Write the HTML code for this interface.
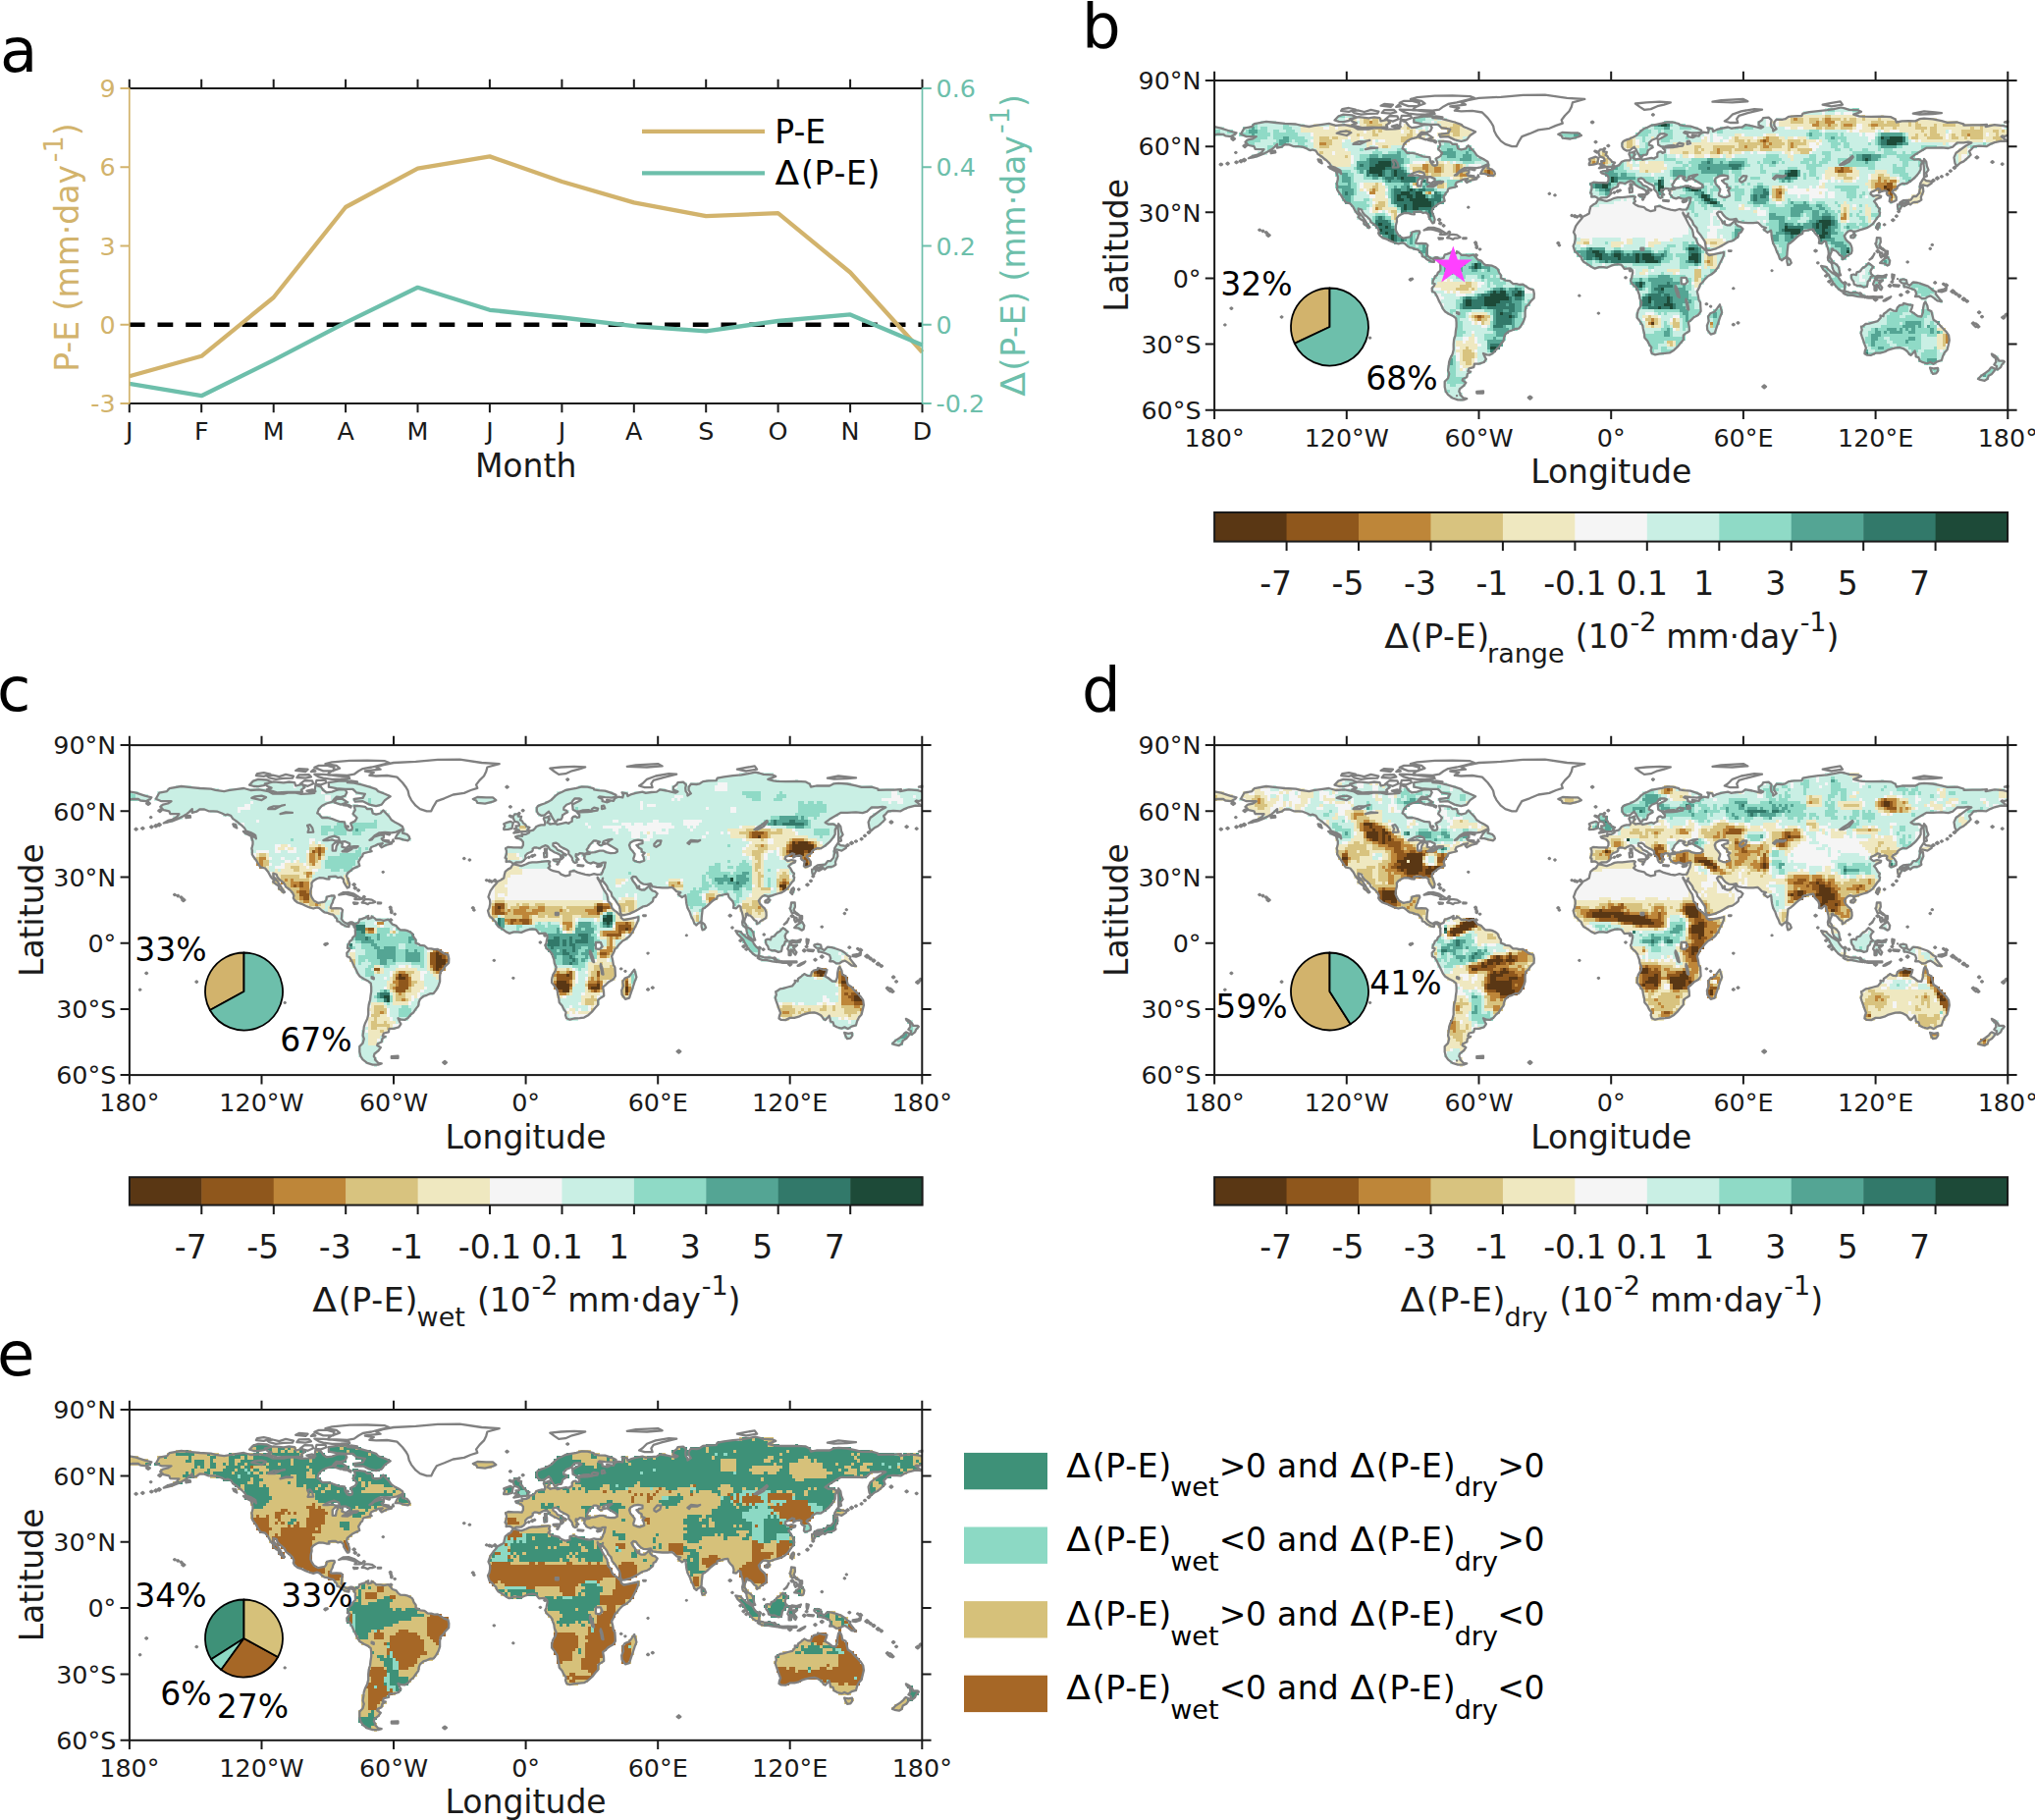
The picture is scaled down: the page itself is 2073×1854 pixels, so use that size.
<!DOCTYPE html>
<html><head><meta charset="utf-8"><title>Figure</title>
<style>html,body{margin:0;padding:0;background:#fff}svg{display:block}text{font-family:'DejaVu Sans','Liberation Sans',sans-serif}</style></head>
<body><svg width="2073" height="1854" viewBox="0 0 2073 1854">
<rect width="2073" height="1854" fill="#fff"/>
<text x="0.0" y="72.5" font-size="62.5" text-anchor="start" fill="#000" >a</text>
<text x="1102.0" y="47.6" font-size="62.5" text-anchor="start" fill="#000" >b</text>
<text x="-3.0" y="724.4" font-size="62.5" text-anchor="start" fill="#000" >c</text>
<text x="1102.0" y="724.4" font-size="62.5" text-anchor="start" fill="#000" >d</text>
<text x="-3.0" y="1401.3" font-size="62.5" text-anchor="start" fill="#000" >e</text>
<line x1="131.8" y1="330.8" x2="939.5" y2="330.8" stroke="#000" stroke-width="4.6" stroke-dasharray="15.8 12.9"/>
<polyline fill="none" stroke="#d2b36c" stroke-width="4.3" stroke-linejoin="round" points="131.8,383.2 205.2,362.8 278.7,303.0 352.1,211.0 425.5,171.7 498.9,159.4 572.4,185.0 645.8,206.4 719.2,220.2 792.6,217.2 866.1,277.5 939.5,358.7"/>
<polyline fill="none" stroke="#6dbfab" stroke-width="4.3" stroke-linejoin="round" points="131.8,390.9 205.2,403.2 278.7,366.9 352.1,328.6 425.5,292.8 498.9,315.8 572.4,323.5 645.8,332.1 719.2,337.3 792.6,327.0 866.1,320.4 939.5,351.6"/>
<path d="M130.8,90.0H940.5M130.8,411.0H940.5" stroke="#1a1a1a" stroke-width="2.0" fill="none"/>
<path d="M131.8,89.0V412.0" stroke="#d2b36c" stroke-width="1.7" fill="none"/>
<path d="M939.5,89.0V412.0" stroke="#6dbfab" stroke-width="1.7" fill="none"/>
<path d="M131.8,90.0v-9.3M131.8,411.0v9.3M205.2,90.0v-9.3M205.2,411.0v9.3M278.7,90.0v-9.3M278.7,411.0v9.3M352.1,90.0v-9.3M352.1,411.0v9.3M425.5,90.0v-9.3M425.5,411.0v9.3M498.9,90.0v-9.3M498.9,411.0v9.3M572.4,90.0v-9.3M572.4,411.0v9.3M645.8,90.0v-9.3M645.8,411.0v9.3M719.2,90.0v-9.3M719.2,411.0v9.3M792.6,90.0v-9.3M792.6,411.0v9.3M866.1,90.0v-9.3M866.1,411.0v9.3M939.5,90.0v-9.3M939.5,411.0v9.3" stroke="#1a1a1a" stroke-width="2.0" fill="none"/>
<path d="M131.8,90.0h-9.3M131.8,170.2h-9.3M131.8,250.5h-9.3M131.8,330.8h-9.3M131.8,411.0h-9.3" stroke="#d2b36c" stroke-width="2.0" fill="none"/>
<path d="M939.5,90.0h9.3M939.5,170.2h9.3M939.5,250.5h9.3M939.5,330.8h9.3M939.5,411.0h9.3" stroke="#6dbfab" stroke-width="2.0" fill="none"/>
<text x="117.7" y="99.2" font-size="25.4" text-anchor="end" fill="#d2b36c" >9</text>
<text x="117.7" y="179.4" font-size="25.4" text-anchor="end" fill="#d2b36c" >6</text>
<text x="117.7" y="259.7" font-size="25.4" text-anchor="end" fill="#d2b36c" >3</text>
<text x="117.7" y="339.9" font-size="25.4" text-anchor="end" fill="#d2b36c" >0</text>
<text x="117.7" y="420.2" font-size="25.4" text-anchor="end" fill="#d2b36c" >-3</text>
<text x="953.6" y="99.2" font-size="25.4" text-anchor="start" fill="#6dbfab" >0.6</text>
<text x="953.6" y="179.4" font-size="25.4" text-anchor="start" fill="#6dbfab" >0.4</text>
<text x="953.6" y="259.7" font-size="25.4" text-anchor="start" fill="#6dbfab" >0.2</text>
<text x="953.6" y="339.9" font-size="25.4" text-anchor="start" fill="#6dbfab" >0</text>
<text x="953.6" y="420.2" font-size="25.4" text-anchor="start" fill="#6dbfab" >-0.2</text>
<text x="131.8" y="448.3" font-size="25.4" text-anchor="middle" fill="#1a1a1a" >J</text>
<text x="205.2" y="448.3" font-size="25.4" text-anchor="middle" fill="#1a1a1a" >F</text>
<text x="278.7" y="448.3" font-size="25.4" text-anchor="middle" fill="#1a1a1a" >M</text>
<text x="352.1" y="448.3" font-size="25.4" text-anchor="middle" fill="#1a1a1a" >A</text>
<text x="425.5" y="448.3" font-size="25.4" text-anchor="middle" fill="#1a1a1a" >M</text>
<text x="498.9" y="448.3" font-size="25.4" text-anchor="middle" fill="#1a1a1a" >J</text>
<text x="572.4" y="448.3" font-size="25.4" text-anchor="middle" fill="#1a1a1a" >J</text>
<text x="645.8" y="448.3" font-size="25.4" text-anchor="middle" fill="#1a1a1a" >A</text>
<text x="719.2" y="448.3" font-size="25.4" text-anchor="middle" fill="#1a1a1a" >S</text>
<text x="792.6" y="448.3" font-size="25.4" text-anchor="middle" fill="#1a1a1a" >O</text>
<text x="866.1" y="448.3" font-size="25.4" text-anchor="middle" fill="#1a1a1a" >N</text>
<text x="939.5" y="448.3" font-size="25.4" text-anchor="middle" fill="#1a1a1a" >D</text>
<text x="535.6" y="485.5" font-size="33.0" text-anchor="middle" fill="#1a1a1a" >Month</text>
<g transform="translate(80.1,251.3) rotate(-90)"><text x="-127.53" y="0.00" font-size="33.0" fill="#d2b36c">P-E (mm·day</text><text x="86.17" y="-16.00" font-size="27.0" fill="#d2b36c">-1</text><text x="113.05" y="0.00" font-size="33.0" fill="#d2b36c">)</text></g>
<g transform="translate(1043.7,250.7) rotate(-90)"><text transform="translate(-153.15,0.00) scale(1.095,1)" font-size="33.0" fill="#6dbfab">Δ</text><text x="-126.70" y="0.00" font-size="33.0" fill="#6dbfab" letter-spacing="0.7">(P-E)</text><text x="-35.80" y="0.00" font-size="33.0" fill="#6dbfab">(mm·day</text><text x="114.75" y="-16.00" font-size="27.0" fill="#6dbfab">-1</text><text x="141.63" y="0.00" font-size="33.0" fill="#6dbfab">)</text></g>
<line x1="654" y1="133.9" x2="779" y2="133.9" stroke="#d2b36c" stroke-width="4.3"/>
<line x1="654" y1="176.3" x2="779" y2="176.3" stroke="#6dbfab" stroke-width="4.3"/>
<text x="789.26" y="145.60" font-size="33.0" fill="#000">P-E</text>
<text transform="translate(789.52,188.00) scale(1.095,1)" font-size="33.0" fill="#000">Δ</text><text x="815.96" y="188.00" font-size="33.0" fill="#000" letter-spacing="0.7">(P-E)</text>
<g transform="translate(1237.1,82) scale(3.15703,3.14812)" shape-rendering="crispEdges" fill="none" stroke-width="1.04">
<path stroke="#5a3714" d="M216,34.5h1M217,35.5h1M141,78.5h1"/>
<path stroke="#8f571c" d="M177,19.5h1M202,28.5h1M88,29.5h1M201,29.5h2M88,30.5h1M217,33.5h2M217,34.5h2M216,35.5h1M218,35.5h1M182,36.5h1M218,36.5h1M218,37.5h1M85,76.5h1"/>
<path stroke="#be8639" d="M187,12.5h1M197,12.5h2M50,13.5h1M194,13.5h1M197,13.5h3M193,14.5h2M198,14.5h1M203,14.5h3M212,14.5h2M243,17.5h1M178,18.5h1M176,19.5h1M178,19.5h1M34,20.5h2M177,20.5h1M179,20.5h1M186,20.5h1M171,21.5h1M177,21.5h2M186,21.5h1M162,22.5h1M162,23.5h1M122,26.5h1M125,26.5h1M67,27.5h2M78,27.5h1M67,28.5h2M71,28.5h2M78,28.5h1M200,28.5h2M203,28.5h2M68,29.5h1M71,29.5h2M78,29.5h2M87,29.5h1M89,29.5h1M200,29.5h1M203,29.5h3M79,30.5h3M89,30.5h1M214,31.5h1M214,32.5h1M216,32.5h1M218,32.5h2M65,33.5h1M213,33.5h4M213,34.5h3M219,34.5h1M51,35.5h1M181,35.5h2M214,35.5h2M50,36.5h2M69,36.5h1M181,36.5h1M217,36.5h1M181,37.5h2M218,38.5h1M52,41.5h1M203,43.5h1M202,44.5h2M159,58.5h1M84,76.5h1M86,76.5h1M85,77.5h1M141,77.5h1M140,78.5h1M160,78.5h1M236,82.5h1M236,83.5h1M236,84.5h1"/>
<path stroke="#d8c37f" d="M197,11.5h2M209,11.5h1M48,12.5h2M51,12.5h2M186,12.5h1M188,12.5h2M192,12.5h3M196,12.5h1M199,12.5h3M203,12.5h1M205,12.5h2M209,12.5h1M214,12.5h1M48,13.5h2M51,13.5h2M56,13.5h1M186,13.5h4M192,13.5h2M195,13.5h2M202,13.5h5M212,13.5h4M217,13.5h4M224,13.5h1M226,13.5h1M49,14.5h5M55,14.5h1M77,14.5h3M195,14.5h3M199,14.5h2M202,14.5h1M206,14.5h1M211,14.5h1M214,14.5h7M224,14.5h1M226,14.5h2M232,14.5h1M235,14.5h4M247,14.5h1M50,15.5h1M52,15.5h2M62,15.5h1M73,15.5h2M76,15.5h3M194,15.5h2M197,15.5h3M202,15.5h4M212,15.5h1M215,15.5h1M219,15.5h1M226,15.5h4M231,15.5h2M244,15.5h1M247,15.5h1M42,16.5h2M51,16.5h1M53,16.5h1M63,16.5h1M75,16.5h4M228,16.5h1M231,16.5h2M241,16.5h7M251,16.5h2M254,16.5h1M46,17.5h1M51,17.5h2M62,17.5h2M73,17.5h3M77,17.5h2M226,17.5h1M229,17.5h1M231,17.5h3M238,17.5h1M241,17.5h2M244,17.5h4M252,17.5h1M34,18.5h3M38,18.5h2M60,18.5h4M168,18.5h1M177,18.5h1M179,18.5h3M225,18.5h2M230,18.5h5M238,18.5h2M242,18.5h1M244,18.5h4M251,18.5h3M34,19.5h4M60,19.5h3M133,19.5h2M168,19.5h3M172,19.5h1M175,19.5h1M179,19.5h4M185,19.5h4M190,19.5h1M252,19.5h2M36,20.5h2M61,20.5h1M133,20.5h2M169,20.5h8M178,20.5h1M180,20.5h4M185,20.5h1M187,20.5h4M34,21.5h3M54,21.5h2M133,21.5h2M155,21.5h2M161,21.5h7M169,21.5h2M172,21.5h3M176,21.5h1M179,21.5h4M185,21.5h1M187,21.5h1M155,22.5h1M157,22.5h1M161,22.5h1M163,22.5h4M168,22.5h6M176,22.5h4M185,22.5h1M188,22.5h5M34,23.5h1M125,23.5h1M151,23.5h2M155,23.5h2M160,23.5h2M163,23.5h1M166,23.5h1M189,23.5h3M42,24.5h1M124,24.5h2M121,25.5h2M126,25.5h1M121,26.5h1M123,26.5h1M126,26.5h1M69,27.5h5M77,27.5h1M79,27.5h1M125,27.5h1M64,28.5h3M69,28.5h2M73,28.5h1M77,28.5h1M79,28.5h1M87,28.5h2M205,28.5h1M64,29.5h4M69,29.5h2M73,29.5h1M77,29.5h1M80,29.5h2M86,29.5h1M139,29.5h1M68,30.5h1M70,30.5h3M78,30.5h1M201,30.5h3M214,30.5h2M79,31.5h1M83,31.5h1M203,31.5h3M215,31.5h3M212,32.5h2M215,32.5h1M217,32.5h1M52,33.5h1M64,33.5h1M72,33.5h2M212,33.5h1M219,33.5h1M51,34.5h2M72,34.5h2M182,34.5h1M212,34.5h1M50,35.5h1M52,35.5h1M180,35.5h1M183,35.5h1M213,35.5h1M219,35.5h1M68,36.5h1M180,36.5h1M183,36.5h1M227,36.5h1M180,37.5h1M219,37.5h1M181,38.5h2M53,39.5h2M52,40.5h3M53,41.5h1M203,41.5h1M57,42.5h2M203,42.5h1M58,43.5h1M202,43.5h1M58,44.5h1M119,52.5h2M158,52.5h1M160,52.5h2M159,56.5h2M159,57.5h2M158,58.5h1M160,58.5h1M159,59.5h2M155,61.5h2M155,62.5h2M155,63.5h2M155,64.5h1M81,65.5h2M79,66.5h4M78,67.5h4M83,67.5h1M83,76.5h1M87,76.5h2M140,76.5h1M84,77.5h1M86,77.5h2M139,77.5h2M142,77.5h1M148,77.5h1M86,78.5h1M142,78.5h1M148,78.5h2M141,79.5h1M148,79.5h2M160,79.5h1M235,80.5h1M235,82.5h1M235,83.5h1M146,84.5h2M235,84.5h1M147,85.5h1M235,85.5h1M81,86.5h1M80,87.5h3M80,88.5h4M80,89.5h4M80,90.5h3M81,91.5h2"/>
<path stroke="#efe8c0" d="M186,11.5h11M199,11.5h8M208,11.5h1M215,11.5h1M43,12.5h3M47,12.5h1M50,12.5h1M53,12.5h1M71,12.5h1M184,12.5h2M190,12.5h2M195,12.5h1M202,12.5h1M204,12.5h1M207,12.5h2M210,12.5h4M215,12.5h5M227,12.5h6M45,13.5h1M47,13.5h1M53,13.5h3M72,13.5h6M180,13.5h1M182,13.5h4M190,13.5h2M200,13.5h2M207,13.5h5M216,13.5h1M221,13.5h3M225,13.5h1M227,13.5h13M32,14.5h2M37,14.5h2M40,14.5h1M42,14.5h4M47,14.5h2M54,14.5h1M61,14.5h2M73,14.5h4M179,14.5h1M182,14.5h11M201,14.5h1M209,14.5h2M221,14.5h3M225,14.5h1M228,14.5h4M233,14.5h2M239,14.5h8M248,14.5h1M250,14.5h2M28,15.5h7M37,15.5h2M40,15.5h6M51,15.5h1M54,15.5h1M58,15.5h1M60,15.5h2M63,15.5h2M75,15.5h1M79,15.5h2M186,15.5h2M190,15.5h4M196,15.5h1M200,15.5h2M206,15.5h1M209,15.5h3M213,15.5h2M216,15.5h3M220,15.5h6M230,15.5h1M233,15.5h11M245,15.5h2M248,15.5h6M28,16.5h14M44,16.5h4M49,16.5h2M52,16.5h1M54,16.5h6M61,16.5h2M64,16.5h1M66,16.5h2M79,16.5h4M205,16.5h1M208,16.5h5M216,16.5h2M221,16.5h7M229,16.5h2M233,16.5h3M238,16.5h3M248,16.5h3M253,16.5h1M255,16.5h1M32,17.5h14M47,17.5h4M53,17.5h9M64,17.5h2M67,17.5h1M72,17.5h1M76,17.5h1M79,17.5h4M168,17.5h2M178,17.5h3M224,17.5h2M227,17.5h2M230,17.5h1M234,17.5h2M237,17.5h1M239,17.5h2M248,17.5h1M250,17.5h2M253,17.5h3M32,18.5h2M37,18.5h1M40,18.5h3M44,18.5h3M48,18.5h12M64,18.5h4M69,18.5h2M76,18.5h4M134,18.5h2M141,18.5h1M158,18.5h1M167,18.5h1M169,18.5h5M175,18.5h2M182,18.5h2M185,18.5h2M188,18.5h3M224,18.5h1M227,18.5h3M235,18.5h1M237,18.5h1M240,18.5h2M243,18.5h1M248,18.5h3M254,18.5h1M32,19.5h2M38,19.5h3M44,19.5h3M49,19.5h2M55,19.5h5M73,19.5h1M132,19.5h1M135,19.5h1M157,19.5h2M166,19.5h2M171,19.5h1M173,19.5h2M183,19.5h2M189,19.5h1M191,19.5h3M195,19.5h1M226,19.5h1M228,19.5h20M249,19.5h3M254,19.5h1M32,20.5h2M38,20.5h3M49,20.5h2M52,20.5h9M132,20.5h1M135,20.5h1M148,20.5h5M154,20.5h15M184,20.5h1M191,20.5h1M194,20.5h1M235,20.5h1M32,21.5h2M37,21.5h4M49,21.5h1M53,21.5h1M56,21.5h1M132,21.5h1M135,21.5h2M149,21.5h6M157,21.5h4M168,21.5h1M175,21.5h1M183,21.5h2M188,21.5h4M242,21.5h1M33,22.5h9M125,22.5h1M133,22.5h1M147,22.5h8M156,22.5h1M158,22.5h3M167,22.5h1M174,22.5h2M180,22.5h5M186,22.5h2M240,22.5h3M33,23.5h1M35,23.5h3M39,23.5h5M124,23.5h1M126,23.5h1M147,23.5h4M153,23.5h2M157,23.5h3M164,23.5h2M167,23.5h3M184,23.5h2M187,23.5h2M239,23.5h4M34,24.5h8M43,24.5h1M126,24.5h1M151,24.5h2M155,24.5h3M160,24.5h3M165,24.5h2M185,24.5h2M240,24.5h1M35,25.5h9M123,25.5h1M127,25.5h1M186,25.5h1M240,25.5h1M37,26.5h7M68,26.5h2M72,26.5h2M75,26.5h1M127,26.5h1M133,26.5h1M137,26.5h2M140,26.5h5M240,26.5h1M38,27.5h6M63,27.5h4M74,27.5h3M80,27.5h1M126,27.5h1M133,27.5h2M137,27.5h8M63,28.5h1M74,28.5h3M80,28.5h1M134,28.5h1M137,28.5h9M198,28.5h2M206,28.5h1M74,29.5h3M137,29.5h2M140,29.5h4M197,29.5h3M206,29.5h2M213,29.5h4M69,30.5h1M73,30.5h5M90,30.5h1M197,30.5h4M204,30.5h4M212,30.5h2M216,30.5h2M77,31.5h2M80,31.5h3M84,31.5h1M197,31.5h2M200,31.5h3M206,31.5h1M212,31.5h2M218,31.5h2M203,32.5h3M211,32.5h1M220,32.5h1M228,32.5h3M48,33.5h4M53,33.5h1M74,33.5h1M196,33.5h1M210,33.5h2M228,33.5h3M48,34.5h3M53,34.5h2M65,34.5h1M74,34.5h1M180,34.5h2M183,34.5h1M195,34.5h2M211,34.5h1M47,35.5h1M49,35.5h1M53,35.5h2M147,35.5h1M184,35.5h1M191,35.5h1M212,35.5h1M227,35.5h2M52,36.5h3M195,36.5h1M228,36.5h1M52,37.5h3M183,37.5h1M213,37.5h2M225,37.5h3M51,38.5h5M180,38.5h1M183,38.5h1M219,38.5h1M224,38.5h4M52,39.5h1M55,39.5h1M203,39.5h1M224,39.5h3M51,40.5h1M55,40.5h1M170,40.5h1M202,40.5h3M210,40.5h1M51,41.5h1M54,41.5h5M169,41.5h2M202,41.5h1M204,41.5h1M206,41.5h1M210,41.5h2M51,42.5h2M56,42.5h1M174,42.5h1M202,42.5h1M204,42.5h1M210,42.5h2M57,43.5h1M204,43.5h1M210,43.5h2M57,44.5h1M204,44.5h1M211,44.5h1M58,45.5h1M202,45.5h2M211,45.5h1M118,51.5h3M133,51.5h2M142,51.5h1M147,51.5h1M158,51.5h6M117,52.5h2M128,52.5h4M133,52.5h2M140,52.5h4M159,52.5h1M162,52.5h3M128,53.5h3M140,53.5h2M160,53.5h4M158,56.5h1M161,56.5h1M158,57.5h1M161,57.5h1M161,58.5h1M158,59.5h1M161,59.5h1M158,60.5h1M160,60.5h2M138,61.5h2M146,61.5h4M137,62.5h2M148,62.5h1M73,64.5h1M75,64.5h1M156,64.5h1M72,65.5h9M83,65.5h2M155,65.5h2M71,66.5h8M83,66.5h2M155,66.5h1M73,67.5h5M82,67.5h1M84,67.5h1M75,68.5h1M77,68.5h1M79,68.5h4M83,75.5h5M82,76.5h1M138,76.5h2M141,76.5h2M83,77.5h1M88,77.5h1M143,77.5h1M149,77.5h1M84,78.5h1M87,78.5h2M139,78.5h1M143,78.5h1M147,78.5h1M139,79.5h2M142,79.5h2M234,79.5h1M149,80.5h1M233,80.5h2M235,81.5h1M83,82.5h1M233,82.5h2M82,83.5h2M233,83.5h2M78,84.5h2M81,84.5h3M148,84.5h1M233,84.5h2M78,85.5h7M146,85.5h1M148,85.5h1M233,85.5h2M79,86.5h2M82,86.5h3M233,86.5h3M78,87.5h2M83,87.5h1M79,88.5h1M84,88.5h1M79,89.5h1M84,89.5h1M79,90.5h1M83,90.5h1M79,91.5h2M83,91.5h1M80,92.5h4M79,93.5h1"/>
<path stroke="#f5f5f5" d="M196,10.5h1M200,10.5h2M203,10.5h3M207,11.5h1M42,12.5h1M46,12.5h1M73,12.5h1M178,12.5h2M183,12.5h1M60,13.5h2M70,13.5h1M178,13.5h2M181,13.5h1M39,14.5h1M41,14.5h1M46,14.5h1M60,14.5h1M178,14.5h1M181,14.5h1M207,14.5h2M252,14.5h2M35,15.5h2M39,15.5h1M59,15.5h1M67,15.5h1M69,15.5h1M81,15.5h1M184,15.5h2M188,15.5h2M207,15.5h2M254,15.5h1M48,16.5h1M60,16.5h1M65,16.5h1M69,16.5h1M83,16.5h1M196,16.5h1M204,16.5h1M206,16.5h2M213,16.5h1M215,16.5h1M218,16.5h3M237,16.5h1M31,17.5h1M158,17.5h2M161,17.5h1M170,17.5h1M177,17.5h1M181,17.5h1M208,17.5h1M210,17.5h3M236,17.5h1M249,17.5h1M43,18.5h1M47,18.5h1M68,18.5h1M157,18.5h1M159,18.5h1M161,18.5h3M166,18.5h1M174,18.5h1M187,18.5h1M211,18.5h2M236,18.5h1M31,19.5h1M41,19.5h1M51,19.5h1M53,19.5h2M136,19.5h1M159,19.5h1M161,19.5h2M164,19.5h2M194,19.5h1M211,19.5h1M225,19.5h1M227,19.5h1M248,19.5h1M255,19.5h1M51,20.5h1M136,20.5h1M153,20.5h1M192,20.5h2M195,20.5h1M237,20.5h2M52,21.5h1M131,21.5h1M146,21.5h3M192,21.5h3M42,22.5h1M124,22.5h1M132,22.5h1M146,22.5h1M193,22.5h1M243,22.5h1M38,23.5h1M146,23.5h1M170,23.5h1M173,23.5h1M175,23.5h3M183,23.5h1M186,23.5h1M192,23.5h1M44,24.5h1M149,24.5h1M153,24.5h2M158,24.5h2M163,24.5h1M167,24.5h1M241,24.5h2M44,25.5h1M241,25.5h1M44,26.5h1M64,26.5h4M74,26.5h1M77,26.5h1M134,26.5h1M136,26.5h1M139,26.5h1M62,27.5h1M82,27.5h4M145,27.5h1M135,28.5h2M63,29.5h1M144,29.5h1M65,30.5h1M141,30.5h1M196,30.5h1M211,30.5h1M76,31.5h1M196,31.5h1M199,31.5h1M207,31.5h1M211,31.5h1M220,31.5h1M147,32.5h1M195,32.5h3M199,32.5h1M201,32.5h1M206,32.5h1M47,33.5h1M54,33.5h1M195,33.5h1M220,33.5h1M47,34.5h1M64,34.5h1M184,34.5h1M187,34.5h1M192,34.5h1M194,34.5h1M220,34.5h1M48,35.5h1M55,35.5h1M146,35.5h1M185,35.5h6M192,35.5h6M211,35.5h1M49,36.5h1M147,36.5h1M185,36.5h10M196,36.5h1M198,36.5h2M50,37.5h2M55,37.5h1M133,37.5h1M179,37.5h1M188,37.5h1M192,37.5h5M198,37.5h2M210,37.5h1M131,38.5h1M133,38.5h2M192,38.5h1M213,38.5h1M51,39.5h1M129,39.5h6M181,39.5h2M124,40.5h13M169,40.5h1M206,40.5h1M50,41.5h1M121,41.5h18M142,41.5h5M171,41.5h2M175,41.5h1M50,42.5h1M53,42.5h1M55,42.5h1M121,42.5h31M161,42.5h2M175,42.5h3M56,43.5h1M59,43.5h1M120,43.5h33M160,43.5h3M175,43.5h3M118,44.5h34M160,44.5h1M162,44.5h1M118,45.5h35M160,45.5h1M163,45.5h1M175,45.5h1M177,45.5h1M204,45.5h1M212,45.5h1M117,46.5h36M160,46.5h1M163,46.5h1M116,47.5h37M159,47.5h5M116,48.5h37M160,48.5h2M116,49.5h37M159,49.5h3M117,50.5h34M159,50.5h3M163,50.5h1M121,51.5h1M131,51.5h2M139,51.5h3M143,51.5h4M164,51.5h1M121,52.5h1M132,52.5h1M139,52.5h1M165,52.5h1M118,53.5h2M131,53.5h1M139,53.5h1M158,53.5h2M125,59.5h1M156,60.5h1M135,61.5h1M141,61.5h1M209,61.5h1M135,62.5h1M139,62.5h1M149,62.5h1M208,62.5h2M208,63.5h1M74,64.5h1M76,64.5h1M83,64.5h1M208,64.5h2M85,65.5h2M154,65.5h1M206,65.5h1M85,66.5h1M71,67.5h2M100,67.5h2M155,67.5h1M74,68.5h1M76,68.5h1M78,68.5h1M83,68.5h1M100,68.5h3M72,69.5h1M78,69.5h3M72,70.5h2M72,71.5h1M73,72.5h1M82,75.5h1M139,75.5h3M143,76.5h1M148,76.5h2M82,77.5h1M138,77.5h1M147,77.5h1M83,78.5h1M85,78.5h1M86,79.5h2M233,79.5h1M148,80.5h1M83,81.5h1M80,83.5h2M84,83.5h1M80,84.5h1M84,84.5h1M85,85.5h1M236,85.5h1M78,86.5h1M84,87.5h1M234,87.5h1M78,88.5h1M78,89.5h1M78,90.5h1M84,90.5h1M84,91.5h1M79,92.5h1M80,93.5h1M79,99.5h1"/>
<path stroke="#c9efe4" d="M197,9.5h1M200,9.5h6M190,10.5h6M197,10.5h3M202,10.5h1M206,10.5h2M42,11.5h3M69,11.5h2M39,12.5h3M68,12.5h3M72,12.5h1M74,12.5h1M177,12.5h1M181,12.5h2M15,13.5h5M41,13.5h1M46,13.5h1M64,13.5h1M67,13.5h3M71,13.5h1M147,13.5h2M175,13.5h3M14,14.5h8M24,14.5h5M34,14.5h3M67,14.5h3M72,14.5h1M148,14.5h2M172,14.5h1M175,14.5h3M180,14.5h1M254,14.5h1M0,15.5h3M10,15.5h1M14,15.5h1M17,15.5h5M25,15.5h3M65,15.5h2M68,15.5h1M138,15.5h1M140,15.5h2M147,15.5h3M154,15.5h2M159,15.5h2M164,15.5h4M169,15.5h1M174,15.5h6M181,15.5h3M255,15.5h1M2,16.5h2M9,16.5h1M17,16.5h2M21,16.5h2M26,16.5h2M68,16.5h1M141,16.5h2M144,16.5h1M148,16.5h9M159,16.5h3M164,16.5h28M195,16.5h1M197,16.5h7M214,16.5h1M236,16.5h1M0,17.5h7M18,17.5h1M27,17.5h4M68,17.5h1M111,17.5h1M140,17.5h4M148,17.5h5M156,17.5h2M160,17.5h1M162,17.5h6M171,17.5h6M182,17.5h9M196,17.5h1M201,17.5h1M203,17.5h5M209,17.5h1M213,17.5h1M223,17.5h1M17,18.5h2M29,18.5h3M80,18.5h2M112,18.5h1M136,18.5h2M139,18.5h2M142,18.5h1M148,18.5h4M153,18.5h4M160,18.5h1M164,18.5h2M184,18.5h1M191,18.5h1M195,18.5h2M204,18.5h7M15,19.5h5M25,19.5h1M30,19.5h1M42,19.5h2M47,19.5h2M52,19.5h1M72,19.5h1M78,19.5h3M137,19.5h1M139,19.5h2M143,19.5h1M147,19.5h10M160,19.5h1M163,19.5h1M196,19.5h2M201,19.5h1M204,19.5h7M212,19.5h1M224,19.5h1M13,20.5h6M24,20.5h3M29,20.5h3M41,20.5h8M73,20.5h1M76,20.5h2M131,20.5h1M137,20.5h2M143,20.5h5M196,20.5h3M202,20.5h1M205,20.5h6M212,20.5h1M224,20.5h11M236,20.5h1M239,20.5h1M243,20.5h5M249,20.5h2M13,21.5h4M19,21.5h1M26,21.5h2M30,21.5h2M41,21.5h8M50,21.5h2M57,21.5h4M137,21.5h2M140,21.5h2M144,21.5h1M195,21.5h4M201,21.5h2M205,21.5h9M222,21.5h6M233,21.5h5M243,21.5h1M16,22.5h1M30,22.5h3M43,22.5h4M48,22.5h4M53,22.5h6M72,22.5h1M136,22.5h1M145,22.5h1M194,22.5h6M202,22.5h3M206,22.5h3M211,22.5h3M215,22.5h1M219,22.5h9M14,23.5h3M44,23.5h7M54,23.5h2M63,23.5h2M134,23.5h3M143,23.5h3M171,23.5h2M174,23.5h1M178,23.5h5M193,23.5h3M199,23.5h7M213,23.5h3M220,23.5h2M223,23.5h2M243,23.5h1M12,24.5h2M45,24.5h2M62,24.5h3M67,24.5h1M143,24.5h2M146,24.5h3M150,24.5h1M164,24.5h1M168,24.5h10M182,24.5h3M187,24.5h5M194,24.5h3M199,24.5h6M217,24.5h3M239,24.5h1M243,24.5h1M45,25.5h2M63,25.5h7M71,25.5h2M86,25.5h1M134,25.5h1M138,25.5h7M149,25.5h5M165,25.5h2M172,25.5h5M183,25.5h3M187,25.5h3M194,25.5h2M199,25.5h2M215,25.5h6M239,25.5h1M242,25.5h1M45,26.5h1M63,26.5h1M76,26.5h1M78,26.5h2M84,26.5h4M128,26.5h1M132,26.5h1M135,26.5h1M145,26.5h4M151,26.5h2M172,26.5h3M176,26.5h1M182,26.5h1M184,26.5h5M192,26.5h1M194,26.5h1M198,26.5h3M202,26.5h1M213,26.5h9M224,26.5h3M239,26.5h1M37,27.5h1M44,27.5h2M61,27.5h1M81,27.5h1M86,27.5h3M127,27.5h2M132,27.5h1M135,27.5h2M146,27.5h5M153,27.5h1M173,27.5h3M177,27.5h2M181,27.5h10M196,27.5h7M213,27.5h6M220,27.5h2M224,27.5h3M229,27.5h1M239,27.5h1M37,28.5h8M62,28.5h1M132,28.5h2M146,28.5h2M152,28.5h1M171,28.5h5M177,28.5h8M188,28.5h3M194,28.5h4M207,28.5h4M213,28.5h6M223,28.5h5M229,28.5h1M39,29.5h1M44,29.5h2M62,29.5h1M133,29.5h4M145,29.5h2M166,29.5h1M170,29.5h6M178,29.5h4M189,29.5h3M194,29.5h3M208,29.5h5M217,29.5h2M223,29.5h5M229,29.5h1M45,30.5h3M136,30.5h5M142,30.5h5M166,30.5h2M170,30.5h10M189,30.5h1M191,30.5h1M194,30.5h2M208,30.5h3M218,30.5h3M224,30.5h3M229,30.5h1M45,31.5h3M68,31.5h1M70,31.5h6M142,31.5h1M145,31.5h3M161,31.5h1M166,31.5h2M169,31.5h4M176,31.5h5M188,31.5h2M191,31.5h3M195,31.5h1M208,31.5h3M221,31.5h1M225,31.5h1M45,32.5h9M73,32.5h2M145,32.5h2M148,32.5h1M152,32.5h1M164,32.5h4M169,32.5h13M187,32.5h8M198,32.5h1M200,32.5h1M202,32.5h1M207,32.5h4M221,32.5h2M46,33.5h1M63,33.5h1M71,33.5h1M132,33.5h1M140,33.5h2M145,33.5h3M158,33.5h2M161,33.5h1M165,33.5h5M171,33.5h1M173,33.5h2M177,33.5h18M197,33.5h13M221,33.5h1M46,34.5h1M55,34.5h1M66,34.5h1M71,34.5h1M129,34.5h1M139,34.5h1M145,34.5h4M159,34.5h2M167,34.5h1M169,34.5h5M179,34.5h1M185,34.5h2M188,34.5h4M193,34.5h1M197,34.5h3M208,34.5h3M227,34.5h2M46,35.5h1M72,35.5h3M121,35.5h2M134,35.5h1M139,35.5h2M148,35.5h3M159,35.5h1M171,35.5h2M179,35.5h1M198,35.5h4M207,35.5h4M46,36.5h3M55,36.5h1M70,36.5h1M121,36.5h3M139,36.5h1M148,36.5h4M159,36.5h1M161,36.5h2M166,36.5h2M171,36.5h2M179,36.5h1M184,36.5h1M197,36.5h1M200,36.5h4M207,36.5h2M210,36.5h2M45,37.5h5M122,37.5h4M134,37.5h2M138,37.5h1M143,37.5h2M148,37.5h2M161,37.5h3M165,37.5h3M170,37.5h3M184,37.5h4M189,37.5h3M197,37.5h1M200,37.5h4M207,37.5h1M209,37.5h1M211,37.5h2M45,38.5h3M50,38.5h1M56,38.5h1M124,38.5h1M128,38.5h3M132,38.5h1M135,38.5h1M154,38.5h1M162,38.5h2M165,38.5h3M170,38.5h3M179,38.5h1M184,38.5h1M186,38.5h6M193,38.5h12M206,38.5h7M49,39.5h2M56,39.5h1M123,39.5h6M135,39.5h1M155,39.5h1M163,39.5h9M179,39.5h2M183,39.5h2M192,39.5h2M197,39.5h3M201,39.5h2M204,39.5h9M218,39.5h1M223,39.5h1M50,40.5h1M56,40.5h2M122,40.5h2M143,40.5h1M155,40.5h2M159,40.5h1M164,40.5h5M171,40.5h3M176,40.5h1M181,40.5h3M198,40.5h3M205,40.5h1M207,40.5h1M209,40.5h1M211,40.5h2M222,40.5h1M49,41.5h1M152,41.5h1M155,41.5h3M159,41.5h4M165,41.5h4M173,41.5h2M176,41.5h3M199,41.5h3M205,41.5h1M207,41.5h3M212,41.5h2M45,42.5h1M48,42.5h2M54,42.5h1M59,42.5h1M152,42.5h2M155,42.5h6M163,42.5h11M178,42.5h1M200,42.5h1M205,42.5h3M209,42.5h1M212,42.5h2M46,43.5h6M55,43.5h1M153,43.5h2M156,43.5h4M164,43.5h11M178,43.5h1M190,43.5h1M201,43.5h1M206,43.5h1M208,43.5h2M46,44.5h2M49,44.5h2M153,44.5h7M161,44.5h1M165,44.5h14M185,44.5h1M189,44.5h3M201,44.5h1M205,44.5h3M210,44.5h1M212,44.5h1M48,45.5h1M57,45.5h1M154,45.5h6M161,45.5h2M164,45.5h1M169,45.5h1M171,45.5h4M176,45.5h1M178,45.5h1M188,45.5h3M201,45.5h1M205,45.5h4M210,45.5h1M58,46.5h1M154,46.5h6M161,46.5h2M164,46.5h1M166,46.5h3M176,46.5h2M202,46.5h2M207,46.5h1M211,46.5h2M153,47.5h1M155,47.5h4M164,47.5h4M177,47.5h2M202,47.5h1M208,47.5h1M153,48.5h1M156,48.5h4M162,48.5h6M177,48.5h2M202,48.5h2M206,48.5h2M153,49.5h2M156,49.5h3M162,49.5h5M203,49.5h1M206,49.5h1M65,50.5h1M116,50.5h1M151,50.5h4M157,50.5h2M162,50.5h1M164,50.5h3M203,50.5h1M205,50.5h2M116,51.5h2M122,51.5h9M135,51.5h4M148,51.5h8M165,51.5h2M214,51.5h1M61,52.5h1M116,52.5h1M122,52.5h4M127,52.5h1M135,52.5h4M144,52.5h7M153,52.5h1M155,52.5h1M213,52.5h2M65,53.5h1M116,53.5h2M120,53.5h8M132,53.5h7M142,53.5h4M149,53.5h2M181,53.5h1M197,53.5h2M205,53.5h1M213,53.5h2M117,54.5h1M126,54.5h3M131,54.5h6M141,54.5h4M147,54.5h4M157,54.5h1M160,54.5h2M181,54.5h2M76,55.5h1M78,55.5h1M142,55.5h1M147,55.5h5M158,55.5h1M164,55.5h1M182,55.5h1M74,56.5h7M148,56.5h1M157,56.5h1M162,56.5h3M70,57.5h6M77,57.5h2M148,57.5h2M157,57.5h1M162,57.5h2M70,58.5h1M72,58.5h6M119,58.5h1M122,58.5h1M147,58.5h3M157,58.5h1M162,58.5h2M185,58.5h1M198,58.5h1M76,59.5h1M122,59.5h3M126,59.5h3M130,59.5h5M144,59.5h6M157,59.5h1M162,59.5h1M185,59.5h1M199,59.5h2M122,60.5h5M133,60.5h7M142,60.5h8M153,60.5h3M157,60.5h1M159,60.5h1M162,60.5h1M199,60.5h3M210,60.5h2M86,61.5h1M136,61.5h2M140,61.5h1M142,61.5h4M150,61.5h5M157,61.5h3M198,61.5h1M200,61.5h2M208,61.5h1M210,61.5h2M136,62.5h1M140,62.5h4M145,62.5h3M150,62.5h5M157,62.5h3M198,62.5h3M207,62.5h1M210,62.5h1M72,63.5h2M75,63.5h3M81,63.5h4M89,63.5h1M91,63.5h2M135,63.5h5M152,63.5h3M157,63.5h1M198,63.5h2M205,63.5h3M209,63.5h3M213,63.5h1M71,64.5h2M77,64.5h6M84,64.5h2M87,64.5h1M92,64.5h1M154,64.5h1M206,64.5h2M210,64.5h1M213,64.5h1M221,64.5h2M71,65.5h1M87,65.5h1M89,65.5h1M94,65.5h2M152,65.5h1M157,65.5h1M207,65.5h4M214,65.5h1M222,65.5h2M227,65.5h1M86,66.5h2M89,66.5h2M93,66.5h4M100,66.5h1M154,66.5h1M156,66.5h1M207,66.5h1M222,66.5h3M70,67.5h1M85,67.5h4M102,67.5h1M139,67.5h1M154,67.5h1M202,67.5h2M226,67.5h1M70,68.5h4M84,68.5h3M137,68.5h3M153,68.5h3M204,68.5h1M232,68.5h1M71,69.5h1M73,69.5h5M81,69.5h3M100,69.5h3M137,69.5h1M154,69.5h2M208,69.5h2M227,69.5h1M231,69.5h2M74,70.5h5M100,70.5h3M228,70.5h2M232,70.5h2M73,71.5h5M100,71.5h1M155,71.5h2M229,71.5h1M234,71.5h1M74,72.5h4M155,72.5h2M229,72.5h1M73,73.5h5M155,73.5h2M162,73.5h2M224,73.5h1M229,73.5h1M74,74.5h2M78,74.5h1M83,74.5h4M137,74.5h5M217,74.5h3M224,74.5h1M75,75.5h1M77,75.5h2M81,75.5h1M88,75.5h1M99,75.5h1M136,75.5h3M142,75.5h1M144,75.5h1M146,75.5h4M156,75.5h1M216,75.5h2M222,75.5h3M231,75.5h1M77,76.5h1M81,76.5h1M89,76.5h1M99,76.5h1M136,76.5h2M144,76.5h4M215,76.5h2M221,76.5h2M230,76.5h2M79,77.5h3M89,77.5h1M137,77.5h1M144,77.5h3M150,77.5h1M159,77.5h2M214,77.5h3M229,77.5h3M80,78.5h3M99,78.5h1M138,78.5h1M144,78.5h1M146,78.5h1M150,78.5h1M159,78.5h1M211,78.5h6M221,78.5h1M229,78.5h2M232,78.5h1M80,79.5h6M88,79.5h1M138,79.5h1M144,79.5h1M147,79.5h1M150,79.5h1M159,79.5h1M210,79.5h5M229,79.5h1M80,80.5h8M138,80.5h6M150,80.5h1M152,80.5h1M159,80.5h3M209,80.5h3M81,81.5h2M84,81.5h6M138,81.5h4M148,81.5h5M159,81.5h3M208,81.5h3M80,82.5h3M84,82.5h3M148,82.5h3M209,82.5h2M228,82.5h2M77,83.5h3M85,83.5h2M209,83.5h1M216,83.5h2M228,83.5h5M77,84.5h1M85,84.5h3M145,84.5h1M209,84.5h1M217,84.5h2M228,84.5h5M77,85.5h1M86,85.5h2M143,85.5h3M210,85.5h1M218,85.5h2M228,85.5h5M77,86.5h1M85,86.5h3M143,86.5h1M146,86.5h3M210,86.5h2M219,86.5h5M228,86.5h4M236,86.5h1M77,87.5h1M85,87.5h3M142,87.5h2M211,87.5h2M223,87.5h2M227,87.5h2M233,87.5h1M235,87.5h1M77,88.5h1M85,88.5h5M141,88.5h4M226,88.5h2M233,88.5h3M85,89.5h2M226,89.5h2M233,89.5h2M251,89.5h2M85,90.5h3M233,90.5h2M252,90.5h1M78,91.5h1M85,91.5h1M232,91.5h1M252,91.5h3M75,92.5h1M78,92.5h1M252,92.5h2M75,93.5h1M78,93.5h1M81,93.5h1M233,93.5h1M252,93.5h1M78,94.5h5M231,94.5h1M78,95.5h4M247,95.5h1M246,96.5h3M74,97.5h1M74,98.5h2M78,98.5h3M74,99.5h5M74,100.5h1M76,100.5h3M75,101.5h5M76,102.5h4M79,103.5h1"/>
<path stroke="#8fdac6" d="M198,9.5h2M206,9.5h2M40,11.5h2M67,11.5h2M64,12.5h4M65,13.5h2M145,13.5h2M12,14.5h2M22,14.5h2M141,14.5h1M147,14.5h1M150,14.5h2M171,14.5h1M9,15.5h1M11,15.5h1M13,15.5h1M15,15.5h2M22,15.5h3M139,15.5h1M142,15.5h3M150,15.5h4M163,15.5h1M168,15.5h1M170,15.5h4M0,16.5h2M4,16.5h2M10,16.5h1M14,16.5h3M19,16.5h2M23,16.5h3M137,16.5h4M143,16.5h1M145,16.5h3M162,16.5h2M192,16.5h3M8,17.5h4M13,17.5h5M19,17.5h8M112,17.5h4M136,17.5h4M145,17.5h3M191,17.5h1M193,17.5h3M197,17.5h4M202,17.5h1M214,17.5h1M222,17.5h1M13,18.5h4M19,18.5h3M24,18.5h5M113,18.5h4M138,18.5h1M144,18.5h4M152,18.5h1M192,18.5h3M197,18.5h2M200,18.5h4M213,18.5h1M223,18.5h1M10,19.5h5M20,19.5h1M24,19.5h1M26,19.5h4M138,19.5h1M144,19.5h3M198,19.5h3M202,19.5h2M213,19.5h1M223,19.5h1M10,20.5h3M19,20.5h2M23,20.5h1M27,20.5h2M74,20.5h2M139,20.5h1M199,20.5h3M203,20.5h2M211,20.5h1M213,20.5h1M248,20.5h1M17,21.5h2M20,21.5h2M28,21.5h2M72,21.5h7M81,21.5h2M139,21.5h1M199,21.5h2M203,21.5h2M214,21.5h1M220,21.5h2M228,21.5h5M244,21.5h2M17,22.5h1M47,22.5h1M52,22.5h1M59,22.5h3M73,22.5h2M77,22.5h5M83,22.5h1M137,22.5h3M200,22.5h2M205,22.5h1M209,22.5h2M214,22.5h1M216,22.5h3M228,22.5h1M51,23.5h3M56,23.5h3M60,23.5h3M78,23.5h3M82,23.5h2M137,23.5h3M196,23.5h3M206,23.5h7M216,23.5h4M222,23.5h1M225,23.5h2M47,24.5h3M53,24.5h1M60,24.5h2M65,24.5h2M73,24.5h2M78,24.5h2M83,24.5h2M134,24.5h2M145,24.5h1M178,24.5h4M192,24.5h2M197,24.5h2M205,24.5h2M215,24.5h2M220,24.5h6M47,25.5h2M61,25.5h2M73,25.5h6M83,25.5h3M135,25.5h3M145,25.5h4M154,25.5h5M161,25.5h4M167,25.5h5M177,25.5h6M190,25.5h4M196,25.5h3M201,25.5h6M214,25.5h1M221,25.5h7M61,26.5h2M80,26.5h4M131,26.5h1M149,26.5h2M153,26.5h4M161,26.5h2M164,26.5h2M171,26.5h1M175,26.5h1M177,26.5h3M181,26.5h1M183,26.5h1M189,26.5h3M193,26.5h1M195,26.5h3M201,26.5h1M204,26.5h6M211,26.5h2M222,26.5h2M227,26.5h3M60,27.5h1M130,27.5h2M151,27.5h2M154,27.5h2M171,27.5h2M176,27.5h1M179,27.5h2M191,27.5h5M203,27.5h10M219,27.5h1M222,27.5h2M227,27.5h1M45,28.5h1M61,28.5h1M130,28.5h2M148,28.5h4M153,28.5h3M170,28.5h1M176,28.5h1M185,28.5h3M191,28.5h3M211,28.5h2M219,28.5h4M40,29.5h4M46,29.5h1M48,29.5h1M125,29.5h1M129,29.5h4M147,29.5h1M152,29.5h5M164,29.5h2M167,29.5h3M176,29.5h2M182,29.5h2M192,29.5h2M219,29.5h4M39,30.5h2M43,30.5h2M48,30.5h1M63,30.5h1M130,30.5h1M133,30.5h3M147,30.5h1M152,30.5h10M164,30.5h2M168,30.5h2M180,30.5h4M190,30.5h1M192,30.5h2M221,30.5h3M40,31.5h1M44,31.5h1M48,31.5h3M53,31.5h1M67,31.5h1M136,31.5h6M143,31.5h1M148,31.5h2M151,31.5h2M155,31.5h6M168,31.5h1M173,31.5h3M181,31.5h1M190,31.5h1M194,31.5h1M222,31.5h3M40,32.5h1M44,32.5h1M54,32.5h1M71,32.5h2M75,32.5h5M81,32.5h2M130,32.5h7M139,32.5h4M155,32.5h7M168,32.5h1M182,32.5h1M184,32.5h1M186,32.5h1M223,32.5h1M39,33.5h4M44,33.5h2M55,33.5h6M67,33.5h1M69,33.5h2M75,33.5h3M128,33.5h2M135,33.5h3M157,33.5h1M160,33.5h1M170,33.5h1M172,33.5h1M175,33.5h2M222,33.5h1M39,34.5h1M44,34.5h2M56,34.5h2M59,34.5h1M63,34.5h1M68,34.5h3M75,34.5h3M128,34.5h1M137,34.5h2M142,34.5h1M150,34.5h1M158,34.5h1M161,34.5h2M165,34.5h2M168,34.5h1M174,34.5h1M177,34.5h2M200,34.5h8M40,35.5h1M45,35.5h1M56,35.5h1M71,35.5h1M123,35.5h1M142,35.5h1M151,35.5h1M157,35.5h2M160,35.5h3M166,35.5h5M173,35.5h1M202,35.5h5M40,36.5h1M45,36.5h1M56,36.5h1M67,36.5h1M73,36.5h2M124,36.5h2M144,36.5h1M152,36.5h3M158,36.5h1M160,36.5h1M168,36.5h3M173,36.5h1M204,36.5h3M209,36.5h1M44,37.5h1M56,37.5h1M69,37.5h1M126,37.5h1M137,37.5h1M147,37.5h1M150,37.5h6M160,37.5h1M168,37.5h2M204,37.5h3M208,37.5h1M41,38.5h1M44,38.5h1M48,38.5h2M73,38.5h1M153,38.5h1M155,38.5h2M164,38.5h1M168,38.5h2M185,38.5h1M205,38.5h1M44,39.5h5M153,39.5h2M156,39.5h2M172,39.5h2M178,39.5h1M185,39.5h1M187,39.5h3M191,39.5h1M194,39.5h3M200,39.5h1M221,39.5h2M44,40.5h6M58,40.5h1M153,40.5h2M157,40.5h2M160,40.5h1M174,40.5h2M177,40.5h4M184,40.5h3M192,40.5h2M196,40.5h2M201,40.5h1M208,40.5h1M213,40.5h1M220,40.5h2M45,41.5h4M59,41.5h1M153,41.5h2M158,41.5h1M163,41.5h2M179,41.5h7M193,41.5h2M197,41.5h2M214,41.5h1M220,41.5h1M46,42.5h1M67,42.5h1M154,42.5h1M179,42.5h7M190,42.5h3M195,42.5h2M198,42.5h2M201,42.5h1M208,42.5h1M214,42.5h1M52,43.5h3M155,43.5h1M181,43.5h5M189,43.5h1M191,43.5h2M195,43.5h1M199,43.5h2M205,43.5h1M207,43.5h1M212,43.5h3M51,44.5h1M55,44.5h2M70,44.5h1M184,44.5h1M186,44.5h3M192,44.5h1M200,44.5h1M208,44.5h2M213,44.5h1M50,45.5h2M70,45.5h1M170,45.5h1M179,45.5h3M184,45.5h4M191,45.5h1M209,45.5h1M48,46.5h2M57,46.5h1M178,46.5h4M187,46.5h1M189,46.5h1M201,46.5h1M204,46.5h3M208,46.5h3M214,46.5h1M49,47.5h1M58,47.5h1M168,47.5h2M179,47.5h3M201,47.5h1M203,47.5h1M205,47.5h3M209,47.5h2M213,47.5h2M179,48.5h3M190,48.5h2M200,48.5h2M204,48.5h2M63,49.5h3M167,49.5h1M180,49.5h1M201,49.5h2M64,50.5h1M167,50.5h1M182,50.5h2M199,50.5h4M62,51.5h1M64,51.5h1M167,51.5h1M182,51.5h2M200,51.5h4M59,52.5h2M62,52.5h1M64,52.5h1M126,52.5h1M151,52.5h2M154,52.5h1M180,52.5h5M197,52.5h2M203,52.5h2M62,53.5h3M66,53.5h1M68,53.5h1M146,53.5h3M151,53.5h2M156,53.5h1M182,53.5h3M199,53.5h1M204,53.5h1M64,54.5h3M116,54.5h1M118,54.5h2M129,54.5h2M137,54.5h4M145,54.5h2M151,54.5h1M159,54.5h1M183,54.5h2M198,54.5h4M205,54.5h1M215,54.5h1M116,55.5h1M126,55.5h2M132,55.5h3M141,55.5h1M143,55.5h2M146,55.5h1M152,55.5h1M157,55.5h1M181,55.5h1M183,55.5h2M198,55.5h1M201,55.5h1M205,55.5h1M67,56.5h1M81,56.5h3M117,56.5h1M146,56.5h2M149,56.5h4M182,56.5h3M198,56.5h1M204,56.5h1M68,57.5h2M76,57.5h1M79,57.5h6M118,57.5h1M145,57.5h3M150,57.5h3M182,57.5h2M198,57.5h1M202,57.5h2M216,57.5h2M69,58.5h1M78,58.5h7M120,58.5h2M123,58.5h1M144,58.5h3M150,58.5h2M199,58.5h1M215,58.5h1M217,58.5h1M73,59.5h3M77,59.5h1M81,59.5h2M86,59.5h1M120,59.5h2M129,59.5h1M135,59.5h9M150,59.5h5M156,59.5h1M210,59.5h2M216,59.5h2M73,60.5h1M76,60.5h1M80,60.5h2M89,60.5h2M132,60.5h1M140,60.5h2M150,60.5h3M196,60.5h2M209,60.5h1M212,60.5h1M73,61.5h1M78,61.5h1M80,61.5h3M85,61.5h1M87,61.5h1M89,61.5h3M160,61.5h2M197,61.5h1M72,62.5h3M77,62.5h15M144,62.5h1M160,62.5h1M201,62.5h1M211,62.5h1M71,63.5h1M74,63.5h1M78,63.5h3M85,63.5h1M87,63.5h2M90,63.5h1M140,63.5h3M147,63.5h5M158,63.5h1M200,63.5h1M212,63.5h1M214,63.5h3M70,64.5h1M86,64.5h1M88,64.5h4M93,64.5h1M134,64.5h3M138,64.5h2M148,64.5h3M152,64.5h2M157,64.5h1M199,64.5h3M211,64.5h1M215,64.5h1M70,65.5h1M88,65.5h1M90,65.5h4M134,65.5h1M139,65.5h2M150,65.5h1M153,65.5h1M200,65.5h3M213,65.5h1M225,65.5h2M88,66.5h1M91,66.5h2M97,66.5h3M135,66.5h1M139,66.5h2M149,66.5h2M152,66.5h2M200,66.5h4M208,66.5h3M213,66.5h2M225,66.5h5M89,67.5h1M94,67.5h1M99,67.5h1M138,67.5h1M140,67.5h1M152,67.5h2M201,67.5h1M213,67.5h1M225,67.5h1M227,67.5h5M87,68.5h1M140,68.5h1M203,68.5h1M206,68.5h1M226,68.5h6M84,69.5h1M138,69.5h1M153,69.5h1M204,69.5h4M226,69.5h1M228,69.5h3M79,70.5h1M137,70.5h1M153,70.5h3M78,71.5h2M99,71.5h1M101,71.5h1M152,71.5h1M154,71.5h1M78,72.5h1M99,72.5h3M151,72.5h4M222,72.5h3M78,73.5h1M99,73.5h2M137,73.5h1M152,73.5h3M220,73.5h4M76,74.5h2M79,74.5h4M87,74.5h3M99,74.5h1M142,74.5h8M153,74.5h4M161,74.5h3M220,74.5h4M228,74.5h3M76,75.5h1M79,75.5h2M89,75.5h1M98,75.5h1M143,75.5h1M145,75.5h1M150,75.5h1M153,75.5h3M160,75.5h1M162,75.5h2M218,75.5h4M225,75.5h1M228,75.5h3M78,76.5h3M98,76.5h1M150,76.5h2M153,76.5h2M159,76.5h2M162,76.5h1M217,76.5h4M223,76.5h7M78,77.5h1M97,77.5h3M151,77.5h1M153,77.5h1M161,77.5h2M217,77.5h12M78,78.5h2M89,78.5h1M97,78.5h2M137,78.5h1M145,78.5h1M151,78.5h2M161,78.5h2M217,78.5h4M222,78.5h1M228,78.5h1M231,78.5h1M78,79.5h2M89,79.5h1M94,79.5h2M97,79.5h2M145,79.5h2M151,79.5h2M161,79.5h1M209,79.5h1M215,79.5h7M226,79.5h1M228,79.5h1M231,79.5h2M78,80.5h2M88,80.5h2M95,80.5h1M97,80.5h1M144,80.5h2M147,80.5h1M151,80.5h1M212,80.5h1M214,80.5h3M220,80.5h1M222,80.5h1M224,80.5h1M226,80.5h5M232,80.5h1M78,81.5h3M90,81.5h1M142,81.5h3M147,81.5h1M211,81.5h2M215,81.5h1M217,81.5h1M222,81.5h2M226,81.5h5M232,81.5h1M234,81.5h1M78,82.5h2M87,82.5h4M139,82.5h6M147,82.5h1M151,82.5h1M211,82.5h1M215,82.5h13M230,82.5h3M87,83.5h3M91,83.5h3M139,83.5h13M210,83.5h2M214,83.5h2M218,83.5h6M226,83.5h2M140,84.5h5M149,84.5h2M210,84.5h2M213,84.5h4M219,84.5h4M224,84.5h4M140,85.5h3M149,85.5h1M211,85.5h1M213,85.5h5M220,85.5h8M141,86.5h2M144,86.5h2M212,86.5h2M216,86.5h3M224,86.5h4M232,86.5h1M88,87.5h1M141,87.5h1M144,87.5h4M213,87.5h4M225,87.5h2M229,87.5h4M211,88.5h2M224,88.5h1M228,88.5h5M76,89.5h2M228,89.5h5M77,90.5h1M227,90.5h3M77,91.5h1M229,91.5h3M76,92.5h2M76,93.5h2M231,93.5h2M250,93.5h2M75,94.5h3M232,94.5h1M249,94.5h2M75,95.5h3M249,95.5h1M75,96.5h6M249,96.5h1M75,97.5h6M76,98.5h2M75,100.5h1"/>
<path stroke="#54a594" d="M142,14.5h1M12,15.5h1M145,15.5h2M11,16.5h3M12,17.5h1M116,17.5h2M192,17.5h1M215,17.5h7M22,18.5h2M199,18.5h1M214,18.5h1M21,19.5h3M214,19.5h1M21,20.5h2M214,20.5h1M222,20.5h2M215,21.5h5M75,22.5h2M82,22.5h1M59,23.5h1M73,23.5h5M81,23.5h1M50,24.5h3M54,24.5h6M75,24.5h3M80,24.5h3M137,24.5h1M207,24.5h2M212,24.5h3M49,25.5h1M57,25.5h4M79,25.5h4M159,25.5h2M207,25.5h2M212,25.5h2M46,26.5h4M59,26.5h2M157,26.5h2M160,26.5h1M163,26.5h1M166,26.5h5M180,26.5h1M210,26.5h1M46,27.5h1M48,27.5h2M59,27.5h1M156,27.5h10M170,27.5h1M46,28.5h4M60,28.5h1M128,28.5h2M156,28.5h3M160,28.5h7M169,28.5h1M47,29.5h1M55,29.5h2M61,29.5h1M126,29.5h3M148,29.5h4M157,29.5h7M184,29.5h1M188,29.5h1M41,30.5h2M50,30.5h1M55,30.5h2M62,30.5h1M126,30.5h4M131,30.5h2M148,30.5h4M162,30.5h2M188,30.5h1M41,31.5h3M51,31.5h2M54,31.5h1M58,31.5h1M65,31.5h2M127,31.5h1M130,31.5h6M144,31.5h1M154,31.5h1M182,31.5h2M186,31.5h2M41,32.5h3M55,32.5h1M57,32.5h3M65,32.5h1M68,32.5h1M127,32.5h1M183,32.5h1M185,32.5h1M224,32.5h1M43,33.5h1M61,33.5h2M68,33.5h1M121,33.5h2M142,33.5h1M40,34.5h4M58,34.5h1M60,34.5h2M67,34.5h1M122,34.5h1M127,34.5h1M151,34.5h1M157,34.5h1M175,34.5h2M41,35.5h4M57,35.5h1M60,35.5h2M65,35.5h1M68,35.5h3M124,35.5h2M152,35.5h1M174,35.5h3M178,35.5h1M41,36.5h1M43,36.5h2M57,36.5h1M72,36.5h1M126,36.5h2M143,36.5h1M155,36.5h2M174,36.5h3M41,37.5h3M57,37.5h1M68,37.5h1M70,37.5h1M73,37.5h1M156,37.5h1M173,37.5h1M175,37.5h1M178,37.5h1M42,38.5h2M57,38.5h1M157,38.5h1M161,38.5h1M173,38.5h1M175,38.5h4M42,39.5h2M57,39.5h1M71,39.5h1M73,39.5h1M158,39.5h1M162,39.5h1M174,39.5h4M186,39.5h1M190,39.5h1M71,40.5h1M161,40.5h3M187,40.5h5M194,40.5h2M186,41.5h7M195,41.5h2M62,42.5h5M68,42.5h1M186,42.5h4M193,42.5h2M197,42.5h1M70,43.5h1M179,43.5h2M186,43.5h3M193,43.5h2M196,43.5h3M52,44.5h1M54,44.5h1M69,44.5h1M179,44.5h5M193,44.5h3M199,44.5h1M56,45.5h1M182,45.5h2M192,45.5h2M200,45.5h1M51,46.5h1M182,46.5h2M185,46.5h2M188,46.5h1M190,46.5h3M200,46.5h1M52,47.5h1M57,47.5h1M182,47.5h2M190,47.5h3M199,47.5h2M204,47.5h1M58,48.5h1M168,48.5h2M182,48.5h1M199,48.5h1M58,49.5h1M168,49.5h1M181,49.5h3M189,49.5h1M199,49.5h2M54,50.5h2M59,50.5h1M63,50.5h1M168,50.5h1M180,50.5h2M184,50.5h2M187,50.5h1M59,51.5h1M61,51.5h1M63,51.5h1M180,51.5h2M184,51.5h3M196,51.5h4M58,52.5h1M63,52.5h1M185,52.5h1M195,52.5h1M199,52.5h4M67,53.5h1M153,53.5h3M200,53.5h4M67,54.5h2M120,54.5h1M122,54.5h4M152,54.5h1M156,54.5h1M202,54.5h2M66,55.5h3M117,55.5h3M128,55.5h1M131,55.5h1M135,55.5h6M145,55.5h1M156,55.5h1M202,55.5h2M68,56.5h1M118,56.5h2M127,56.5h1M132,56.5h1M134,56.5h1M142,56.5h2M145,56.5h1M202,56.5h2M119,57.5h1M122,57.5h1M144,57.5h1M85,58.5h1M124,58.5h2M127,58.5h1M152,58.5h1M216,58.5h1M78,59.5h3M83,59.5h1M155,59.5h1M74,60.5h2M77,60.5h3M82,60.5h1M86,60.5h3M74,61.5h4M79,61.5h1M83,61.5h2M88,61.5h1M75,62.5h2M86,63.5h1M143,63.5h4M137,64.5h1M140,64.5h8M135,65.5h1M141,65.5h5M147,65.5h3M138,66.5h1M141,66.5h2M148,66.5h1M151,66.5h1M90,67.5h2M93,67.5h1M95,67.5h2M98,67.5h1M136,67.5h2M141,67.5h1M145,67.5h7M88,68.5h1M94,68.5h2M141,68.5h2M145,68.5h8M85,69.5h1M95,69.5h1M139,69.5h1M144,69.5h1M147,69.5h6M80,70.5h1M83,70.5h2M96,70.5h1M99,70.5h1M148,70.5h5M96,71.5h3M137,71.5h1M141,71.5h1M148,71.5h4M153,71.5h1M79,72.5h1M94,72.5h1M97,72.5h2M137,72.5h1M141,72.5h1M149,72.5h2M79,73.5h1M86,73.5h2M97,73.5h2M138,73.5h2M149,73.5h3M90,74.5h1M93,74.5h2M97,74.5h2M150,74.5h3M90,75.5h1M96,75.5h2M151,75.5h2M161,75.5h1M90,76.5h1M97,76.5h1M152,76.5h1M161,76.5h1M90,77.5h1M96,77.5h1M152,77.5h1M90,78.5h1M96,78.5h1M223,78.5h5M233,78.5h1M93,79.5h1M96,79.5h1M222,79.5h4M227,79.5h1M230,79.5h1M90,80.5h5M96,80.5h1M146,80.5h1M213,80.5h1M217,80.5h3M221,80.5h1M223,80.5h1M225,80.5h1M231,80.5h1M91,81.5h4M145,81.5h2M213,81.5h2M216,81.5h1M218,81.5h4M224,81.5h2M231,81.5h1M233,81.5h1M91,82.5h3M145,82.5h2M212,82.5h3M90,83.5h1M212,83.5h2M224,83.5h2M88,84.5h5M212,84.5h1M223,84.5h1M88,85.5h1M92,85.5h1M212,85.5h1M88,86.5h1M214,86.5h2M210,87.5h1M76,90.5h1M230,90.5h3M76,91.5h1M248,95.5h1"/>
<path stroke="#32796a" d="M143,14.5h1M146,14.5h1M216,18.5h2M222,18.5h1M215,19.5h2M222,19.5h1M215,20.5h2M220,20.5h2M209,24.5h3M50,25.5h7M209,25.5h1M211,25.5h1M50,26.5h3M57,26.5h2M159,26.5h1M47,27.5h1M50,27.5h2M57,27.5h2M166,27.5h4M55,28.5h5M159,28.5h1M167,28.5h2M49,29.5h1M54,29.5h1M57,29.5h1M59,29.5h2M185,29.5h1M49,30.5h1M51,30.5h2M54,30.5h1M57,30.5h1M59,30.5h3M184,30.5h1M55,31.5h3M59,31.5h1M61,31.5h4M129,31.5h1M184,31.5h2M56,32.5h1M60,32.5h5M67,32.5h1M129,32.5h1M144,32.5h1M123,33.5h2M127,33.5h1M144,33.5h1M62,34.5h1M123,34.5h2M58,35.5h2M62,35.5h1M64,35.5h1M66,35.5h2M126,35.5h2M153,35.5h1M156,35.5h1M177,35.5h1M42,36.5h1M58,36.5h2M63,36.5h2M71,36.5h1M157,36.5h1M177,36.5h2M58,37.5h1M60,37.5h2M64,37.5h1M71,37.5h2M159,37.5h1M174,37.5h1M176,37.5h2M58,38.5h1M61,38.5h2M69,38.5h4M160,38.5h1M174,38.5h1M58,39.5h6M70,39.5h1M72,39.5h1M159,39.5h1M59,40.5h2M62,40.5h2M70,40.5h1M60,41.5h1M62,41.5h2M66,41.5h5M60,42.5h2M69,42.5h1M69,43.5h1M53,44.5h1M196,44.5h3M52,45.5h4M194,45.5h1M199,45.5h1M52,46.5h1M54,46.5h3M184,46.5h1M193,46.5h1M195,46.5h1M199,46.5h1M53,47.5h2M56,47.5h1M185,47.5h5M193,47.5h1M195,47.5h1M198,47.5h1M54,48.5h4M183,48.5h1M189,48.5h1M193,48.5h3M197,48.5h2M53,49.5h2M56,49.5h2M184,49.5h2M194,49.5h2M198,49.5h1M56,50.5h1M58,50.5h1M186,50.5h1M197,50.5h2M56,51.5h1M58,51.5h1M60,51.5h1M195,51.5h1M121,54.5h1M155,54.5h1M204,54.5h1M120,55.5h2M124,55.5h2M129,55.5h2M153,55.5h3M120,56.5h3M125,56.5h2M128,56.5h1M131,56.5h1M133,56.5h1M135,56.5h1M137,56.5h1M141,56.5h1M144,56.5h1M153,56.5h1M156,56.5h1M120,57.5h2M123,57.5h1M125,57.5h5M131,57.5h5M137,57.5h1M142,57.5h2M156,57.5h1M126,58.5h1M128,58.5h8M137,58.5h2M143,58.5h1M153,58.5h2M156,58.5h1M85,59.5h1M83,60.5h1M85,60.5h1M136,65.5h1M138,65.5h1M146,65.5h1M136,66.5h1M143,66.5h5M92,67.5h1M97,67.5h1M142,67.5h2M89,68.5h1M91,68.5h1M96,68.5h2M99,68.5h1M143,68.5h2M86,69.5h3M94,69.5h1M96,69.5h1M99,69.5h1M140,69.5h4M145,69.5h2M81,70.5h2M85,70.5h2M95,70.5h1M97,70.5h2M138,70.5h2M141,70.5h5M147,70.5h1M80,71.5h1M83,71.5h4M92,71.5h4M138,71.5h2M142,71.5h4M147,71.5h1M80,72.5h1M83,72.5h4M91,72.5h3M95,72.5h2M138,72.5h3M142,72.5h3M148,72.5h1M80,73.5h6M88,73.5h9M140,73.5h3M144,73.5h3M148,73.5h1M91,74.5h2M95,74.5h2M91,75.5h1M93,75.5h3M91,76.5h4M96,76.5h1M91,77.5h5M91,78.5h5M90,79.5h3M89,85.5h3M91,86.5h1M89,87.5h2M210,88.5h1"/>
<path stroke="#1d4a38" d="M144,14.5h2M215,18.5h1M218,18.5h4M217,19.5h5M217,20.5h3M210,25.5h1M53,26.5h4M52,27.5h5M50,28.5h5M50,29.5h4M58,29.5h1M186,29.5h2M53,30.5h1M58,30.5h1M185,30.5h3M60,31.5h1M128,31.5h1M128,32.5h1M143,32.5h1M125,33.5h2M143,33.5h1M125,34.5h2M143,34.5h2M152,34.5h2M63,35.5h1M143,35.5h2M154,35.5h2M60,36.5h3M65,36.5h2M59,37.5h1M62,37.5h2M65,37.5h3M157,37.5h2M59,38.5h2M63,38.5h6M158,38.5h2M64,39.5h6M160,39.5h2M61,40.5h1M64,40.5h6M61,41.5h1M64,41.5h2M195,45.5h4M53,46.5h1M194,46.5h1M196,46.5h3M55,47.5h1M184,47.5h1M194,47.5h1M196,47.5h2M53,48.5h1M184,48.5h5M196,48.5h1M55,49.5h1M186,49.5h3M196,49.5h2M57,50.5h1M195,50.5h2M57,51.5h1M153,54.5h2M122,55.5h2M204,55.5h1M123,56.5h2M129,56.5h2M136,56.5h1M138,56.5h3M154,56.5h2M124,57.5h1M130,57.5h1M136,57.5h1M138,57.5h4M153,57.5h3M136,58.5h1M139,58.5h4M155,58.5h1M84,59.5h1M84,60.5h1M137,65.5h1M137,66.5h1M144,67.5h1M90,68.5h1M92,68.5h2M98,68.5h1M89,69.5h5M97,69.5h2M87,70.5h8M140,70.5h1M146,70.5h1M81,71.5h2M87,71.5h5M140,71.5h1M146,71.5h1M81,72.5h2M87,72.5h4M145,72.5h3M143,73.5h1M147,73.5h1M92,75.5h1M95,76.5h1M89,86.5h2"/>
</g><path d="M1264.0,136.6L1267.4,130.6L1275.3,129.0L1277.7,126.1L1289.9,123.9L1300.0,125.0L1308.9,125.9L1320.2,126.5L1324.7,127.7L1333.6,129.0L1338.1,128.1L1347.1,126.8L1353.8,125.9L1360.6,127.9L1369.6,127.2L1378.5,129.0L1383.0,131.5L1394.2,131.5L1398.7,130.6L1405.5,130.1L1412.2,131.7L1421.2,131.3L1425.7,130.8L1426.8,122.5L1432.4,124.5L1434.7,127.9L1438.0,130.1L1443.6,129.5L1448.1,127.9L1450.4,127.2L1457.1,127.2L1458.7,130.1L1457.1,133.5L1452.6,135.1L1448.1,134.6L1445.9,136.8L1443.6,139.8L1438.0,141.3L1433.5,143.6L1430.2,146.9L1428.6,151.4L1430.2,152.1L1433.5,155.9L1439.1,155.9L1443.6,157.0L1450.4,159.7L1456.4,160.1L1457.1,164.8L1459.4,168.2L1461.6,168.9L1463.8,168.2L1464.3,165.9L1462.7,161.5L1467.2,159.2L1469.0,155.9L1465.0,151.8L1467.2,148.0L1466.1,143.8L1471.7,144.0L1477.3,144.7L1479.6,146.9L1484.0,146.9L1485.2,151.4L1488.5,152.5L1493.0,151.4L1495.7,148.3L1498.6,151.4L1502.0,154.8L1504.3,158.1L1507.6,160.4L1512.1,162.6L1515.5,164.8L1516.2,167.1L1513.2,168.4L1508.7,170.4L1504.3,171.1L1497.5,170.9L1491.9,171.1L1487.4,173.8L1484.0,177.1L1481.8,178.7L1484.0,178.3L1486.3,175.6L1493.0,173.3L1496.4,173.8L1496.4,176.0L1494.2,177.1L1495.7,179.4L1499.8,180.5L1503.1,181.2L1506.5,180.1L1505.8,178.3L1504.3,182.3L1498.6,183.6L1494.2,186.1L1492.6,184.3L1495.3,182.1L1490.8,182.7L1487.4,184.3L1483.6,185.9L1482.5,188.3L1484.0,189.9L1480.7,190.8L1476.2,191.9L1475.1,192.8L1474.6,195.1L1472.8,196.6L1471.7,198.9L1470.6,200.6L1471.7,204.7L1468.3,206.2L1465.0,207.8L1462.7,209.6L1459.4,212.3L1458.5,215.2L1460.5,220.1L1461.6,223.5L1460.9,226.8L1459.4,227.3L1457.6,224.6L1455.5,221.2L1455.3,218.6L1452.6,216.3L1449.7,217.0L1447.0,215.4L1443.6,215.6L1440.3,215.9L1440.9,218.3L1438.0,218.1L1434.7,217.2L1430.6,217.0L1427.9,218.1L1424.6,220.1L1422.8,222.4L1423.0,225.5L1421.9,229.8L1421.6,233.6L1423.0,236.9L1425.2,240.3L1427.9,241.8L1429.7,242.7L1433.5,241.8L1436.2,241.4L1437.8,239.2L1438.3,236.5L1442.5,235.3L1445.9,235.3L1446.3,236.9L1444.8,239.8L1444.1,242.5L1443.0,244.3L1442.1,247.7L1443.6,248.1L1448.1,247.9L1452.6,248.1L1454.4,249.9L1453.7,253.3L1453.5,256.6L1453.1,258.9L1454.9,261.1L1457.1,262.9L1459.4,263.8L1462.0,262.2L1464.3,262.2L1467.2,264.0L1466.3,267.4L1465.6,264.9L1462.7,263.6L1460.9,264.9L1460.9,266.9L1458.2,266.5L1455.3,265.1L1453.5,264.2L1451.0,261.8L1448.8,261.1L1448.6,258.9L1446.3,256.2L1444.5,254.4L1441.8,253.9L1438.7,252.6L1435.8,252.1L1434.0,250.8L1430.6,247.9L1428.4,247.2L1424.6,248.3L1420.1,247.0L1416.7,245.6L1412.7,243.6L1408.6,242.3L1405.5,239.8L1404.1,237.6L1404.8,235.3L1403.2,232.0L1399.9,228.6L1396.5,226.2L1395.4,223.5L1393.1,221.2L1390.2,219.0L1388.0,216.3L1387.1,213.6L1383.7,212.5L1383.7,215.2L1386.4,218.6L1388.4,221.2L1390.4,224.2L1392.0,226.8L1393.6,229.3L1395.4,231.5L1394.2,232.2L1392.5,230.4L1389.3,228.0L1389.3,225.3L1386.4,223.5L1383.5,221.2L1384.8,219.7L1381.9,217.0L1380.1,214.1L1378.3,210.7L1375.4,207.4L1370.7,206.2L1367.8,201.8L1366.2,199.1L1363.3,195.1L1362.1,193.0L1362.4,189.5L1361.7,187.2L1362.8,182.7L1362.8,179.8L1361.2,175.4L1365.1,175.4L1366.2,177.1L1365.5,173.8L1363.9,172.7L1360.6,170.9L1356.1,169.3L1354.3,166.4L1351.6,163.7L1348.7,161.5L1346.0,159.2L1342.6,157.0L1340.4,153.6L1337.0,152.5L1334.8,153.2L1331.4,151.4L1326.9,149.6L1322.4,149.2L1317.9,149.2L1313.4,147.4L1308.9,147.1L1305.6,149.6L1301.1,150.7L1301.1,146.9L1297.7,150.3L1295.5,152.1L1291.0,154.8L1286.5,157.0L1280.9,159.2L1276.4,160.4L1271.9,161.2L1276.4,158.8L1280.9,157.7L1285.4,155.2L1287.6,152.1L1284.2,152.1L1278.6,151.8L1277.5,149.2L1271.9,148.0L1269.7,145.8L1268.5,144.7L1271.2,142.4L1276.4,141.3L1279.8,139.1L1275.3,139.1L1269.7,139.1ZM1508.1,176.9L1509.9,173.3L1513.2,169.3L1516.4,168.2L1515.5,171.5L1520.0,172.7L1522.2,174.9L1522.9,177.1L1521.1,179.2L1516.6,178.3L1512.1,176.9ZM1353.2,169.8L1359.5,171.1L1363.9,175.1L1360.6,174.5L1355.0,171.5ZM1503.1,134.2L1497.5,138.0L1494.2,142.4L1488.5,144.0L1481.8,142.4L1475.1,139.1L1467.2,139.5L1466.1,136.8L1475.1,135.7L1477.3,131.7L1468.3,130.1L1465.0,126.8L1457.1,126.8L1448.1,126.1L1440.3,124.5L1440.3,120.1L1450.4,118.5L1459.4,118.5L1466.1,120.5L1473.9,122.3L1481.8,124.5L1488.5,126.8L1490.8,129.0L1497.5,131.7ZM1377.4,127.0L1381.9,125.4L1377.4,123.6L1375.2,121.2L1384.1,119.2L1394.2,120.3L1399.9,119.4L1405.5,120.1L1406.6,123.4L1413.3,121.8L1415.6,125.2L1412.2,127.4L1413.3,129.5L1404.4,129.9L1397.6,129.7L1387.5,130.1L1381.9,128.6ZM1359.5,122.5L1363.3,118.5L1368.4,116.7L1377.4,117.4L1381.9,119.4L1377.4,121.4L1374.0,123.0L1368.4,124.1L1363.9,123.9ZM1445.9,140.2L1452.6,142.4L1459.4,140.2L1453.7,136.4L1448.1,136.8ZM1587.3,136.8L1591.8,134.8L1600.8,135.3L1607.5,135.3L1610.9,138.0L1607.5,139.5L1599.7,141.5L1591.8,140.7L1590.7,138.4ZM1467.4,264.0L1470.6,262.7L1471.7,259.5L1473.9,258.9L1477.3,257.7L1480.7,255.7L1480.2,258.9L1484.0,257.7L1484.0,256.2L1487.4,258.4L1488.5,259.8L1493.0,259.8L1496.4,260.6L1500.9,259.5L1502.5,261.1L1504.3,263.3L1505.4,264.5L1508.7,265.6L1511.0,268.3L1513.2,270.0L1517.7,270.3L1520.0,270.7L1523.3,272.3L1525.6,273.9L1527.2,277.9L1528.9,280.1L1528.9,283.5L1532.3,284.6L1533.4,285.7L1537.9,286.2L1541.3,289.1L1544.7,289.1L1548.0,290.0L1551.4,289.7L1554.8,292.0L1558.1,294.2L1562.0,295.3L1562.8,299.2L1562.6,303.6L1559.3,307.0L1557.0,310.3L1554.3,312.6L1553.6,317.1L1553.6,322.7L1552.1,327.1L1549.6,331.6L1547.1,334.7L1543.5,335.0L1540.2,336.5L1536.8,337.7L1533.4,340.6L1532.1,343.9L1531.6,347.3L1528.9,350.6L1526.7,354.0L1524.0,356.2L1521.1,359.6L1517.7,361.6L1514.4,361.4L1511.0,360.0L1512.8,364.1L1513.9,365.9L1511.7,369.0L1506.5,370.6L1502.0,370.6L1501.3,374.1L1496.4,375.3L1495.3,378.2L1498.2,378.6L1494.8,380.9L1494.2,384.2L1490.1,386.0L1489.7,387.6L1493.3,389.8L1490.8,393.2L1487.0,396.1L1486.3,398.8L1487.6,400.8L1487.4,402.1L1490.8,405.5L1494.2,406.2L1490.8,407.3L1485.2,407.3L1479.6,405.5L1475.1,402.1L1472.8,398.8L1471.7,394.3L1471.7,388.7L1475.1,385.3L1476.2,380.9L1475.1,377.5L1475.7,373.0L1476.2,368.5L1477.3,365.2L1479.6,360.7L1480.7,356.2L1480.7,350.6L1481.1,346.2L1482.5,341.7L1482.9,337.2L1483.6,332.7L1483.6,328.3L1483.2,324.4L1480.7,322.2L1476.2,320.0L1472.2,317.5L1469.9,314.6L1467.9,310.3L1465.6,305.9L1463.8,301.8L1461.6,298.0L1458.9,296.9L1458.7,293.6L1460.9,291.1L1461.6,289.1L1459.4,288.4L1459.8,285.7L1461.2,283.5L1461.6,281.7L1463.8,280.3L1464.7,277.9L1467.2,275.6L1467.4,273.4L1467.2,270.7L1467.4,268.3L1466.3,267.4ZM2045.3,137.5L2041.9,139.1L2039.7,138.4L2038.6,139.1L2043.1,142.4L2044.2,143.8L2038.6,143.6L2031.8,145.1L2027.3,146.9L2023.5,149.2L2016.1,148.7L2010.5,149.4L2007.8,152.5L2006.0,154.1L2007.6,157.7L2004.9,160.4L2000.4,164.4L1997.0,165.9L1993.0,169.3L1991.4,165.9L1990.5,160.4L1992.5,155.9L1997.0,152.5L2002.6,148.5L2008.3,145.4L2004.9,144.7L2000.4,145.4L1993.7,145.4L1989.2,149.6L1984.7,151.0L1977.9,150.3L1969.0,150.7L1962.2,150.7L1956.6,154.1L1951.0,157.4L1946.5,160.8L1949.9,162.6L1954.4,162.1L1958.4,164.4L1956.6,168.2L1956.6,172.7L1954.4,176.5L1951.0,180.5L1946.5,184.3L1942.0,187.2L1938.2,186.8L1935.3,188.3L1933.0,189.9L1932.4,192.1L1928.6,193.9L1927.4,195.5L1929.7,197.7L1931.7,200.6L1931.7,204.0L1929.7,205.1L1926.3,206.2L1924.7,205.1L1925.2,201.8L1925.9,200.2L1922.9,198.9L1921.8,197.3L1922.5,195.1L1920.3,194.2L1916.2,195.1L1914.0,196.4L1915.1,192.8L1912.8,192.1L1909.5,194.4L1906.1,195.7L1905.4,197.7L1908.4,200.0L1912.2,198.9L1916.2,199.8L1915.8,201.1L1911.7,202.7L1909.0,205.1L1911.0,207.4L1912.8,210.7L1914.9,213.0L1914.0,215.2L1915.1,216.5L1914.4,219.7L1912.2,221.9L1909.9,225.3L1907.7,228.2L1904.5,230.6L1901.6,232.2L1897.8,233.3L1894.9,234.2L1891.5,235.3L1889.0,235.8L1888.8,238.0L1887.7,235.6L1884.8,234.9L1882.5,235.8L1880.7,237.6L1878.7,240.3L1879.8,243.2L1882.1,245.9L1884.8,248.1L1886.4,252.1L1886.6,255.5L1885.9,258.0L1882.5,260.0L1880.7,261.1L1879.2,262.7L1876.9,264.2L1876.5,261.1L1874.2,260.0L1872.0,257.3L1870.2,255.5L1867.9,255.0L1867.0,253.3L1865.7,253.7L1865.7,256.6L1864.6,258.9L1863.9,262.2L1865.7,264.5L1866.8,267.4L1869.1,268.3L1871.3,270.0L1873.1,272.7L1873.6,275.6L1874.2,278.3L1875.1,280.3L1873.6,280.6L1871.3,279.0L1868.6,277.0L1867.3,274.5L1866.4,271.2L1866.1,268.9L1864.6,267.1L1862.3,265.1L1861.9,262.2L1862.8,258.9L1862.6,255.5L1861.7,252.1L1860.5,248.8L1860.3,246.5L1858.5,245.4L1855.6,248.1L1852.9,247.7L1853.4,244.3L1852.2,240.9L1850.0,238.7L1848.2,236.5L1847.3,233.6L1844.4,233.8L1841.0,234.7L1838.8,234.9L1836.5,235.8L1836.1,238.0L1833.1,239.4L1829.8,242.1L1826.4,245.4L1824.2,247.2L1821.5,248.8L1821.0,253.3L1820.6,256.6L1820.4,260.4L1818.6,262.7L1816.8,263.6L1815.2,265.3L1812.9,263.3L1811.8,260.0L1809.6,255.5L1808.5,252.1L1806.2,247.7L1805.1,243.2L1804.6,239.8L1804.4,236.5L1804.0,234.7L1800.6,236.9L1796.6,233.8L1799.0,232.0L1795.0,230.9L1792.3,228.2L1790.5,226.6L1786.0,227.1L1780.4,227.1L1774.8,226.6L1770.3,225.9L1768.7,223.0L1764.7,223.7L1761.3,223.5L1757.9,221.5L1755.2,218.6L1753.4,215.9L1750.8,215.6L1749.0,217.4L1750.3,220.1L1752.3,222.6L1753.9,224.8L1755.0,227.5L1756.8,225.5L1757.0,228.4L1759.1,229.3L1762.4,229.3L1765.3,226.6L1767.6,224.8L1768.0,228.0L1770.3,230.2L1773.0,230.9L1775.5,233.1L1773.7,236.5L1771.4,237.6L1770.7,240.9L1768.0,243.2L1764.7,245.4L1760.2,246.5L1755.7,249.2L1751.2,251.7L1746.7,253.7L1742.2,254.8L1738.9,255.0L1737.7,252.1L1737.3,248.8L1736.6,245.9L1734.4,242.7L1732.1,239.2L1729.2,235.8L1728.3,232.0L1725.4,229.1L1723.8,225.3L1720.9,221.5L1719.3,219.7L1719.8,217.4L1718.2,221.2L1716.0,219.2L1714.4,216.5L1714.4,217.4L1716.4,220.8L1717.5,223.0L1719.8,227.5L1721.3,230.2L1724.0,234.2L1724.7,237.6L1725.2,240.9L1727.6,243.2L1729.2,247.7L1731.0,249.9L1733.7,251.7L1736.6,254.4L1738.4,255.9L1738.4,257.7L1741.1,260.0L1744.5,259.3L1749.0,258.4L1753.4,257.5L1756.1,256.8L1755.9,260.0L1754.6,263.3L1752.3,267.8L1750.1,272.3L1746.7,276.8L1743.3,279.5L1740.0,281.2L1736.6,284.6L1734.4,287.5L1732.1,289.7L1730.6,293.6L1728.8,296.9L1729.9,301.4L1730.6,305.9L1732.1,308.1L1732.3,312.6L1732.6,317.1L1729.9,320.9L1725.4,323.3L1723.1,325.6L1719.8,328.3L1720.7,332.7L1720.9,337.2L1716.4,340.1L1714.8,341.7L1714.8,346.2L1711.9,349.5L1709.2,352.9L1705.2,356.7L1700.7,359.4L1696.2,359.8L1690.6,360.3L1686.1,361.4L1682.7,360.0L1681.6,356.9L1682.3,354.0L1679.8,350.6L1678.2,347.3L1675.3,343.9L1674.9,339.4L1673.8,335.0L1673.3,331.6L1670.4,327.1L1667.7,323.8L1667.7,320.4L1668.8,315.9L1671.5,311.5L1672.2,308.1L1670.4,304.1L1669.9,300.3L1668.6,296.9L1668.1,294.7L1665.9,292.0L1662.5,289.1L1661.0,285.7L1662.1,283.5L1662.5,280.8L1663.2,277.9L1663.0,275.6L1661.0,273.4L1656.9,273.6L1654.7,273.9L1653.1,271.6L1651.3,269.6L1647.9,269.2L1644.6,269.6L1641.2,270.7L1636.7,272.7L1633.3,272.1L1628.9,272.1L1624.4,273.6L1621.0,271.8L1617.6,269.4L1615.4,268.0L1613.1,266.7L1611.6,264.5L1610.9,262.2L1608.2,260.0L1607.1,258.4L1604.2,255.9L1603.5,253.7L1602.6,250.6L1603.9,247.7L1604.8,243.2L1604.6,239.8L1603.0,236.5L1604.2,233.1L1605.3,230.2L1608.0,226.4L1610.9,223.0L1612.5,220.8L1616.1,219.0L1618.8,217.4L1619.4,214.1L1620.3,210.7L1623.2,208.3L1625.9,206.9L1628.0,203.3L1629.3,203.1L1634.5,204.5L1636.7,204.9L1641.2,203.3L1644.6,201.8L1647.9,201.1L1652.4,201.1L1656.9,200.6L1661.4,200.2L1664.1,200.0L1665.9,200.6L1664.8,202.9L1665.9,205.1L1664.1,206.9L1665.9,208.5L1669.3,210.1L1674.9,211.2L1677.1,213.4L1681.6,215.2L1686.1,214.1L1686.1,210.7L1690.6,209.8L1694.0,211.4L1697.3,212.5L1701.8,213.6L1706.3,214.3L1710.8,213.0L1713.7,213.6L1718.2,213.4L1719.6,210.7L1720.0,209.2L1721.6,206.2L1722.0,203.3L1722.5,201.5L1719.8,201.5L1717.5,202.4L1714.2,202.7L1710.1,201.1L1707.4,202.4L1704.1,201.3L1702.5,199.5L1700.7,197.3L1701.4,195.5L1700.0,193.9L1702.9,193.0L1706.3,192.6L1707.0,191.5L1711.9,191.0L1716.4,189.5L1720.2,189.5L1723.1,191.0L1727.6,191.9L1732.1,191.7L1734.6,190.4L1734.4,188.3L1731.0,186.3L1727.6,184.3L1724.9,182.7L1724.0,181.8L1726.5,179.4L1729.2,177.8L1725.4,178.3L1720.4,179.8L1719.8,181.4L1722.9,182.3L1720.4,182.7L1718.0,184.1L1716.4,183.6L1714.4,181.8L1716.6,180.5L1713.0,179.4L1710.3,179.4L1707.9,182.1L1705.6,184.3L1705.0,186.3L1703.4,188.3L1704.3,190.4L1706.1,191.2L1704.1,191.7L1701.8,192.4L1700.0,192.8L1699.6,192.1L1696.2,191.9L1694.6,193.5L1692.4,193.0L1692.2,195.1L1693.3,196.6L1695.1,198.4L1692.8,198.6L1693.3,201.1L1691.5,201.8L1689.9,200.9L1688.8,198.9L1688.6,197.1L1687.2,195.1L1685.0,192.8L1685.0,189.9L1682.7,188.3L1679.4,186.8L1676.0,185.0L1674.4,182.7L1672.0,181.4L1669.0,182.1L1669.0,184.3L1671.7,186.1L1673.8,188.8L1677.1,189.9L1679.4,191.7L1682.5,193.5L1681.8,194.2L1679.4,192.8L1678.5,194.6L1679.6,196.2L1678.2,197.5L1676.4,198.4L1677.1,196.4L1676.4,193.9L1673.8,192.4L1670.4,191.0L1668.6,189.9L1665.9,188.3L1664.5,186.1L1663.2,184.8L1661.0,184.1L1658.0,185.4L1655.3,187.0L1652.4,186.3L1650.2,186.1L1648.2,187.2L1648.4,188.8L1647.9,189.9L1646.1,190.8L1643.0,192.1L1640.8,194.4L1640.8,196.2L1641.6,196.8L1639.9,198.4L1639.4,199.3L1636.7,201.1L1631.3,201.3L1629.3,202.7L1628.6,202.9L1626.8,201.3L1624.6,200.2L1621.2,200.6L1621.4,197.3L1620.1,196.6L1621.4,192.8L1621.4,189.5L1620.5,187.0L1623.2,185.7L1628.9,186.1L1633.3,186.1L1637.2,186.3L1638.5,183.9L1638.5,180.5L1636.3,177.8L1631.5,176.5L1630.6,175.1L1634.5,174.2L1637.6,174.7L1637.2,172.2L1638.7,172.9L1641.6,172.7L1644.6,171.1L1645.0,169.5L1646.8,169.1L1649.1,168.4L1650.6,166.6L1652.0,164.8L1654.7,163.7L1656.9,163.3L1660.3,163.3L1661.0,161.9L1660.5,159.2L1659.4,157.0L1659.8,155.7L1662.5,155.4L1665.0,154.3L1664.5,157.0L1665.7,157.4L1663.6,159.7L1663.2,160.8L1665.4,161.9L1665.9,162.6L1668.6,161.9L1671.5,161.7L1673.3,162.8L1677.1,161.9L1682.3,160.8L1685.0,161.7L1686.1,160.6L1688.3,159.7L1688.3,156.3L1689.7,154.8L1691.9,154.3L1693.5,155.9L1695.8,155.2L1696.0,153.0L1694.0,151.0L1697.3,150.3L1704.1,150.1L1709.0,149.4L1705.2,148.0L1699.6,148.3L1696.2,149.2L1692.6,149.4L1689.2,147.6L1689.0,144.9L1688.8,142.4L1691.7,140.9L1696.2,138.6L1698.0,137.3L1695.5,136.2L1691.0,136.4L1689.0,138.6L1687.9,140.7L1682.7,142.7L1680.0,145.4L1679.8,147.6L1683.0,148.7L1683.6,150.3L1681.2,151.6L1678.7,153.2L1678.2,155.9L1677.1,157.7L1673.8,157.9L1673.1,159.5L1670.4,159.5L1669.5,157.7L1667.7,154.8L1666.3,151.6L1665.0,150.7L1664.8,149.6L1662.5,151.4L1660.3,153.2L1656.9,153.6L1653.8,151.8L1652.4,149.2L1652.4,145.8L1653.5,144.0L1656.9,142.4L1660.3,141.3L1663.6,139.8L1667.0,138.0L1669.3,135.7L1671.5,133.5L1674.4,131.3L1678.2,129.7L1681.6,127.9L1687.2,126.8L1692.8,125.7L1698.4,124.3L1704.1,124.5L1710.3,126.1L1710.8,127.2L1715.3,128.1L1722.0,128.6L1728.8,130.8L1733.2,132.8L1733.2,134.6L1728.8,135.5L1722.0,135.1L1716.4,134.2L1715.3,135.1L1719.3,136.8L1719.3,139.1L1724.3,140.2L1726.5,139.3L1723.8,137.7L1730.6,138.6L1732.1,136.2L1735.5,134.6L1740.0,135.3L1740.7,132.4L1739.3,130.1L1744.5,131.3L1745.1,133.9L1749.0,131.9L1753.4,130.8L1760.2,129.5L1763.6,130.8L1769.2,129.9L1774.8,129.5L1778.1,127.2L1784.9,128.3L1789.4,129.5L1793.9,130.6L1796.1,129.2L1791.6,127.4L1791.6,124.5L1795.0,122.3L1796.1,120.1L1801.7,119.6L1804.6,122.3L1804.0,125.7L1804.4,129.0L1806.2,131.3L1806.2,133.5L1809.6,131.3L1807.3,127.9L1807.3,124.5L1809.6,121.6L1815.2,121.8L1818.6,121.2L1821.9,118.9L1827.5,118.3L1835.4,118.0L1836.5,115.6L1843.2,114.2L1852.2,113.1L1861.2,112.2L1867.9,111.1L1875.4,109.5L1879.2,110.4L1883.7,111.8L1892.6,112.2L1896.0,113.8L1888.2,116.7L1893.8,118.3L1897.1,118.7L1906.1,118.9L1917.3,118.7L1926.3,119.2L1930.8,121.6L1931.9,124.5L1937.5,123.4L1944.3,123.2L1951.0,123.4L1955.5,121.2L1960.0,120.7L1969.0,121.4L1977.9,123.2L1983.6,124.8L1993.7,124.5L2000.4,126.3L2000.4,127.7L2009.4,127.4L2017.2,127.4L2024.0,127.0L2022.8,129.0L2031.8,127.2L2040.8,128.1L2045.3,129.2M1237.1,129.2L1243.8,130.6L1252.8,133.5L1259.5,135.3L1258.4,136.6L1253.9,139.1L1248.3,138.4L1246.1,136.8L1240.5,136.6L1237.1,137.5M1751.9,310.3L1754.1,318.2L1752.3,322.7L1750.1,329.4L1747.8,336.1L1746.7,339.4L1742.7,340.6L1739.3,336.1L1738.9,331.6L1740.7,327.1L1740.0,322.7L1742.2,319.3L1746.7,317.5L1749.0,314.4ZM1935.1,207.4L1937.5,206.7L1940.9,206.5L1944.3,206.0L1944.7,207.8L1946.1,208.5L1948.3,206.5L1949.9,206.0L1952.8,205.8L1955.1,205.1L1957.3,203.6L1956.8,201.1L1957.7,198.4L1959.3,195.1L1958.9,191.0L1956.2,191.2L1955.5,193.9L1955.1,196.6L1952.1,200.0L1949.2,200.0L1948.1,201.3L1946.5,203.6L1943.2,203.8L1938.7,204.2L1935.3,206.5ZM1955.5,190.6L1956.2,186.8L1959.3,181.8L1962.2,184.1L1967.4,184.8L1967.8,186.5L1963.4,189.5L1958.9,188.3L1956.6,188.8ZM1933.0,208.5L1936.4,208.0L1937.1,210.1L1935.3,213.4L1933.7,213.4L1933.0,210.7ZM1938.7,207.6L1942.7,206.7L1943.2,208.0L1939.8,210.1L1938.4,208.9ZM1960.0,161.9L1962.2,164.8L1962.9,169.3L1964.5,173.1L1962.2,176.0L1962.9,179.4L1960.0,180.5L1960.0,176.0L1960.0,171.5L1959.5,167.1ZM1914.0,227.1L1914.9,228.6L1912.8,233.8L1911.0,232.0L1912.4,228.4ZM1885.2,240.5L1888.2,238.7L1890.4,239.6L1888.2,242.3L1885.5,242.1ZM1820.4,262.0L1823.5,264.5L1824.8,267.8L1823.0,269.6L1821.2,270.0L1820.4,266.7ZM1911.3,247.7L1911.9,242.1L1915.5,242.3L1915.8,246.5L1914.4,249.9L1916.2,252.1L1919.6,254.4L1918.5,254.8L1915.1,252.6L1912.4,252.6L1911.7,250.6L1910.4,248.1ZM1915.1,267.8L1918.5,264.5L1922.9,261.8L1925.2,265.6L1924.5,269.4L1922.7,270.5L1919.6,268.3ZM1915.1,257.1L1917.3,257.7L1917.8,261.1L1916.2,262.2L1915.1,260.0ZM1920.3,255.5L1922.9,255.9L1922.9,258.9L1921.8,260.6L1920.7,258.9ZM1904.5,264.5L1907.2,262.7L1909.5,258.2L1908.4,260.4L1906.1,263.3ZM1885.9,280.1L1888.2,279.5L1890.8,280.1L1891.5,277.4L1894.9,276.3L1897.1,273.2L1900.5,271.2L1903.4,268.0L1905.4,269.4L1908.4,271.8L1906.6,273.9L1905.4,276.1L1906.1,279.0L1908.4,281.2L1905.7,281.9L1905.0,284.6L1902.7,286.8L1902.3,290.2L1901.6,292.0L1898.7,292.7L1894.9,290.9L1892.2,291.1L1888.8,289.7L1888.2,286.8L1886.4,284.6L1885.9,282.4ZM1855.1,270.9L1860.1,271.8L1863.0,275.0L1866.4,277.9L1869.1,279.5L1872.4,281.7L1874.0,284.6L1875.8,286.8L1879.2,289.7L1879.2,293.6L1878.7,296.5L1875.8,296.5L1872.4,294.0L1869.1,290.2L1866.8,286.8L1864.6,283.5L1863.0,280.1L1860.1,277.2L1857.2,274.5ZM1877.6,298.5L1880.3,296.9L1884.8,298.3L1889.9,298.0L1894.2,298.9L1898.0,300.9L1898.0,302.7L1892.6,302.1L1887.0,300.9L1882.5,300.7L1879.2,299.6ZM1909.5,295.8L1909.5,291.3L1908.1,289.5L1909.9,284.6L1910.6,281.9L1912.8,280.8L1917.3,281.5L1921.8,279.9L1920.7,282.4L1917.3,282.6L1912.8,282.6L1911.0,285.3L1913.5,285.7L1918.0,285.5L1916.2,287.3L1914.0,288.0L1915.8,290.9L1917.3,292.9L1916.2,295.3L1914.6,294.0L1912.8,290.6L1911.5,290.2L1911.5,295.8ZM1935.3,285.3L1938.7,284.4L1942.0,285.3L1942.7,289.1L1945.4,290.9L1948.8,287.5L1953.3,288.0L1957.7,289.3L1963.4,291.3L1966.7,293.6L1969.0,295.8L1972.3,297.6L1971.7,299.2L1974.6,303.0L1977.9,307.0L1973.5,306.3L1970.1,303.6L1966.7,301.4L1963.4,302.5L1961.1,304.1L1957.7,304.1L1954.4,301.8L1951.0,302.1L1952.1,299.2L1951.0,295.8L1946.5,293.8L1942.0,292.4L1939.8,292.4L1939.3,290.2L1941.6,288.6L1937.5,288.4L1935.3,286.4ZM1901.6,302.3L1908.4,302.1L1912.8,302.3L1917.3,302.1L1917.3,303.2L1910.6,303.4L1903.9,303.6L1901.6,303.4ZM1918.5,306.5L1921.8,304.3L1926.3,302.3L1925.2,303.6L1920.7,306.3ZM1927.4,279.5L1929.7,280.1L1929.0,283.5L1928.1,285.3L1927.4,282.4ZM1928.6,290.2L1934.8,290.6L1934.2,291.8L1929.0,291.3ZM1974.6,295.8L1980.2,294.7L1982.9,292.9L1982.4,295.8L1977.9,297.4L1974.6,296.9ZM1896.0,332.7L1897.6,332.3L1900.5,330.0L1903.9,329.6L1908.4,328.3L1912.8,327.1L1915.8,323.8L1915.5,321.5L1918.5,322.2L1918.9,319.7L1921.8,317.7L1925.2,314.8L1928.6,316.6L1931.9,316.8L1932.6,313.7L1934.8,311.2L1938.7,310.3L1939.1,308.8L1944.3,310.3L1948.3,310.8L1947.6,313.7L1946.1,317.1L1949.9,319.3L1953.7,322.2L1957.3,322.7L1958.9,318.2L1959.1,313.7L1960.0,309.2L1961.3,307.4L1963.4,311.5L1964.0,315.5L1967.4,317.1L1968.5,321.5L1969.6,325.8L1973.5,328.3L1976.4,331.6L1979.7,335.0L1982.9,338.3L1985.1,341.7L1985.8,346.6L1984.7,351.8L1983.6,356.2L1980.9,359.1L1979.1,363.0L1977.9,367.0L1973.5,368.3L1969.6,370.8L1966.3,369.0L1963.4,370.3L1958.9,369.2L1955.5,367.4L1954.4,364.1L1951.7,363.2L1951.5,360.7L1950.6,357.4L1948.8,359.6L1946.5,361.8L1944.9,360.7L1942.5,357.4L1938.7,355.1L1935.3,354.0L1930.8,354.4L1926.3,355.6L1922.9,356.7L1919.6,358.5L1915.1,359.6L1910.6,359.6L1906.1,361.8L1901.6,361.6L1899.4,360.3L1899.8,357.4L1900.9,354.7L1899.4,350.6L1898.3,347.3L1896.7,342.8L1895.6,339.4L1896.7,336.1ZM1966.1,374.6L1970.1,375.5L1973.9,374.8L1974.1,378.0L1972.3,380.4L1969.0,380.9L1967.2,378.0ZM2028.9,360.5L2032.5,362.5L2035.2,365.2L2036.3,367.7L2040.8,367.7L2041.9,368.5L2039.2,371.5L2038.1,374.1L2034.7,376.6L2033.4,375.9L2034.1,373.0L2031.4,371.5L2033.4,368.5L2033.0,365.2L2029.6,362.3ZM2028.9,374.1L2032.3,375.7L2031.8,377.5L2029.1,380.9L2025.8,382.7L2024.6,386.0L2021.7,387.8L2017.2,386.9L2015.0,386.0L2018.4,382.7L2022.8,379.7L2026.2,377.1L2027.8,374.8ZM1628.9,171.3L1633.3,170.7L1636.7,170.0L1641.2,169.8L1644.3,168.9L1643.0,168.0L1645.0,165.7L1641.9,164.8L1641.2,163.3L1638.5,161.2L1637.6,159.2L1635.6,158.1L1636.7,154.8L1633.3,154.3L1634.5,152.3L1630.0,152.3L1628.2,154.8L1628.9,157.4L1630.0,159.7L1633.3,160.6L1634.5,162.6L1634.5,163.9L1631.1,164.2L1631.8,165.9L1629.5,167.3L1633.3,168.2L1634.5,168.6L1631.1,169.3ZM1618.8,168.0L1623.2,167.7L1627.1,166.6L1627.7,163.7L1628.4,161.0L1625.5,159.7L1622.1,160.8L1618.8,162.1L1619.9,164.4L1618.8,166.6ZM1450.6,234.5L1454.9,232.0L1460.5,231.8L1466.1,233.6L1471.7,237.1L1474.6,238.3L1471.7,238.9L1466.8,238.9L1468.3,237.1L1465.0,235.3L1460.5,234.2L1457.1,233.3L1453.7,233.8ZM1474.2,242.3L1477.3,238.9L1480.7,238.9L1484.3,239.4L1487.6,241.6L1485.2,242.5L1481.8,242.7L1480.2,243.9L1477.3,242.7ZM1465.4,242.3L1469.9,242.7L1469.5,243.4L1466.1,243.6ZM1490.3,242.3L1493.7,242.5L1493.5,243.2L1490.3,243.2ZM1669.3,198.4L1676.2,198.0L1675.1,201.3L1669.3,199.3ZM1659.6,191.7L1662.8,191.5L1662.8,195.7L1660.1,196.2ZM1660.5,187.4L1662.5,187.4L1662.3,190.6L1660.7,190.1ZM1694.2,204.0L1700.0,204.5L1699.6,205.1L1694.2,204.7ZM1713.7,205.1L1718.7,203.8L1717.5,205.4L1714.4,206.0ZM1504.3,398.8L1511.0,398.3L1511.0,400.6L1504.3,400.6ZM1756.8,123.4L1760.2,121.2L1764.7,116.7L1773.7,113.3L1787.1,111.1L1795.0,111.6L1780.4,115.1L1771.4,117.8L1769.2,121.2L1770.3,125.0L1762.4,125.0ZM1411.1,121.6L1418.9,123.6L1424.6,121.2L1423.4,118.3L1415.6,118.0ZM1426.8,121.8L1432.4,122.3L1438.0,120.1L1436.9,117.8L1427.9,117.8ZM1477.3,108.4L1486.3,110.0L1481.8,112.7L1488.5,113.3L1499.8,112.9L1509.9,114.5L1515.5,120.1L1518.8,124.5L1521.1,128.3L1522.2,133.5L1524.5,138.0L1528.9,143.6L1533.4,146.9L1540.2,149.2L1544.7,149.2L1546.9,144.7L1550.3,139.1L1558.1,136.2L1567.1,132.4L1578.3,130.8L1585.1,127.9L1591.8,125.7L1590.7,122.3L1594.1,117.8L1598.5,113.3L1600.8,108.9L1601.9,104.4L1614.3,101.0L1596.3,99.9L1573.8,96.6L1551.4,96.8L1528.9,98.8L1506.5,99.9L1495.3,102.1L1488.5,104.4L1493.0,106.6ZM1439.1,112.4L1448.1,112.2L1459.4,112.7L1466.1,111.6L1470.6,108.4L1475.1,106.0L1484.0,104.4L1493.0,102.1L1502.0,99.9L1497.5,98.1L1479.6,97.4L1461.6,97.7L1443.6,99.2L1436.9,101.0L1448.1,102.8L1451.5,105.5L1443.6,108.2L1440.3,110.4ZM1434.7,115.6L1443.6,116.7L1452.6,116.5L1461.6,116.0L1460.5,114.0L1450.4,113.3L1441.4,112.2L1434.7,111.8L1425.7,111.6L1430.2,114.2ZM1379.7,115.1L1386.4,116.7L1394.2,115.8L1403.2,115.6L1404.4,113.6L1396.5,111.8L1389.8,114.0L1383.0,112.4L1377.4,113.3ZM1407.7,114.9L1416.7,115.6L1422.3,114.2L1420.1,112.0L1410.0,112.2ZM1425.7,104.8L1434.7,108.2L1444.8,108.2L1445.9,104.8L1438.0,102.6L1430.2,102.8ZM1665.9,105.5L1677.1,104.4L1690.6,103.7L1701.8,104.4L1695.1,106.6L1688.3,108.2L1681.6,111.1L1674.9,111.8L1670.4,108.9ZM1856.7,106.6L1865.7,104.8L1874.7,103.3L1876.9,106.6L1865.7,108.4ZM1948.8,115.6L1960.0,113.3L1971.2,114.5L1977.9,115.1L1969.0,116.0L1955.5,116.5ZM2041.9,124.5L2045.3,123.4L2045.3,124.8ZM1744.5,103.7L1764.7,104.4L1780.4,103.3L1775.9,101.0L1753.4,102.1ZM1760.9,255.3L1763.6,255.3L1763.3,255.9L1761.1,255.9ZM1366.2,112.9L1374.0,113.8L1380.8,111.6L1374.0,110.0L1367.3,111.1ZM1417.8,128.6L1423.4,127.2L1426.8,129.0L1422.3,129.9ZM1406.6,107.7L1416.7,108.9L1418.9,106.6L1410.0,106.0ZM1422.3,108.9L1426.8,108.4L1424.6,106.8ZM1459.4,120.1L1466.1,120.5L1469.5,119.4L1462.7,118.3ZM1454.9,142.9L1458.2,143.6L1461.6,143.1L1457.1,142.4ZM1460.5,144.2L1462.7,145.4L1463.2,144.0ZM1457.1,164.6L1460.5,165.3L1459.8,164.4ZM1496.4,171.8L1502.0,173.3L1502.5,172.9L1497.5,171.5ZM1496.8,178.7L1501.6,179.4L1500.9,180.3L1497.5,179.6ZM1342.6,162.4L1345.5,162.8L1346.7,166.4L1343.7,164.8ZM1294.3,154.1L1298.8,153.6L1299.3,155.4L1294.8,156.1ZM1290.5,239.6L1292.1,238.3L1293.7,239.6L1292.1,240.9ZM1289.0,236.9L1289.9,236.2L1290.8,236.9L1289.9,237.6ZM1285.6,235.3L1286.5,234.6L1287.4,235.3L1286.5,236.1ZM1282.3,234.2L1283.1,233.6L1283.9,234.2L1283.1,234.9ZM1435.8,284.8L1436.9,283.9L1438.0,284.8L1436.9,285.7ZM1437.8,284.2L1438.5,283.6L1439.1,284.2L1438.5,284.7ZM1603.0,220.1L1604.2,219.2L1605.3,220.1L1604.2,221.0ZM1605.5,220.8L1606.4,220.1L1607.3,220.8L1606.4,221.5ZM1608.6,219.7L1609.8,218.8L1610.9,219.7L1609.8,220.6ZM1600.6,219.5L1601.2,218.9L1601.9,219.5L1601.2,220.0ZM1577.7,197.3L1578.3,196.8L1579.0,197.3L1578.3,197.8ZM1583.3,198.9L1584.0,198.3L1584.6,198.9L1584.0,199.4ZM1586.4,247.7L1587.3,246.9L1588.2,247.7L1587.3,248.4ZM1587.8,249.9L1588.4,249.4L1589.1,249.9L1588.4,250.4ZM1769.6,328.9L1770.5,328.2L1771.4,328.9L1770.5,329.6ZM1764.9,330.7L1765.8,330.0L1766.7,330.7L1765.8,331.4ZM1795.4,393.8L1797.2,392.4L1799.0,393.8L1797.2,395.3ZM1556.8,405.0L1558.6,403.6L1560.4,405.0L1558.6,406.5ZM2039.2,323.3L2040.8,322.1L2042.4,323.3L2040.8,324.6ZM2042.6,320.6L2043.7,319.7L2044.9,320.6L2043.7,321.5ZM2010.5,331.2L2012.7,329.4L2015.0,331.2L2012.7,333.0ZM2008.9,329.4L2010.1,328.5L2011.2,329.4L2010.1,330.3ZM2014.1,332.7L2015.2,331.8L2016.3,332.7L2015.2,333.6ZM1998.8,304.7L2000.4,303.5L2002.0,304.7L2000.4,306.0ZM1994.6,301.4L1995.9,300.3L1997.3,301.4L1995.9,302.5ZM1991.4,299.2L1992.5,298.3L1993.7,299.2L1992.5,300.0ZM2002.6,306.8L2003.8,305.9L2004.9,306.8L2003.8,307.7ZM1987.4,296.9L1989.2,295.5L1991.0,296.9L1989.2,298.3ZM2015.0,318.2L2016.1,317.3L2017.2,318.2L2016.1,319.1ZM2018.1,322.7L2019.0,321.9L2019.9,322.7L2019.0,323.4ZM1253.5,314.1L1254.4,313.4L1255.3,314.1L1254.4,314.9ZM1242.7,167.5L1243.8,166.6L1245.0,167.5L1243.8,168.4ZM1249.4,166.6L1250.6,165.7L1251.7,166.6L1250.6,167.5ZM1258.4,165.3L1259.5,164.4L1260.7,165.3L1259.5,166.2ZM1262.7,164.2L1264.0,163.1L1265.4,164.2L1264.0,165.2ZM1265.8,163.0L1267.4,161.8L1269.0,163.0L1267.4,164.3ZM2028.5,165.1L2029.6,164.2L2030.7,165.1L2029.6,165.9ZM2038.8,167.1L2039.7,166.4L2040.6,167.1L2039.7,167.8ZM1968.3,183.9L1969.4,183.0L1970.5,183.9L1969.4,184.8ZM1972.1,181.6L1973.5,180.5L1974.8,181.6L1973.5,182.7ZM1977.1,179.8L1977.9,179.1L1978.8,179.8L1977.9,180.5ZM1982.7,177.6L1983.6,176.9L1984.5,177.6L1983.6,178.3ZM1986.0,174.2L1986.9,173.5L1987.8,174.2L1986.9,174.9ZM1989.8,170.9L1991.0,170.0L1992.1,170.9L1991.0,171.8ZM1918.9,228.9L1919.6,228.3L1920.3,228.9L1919.6,229.4ZM1927.2,224.2L1928.3,223.3L1929.5,224.2L1928.3,225.1ZM1931.0,220.1L1931.9,219.4L1932.8,220.1L1931.9,220.8ZM1933.3,215.4L1934.2,214.7L1935.1,215.4L1934.2,216.1ZM1503.6,251.0L1504.3,250.5L1504.9,251.0L1504.3,251.6ZM1502.2,247.2L1503.1,246.5L1504.0,247.2L1503.1,247.9ZM1502.9,249.0L1503.6,248.5L1504.3,249.0L1503.6,249.5ZM1503.6,252.4L1504.3,251.8L1504.9,252.4L1504.3,252.9ZM1502.5,260.0L1503.6,259.1L1504.7,260.0L1503.6,260.9ZM1506.9,253.9L1507.6,253.4L1508.3,253.9L1507.6,254.5ZM1466.1,227.5L1467.2,226.6L1468.3,227.5L1467.2,228.4ZM1469.7,229.8L1470.6,229.0L1471.5,229.8L1470.6,230.5ZM1465.0,223.9L1466.1,223.0L1467.2,223.9L1466.1,224.8ZM1475.3,236.5L1476.2,235.8L1477.1,236.5L1476.2,237.2ZM1495.2,211.2L1495.7,210.7L1496.3,211.2L1495.7,211.6ZM1646.8,194.8L1647.9,193.9L1649.1,194.8L1647.9,195.7ZM1649.5,193.9L1650.2,193.4L1650.9,193.9L1650.2,194.5ZM1643.7,196.2L1644.3,195.6L1645.0,196.2L1644.3,196.7ZM1673.0,203.1L1673.5,202.7L1674.1,203.1L1673.5,203.6ZM1624.6,144.7L1625.5,144.0L1626.4,144.7L1625.5,145.4ZM1637.4,148.5L1638.3,147.8L1639.2,148.5L1638.3,149.2ZM1633.8,151.4L1634.5,150.9L1635.1,151.4L1634.5,151.9ZM1625.7,154.8L1626.6,154.0L1627.5,154.8L1626.6,155.5ZM1624.4,154.1L1625.0,153.5L1625.7,154.1L1625.0,154.6ZM1804.6,275.6L1805.1,275.3L1805.5,275.6L1805.1,276.0ZM1848.4,255.5L1849.5,254.6L1850.7,255.5L1849.5,256.4ZM1851.1,267.8L1851.8,267.3L1852.5,267.8L1851.8,268.3ZM1765.2,293.8L1765.8,293.3L1766.4,293.8L1765.8,294.2ZM1737.7,309.7L1738.4,309.1L1739.1,309.7L1738.4,310.2ZM1742.1,312.1L1742.7,311.7L1743.2,312.1L1742.7,312.6ZM1627.8,319.1L1628.4,318.6L1629.0,319.1L1628.4,319.5ZM1608.3,301.2L1608.9,300.7L1609.4,301.2L1608.9,301.6ZM1655.3,282.8L1656.0,282.3L1656.7,282.8L1656.0,283.3ZM1659.9,275.6L1660.7,275.0L1661.5,275.6L1660.7,276.3ZM1942.5,266.9L1943.2,266.4L1943.8,266.9L1943.2,267.5ZM1965.6,253.3L1966.3,252.7L1966.9,253.3L1966.3,253.8ZM1967.7,249.5L1968.3,249.0L1968.9,249.5L1968.3,249.9ZM1304.8,322.9L1305.6,322.3L1306.4,322.9L1305.6,323.5ZM1247.2,330.9L1247.9,330.4L1248.5,330.9L1247.9,331.5ZM1395.0,344.1L1395.6,343.7L1396.2,344.1L1395.6,344.6ZM1484.0,403.2L1484.0,403.2L1484.1,403.2L1484.0,403.2ZM1683.0,116.9L1683.9,116.2L1684.8,116.9L1683.9,117.6ZM1621.0,124.5L1622.1,123.6L1623.2,124.5L1622.1,125.4ZM1254.4,141.3L1256.2,139.9L1258.0,141.3L1256.2,142.8ZM1266.5,148.7L1268.1,147.5L1269.7,148.7L1268.1,150.0ZM1258.2,155.4L1258.9,154.9L1259.5,155.4L1258.9,156.0ZM2012.5,160.4L2013.9,159.3L2015.2,160.4L2013.9,161.4ZM1929.7,290.9L1929.7,290.9L1929.7,290.9L1929.7,290.9ZM1923.8,291.1L1925.2,290.0L1926.5,291.1L1925.2,292.2ZM1933.0,284.2L1933.0,284.2L1933.1,284.2L1933.0,284.2ZM1926.5,287.1L1927.4,286.3L1928.3,287.1L1927.4,287.8ZM1941.8,297.4L1943.2,296.3L1944.5,297.4L1943.2,298.4ZM1935.3,300.5L1936.4,299.6L1937.5,300.5L1936.4,301.4ZM1922.9,301.8L1922.9,301.8L1922.9,301.8L1922.9,301.8ZM1909.0,305.2L1910.6,303.9L1912.2,305.2L1910.6,306.4ZM1905.0,302.7L1905.0,302.7L1905.0,302.7L1905.0,302.7ZM1898.7,302.3L1899.8,301.4L1900.9,302.3L1899.8,303.2ZM1901.4,302.7L1902.3,302.0L1903.2,302.7L1902.3,303.4ZM1859.2,281.0L1860.1,280.3L1861.0,281.0L1860.1,281.7ZM1862.3,286.8L1863.5,285.9L1864.6,286.8L1863.5,287.7ZM1865.3,289.7L1866.1,289.0L1867.0,289.7L1866.1,290.5ZM1878.0,288.4L1879.4,287.3L1880.7,288.4L1879.4,289.5ZM1882.5,290.0L1883.4,289.3L1884.3,290.0L1883.4,290.7ZM1883.4,274.7L1884.1,274.2L1884.8,274.7L1884.1,275.3ZM1893.8,299.2L1894.9,298.3L1896.0,299.2L1894.9,300.0ZM1980.9,290.6L1982.4,289.4L1984.0,290.6L1982.4,291.9ZM1970.3,288.0L1971.2,287.2L1972.1,288.0L1971.2,288.7ZM1979.1,289.3L1979.7,288.8L1980.4,289.3L1979.7,289.8ZM1988.5,295.8L1988.5,295.8L1988.5,295.8L1988.5,295.8ZM1918.2,260.4L1919.4,259.5L1920.5,260.4L1919.4,261.3ZM1920.3,258.9L1921.4,258.0L1922.5,258.9L1921.4,259.8ZM1911.5,255.9L1912.8,254.9L1914.2,255.9L1912.8,257.0ZM1906.6,261.5L1906.6,261.5L1906.6,261.5L1906.6,261.5ZM1751.2,179.4L1755.7,178.5L1760.2,179.4L1760.2,182.1L1756.4,182.7L1755.7,184.1L1754.1,183.9L1756.8,186.8L1759.3,187.9L1759.5,190.6L1762.4,191.7L1760.2,193.9L1761.3,195.7L1762.0,199.5L1757.9,201.1L1754.6,200.6L1751.2,199.3L1751.0,197.3L1751.9,195.1L1752.3,192.8L1750.1,189.9L1747.8,187.2L1746.7,183.9L1747.8,181.4ZM1434.7,178.9L1440.3,176.0L1445.9,174.5L1450.4,176.2L1451.3,179.2L1447.0,179.4L1443.6,178.3L1439.1,178.9ZM1444.1,189.5L1447.5,189.5L1448.1,185.0L1450.4,180.9L1447.0,180.9L1444.1,183.9ZM1451.5,180.5L1457.1,180.1L1461.6,182.1L1461.6,183.9L1457.8,186.8L1453.7,185.4L1454.2,182.3ZM1454.0,190.1L1459.4,190.4L1463.8,187.9L1460.5,187.7L1456.0,189.0ZM1462.0,186.5L1468.3,186.5L1470.1,185.0L1466.1,185.0L1462.7,185.4ZM1418.9,170.7L1424.6,170.4L1423.4,165.9L1421.2,163.0L1418.5,163.7L1420.1,167.1ZM1378.5,146.9L1385.3,146.9L1392.0,143.6L1395.4,142.9L1389.8,144.2L1384.1,144.2L1379.7,145.8ZM1361.7,135.7L1371.8,138.0L1376.3,135.1L1371.8,133.5L1365.1,134.2ZM1390.9,152.1L1396.5,151.0L1403.2,150.7L1396.5,150.3ZM1712.6,282.8L1717.5,282.8L1719.3,286.8L1716.4,289.7L1712.6,289.1ZM1706.8,291.1L1708.1,293.6L1709.7,298.0L1710.8,303.0L1709.2,302.1L1707.4,296.9L1706.5,293.6ZM1717.5,304.7L1718.9,308.1L1719.8,312.6L1720.2,315.5L1718.9,314.8L1718.2,310.3L1717.3,307.0ZM1874.2,168.0L1878.0,167.7L1883.7,164.8L1887.7,159.9L1887.0,158.8L1882.5,162.6L1878.0,165.3ZM1806.2,181.6L1809.6,178.7L1816.3,179.4L1819.0,178.7L1816.3,180.3L1809.6,180.1L1807.8,182.7ZM1772.1,182.7L1775.5,179.2L1779.3,179.4L1778.1,183.2L1774.1,185.7L1772.1,184.5ZM1709.0,149.2L1714.2,148.5L1714.8,146.5L1710.8,145.6L1708.5,146.9ZM1718.7,146.9L1722.0,146.2L1720.9,143.6L1718.7,144.0ZM1671.5,254.8L1674.4,254.8L1674.4,252.6L1671.5,252.6ZM1484.0,318.0L1486.3,318.6L1486.3,320.2L1484.0,319.3Z" fill="none" stroke="#808080" stroke-width="2.3" stroke-linejoin="round"/><polygon points="1480.3,250.4 1484.9,264.5 1499.8,264.6 1487.8,273.3 1492.3,287.5 1480.3,278.8 1468.3,287.5 1472.8,273.3 1460.8,264.6 1475.7,264.5" fill="#ff40ff"/>
<rect x="1237.1" y="82" width="808.2" height="335.8" fill="none" stroke="#1a1a1a" stroke-width="2.0"/>
<path d="M1237.1,82v-9.3M1237.1,417.8v9.3M1371.8,82v-9.3M1371.8,417.8v9.3M1506.5,82v-9.3M1506.5,417.8v9.3M1641.2,82v-9.3M1641.2,417.8v9.3M1775.9,82v-9.3M1775.9,417.8v9.3M1910.6,82v-9.3M1910.6,417.8v9.3M2045.3,82v-9.3M2045.3,417.8v9.3M1237.1,82.0h-9.3M2045.3,82.0h9.3M1237.1,149.2h-9.3M2045.3,149.2h9.3M1237.1,216.3h-9.3M2045.3,216.3h9.3M1237.1,283.5h-9.3M2045.3,283.5h9.3M1237.1,350.6h-9.3M2045.3,350.6h9.3M1237.1,417.8h-9.3M2045.3,417.8h9.3" stroke="#1a1a1a" stroke-width="2.0" fill="none"/>
<text x="1237.1" y="455.0" font-size="25.4" text-anchor="middle" fill="#1a1a1a" >180°</text>
<text x="1371.8" y="455.0" font-size="25.4" text-anchor="middle" fill="#1a1a1a" >120°W</text>
<text x="1506.5" y="455.0" font-size="25.4" text-anchor="middle" fill="#1a1a1a" >60°W</text>
<text x="1641.2" y="455.0" font-size="25.4" text-anchor="middle" fill="#1a1a1a" >0°</text>
<text x="1775.9" y="455.0" font-size="25.4" text-anchor="middle" fill="#1a1a1a" >60°E</text>
<text x="1910.6" y="455.0" font-size="25.4" text-anchor="middle" fill="#1a1a1a" >120°E</text>
<text x="2045.3" y="455.0" font-size="25.4" text-anchor="middle" fill="#1a1a1a" >180°</text>
<text x="1223.5" y="91.2" font-size="25.4" text-anchor="end" fill="#1a1a1a" >90°N</text>
<text x="1223.5" y="158.4" font-size="25.4" text-anchor="end" fill="#1a1a1a" >60°N</text>
<text x="1223.5" y="225.5" font-size="25.4" text-anchor="end" fill="#1a1a1a" >30°N</text>
<text x="1223.5" y="292.7" font-size="25.4" text-anchor="end" fill="#1a1a1a" >0°</text>
<text x="1223.5" y="359.8" font-size="25.4" text-anchor="end" fill="#1a1a1a" >30°S</text>
<text x="1223.5" y="427.0" font-size="25.4" text-anchor="end" fill="#1a1a1a" >60°S</text>
<text x="1641.2" y="492.3" font-size="33.0" text-anchor="middle" fill="#1a1a1a" >Longitude</text>
<text transform="translate(1149.1,249.9) rotate(-90)" font-size="33.0" text-anchor="middle" fill="#1a1a1a">Latitude</text>
<g transform="translate(131.9,759.1) scale(3.15391,3.15000)" shape-rendering="crispEdges" fill="none" stroke-width="1.04">
<path stroke="#5a3714" d="M203,29.5h1M214,31.5h1M216,31.5h3M214,32.5h7M214,33.5h7M213,34.5h5M219,34.5h1M215,35.5h3M218,38.5h1M210,45.5h2M211,46.5h1M119,52.5h1M151,52.5h2M151,53.5h2M160,59.5h1M99,67.5h1M99,68.5h2M99,69.5h3M99,70.5h3M99,71.5h2M99,72.5h1M222,72.5h2M222,73.5h3M87,74.5h1M141,74.5h1M223,74.5h1M87,75.5h2M138,76.5h3M230,76.5h2M138,77.5h4M151,77.5h1M138,78.5h4M149,78.5h3M160,78.5h1M140,79.5h2M160,79.5h1M235,80.5h1M234,81.5h2M234,82.5h3"/>
<path stroke="#8f571c" d="M201,28.5h4M201,29.5h2M215,31.5h1M219,31.5h1M213,32.5h1M61,33.5h1M213,33.5h1M59,34.5h1M61,34.5h1M212,34.5h1M218,34.5h1M220,34.5h1M61,35.5h1M213,35.5h2M218,36.5h1M218,37.5h1M55,44.5h1M211,44.5h1M53,45.5h1M55,45.5h1M55,47.5h2M55,48.5h3M56,49.5h2M118,51.5h3M151,51.5h2M118,52.5h1M120,52.5h1M153,52.5h2M118,53.5h2M118,54.5h3M151,54.5h1M123,56.5h2M126,56.5h3M123,57.5h1M127,57.5h2M160,57.5h1M158,58.5h4M77,59.5h2M158,59.5h2M161,59.5h1M158,60.5h1M154,61.5h5M99,66.5h2M97,67.5h2M100,67.5h2M152,67.5h2M97,68.5h2M101,68.5h1M97,69.5h2M102,69.5h1M97,70.5h2M98,71.5h1M101,71.5h1M79,72.5h2M98,72.5h1M100,72.5h1M142,73.5h1M151,73.5h1M221,73.5h1M88,74.5h2M138,74.5h3M142,74.5h1M151,74.5h1M222,74.5h1M224,74.5h1M230,74.5h1M86,75.5h1M89,75.5h1M138,75.5h5M230,75.5h2M87,76.5h3M141,76.5h1M151,76.5h1M160,76.5h1M87,77.5h3M137,77.5h1M142,77.5h1M148,77.5h3M160,77.5h1M230,77.5h2M86,78.5h4M148,78.5h1M231,78.5h1M86,79.5h3M138,79.5h2M150,79.5h1M160,80.5h1M231,80.5h1M233,80.5h2M232,81.5h2M233,82.5h1M234,83.5h3"/>
<path stroke="#be8639" d="M202,27.5h1M200,28.5h1M205,28.5h1M200,29.5h1M204,29.5h2M214,30.5h4M213,31.5h1M220,31.5h1M204,32.5h1M212,32.5h1M221,32.5h1M60,33.5h1M62,33.5h1M212,33.5h1M221,33.5h1M60,34.5h1M62,34.5h1M58,35.5h2M212,35.5h1M218,35.5h2M42,36.5h2M58,36.5h2M61,36.5h1M217,36.5h1M42,37.5h1M58,37.5h2M219,37.5h1M41,38.5h2M59,38.5h1M219,38.5h1M42,39.5h1M57,41.5h2M57,42.5h1M50,43.5h1M52,43.5h1M211,43.5h1M49,44.5h1M52,44.5h3M56,44.5h2M177,44.5h1M210,44.5h1M212,44.5h1M52,45.5h1M54,45.5h1M56,45.5h2M175,45.5h1M55,46.5h3M210,46.5h1M54,47.5h1M57,47.5h1M55,49.5h1M187,49.5h2M56,50.5h2M187,50.5h1M60,51.5h1M153,51.5h2M117,52.5h1M126,52.5h3M132,52.5h2M150,52.5h1M155,52.5h1M203,52.5h1M117,53.5h1M120,53.5h1M122,53.5h1M124,53.5h4M130,53.5h4M139,53.5h1M147,53.5h4M153,53.5h1M117,54.5h1M121,54.5h1M124,54.5h8M148,54.5h3M127,55.5h2M121,56.5h2M125,56.5h1M129,56.5h1M80,57.5h2M122,57.5h1M124,57.5h3M129,57.5h1M140,57.5h3M157,57.5h3M161,57.5h1M141,58.5h2M157,58.5h1M76,59.5h1M141,59.5h1M157,59.5h1M162,59.5h1M77,60.5h2M153,60.5h5M159,60.5h1M161,60.5h1M153,61.5h1M155,62.5h1M157,62.5h1M155,63.5h1M155,64.5h1M154,65.5h2M98,66.5h1M152,66.5h4M102,67.5h1M154,67.5h1M102,68.5h1M152,68.5h2M102,70.5h1M97,71.5h1M101,72.5h1M224,72.5h1M87,73.5h2M99,73.5h2M138,73.5h1M141,73.5h1M229,73.5h1M86,74.5h1M137,74.5h1M221,74.5h1M229,74.5h1M90,75.5h1M149,75.5h1M151,75.5h1M160,75.5h1M229,75.5h1M85,76.5h2M90,76.5h1M137,76.5h1M142,76.5h1M148,76.5h3M152,76.5h1M229,76.5h1M86,77.5h1M90,77.5h1M152,77.5h1M85,78.5h1M137,78.5h1M142,78.5h1M152,78.5h1M161,78.5h1M230,78.5h1M232,78.5h2M149,79.5h1M151,79.5h1M161,79.5h1M230,79.5h5M87,80.5h1M139,80.5h2M230,80.5h1M232,80.5h1M230,81.5h2M88,82.5h1M230,82.5h3M230,83.5h4M234,84.5h2M236,85.5h1M81,86.5h1M211,86.5h2"/>
<path stroke="#d8c37f" d="M126,26.5h2M199,27.5h3M203,27.5h4M209,27.5h2M197,28.5h3M206,28.5h5M199,29.5h1M206,29.5h1M204,30.5h1M213,30.5h1M218,30.5h1M212,31.5h1M221,31.5h1M61,32.5h1M202,32.5h2M205,32.5h1M58,33.5h2M203,33.5h3M211,33.5h1M222,33.5h1M58,34.5h1M201,34.5h4M211,34.5h1M42,35.5h2M60,35.5h1M62,35.5h1M201,35.5h3M211,35.5h1M41,36.5h1M60,36.5h1M202,36.5h2M41,37.5h1M43,37.5h2M60,37.5h1M203,37.5h1M214,37.5h1M43,38.5h2M58,38.5h1M202,38.5h2M43,39.5h1M52,39.5h3M202,39.5h2M53,40.5h2M202,40.5h1M56,41.5h1M203,41.5h1M211,41.5h1M49,42.5h6M58,42.5h1M203,42.5h2M210,42.5h3M47,43.5h3M51,43.5h1M53,43.5h5M70,43.5h1M203,43.5h1M209,43.5h2M212,43.5h1M47,44.5h1M50,44.5h2M70,44.5h1M174,44.5h3M203,44.5h1M209,44.5h1M48,45.5h1M50,45.5h2M174,45.5h1M176,45.5h3M203,45.5h1M209,45.5h1M212,45.5h1M48,46.5h1M51,46.5h4M204,46.5h3M212,46.5h1M52,47.5h2M58,47.5h1M210,47.5h1M53,48.5h2M58,48.5h1M186,48.5h3M53,49.5h2M58,49.5h1M186,49.5h1M189,49.5h1M55,50.5h1M58,50.5h2M118,50.5h3M160,50.5h3M201,50.5h3M58,51.5h2M61,51.5h1M117,51.5h1M121,51.5h1M125,51.5h1M127,51.5h2M131,51.5h3M150,51.5h1M155,51.5h1M158,51.5h5M198,51.5h2M201,51.5h3M121,52.5h1M123,52.5h3M129,52.5h3M134,52.5h6M141,52.5h9M158,52.5h2M161,52.5h2M198,52.5h5M204,52.5h1M65,53.5h1M121,53.5h1M123,53.5h1M128,53.5h2M134,53.5h5M140,53.5h1M142,53.5h5M159,53.5h1M161,53.5h2M199,53.5h2M202,53.5h3M122,54.5h2M132,54.5h16M152,54.5h1M199,54.5h2M203,54.5h1M117,55.5h2M121,55.5h6M129,55.5h1M132,55.5h2M135,55.5h4M140,55.5h3M146,55.5h6M183,55.5h1M117,56.5h1M140,56.5h3M183,56.5h1M121,57.5h1M162,57.5h1M140,58.5h1M162,58.5h1M140,59.5h1M142,59.5h1M76,60.5h1M85,60.5h1M152,60.5h1M160,60.5h1M162,60.5h1M152,61.5h1M154,62.5h1M156,62.5h1M158,62.5h1M154,63.5h1M154,64.5h1M156,65.5h1M151,67.5h1M155,67.5h1M154,68.5h1M71,69.5h2M72,70.5h1M152,70.5h1M150,71.5h2M155,71.5h1M97,72.5h1M141,72.5h1M150,72.5h7M229,72.5h1M80,73.5h1M86,73.5h1M89,73.5h3M98,73.5h1M137,73.5h1M139,73.5h2M143,73.5h1M149,73.5h2M152,73.5h5M220,73.5h1M85,74.5h1M90,74.5h1M143,74.5h1M149,74.5h2M152,74.5h5M220,74.5h1M85,75.5h1M137,75.5h1M143,75.5h1M148,75.5h1M150,75.5h1M152,75.5h4M91,76.5h2M159,76.5h1M84,77.5h2M91,77.5h1M147,77.5h1M159,77.5h1M161,77.5h1M229,77.5h1M84,78.5h1M90,78.5h1M159,78.5h1M85,79.5h1M89,79.5h2M142,79.5h1M148,79.5h1M152,79.5h1M159,79.5h1M86,80.5h1M88,80.5h1M138,80.5h1M141,80.5h1M159,80.5h1M161,80.5h1M86,81.5h3M149,81.5h1M86,82.5h2M89,82.5h1M147,82.5h4M147,83.5h3M79,84.5h3M211,84.5h3M224,84.5h1M227,84.5h1M230,84.5h4M236,84.5h1M79,85.5h4M149,85.5h1M210,85.5h5M217,85.5h1M219,85.5h1M223,85.5h2M227,85.5h1M231,85.5h5M79,86.5h2M82,86.5h1M210,86.5h1M213,86.5h2M216,86.5h1M218,86.5h2M231,86.5h4M236,86.5h1M78,87.5h3M210,87.5h4M232,87.5h1M79,88.5h1M78,89.5h2M82,89.5h1M78,90.5h6M78,91.5h2M83,91.5h1M81,92.5h1"/>
<path stroke="#efe8c0" d="M198,26.5h4M126,27.5h2M193,27.5h6M207,27.5h2M211,27.5h3M167,28.5h1M194,28.5h3M211,28.5h4M194,29.5h5M207,29.5h12M199,30.5h5M205,30.5h1M208,30.5h5M219,30.5h3M59,31.5h1M201,31.5h5M208,31.5h4M222,31.5h1M49,32.5h2M58,32.5h3M62,32.5h1M200,32.5h2M206,32.5h6M222,32.5h2M48,33.5h2M51,33.5h2M63,33.5h1M199,33.5h4M206,33.5h3M210,33.5h1M198,34.5h3M205,34.5h1M210,34.5h1M41,35.5h1M44,35.5h1M57,35.5h1M122,35.5h3M167,35.5h1M199,35.5h2M204,35.5h1M210,35.5h1M40,36.5h1M44,36.5h1M57,36.5h1M62,36.5h1M122,36.5h4M201,36.5h1M204,36.5h1M211,36.5h1M54,37.5h1M57,37.5h1M61,37.5h1M201,37.5h2M204,37.5h1M212,37.5h2M50,38.5h6M57,38.5h1M60,38.5h2M201,38.5h1M204,38.5h1M44,39.5h1M50,39.5h2M55,39.5h2M58,39.5h4M123,39.5h3M201,39.5h1M204,39.5h1M218,39.5h1M44,40.5h1M47,40.5h1M49,40.5h4M55,40.5h4M122,40.5h5M201,40.5h1M203,40.5h2M210,40.5h3M46,41.5h10M59,41.5h1M121,41.5h6M201,41.5h2M204,41.5h1M209,41.5h2M212,41.5h1M46,42.5h1M48,42.5h1M55,42.5h2M69,42.5h1M121,42.5h2M201,42.5h2M209,42.5h1M46,43.5h1M58,43.5h1M69,43.5h1M120,43.5h2M157,43.5h3M174,43.5h4M201,43.5h2M204,43.5h1M213,43.5h1M46,44.5h1M58,44.5h1M69,44.5h1M118,44.5h4M157,44.5h2M178,44.5h1M201,44.5h2M204,44.5h1M58,45.5h1M70,45.5h1M118,45.5h3M202,45.5h1M204,45.5h1M49,46.5h1M58,46.5h1M118,46.5h4M176,46.5h3M201,46.5h3M209,46.5h1M49,47.5h1M118,47.5h4M187,47.5h3M201,47.5h6M209,47.5h1M118,48.5h1M121,48.5h1M189,48.5h2M201,48.5h4M118,49.5h3M159,49.5h4M199,49.5h5M54,50.5h1M117,50.5h1M121,50.5h32M158,50.5h2M163,50.5h1M186,50.5h1M198,50.5h3M205,50.5h1M56,51.5h2M62,51.5h1M116,51.5h1M122,51.5h3M126,51.5h1M129,51.5h2M134,51.5h16M163,51.5h1M200,51.5h1M58,52.5h5M64,52.5h1M116,52.5h1M122,52.5h1M140,52.5h1M160,52.5h1M163,52.5h1M197,52.5h1M64,53.5h1M66,53.5h2M116,53.5h1M141,53.5h1M154,53.5h3M158,53.5h1M160,53.5h1M163,53.5h1M197,53.5h2M201,53.5h1M205,53.5h1M64,54.5h4M116,54.5h1M157,54.5h1M159,54.5h3M183,54.5h1M198,54.5h1M201,54.5h2M204,54.5h2M116,55.5h1M120,55.5h1M130,55.5h2M134,55.5h1M139,55.5h1M143,55.5h3M157,55.5h2M182,55.5h1M198,55.5h1M201,55.5h5M130,56.5h10M143,56.5h1M151,56.5h1M157,56.5h6M182,56.5h1M204,56.5h1M130,57.5h1M139,57.5h1M143,57.5h1M163,57.5h1M80,58.5h1M143,58.5h1M163,58.5h1M79,59.5h1M143,59.5h1M156,59.5h1M79,60.5h1M84,60.5h1M141,60.5h2M159,61.5h1M152,62.5h2M159,62.5h1M156,63.5h1M156,64.5h1M153,65.5h1M97,66.5h1M151,66.5h1M156,66.5h1M71,67.5h2M96,67.5h1M71,68.5h2M96,68.5h1M151,68.5h1M155,68.5h1M231,68.5h1M96,69.5h1M151,69.5h3M230,69.5h3M96,70.5h1M148,70.5h4M153,70.5h3M232,70.5h2M72,71.5h1M79,71.5h2M89,71.5h1M96,71.5h1M148,71.5h2M152,71.5h3M156,71.5h1M229,71.5h1M234,71.5h1M81,72.5h1M86,72.5h7M96,72.5h1M137,72.5h4M142,72.5h1M148,72.5h2M79,73.5h1M81,73.5h1M85,73.5h1M92,73.5h2M97,73.5h1M148,73.5h1M91,74.5h3M98,74.5h2M148,74.5h1M84,75.5h1M91,75.5h3M99,75.5h1M136,75.5h1M156,75.5h1M161,75.5h1M222,75.5h2M83,76.5h2M93,76.5h2M136,76.5h1M143,76.5h1M147,76.5h1M153,76.5h1M161,76.5h1M228,76.5h1M83,77.5h1M92,77.5h3M143,77.5h1M83,78.5h1M91,78.5h4M147,78.5h1M229,78.5h1M84,79.5h1M91,79.5h3M147,79.5h1M229,79.5h1M85,80.5h1M89,80.5h4M142,80.5h1M147,80.5h5M229,80.5h1M85,81.5h1M89,81.5h2M92,81.5h1M138,81.5h2M146,81.5h3M150,81.5h1M159,81.5h2M229,81.5h1M85,82.5h1M90,82.5h1M146,82.5h1M229,82.5h1M78,83.5h4M85,83.5h5M146,83.5h1M150,83.5h1M211,83.5h3M224,83.5h1M228,83.5h2M78,84.5h1M82,84.5h1M149,84.5h1M209,84.5h2M214,84.5h10M225,84.5h2M228,84.5h2M77,85.5h2M142,85.5h2M215,85.5h2M218,85.5h1M220,85.5h3M225,85.5h2M228,85.5h3M78,86.5h1M141,86.5h1M143,86.5h1M145,86.5h4M215,86.5h1M217,86.5h1M220,86.5h11M235,86.5h1M81,87.5h2M214,87.5h3M223,87.5h9M233,87.5h3M77,88.5h2M80,88.5h4M211,88.5h2M230,88.5h1M232,88.5h3M77,89.5h1M80,89.5h2M83,89.5h3M77,90.5h1M84,90.5h1M77,91.5h1M80,91.5h3M84,91.5h1M77,92.5h4M82,92.5h2M77,93.5h5M77,94.5h4M77,95.5h3M77,96.5h3"/>
<path stroke="#f5f5f5" d="M53,12.5h1M190,12.5h3M53,13.5h1M176,13.5h1M189,13.5h4M189,14.5h4M247,14.5h1M62,15.5h1M246,15.5h2M63,16.5h2M176,16.5h3M246,16.5h3M253,16.5h1M63,17.5h2M175,17.5h1M177,17.5h1M243,17.5h7M39,18.5h1M165,18.5h1M245,18.5h1M248,18.5h2M37,19.5h2M165,19.5h1M167,19.5h3M35,20.5h4M165,20.5h1M186,20.5h1M194,20.5h2M35,21.5h1M194,21.5h2M41,24.5h1M156,24.5h2M169,24.5h2M179,24.5h6M36,25.5h1M147,25.5h1M159,25.5h3M163,25.5h3M167,25.5h8M179,25.5h5M148,26.5h1M153,26.5h6M160,26.5h16M180,26.5h1M182,26.5h1M197,26.5h1M202,26.5h1M204,26.5h3M156,27.5h2M161,27.5h11M173,27.5h1M181,27.5h1M214,27.5h1M157,28.5h1M162,28.5h3M166,28.5h1M168,28.5h1M170,28.5h4M186,28.5h1M191,28.5h1M193,28.5h1M215,28.5h1M162,29.5h3M167,29.5h2M185,29.5h1M58,30.5h2M166,30.5h2M198,30.5h1M206,30.5h2M58,31.5h1M61,31.5h1M200,31.5h1M206,31.5h2M223,31.5h1M47,32.5h2M51,32.5h1M199,32.5h1M47,33.5h1M50,33.5h1M53,33.5h1M198,33.5h1M209,33.5h1M41,34.5h4M47,34.5h2M51,34.5h3M57,34.5h1M206,34.5h2M209,34.5h1M40,35.5h1M125,35.5h1M166,35.5h1M198,35.5h1M205,35.5h1M209,35.5h1M45,36.5h1M49,36.5h1M54,36.5h1M126,36.5h1M167,36.5h1M200,36.5h1M205,36.5h1M210,36.5h1M50,37.5h2M53,37.5h1M45,38.5h1M49,38.5h1M56,38.5h1M124,38.5h1M47,39.5h3M57,39.5h1M59,40.5h2M127,40.5h10M209,40.5h1M45,41.5h1M127,41.5h12M142,41.5h5M45,42.5h1M123,42.5h29M213,42.5h1M122,43.5h31M160,43.5h1M178,43.5h1M122,44.5h30M159,44.5h1M173,44.5h1M121,45.5h32M157,45.5h2M201,45.5h1M117,46.5h1M122,46.5h31M207,46.5h1M116,47.5h2M122,47.5h31M116,48.5h2M119,48.5h2M122,48.5h31M160,48.5h1M163,48.5h1M185,48.5h1M200,48.5h1M64,49.5h1M116,49.5h2M121,49.5h32M158,49.5h1M163,49.5h1M185,49.5h1M116,50.5h1M153,50.5h2M197,51.5h1M68,53.5h1M182,54.5h1M144,56.5h1M150,56.5h1M163,56.5h1M198,56.5h1M202,56.5h2M79,57.5h1M81,58.5h1M139,58.5h1M156,58.5h1M85,59.5h1M140,60.5h1M151,61.5h1M160,61.5h1M71,66.5h2M96,66.5h1M229,67.5h1M70,68.5h1M230,68.5h1M232,68.5h1M150,69.5h1M154,69.5h1M229,70.5h1M87,71.5h2M90,71.5h1M143,72.5h1M84,73.5h1M94,73.5h2M144,73.5h1M147,73.5h1M84,74.5h1M94,74.5h1M144,74.5h1M228,74.5h1M82,75.5h1M94,75.5h1M144,75.5h1M147,75.5h1M221,75.5h1M228,75.5h1M144,76.5h1M154,76.5h1M153,77.5h1M228,77.5h1M82,78.5h1M95,78.5h1M94,79.5h1M93,80.5h1M146,80.5h1M152,80.5h1M228,80.5h1M91,81.5h1M93,81.5h1M140,81.5h1M151,81.5h1M161,81.5h1M224,81.5h1M91,82.5h1M224,82.5h2M90,83.5h1M145,83.5h1M209,83.5h2M214,83.5h1M216,83.5h2M222,83.5h2M225,83.5h3M77,84.5h1M142,84.5h1M148,84.5h1M150,84.5h1M83,85.5h1M141,85.5h1M145,85.5h1M148,85.5h1M77,86.5h1M83,86.5h1M142,86.5h1M144,86.5h1M77,87.5h1M83,87.5h1M142,87.5h6M84,88.5h1M210,88.5h1M229,88.5h1M231,88.5h1M235,88.5h1M76,89.5h1M232,89.5h1M76,90.5h1M85,90.5h3M76,92.5h1M80,95.5h1"/>
<path stroke="#c9efe4" d="M197,9.5h11M190,10.5h18M40,11.5h5M67,11.5h4M186,11.5h24M215,11.5h1M39,12.5h14M64,12.5h11M177,12.5h3M181,12.5h9M193,12.5h27M227,12.5h6M15,13.5h5M41,13.5h1M45,13.5h8M54,13.5h3M60,13.5h2M64,13.5h14M145,13.5h4M175,13.5h1M177,13.5h12M193,13.5h47M12,14.5h17M32,14.5h24M60,14.5h3M67,14.5h3M72,14.5h8M141,14.5h11M171,14.5h2M175,14.5h14M193,14.5h54M248,14.5h1M250,14.5h5M1,15.5h2M9,15.5h37M50,15.5h5M58,15.5h4M63,15.5h7M73,15.5h9M138,15.5h18M159,15.5h2M163,15.5h17M181,15.5h17M204,15.5h6M211,15.5h35M248,15.5h8M2,16.5h4M9,16.5h54M65,16.5h5M75,16.5h9M137,16.5h20M159,16.5h17M179,16.5h20M204,16.5h5M212,16.5h34M249,16.5h4M254,16.5h2M3,17.5h4M8,17.5h55M65,17.5h1M67,17.5h2M72,17.5h5M78,17.5h5M111,17.5h7M136,17.5h8M145,17.5h8M156,17.5h19M176,17.5h1M178,17.5h23M204,17.5h4M211,17.5h32M250,17.5h6M13,18.5h26M40,18.5h31M76,18.5h1M78,18.5h4M112,18.5h5M134,18.5h9M144,18.5h21M166,18.5h50M218,18.5h1M221,18.5h1M224,18.5h21M246,18.5h2M250,18.5h5M10,19.5h27M39,19.5h24M72,19.5h2M78,19.5h3M132,19.5h9M143,19.5h22M166,19.5h1M170,19.5h46M225,19.5h31M10,20.5h25M39,20.5h23M73,20.5h5M131,20.5h9M143,20.5h1M145,20.5h20M166,20.5h20M187,20.5h7M196,20.5h20M225,20.5h15M243,20.5h8M13,21.5h9M26,21.5h9M36,21.5h25M72,21.5h7M81,21.5h2M131,21.5h11M144,21.5h1M146,21.5h48M196,21.5h20M225,21.5h13M242,21.5h4M16,22.5h2M30,22.5h32M72,22.5h12M124,22.5h2M132,22.5h2M136,22.5h4M145,22.5h70M223,22.5h6M240,22.5h4M14,23.5h3M33,23.5h32M73,23.5h11M124,23.5h3M134,23.5h6M143,23.5h64M219,23.5h2M222,23.5h5M239,23.5h5M12,24.5h2M34,24.5h7M42,24.5h26M73,24.5h6M80,24.5h5M124,24.5h3M134,24.5h2M137,24.5h1M143,24.5h13M158,24.5h11M171,24.5h8M185,24.5h20M220,24.5h6M239,24.5h5M35,25.5h1M37,25.5h30M69,25.5h1M71,25.5h1M80,25.5h7M121,25.5h3M126,25.5h2M134,25.5h13M148,25.5h11M162,25.5h1M166,25.5h1M175,25.5h4M184,25.5h20M220,25.5h8M239,25.5h4M37,26.5h25M65,26.5h1M80,26.5h8M121,26.5h3M125,26.5h1M128,26.5h1M131,26.5h17M149,26.5h4M159,26.5h1M176,26.5h4M181,26.5h1M183,26.5h14M207,26.5h5M220,26.5h10M239,26.5h2M37,27.5h25M70,27.5h1M76,27.5h13M125,27.5h1M128,27.5h1M130,27.5h26M158,27.5h3M172,27.5h1M174,27.5h7M182,27.5h11M215,27.5h6M226,27.5h2M229,27.5h1M239,27.5h1M37,28.5h25M64,28.5h2M70,28.5h2M75,28.5h6M87,28.5h2M128,28.5h29M158,28.5h4M165,28.5h1M169,28.5h1M174,28.5h12M187,28.5h4M192,28.5h1M216,28.5h5M226,28.5h2M229,28.5h1M39,29.5h43M86,29.5h4M125,29.5h37M165,29.5h2M169,29.5h16M186,29.5h8M219,29.5h4M224,29.5h4M229,29.5h1M39,30.5h13M53,30.5h5M60,30.5h4M65,30.5h1M68,30.5h14M88,30.5h3M126,30.5h40M168,30.5h30M222,30.5h5M229,30.5h1M40,31.5h18M60,31.5h1M62,31.5h7M70,31.5h15M127,31.5h23M151,31.5h2M154,31.5h8M166,31.5h34M224,31.5h2M40,32.5h7M52,32.5h6M63,32.5h3M67,32.5h2M71,32.5h9M81,32.5h2M127,32.5h10M139,32.5h10M152,32.5h1M155,32.5h7M164,32.5h29M194,32.5h5M224,32.5h1M228,32.5h3M39,33.5h8M54,33.5h4M64,33.5h2M67,33.5h7M75,33.5h1M77,33.5h1M121,33.5h9M132,33.5h1M135,33.5h3M140,33.5h8M157,33.5h5M165,33.5h33M228,33.5h3M39,34.5h2M45,34.5h2M49,34.5h2M54,34.5h3M63,34.5h10M75,34.5h3M122,34.5h8M137,34.5h3M142,34.5h7M150,34.5h4M157,34.5h6M165,34.5h33M208,34.5h1M227,34.5h2M45,35.5h12M63,35.5h5M121,35.5h1M126,35.5h2M134,35.5h1M139,35.5h2M142,35.5h3M146,35.5h17M168,35.5h30M206,35.5h3M227,35.5h2M46,36.5h3M50,36.5h4M55,36.5h2M63,36.5h1M74,36.5h1M121,36.5h1M127,36.5h1M139,36.5h1M143,36.5h2M147,36.5h16M166,36.5h1M168,36.5h32M206,36.5h4M227,36.5h2M45,37.5h5M52,37.5h1M55,37.5h2M62,37.5h1M73,37.5h1M122,37.5h5M133,37.5h3M137,37.5h2M143,37.5h2M147,37.5h16M165,37.5h28M194,37.5h4M199,37.5h2M205,37.5h7M225,37.5h3M46,38.5h3M62,38.5h1M73,38.5h1M128,38.5h8M153,38.5h36M191,38.5h6M200,38.5h1M205,38.5h9M224,38.5h4M45,39.5h2M62,39.5h1M72,39.5h2M126,39.5h10M153,39.5h34M191,39.5h2M195,39.5h1M205,39.5h8M221,39.5h6M45,40.5h2M48,40.5h1M61,40.5h4M68,40.5h1M143,40.5h1M153,40.5h34M191,40.5h5M205,40.5h1M207,40.5h2M213,40.5h1M220,40.5h3M60,41.5h11M152,41.5h9M162,41.5h24M194,41.5h1M205,41.5h4M213,41.5h2M220,41.5h1M59,42.5h10M152,42.5h33M186,42.5h1M205,42.5h4M214,42.5h1M59,43.5h1M153,43.5h4M161,43.5h2M164,43.5h10M179,43.5h6M186,43.5h2M205,43.5h1M207,43.5h2M214,43.5h1M153,44.5h4M160,44.5h3M165,44.5h8M179,44.5h6M187,44.5h1M205,44.5h1M207,44.5h2M213,44.5h1M154,45.5h3M159,45.5h6M169,45.5h5M179,45.5h6M188,45.5h1M205,45.5h1M207,45.5h2M154,46.5h11M166,46.5h3M179,46.5h3M183,46.5h1M187,46.5h3M198,46.5h1M208,46.5h1M214,46.5h1M153,47.5h1M155,47.5h15M177,47.5h4M185,47.5h2M190,47.5h2M193,47.5h2M198,47.5h3M207,47.5h2M213,47.5h2M153,48.5h1M156,48.5h4M161,48.5h2M164,48.5h6M177,48.5h3M184,48.5h1M191,48.5h1M193,48.5h3M198,48.5h2M205,48.5h3M63,49.5h1M65,49.5h1M153,49.5h2M156,49.5h2M164,49.5h5M194,49.5h2M197,49.5h2M206,49.5h1M63,50.5h3M157,50.5h1M164,50.5h5M185,50.5h1M197,50.5h1M206,50.5h1M63,51.5h2M164,51.5h4M186,51.5h1M196,51.5h1M214,51.5h1M63,52.5h1M164,52.5h2M180,52.5h1M182,52.5h3M195,52.5h1M213,52.5h2M62,53.5h2M181,53.5h3M213,53.5h2M68,54.5h1M153,54.5h1M156,54.5h1M181,54.5h1M184,54.5h1M215,54.5h1M66,55.5h3M76,55.5h1M78,55.5h1M119,55.5h1M152,55.5h1M164,55.5h1M181,55.5h1M184,55.5h1M67,56.5h2M74,56.5h10M118,56.5h1M145,56.5h5M152,56.5h1M164,56.5h1M184,56.5h1M68,57.5h5M76,57.5h3M82,57.5h3M131,57.5h1M133,57.5h2M136,57.5h3M144,57.5h1M150,57.5h2M156,57.5h1M182,57.5h2M198,57.5h1M202,57.5h2M216,57.5h2M69,58.5h2M72,58.5h1M76,58.5h4M82,58.5h4M121,58.5h4M127,58.5h4M134,58.5h1M151,58.5h1M185,58.5h1M198,58.5h2M215,58.5h3M84,59.5h1M121,59.5h4M126,59.5h3M139,59.5h1M151,59.5h5M185,59.5h1M210,59.5h2M216,59.5h2M86,60.5h1M122,60.5h5M132,60.5h1M143,60.5h1M150,60.5h2M196,60.5h1M209,60.5h4M83,61.5h1M85,61.5h1M161,61.5h1M201,61.5h1M208,61.5h4M151,62.5h1M160,62.5h1M201,62.5h1M207,62.5h5M71,63.5h2M152,63.5h2M157,63.5h2M205,63.5h12M72,64.5h3M87,64.5h2M93,64.5h1M152,64.5h2M157,64.5h1M206,64.5h6M213,64.5h1M215,64.5h1M221,64.5h2M73,65.5h2M87,65.5h2M95,65.5h1M152,65.5h1M157,65.5h1M206,65.5h5M213,65.5h2M222,65.5h2M225,65.5h3M73,66.5h3M95,66.5h1M203,66.5h1M207,66.5h4M213,66.5h2M222,66.5h8M70,67.5h1M73,67.5h3M95,67.5h1M201,67.5h3M213,67.5h1M225,67.5h4M230,67.5h2M73,68.5h1M95,68.5h1M203,68.5h2M206,68.5h1M226,68.5h4M73,69.5h1M76,69.5h1M95,69.5h1M148,69.5h2M155,69.5h1M204,69.5h6M226,69.5h4M73,70.5h1M75,70.5h3M86,70.5h5M95,70.5h1M147,70.5h1M228,70.5h1M73,71.5h4M81,71.5h1M84,71.5h3M91,71.5h3M95,71.5h1M137,71.5h6M147,71.5h1M73,72.5h3M78,72.5h1M82,72.5h4M93,72.5h3M144,72.5h1M146,72.5h2M73,73.5h3M82,73.5h2M96,73.5h1M145,73.5h2M162,73.5h2M74,74.5h2M79,74.5h5M95,74.5h3M145,74.5h3M161,74.5h1M163,74.5h1M217,74.5h3M75,75.5h7M83,75.5h1M95,75.5h4M145,75.5h2M163,75.5h1M216,75.5h5M224,75.5h2M77,76.5h6M95,76.5h5M145,76.5h2M215,76.5h13M78,77.5h5M95,77.5h5M144,77.5h3M162,77.5h1M214,77.5h14M78,78.5h4M96,78.5h4M143,78.5h4M162,78.5h1M211,78.5h18M78,79.5h3M95,79.5h4M143,79.5h4M209,79.5h20M78,80.5h2M84,80.5h1M94,80.5h4M143,80.5h3M209,80.5h19M78,81.5h1M94,81.5h1M141,81.5h5M152,81.5h1M208,81.5h16M225,81.5h4M78,82.5h2M92,82.5h2M139,82.5h7M151,82.5h1M209,82.5h15M226,82.5h3M77,83.5h1M82,83.5h1M84,83.5h1M91,83.5h3M139,83.5h6M151,83.5h1M215,83.5h1M218,83.5h4M83,84.5h5M90,84.5h3M140,84.5h2M143,84.5h5M84,85.5h3M91,85.5h2M140,85.5h1M144,85.5h1M146,85.5h2M84,86.5h3M91,86.5h1M84,87.5h3M141,87.5h1M85,88.5h5M141,88.5h4M224,88.5h1M226,88.5h3M86,89.5h1M226,89.5h6M233,89.5h2M252,89.5h1M227,90.5h8M76,91.5h1M85,91.5h1M229,91.5h4M253,91.5h2M75,92.5h1M253,92.5h1M75,93.5h2M231,93.5h3M75,94.5h2M81,94.5h2M231,94.5h2M75,95.5h2M81,95.5h1M247,95.5h1M75,96.5h2M80,96.5h1M246,96.5h3M74,97.5h7M74,98.5h7M74,99.5h6M74,100.5h5M75,101.5h5M76,102.5h4M79,103.5h1"/>
<path stroke="#8fdac6" d="M0,15.5h1M198,15.5h6M210,15.5h1M0,16.5h2M199,16.5h5M209,16.5h3M0,17.5h3M77,17.5h1M201,17.5h3M208,17.5h3M77,18.5h1M216,18.5h2M219,18.5h2M222,18.5h2M216,19.5h9M144,20.5h1M216,20.5h9M216,21.5h9M215,22.5h8M207,23.5h3M216,23.5h1M218,23.5h1M221,23.5h1M79,24.5h1M205,24.5h2M219,24.5h1M67,25.5h2M72,25.5h8M204,25.5h2M219,25.5h1M62,26.5h3M66,26.5h4M72,26.5h8M212,26.5h3M218,26.5h2M62,27.5h8M71,27.5h2M74,27.5h2M221,27.5h5M62,28.5h2M66,28.5h4M72,28.5h3M221,28.5h5M223,29.5h1M52,30.5h1M193,32.5h1M74,33.5h1M76,33.5h1M73,34.5h2M68,35.5h7M64,36.5h10M63,37.5h10M163,37.5h1M193,37.5h1M198,37.5h1M63,38.5h10M189,38.5h2M197,38.5h3M63,39.5h9M187,39.5h4M193,39.5h2M196,39.5h5M65,40.5h3M69,40.5h3M187,40.5h4M196,40.5h5M206,40.5h1M161,41.5h1M186,41.5h8M195,41.5h3M200,41.5h1M185,42.5h1M187,42.5h5M193,42.5h3M199,42.5h2M185,43.5h1M188,43.5h1M195,43.5h1M200,43.5h1M206,43.5h1M185,44.5h2M188,44.5h2M192,44.5h1M199,44.5h2M206,44.5h1M185,45.5h3M189,45.5h6M198,45.5h3M206,45.5h1M182,46.5h1M184,46.5h3M190,46.5h5M197,46.5h1M199,46.5h2M181,47.5h4M192,47.5h1M195,47.5h3M180,48.5h4M196,48.5h2M180,49.5h5M196,49.5h1M180,50.5h5M195,50.5h2M180,51.5h6M195,51.5h1M181,52.5h1M185,52.5h1M184,53.5h1M156,55.5h1M156,56.5h1M73,57.5h3M118,57.5h1M132,57.5h1M135,57.5h1M149,57.5h1M152,57.5h1M125,58.5h2M131,58.5h3M135,58.5h4M144,58.5h1M149,58.5h2M152,58.5h1M80,59.5h4M86,59.5h1M120,59.5h1M125,59.5h1M129,59.5h9M146,59.5h1M150,59.5h1M199,59.5h2M80,60.5h4M87,60.5h4M133,60.5h5M139,60.5h1M197,60.5h1M199,60.5h3M76,61.5h4M81,61.5h2M84,61.5h1M86,61.5h5M149,61.5h2M197,61.5h2M200,61.5h1M72,62.5h1M78,62.5h2M81,62.5h9M150,62.5h1M198,62.5h3M73,63.5h2M79,63.5h11M91,63.5h2M150,63.5h2M198,63.5h3M70,64.5h1M75,64.5h3M80,64.5h7M89,64.5h4M199,64.5h3M70,65.5h1M72,65.5h1M75,65.5h4M81,65.5h1M86,65.5h1M89,65.5h6M134,65.5h1M146,65.5h2M150,65.5h1M200,65.5h3M76,66.5h4M86,66.5h3M90,66.5h2M93,66.5h2M138,66.5h1M145,66.5h2M150,66.5h1M200,66.5h3M76,67.5h4M86,67.5h3M94,67.5h1M145,67.5h1M149,67.5h2M74,68.5h6M86,68.5h3M94,68.5h1M138,68.5h2M144,68.5h3M148,68.5h3M74,69.5h2M77,69.5h4M83,69.5h2M86,69.5h3M94,69.5h1M137,69.5h3M145,69.5h1M147,69.5h1M74,70.5h1M78,70.5h3M83,70.5h3M91,70.5h4M137,70.5h3M145,70.5h2M77,71.5h2M82,71.5h2M94,71.5h1M143,71.5h4M76,72.5h2M145,72.5h1M76,73.5h3M76,74.5h3M162,74.5h1M162,75.5h1M162,76.5h1M81,79.5h1M83,79.5h1M79,81.5h1M84,81.5h1M80,82.5h2M84,82.5h1M83,83.5h1M88,84.5h2M87,85.5h4M87,86.5h4M87,87.5h4M251,89.5h1M252,90.5h1M252,91.5h1M252,92.5h1M251,93.5h2M248,95.5h2M249,96.5h1"/>
<path stroke="#54a594" d="M210,23.5h6M217,23.5h1M207,24.5h1M209,24.5h4M215,24.5h4M206,25.5h2M209,25.5h2M218,25.5h1M215,26.5h3M73,27.5h1M198,41.5h2M192,42.5h1M196,42.5h3M189,43.5h5M196,43.5h4M190,44.5h2M193,44.5h3M197,44.5h2M195,45.5h3M195,46.5h2M154,54.5h2M120,56.5h1M120,57.5h1M145,57.5h4M120,58.5h1M145,58.5h4M153,58.5h1M155,58.5h1M138,59.5h1M144,59.5h2M147,59.5h3M73,60.5h2M138,60.5h1M144,60.5h6M73,61.5h3M80,61.5h1M91,61.5h1M135,61.5h10M148,61.5h1M73,62.5h3M77,62.5h1M80,62.5h1M90,62.5h2M135,62.5h2M139,62.5h3M143,62.5h3M148,62.5h2M75,63.5h4M90,63.5h1M139,63.5h1M141,63.5h1M143,63.5h1M148,63.5h2M78,64.5h2M134,64.5h1M139,64.5h1M141,64.5h1M144,64.5h7M71,65.5h1M79,65.5h2M82,65.5h4M135,65.5h1M137,65.5h6M144,65.5h2M148,65.5h2M80,66.5h6M89,66.5h1M92,66.5h1M135,66.5h3M139,66.5h1M141,66.5h2M144,66.5h1M147,66.5h3M80,67.5h6M89,67.5h5M136,67.5h4M142,67.5h3M146,67.5h3M80,68.5h6M89,68.5h5M137,68.5h1M140,68.5h2M143,68.5h1M147,68.5h1M81,69.5h2M85,69.5h1M89,69.5h5M140,69.5h3M144,69.5h1M146,69.5h1M81,70.5h2M140,70.5h2M143,70.5h2M82,79.5h1M80,80.5h1M80,81.5h1M250,93.5h1M249,94.5h2"/>
<path stroke="#32796a" d="M208,24.5h1M213,24.5h2M208,25.5h1M211,25.5h7M196,44.5h1M153,55.5h1M119,56.5h1M119,57.5h1M153,57.5h1M155,57.5h1M73,58.5h3M119,58.5h1M154,58.5h1M73,59.5h3M75,60.5h1M145,61.5h3M76,62.5h1M137,62.5h2M142,62.5h1M146,62.5h2M135,63.5h4M140,63.5h1M142,63.5h1M144,63.5h4M71,64.5h1M135,64.5h4M140,64.5h1M142,64.5h2M136,65.5h1M143,65.5h1M140,66.5h1M143,66.5h1M140,67.5h2M142,68.5h1M143,69.5h1M142,70.5h1M81,80.5h3M81,81.5h1M82,82.5h1"/>
<path stroke="#1d4a38" d="M194,43.5h1M154,55.5h2M153,56.5h3M154,57.5h1M82,81.5h2M83,82.5h1"/>
</g><path d="M158.8,813.8L162.2,807.7L170.0,806.1L172.5,803.2L184.6,801.0L194.7,802.1L203.7,803.0L214.9,803.7L219.4,804.8L228.3,806.1L232.8,805.2L241.8,803.9L248.5,803.0L255.3,805.0L264.2,804.3L273.2,806.1L277.7,808.6L288.9,808.6L293.4,807.7L300.1,807.3L306.8,808.8L315.8,808.4L320.3,807.9L321.4,799.6L327.0,801.7L329.3,805.0L332.6,807.3L338.2,806.6L342.7,805.0L345.0,804.3L351.7,804.3L353.3,807.3L351.7,810.6L347.2,812.2L342.7,811.7L340.5,814.0L338.2,816.9L332.6,818.5L328.1,820.7L324.8,824.1L323.2,828.5L324.8,829.2L328.1,833.0L333.8,833.0L338.2,834.1L345.0,836.8L351.0,837.3L351.7,842.0L353.9,845.3L356.2,846.0L358.4,845.3L358.9,843.1L357.3,838.6L361.8,836.4L363.6,833.0L359.5,829.0L361.8,825.2L360.7,820.9L366.3,821.1L371.9,821.8L374.1,824.1L378.6,824.1L379.7,828.5L383.1,829.7L387.6,828.5L390.3,825.4L393.2,828.5L396.5,831.9L398.8,835.3L402.2,837.5L406.6,839.7L410.0,842.0L410.7,844.2L407.8,845.6L403.3,847.6L398.8,848.3L392.1,848.0L386.5,848.3L382.0,850.9L378.6,854.3L376.4,855.9L378.6,855.4L380.8,852.7L387.6,850.5L390.9,850.9L390.9,853.2L388.7,854.3L390.3,856.5L394.3,857.7L397.7,858.3L401.0,857.2L400.4,855.4L398.8,859.5L393.2,860.8L388.7,863.3L387.1,861.5L389.8,859.2L385.3,859.9L382.0,861.5L378.2,863.0L377.0,865.5L378.6,867.1L375.2,868.0L370.8,869.1L369.6,870.0L369.2,872.2L367.4,873.8L366.3,876.0L365.1,877.8L366.3,881.9L362.9,883.4L359.5,885.0L357.3,886.8L353.9,889.5L353.0,892.4L355.1,897.3L356.2,900.7L355.5,904.0L353.9,904.5L352.1,901.8L350.1,898.4L349.9,895.7L347.2,893.5L344.3,894.2L341.6,892.6L338.2,892.8L334.9,893.1L335.5,895.5L332.6,895.3L329.3,894.4L325.2,894.2L322.5,895.3L319.2,897.3L317.4,899.5L317.6,902.7L316.5,906.9L316.3,910.7L317.6,914.1L319.8,917.5L322.5,919.0L324.3,919.9L328.1,919.0L330.8,918.6L332.4,916.3L332.9,913.7L337.1,912.5L340.5,912.5L340.9,914.1L339.4,917.0L338.7,919.7L337.6,921.5L336.7,924.9L338.2,925.3L342.7,925.1L347.2,925.3L349.0,927.1L348.3,930.5L348.1,933.8L347.7,936.1L349.4,938.3L351.7,940.1L353.9,941.0L356.6,939.4L358.9,939.4L361.8,941.2L360.9,944.6L360.2,942.1L357.3,940.8L355.5,942.1L355.5,944.1L352.8,943.7L349.9,942.3L348.1,941.4L345.6,939.0L343.4,938.3L343.2,936.1L340.9,933.4L339.1,931.6L336.4,931.1L333.3,929.8L330.4,929.3L328.6,928.0L325.2,925.1L323.0,924.4L319.2,925.5L314.7,924.2L311.3,922.8L307.3,920.8L303.2,919.5L300.1,917.0L298.8,914.8L299.4,912.5L297.9,909.2L294.5,905.8L291.1,903.4L290.0,900.7L287.8,898.4L284.9,896.2L282.6,893.5L281.7,890.8L278.4,889.7L278.4,892.4L281.0,895.7L283.1,898.4L285.1,901.3L286.7,904.0L288.2,906.5L290.0,908.7L288.9,909.4L287.1,907.6L284.0,905.1L284.0,902.5L281.0,900.7L278.1,898.4L279.5,896.9L276.6,894.2L274.8,891.3L273.0,887.9L270.1,884.5L265.3,883.4L262.4,878.9L260.9,876.3L257.9,872.2L256.8,870.2L257.0,866.6L256.4,864.4L257.5,859.9L257.5,857.0L255.9,852.5L259.7,852.5L260.9,854.3L260.2,850.9L258.6,849.8L255.3,848.0L250.8,846.5L249.0,843.5L246.3,840.9L243.4,838.6L240.7,836.4L237.3,834.1L235.1,830.8L231.7,829.7L229.5,830.3L226.1,828.5L221.6,826.7L217.1,826.3L212.6,826.3L208.2,824.5L203.7,824.3L200.3,826.7L195.8,827.9L195.8,824.1L192.5,827.4L190.2,829.2L185.7,831.9L181.2,834.1L175.6,836.4L171.1,837.5L166.7,838.4L171.1,835.9L175.6,834.8L180.1,832.3L182.4,829.2L179.0,829.2L173.4,829.0L172.3,826.3L166.7,825.2L164.4,822.9L163.3,821.8L166.0,819.6L171.1,818.5L174.5,816.2L170.0,816.2L164.4,816.2ZM402.6,854.1L404.4,850.5L407.8,846.5L410.9,845.3L410.0,848.7L414.5,849.8L416.7,852.1L417.4,854.3L415.6,856.3L411.1,855.4L406.6,854.1ZM247.9,846.9L254.1,848.3L258.6,852.3L255.3,851.6L249.6,848.7ZM397.7,811.3L392.1,815.1L388.7,819.6L383.1,821.1L376.4,819.6L369.6,816.2L361.8,816.7L360.7,814.0L369.6,812.9L371.9,808.8L362.9,807.3L359.5,803.9L351.7,803.9L342.7,803.2L334.9,801.7L334.9,797.2L345.0,795.6L353.9,795.6L360.7,797.6L368.5,799.4L376.4,801.7L383.1,803.9L385.3,806.1L392.1,808.8ZM272.1,804.1L276.6,802.6L272.1,800.8L269.8,798.3L278.8,796.3L288.9,797.4L294.5,796.5L300.1,797.2L301.2,800.5L308.0,799.0L310.2,802.3L306.8,804.6L308.0,806.6L299.0,807.0L292.3,806.8L282.2,807.3L276.6,805.7ZM254.1,799.6L257.9,795.6L263.1,793.8L272.1,794.5L276.6,796.5L272.1,798.5L268.7,800.1L263.1,801.2L258.6,801.0ZM340.5,817.3L347.2,819.6L353.9,817.3L348.3,813.5L342.7,814.0ZM481.8,814.0L486.3,812.0L495.2,812.4L502.0,812.4L505.3,815.1L502.0,816.7L494.1,818.7L486.3,817.8L485.1,815.5ZM362.0,941.2L365.1,939.9L366.3,936.7L368.5,936.1L371.9,934.9L375.2,932.9L374.8,936.1L378.6,934.9L378.6,933.4L382.0,935.6L383.1,937.0L387.6,937.0L390.9,937.9L395.4,936.7L397.0,938.3L398.8,940.5L399.9,941.7L403.3,942.8L405.5,945.5L407.8,947.3L412.2,947.5L414.5,947.9L417.9,949.5L420.1,951.1L421.7,955.1L423.5,957.3L423.5,960.7L426.8,961.8L427.9,962.9L432.4,963.4L435.8,966.3L439.2,966.3L442.5,967.2L445.9,967.0L449.3,969.2L452.6,971.5L456.4,972.6L457.3,976.4L457.1,980.9L453.7,984.2L451.5,987.6L448.8,989.8L448.1,994.3L448.1,999.9L446.6,1004.4L444.1,1008.9L441.6,1012.0L438.0,1012.2L434.7,1013.8L431.3,1014.9L427.9,1017.8L426.6,1021.2L426.2,1024.5L423.5,1027.9L421.2,1031.3L418.5,1033.5L415.6,1036.9L412.2,1038.9L408.9,1038.7L405.5,1037.3L407.3,1041.3L408.4,1043.1L406.2,1046.3L401.0,1047.8L396.5,1047.8L395.9,1051.4L390.9,1052.5L389.8,1055.5L392.7,1055.9L389.4,1058.1L388.7,1061.5L384.7,1063.3L384.2,1064.9L387.8,1067.1L385.3,1070.5L381.5,1073.4L380.8,1076.1L382.2,1078.1L382.0,1079.4L385.3,1082.8L388.7,1083.5L385.3,1084.6L379.7,1084.6L374.1,1082.8L369.6,1079.4L367.4,1076.1L366.3,1071.6L366.3,1066.0L369.6,1062.6L370.8,1058.1L369.6,1054.8L370.3,1050.3L370.8,1045.8L371.9,1042.5L374.1,1038.0L375.2,1033.5L375.2,1027.9L375.7,1023.4L377.0,1018.9L377.5,1014.5L378.2,1010.0L378.2,1005.5L377.7,1001.7L375.2,999.5L370.8,997.2L366.7,994.7L364.5,991.8L362.5,987.6L360.2,983.1L358.4,979.1L356.2,975.3L353.5,974.1L353.3,970.8L355.5,968.3L356.2,966.3L353.9,965.6L354.4,962.9L355.7,960.7L356.2,958.9L358.4,957.6L359.3,955.1L361.8,952.9L362.0,950.6L361.8,947.9L362.0,945.5L360.9,944.6ZM939.3,814.7L935.9,816.2L933.7,815.5L932.6,816.2L937.1,819.6L938.2,820.9L932.6,820.7L925.8,822.3L921.4,824.1L917.5,826.3L910.1,825.9L904.5,826.5L901.8,829.7L900.1,831.2L901.6,834.8L898.9,837.5L894.4,841.5L891.1,843.1L887.0,846.5L885.5,843.1L884.6,837.5L886.6,833.0L891.1,829.7L896.7,825.6L902.3,822.5L898.9,821.8L894.4,822.5L887.7,822.5L883.2,826.7L878.7,828.1L872.0,827.4L863.0,827.9L856.3,827.9L850.7,831.2L845.1,834.6L840.6,837.9L844.0,839.7L848.5,839.3L852.5,841.5L850.7,845.3L850.7,849.8L848.5,853.6L845.1,857.7L840.6,861.5L836.1,864.4L832.3,863.9L829.4,865.5L827.2,867.1L826.5,869.3L822.7,871.1L821.6,872.7L823.8,874.9L825.8,877.8L825.8,881.2L823.8,882.3L820.4,883.4L818.9,882.3L819.3,878.9L820.0,877.4L817.1,876.0L815.9,874.5L816.6,872.2L814.4,871.3L810.3,872.2L808.1,873.6L809.2,870.0L807.0,869.3L803.6,871.5L800.2,872.9L799.6,874.9L802.5,877.1L806.3,876.0L810.3,876.9L809.9,878.3L805.9,879.8L803.2,882.3L805.2,884.5L807.0,887.9L809.0,890.1L808.1,892.4L809.2,893.7L808.5,896.9L806.3,899.1L804.1,902.5L801.8,905.4L798.7,907.8L795.8,909.4L791.9,910.5L789.0,911.4L785.7,912.5L783.2,913.0L783.0,915.2L781.9,912.8L778.9,912.1L776.7,913.0L774.9,914.8L772.9,917.5L774.0,920.4L776.3,923.1L778.9,925.3L780.5,929.3L780.7,932.7L780.1,935.2L776.7,937.2L774.9,938.3L773.3,939.9L771.1,941.4L770.6,938.3L768.4,937.2L766.2,934.5L764.4,932.7L762.1,932.3L761.2,930.5L759.9,930.9L759.9,933.8L758.8,936.1L758.1,939.4L759.9,941.7L761.0,944.6L763.2,945.5L765.5,947.3L767.3,949.9L767.7,952.9L768.4,955.5L769.3,957.6L767.7,957.8L765.5,956.2L762.8,954.2L761.4,951.7L760.6,948.4L760.3,946.1L758.8,944.3L756.5,942.3L756.1,939.4L757.0,936.1L756.7,932.7L755.8,929.3L754.7,926.0L754.5,923.7L752.7,922.6L749.8,925.3L747.1,924.9L747.5,921.5L746.4,918.1L744.2,915.9L742.4,913.7L741.5,910.7L738.6,911.0L735.2,911.9L733.0,912.1L730.7,913.0L730.3,915.2L727.4,916.6L724.0,919.3L720.6,922.6L718.4,924.4L715.7,926.0L715.2,930.5L714.8,933.8L714.6,937.6L712.8,939.9L711.0,940.8L709.4,942.6L707.2,940.5L706.1,937.2L703.8,932.7L702.7,929.3L700.4,924.9L699.3,920.4L698.9,917.0L698.6,913.7L698.2,911.9L694.8,914.1L690.8,911.0L693.3,909.2L689.2,908.1L686.5,905.4L684.7,903.8L680.3,904.3L674.7,904.3L669.0,903.8L664.6,903.1L663.0,900.2L659.0,900.9L655.6,900.7L652.2,898.7L649.5,895.7L647.7,893.1L645.0,892.8L643.3,894.6L644.6,897.3L646.6,899.8L648.2,902.0L649.3,904.7L651.1,902.7L651.3,905.6L653.3,906.5L656.7,906.5L659.6,903.8L661.9,902.0L662.3,905.1L664.6,907.4L667.3,908.1L669.7,910.3L667.9,913.7L665.7,914.8L665.0,918.1L662.3,920.4L659.0,922.6L654.5,923.7L650.0,926.4L645.5,928.9L641.0,930.9L636.5,932.0L633.2,932.3L632.0,929.3L631.6,926.0L630.9,923.1L628.7,919.9L626.4,916.3L623.5,913.0L622.6,909.2L619.7,906.3L618.1,902.5L615.2,898.7L613.6,896.9L614.1,894.6L612.5,898.4L610.3,896.4L608.7,893.7L608.7,894.6L610.7,898.0L611.9,900.2L614.1,904.7L615.7,907.4L618.4,911.4L619.0,914.8L619.5,918.1L621.9,920.4L623.5,924.9L625.3,927.1L628.0,928.9L630.9,931.6L632.7,933.1L632.7,934.9L635.4,937.2L638.8,936.5L643.3,935.6L647.7,934.7L650.4,934.0L650.2,937.2L648.9,940.5L646.6,945.0L644.4,949.5L641.0,954.0L637.6,956.7L634.3,958.5L630.9,961.8L628.7,964.7L626.4,967.0L624.9,970.8L623.1,974.1L624.2,978.6L624.9,983.1L626.4,985.3L626.7,989.8L626.9,994.3L624.2,998.1L619.7,1000.6L617.5,1002.8L614.1,1005.5L615.0,1010.0L615.2,1014.5L610.7,1017.4L609.2,1018.9L609.2,1023.4L606.2,1026.8L603.6,1030.1L599.5,1033.9L595.0,1036.6L590.5,1037.1L584.9,1037.5L580.5,1038.7L577.1,1037.3L576.0,1034.2L576.6,1031.3L574.2,1027.9L572.6,1024.5L569.7,1021.2L569.2,1016.7L568.1,1012.2L567.7,1008.9L564.8,1004.4L562.1,1001.0L562.1,997.7L563.2,993.2L565.9,988.7L566.6,985.3L564.8,981.3L564.3,977.5L563.0,974.1L562.5,971.9L560.3,969.2L556.9,966.3L555.3,962.9L556.5,960.7L556.9,958.0L557.6,955.1L557.4,952.9L555.3,950.6L551.3,950.8L549.1,951.1L547.5,948.8L545.7,946.8L542.3,946.4L539.0,946.8L535.6,947.9L531.1,949.9L527.8,949.3L523.3,949.3L518.8,950.8L515.4,949.1L512.1,946.6L509.8,945.2L507.6,943.9L506.0,941.7L505.3,939.4L502.6,937.2L501.5,935.6L498.6,933.1L497.9,930.9L497.0,927.8L498.4,924.9L499.3,920.4L499.0,917.0L497.5,913.7L498.6,910.3L499.7,907.4L502.4,903.6L505.3,900.2L506.9,898.0L510.5,896.2L513.2,894.6L513.8,891.3L514.7,887.9L517.7,885.4L520.3,884.1L522.4,880.5L523.7,880.3L528.9,881.6L531.1,882.1L535.6,880.5L539.0,878.9L542.3,878.3L546.8,878.3L551.3,877.8L555.8,877.4L558.5,877.1L560.3,877.8L559.1,880.1L560.3,882.3L558.5,884.1L560.3,885.7L563.6,887.2L569.2,888.3L571.5,890.6L576.0,892.4L580.5,891.3L580.5,887.9L584.9,887.0L588.3,888.6L591.7,889.7L596.2,890.8L600.6,891.5L605.1,890.1L608.0,890.8L612.5,890.6L613.9,887.9L614.3,886.3L615.9,883.4L616.3,880.5L616.8,878.7L614.1,878.7L611.9,879.6L608.5,879.8L604.5,878.3L601.8,879.6L598.4,878.5L596.8,876.7L595.0,874.5L595.7,872.7L594.4,871.1L597.3,870.2L600.6,869.8L601.3,868.6L606.2,868.2L610.7,866.6L614.5,866.6L617.5,868.2L621.9,869.1L626.4,868.9L628.9,867.5L628.7,865.5L625.3,863.5L621.9,861.5L619.3,859.9L618.4,859.0L620.8,856.5L623.5,855.0L619.7,855.4L614.8,857.0L614.1,858.6L617.2,859.5L614.8,859.9L612.3,861.2L610.7,860.8L608.7,859.0L611.0,857.7L607.4,856.5L604.7,856.5L602.2,859.2L600.0,861.5L599.3,863.5L597.7,865.5L598.6,867.5L600.4,868.4L598.4,868.9L596.2,869.5L594.4,870.0L593.9,869.3L590.5,869.1L589.0,870.7L586.7,870.2L586.5,872.2L587.6,873.8L589.4,875.6L587.2,875.8L587.6,878.3L585.8,878.9L584.3,878.0L583.1,876.0L582.9,874.2L581.6,872.2L579.3,870.0L579.3,867.1L577.1,865.5L573.7,863.9L570.4,862.1L568.8,859.9L566.3,858.6L563.4,859.2L563.4,861.5L566.1,863.3L568.1,865.9L571.5,867.1L573.7,868.9L576.9,870.7L576.2,871.3L573.7,870.0L572.8,871.8L574.0,873.3L572.6,874.7L570.8,875.6L571.5,873.6L570.8,871.1L568.1,869.5L564.8,868.2L563.0,867.1L560.3,865.5L558.9,863.3L557.6,861.9L555.3,861.2L552.4,862.6L549.7,864.2L546.8,863.5L544.6,863.3L542.6,864.4L542.8,865.9L542.3,867.1L540.5,868.0L537.4,869.3L535.2,871.5L535.2,873.3L536.0,874.0L534.3,875.6L533.8,876.5L531.1,878.3L525.7,878.5L523.7,879.8L523.0,880.1L521.2,878.5L519.0,877.4L515.6,877.8L515.9,874.5L514.5,873.8L515.9,870.0L515.9,866.6L515.0,864.2L517.7,862.8L523.3,863.3L527.8,863.3L531.6,863.5L532.9,861.0L532.9,857.7L530.7,855.0L526.0,853.6L525.1,852.3L528.9,851.4L532.0,851.8L531.6,849.4L533.1,850.0L536.0,849.8L539.0,848.3L539.4,846.7L541.2,846.2L543.4,845.6L545.0,843.8L546.4,842.0L549.1,840.9L551.3,840.4L554.7,840.4L555.3,839.1L554.9,836.4L553.8,834.1L554.2,832.8L556.9,832.6L559.4,831.5L558.9,834.1L560.0,834.6L558.0,836.8L557.6,837.9L559.8,839.1L560.3,839.7L563.0,839.1L565.9,838.8L567.7,840.0L571.5,839.1L576.6,837.9L579.3,838.8L580.5,837.7L582.7,836.8L582.7,833.5L584.0,831.9L586.3,831.5L587.9,833.0L590.1,832.3L590.3,830.1L588.3,828.1L591.7,827.4L598.4,827.2L603.3,826.5L599.5,825.2L593.9,825.4L590.5,826.3L587.0,826.5L583.6,824.7L583.4,822.0L583.1,819.6L586.1,818.0L590.5,815.8L592.3,814.4L589.9,813.3L585.4,813.5L583.4,815.8L582.2,817.8L577.1,819.8L574.4,822.5L574.2,824.7L577.3,825.9L578.0,827.4L575.5,828.8L573.1,830.3L572.6,833.0L571.5,834.8L568.1,835.0L567.4,836.6L564.8,836.6L563.9,834.8L562.1,831.9L560.7,828.8L559.4,827.9L559.1,826.7L556.9,828.5L554.7,830.3L551.3,830.8L548.2,829.0L546.8,826.3L546.8,822.9L547.9,821.1L551.3,819.6L554.7,818.5L558.0,816.9L561.4,815.1L563.6,812.9L565.9,810.6L568.8,808.4L572.6,806.8L576.0,805.0L581.6,803.9L587.2,802.8L592.8,801.4L598.4,801.7L604.7,803.2L605.1,804.3L609.6,805.2L616.3,805.7L623.1,807.9L627.6,809.9L627.6,811.7L623.1,812.6L616.3,812.2L610.7,811.3L609.6,812.2L613.6,814.0L613.6,816.2L618.6,817.3L620.8,816.4L618.1,814.9L624.9,815.8L626.4,813.3L629.8,811.7L634.3,812.4L635.0,809.5L633.6,807.3L638.8,808.4L639.4,811.1L643.3,809.1L647.7,807.9L654.5,806.6L657.8,807.9L663.4,807.0L669.0,806.6L672.4,804.3L679.1,805.5L683.6,806.6L688.1,807.7L690.4,806.4L685.9,804.6L685.9,801.7L689.2,799.4L690.4,797.2L696.0,796.7L698.9,799.4L698.2,802.8L698.6,806.1L700.4,808.4L700.4,810.6L703.8,808.4L701.6,805.0L701.6,801.7L703.8,798.7L709.4,799.0L712.8,798.3L716.1,796.1L721.8,795.4L729.6,795.2L730.7,792.7L737.4,791.4L746.4,790.2L755.4,789.3L762.1,788.2L769.5,786.7L773.3,787.5L777.8,788.9L786.8,789.3L790.2,790.9L782.3,793.8L787.9,795.4L791.3,795.8L800.2,796.1L811.5,795.8L820.4,796.3L824.9,798.7L826.0,801.7L831.6,800.5L838.4,800.3L845.1,800.5L849.6,798.3L854.1,797.9L863.0,798.5L872.0,800.3L877.6,801.9L887.7,801.7L894.4,803.5L894.4,804.8L903.4,804.6L911.3,804.6L918.0,804.1L916.9,806.1L925.8,804.3L934.8,805.2L939.3,806.4M131.9,806.4L138.6,807.7L147.6,810.6L154.3,812.4L153.2,813.8L148.7,816.2L143.1,815.5L140.9,814.0L135.3,813.8L131.9,814.7M646.2,987.6L648.4,995.4L646.6,999.9L644.4,1006.6L642.1,1013.3L641.0,1016.7L637.0,1017.8L633.6,1013.3L633.2,1008.9L635.0,1004.4L634.3,999.9L636.5,996.5L641.0,994.7L643.3,991.6ZM829.2,884.5L831.6,883.9L835.0,883.6L838.4,883.2L838.8,885.0L840.2,885.7L842.4,883.6L844.0,883.2L846.9,883.0L849.1,882.3L851.4,880.7L850.9,878.3L851.8,875.6L853.4,872.2L853.0,868.2L850.3,868.4L849.6,871.1L849.1,873.8L846.2,877.1L843.3,877.1L842.2,878.5L840.6,880.7L837.3,881.0L832.8,881.4L829.4,883.6ZM849.6,867.7L850.3,863.9L853.4,859.0L856.3,861.2L861.5,861.9L861.9,863.7L857.4,866.6L853.0,865.5L850.7,865.9ZM827.2,885.7L830.5,885.2L831.2,887.2L829.4,890.6L827.8,890.6L827.2,887.9ZM832.8,884.8L836.8,883.9L837.3,885.2L833.9,887.2L832.5,886.1ZM854.1,839.1L856.3,842.0L857.0,846.5L858.6,850.3L856.3,853.2L857.0,856.5L854.1,857.7L854.1,853.2L854.1,848.7L853.6,844.2ZM808.1,904.3L809.0,905.8L807.0,911.0L805.2,909.2L806.5,905.6ZM779.4,917.7L782.3,915.9L784.5,916.8L782.3,919.5L779.6,919.3ZM714.6,939.2L717.7,941.7L719.1,945.0L717.3,946.8L715.5,947.3L714.6,943.9ZM805.4,924.9L806.1,919.3L809.7,919.5L809.9,923.7L808.5,927.1L810.3,929.3L813.7,931.6L812.6,932.0L809.2,929.8L806.5,929.8L805.9,927.8L804.5,925.3ZM809.2,945.0L812.6,941.7L817.1,939.0L819.3,942.8L818.6,946.6L816.8,947.7L813.7,945.5ZM809.2,934.3L811.5,934.9L811.9,938.3L810.3,939.4L809.2,937.2ZM814.4,932.7L817.1,933.1L817.1,936.1L815.9,937.9L814.8,936.1ZM798.7,941.7L801.4,939.9L803.6,935.4L802.5,937.6L800.2,940.5ZM780.1,957.3L782.3,956.7L785.0,957.3L785.7,954.7L789.0,953.5L791.3,950.4L794.6,948.4L797.6,945.2L799.6,946.6L802.5,949.1L800.7,951.1L799.6,953.3L800.2,956.2L802.5,958.5L799.8,959.1L799.1,961.8L796.9,964.1L796.4,967.4L795.8,969.2L792.8,969.9L789.0,968.1L786.3,968.3L783.0,967.0L782.3,964.1L780.5,961.8L780.1,959.6ZM749.3,948.2L754.3,949.1L757.2,952.2L760.6,955.1L763.2,956.7L766.6,958.9L768.2,961.8L770.0,964.1L773.3,967.0L773.3,970.8L772.9,973.7L770.0,973.7L766.6,971.2L763.2,967.4L761.0,964.1L758.8,960.7L757.2,957.3L754.3,954.4L751.4,951.7ZM771.8,975.7L774.5,974.1L778.9,975.5L784.1,975.3L788.4,976.2L792.2,978.2L792.2,980.0L786.8,979.3L781.2,978.2L776.7,977.9L773.3,976.8ZM803.6,973.0L803.6,968.5L802.3,966.7L804.1,961.8L804.7,959.1L807.0,958.0L811.5,958.7L815.9,957.1L814.8,959.6L811.5,959.8L807.0,959.8L805.2,962.5L807.6,962.9L812.1,962.7L810.3,964.5L808.1,965.2L809.9,968.1L811.5,970.1L810.3,972.6L808.8,971.2L807.0,967.9L805.6,967.4L805.6,973.0ZM829.4,962.5L832.8,961.6L836.1,962.5L836.8,966.3L839.5,968.1L842.9,964.7L847.3,965.2L851.8,966.5L857.4,968.5L860.8,970.8L863.0,973.0L866.4,974.8L865.7,976.4L868.7,980.2L872.0,984.2L867.5,983.5L864.2,980.9L860.8,978.6L857.4,979.7L855.2,981.3L851.8,981.3L848.5,979.1L845.1,979.3L846.2,976.4L845.1,973.0L840.6,971.0L836.1,969.7L833.9,969.7L833.4,967.4L835.7,965.9L831.6,965.6L829.4,963.6ZM795.8,979.5L802.5,979.3L807.0,979.5L811.5,979.3L811.5,980.4L804.7,980.6L798.0,980.9L795.8,980.6ZM812.6,983.8L815.9,981.5L820.4,979.5L819.3,980.9L814.8,983.5ZM821.6,956.7L823.8,957.3L823.1,960.7L822.2,962.5L821.6,959.6ZM822.7,967.4L829.0,967.9L828.3,969.0L823.1,968.5ZM868.7,973.0L874.3,971.9L877.0,970.1L876.5,973.0L872.0,974.6L868.7,974.1ZM790.2,1010.0L791.7,1009.5L794.6,1007.3L798.0,1006.8L802.5,1005.5L807.0,1004.4L809.9,1001.0L809.7,998.8L812.6,999.5L813.0,997.0L815.9,995.0L819.3,992.1L822.7,993.9L826.0,994.1L826.7,990.9L829.0,988.5L832.8,987.6L833.2,986.0L838.4,987.6L842.4,988.0L841.7,990.9L840.2,994.3L844.0,996.5L847.8,999.5L851.4,999.9L853.0,995.4L853.2,990.9L854.1,986.5L855.4,984.7L857.4,988.7L858.1,992.7L861.5,994.3L862.6,998.8L863.7,1003.0L867.5,1005.5L870.4,1008.9L873.8,1012.2L877.0,1015.6L879.2,1018.9L879.9,1023.9L878.7,1029.0L877.6,1033.5L874.9,1036.4L873.1,1040.2L872.0,1044.3L867.5,1045.6L863.7,1048.1L860.4,1046.3L857.4,1047.6L853.0,1046.5L849.6,1044.7L848.5,1041.3L845.8,1040.4L845.6,1038.0L844.7,1034.6L842.9,1036.9L840.6,1039.1L839.0,1038.0L836.6,1034.6L832.8,1032.4L829.4,1031.3L824.9,1031.7L820.4,1032.8L817.1,1033.9L813.7,1035.7L809.2,1036.9L804.7,1036.9L800.2,1039.1L795.8,1038.9L793.5,1037.5L794.0,1034.6L795.1,1031.9L793.5,1027.9L792.4,1024.5L790.8,1020.1L789.7,1016.7L790.8,1013.3ZM860.1,1051.9L864.2,1052.8L868.0,1052.1L868.2,1055.2L866.4,1057.7L863.0,1058.1L861.3,1055.2ZM922.9,1037.8L926.5,1039.8L929.2,1042.5L930.3,1044.9L934.8,1044.9L935.9,1045.8L933.2,1048.7L932.1,1051.4L928.8,1053.9L927.4,1053.2L928.1,1050.3L925.4,1048.7L927.4,1045.8L927.0,1042.5L923.6,1039.5ZM922.9,1051.4L926.3,1053.0L925.8,1054.8L923.2,1058.1L919.8,1059.9L918.7,1063.3L915.8,1065.1L911.3,1064.2L909.0,1063.3L912.4,1059.9L916.9,1057.0L920.2,1054.3L921.8,1052.1ZM523.3,848.5L527.8,847.8L531.1,847.1L535.6,846.9L538.7,846.0L537.4,845.1L539.4,842.9L536.3,842.0L535.6,840.4L532.9,838.4L532.0,836.4L530.0,835.3L531.1,831.9L527.8,831.5L528.9,829.4L524.4,829.4L522.6,831.9L523.3,834.6L524.4,836.8L527.8,837.7L528.9,839.7L528.9,841.1L525.5,841.3L526.2,843.1L523.9,844.4L527.8,845.3L528.9,845.8L525.5,846.5ZM513.2,845.1L517.7,844.9L521.5,843.8L522.1,840.9L522.8,838.2L519.9,836.8L516.5,837.9L513.2,839.3L514.3,841.5L513.2,843.8ZM345.2,911.6L349.4,909.2L355.1,909.0L360.7,910.7L366.3,914.3L369.2,915.5L366.3,916.1L361.3,916.1L362.9,914.3L359.5,912.5L355.1,911.4L351.7,910.5L348.3,911.0ZM368.7,919.5L371.9,916.1L375.2,916.1L378.8,916.6L382.2,918.8L379.7,919.7L376.4,919.9L374.8,921.1L371.9,919.9ZM360.0,919.5L364.5,919.9L364.0,920.6L360.7,920.8ZM384.9,919.5L388.2,919.7L388.0,920.4L384.9,920.4ZM563.6,875.6L570.6,875.1L569.5,878.5L563.6,876.5ZM554.0,868.9L557.1,868.6L557.1,872.9L554.4,873.3ZM554.9,864.6L556.9,864.6L556.7,867.7L555.1,867.3ZM588.5,881.2L594.4,881.6L593.9,882.3L588.5,881.9ZM608.0,882.3L613.0,881.0L611.9,882.5L608.7,883.2ZM398.8,1076.1L405.5,1075.6L405.5,1077.9L398.8,1077.9ZM651.1,800.5L654.5,798.3L659.0,793.8L667.9,790.5L681.4,788.2L689.2,788.7L674.7,792.3L665.7,794.9L663.4,798.3L664.6,802.1L656.7,802.1ZM305.7,798.7L313.6,800.8L319.2,798.3L318.1,795.4L310.2,795.2ZM321.4,799.0L327.0,799.4L332.6,797.2L331.5,794.9L322.5,794.9ZM371.9,785.5L380.8,787.1L376.4,789.8L383.1,790.5L394.3,790.0L404.4,791.6L410.0,797.2L413.4,801.7L415.6,805.5L416.7,810.6L419.0,815.1L423.5,820.7L427.9,824.1L434.7,826.3L439.2,826.3L441.4,821.8L444.8,816.2L452.6,813.3L461.6,809.5L472.8,807.9L479.5,805.0L486.3,802.8L485.1,799.4L488.5,794.9L493.0,790.5L495.2,786.0L496.4,781.5L508.7,778.1L490.7,777.0L468.3,773.7L445.9,773.9L423.5,775.9L401.0,777.0L389.8,779.3L383.1,781.5L387.6,783.7ZM333.8,789.6L342.7,789.3L353.9,789.8L360.7,788.7L365.1,785.5L369.6,783.1L378.6,781.5L387.6,779.3L396.5,777.0L392.1,775.2L374.1,774.6L356.2,774.8L338.2,776.3L331.5,778.1L342.7,779.9L346.1,782.6L338.2,785.3L334.9,787.5ZM329.3,792.7L338.2,793.8L347.2,793.6L356.2,793.1L355.1,791.1L345.0,790.5L336.0,789.3L329.3,788.9L320.3,788.7L324.8,791.4ZM274.3,792.3L281.0,793.8L288.9,792.9L297.9,792.7L299.0,790.7L291.1,788.9L284.4,791.1L277.7,789.6L272.1,790.5ZM302.4,792.0L311.3,792.7L316.9,791.4L314.7,789.1L304.6,789.3ZM320.3,781.9L329.3,785.3L339.4,785.3L340.5,781.9L332.6,779.7L324.8,779.9ZM560.3,782.6L571.5,781.5L584.9,780.8L596.2,781.5L589.4,783.7L582.7,785.3L576.0,788.2L569.2,788.9L564.8,786.0ZM750.9,783.7L759.9,781.9L768.8,780.4L771.1,783.7L759.9,785.5ZM842.9,792.7L854.1,790.5L865.3,791.6L872.0,792.3L863.0,793.1L849.6,793.6ZM935.9,801.7L939.3,800.5L939.3,801.9ZM638.8,780.8L659.0,781.5L674.7,780.4L670.2,778.1L647.7,779.3ZM655.1,932.5L657.8,932.5L657.6,933.1L655.4,933.1ZM260.9,790.0L268.7,790.9L275.4,788.7L268.7,787.1L262.0,788.2ZM312.4,805.7L318.1,804.3L321.4,806.1L316.9,807.0ZM301.2,784.9L311.3,786.0L313.6,783.7L304.6,783.1ZM316.9,786.0L321.4,785.5L319.2,784.0ZM353.9,797.2L360.7,797.6L364.0,796.5L357.3,795.4ZM349.4,820.0L352.8,820.7L356.2,820.3L351.7,819.6ZM355.1,821.4L357.3,822.5L357.7,821.1ZM351.7,841.8L355.1,842.4L354.4,841.5ZM390.9,848.9L396.5,850.5L397.0,850.0L392.1,848.7ZM391.4,855.9L396.1,856.5L395.4,857.4L392.1,856.8ZM237.3,839.5L240.2,840.0L241.3,843.5L238.4,842.0ZM189.1,831.2L193.6,830.8L194.0,832.6L189.5,833.2ZM185.3,916.8L186.8,915.5L188.4,916.8L186.8,918.1ZM183.7,914.1L184.6,913.4L185.5,914.1L184.6,914.8ZM180.3,912.5L181.2,911.8L182.1,912.5L181.2,913.3ZM177.1,911.4L177.9,910.8L178.7,911.4L177.9,912.0ZM330.4,962.0L331.5,961.1L332.6,962.0L331.5,962.9ZM332.4,961.4L333.1,960.8L333.8,961.4L333.1,961.9ZM497.5,897.3L498.6,896.4L499.7,897.3L498.6,898.2ZM499.9,898.0L500.8,897.3L501.7,898.0L500.8,898.7ZM503.1,896.9L504.2,896.0L505.3,896.9L504.2,897.8ZM495.0,896.6L495.7,896.1L496.4,896.6L495.7,897.2ZM472.1,874.5L472.8,873.9L473.5,874.5L472.8,875.0ZM477.7,876.0L478.4,875.5L479.1,876.0L478.4,876.6ZM480.9,924.9L481.8,924.1L482.7,924.9L481.8,925.6ZM482.2,927.1L482.9,926.6L483.6,927.1L482.9,927.6ZM663.9,1006.2L664.8,1005.5L665.7,1006.2L664.8,1006.9ZM659.2,1008.0L660.1,1007.2L661.0,1008.0L660.1,1008.7ZM689.7,1071.1L691.5,1069.7L693.3,1071.1L691.5,1072.6ZM451.3,1082.3L453.1,1080.9L454.9,1082.3L453.1,1083.8ZM933.2,1000.6L934.8,999.3L936.4,1000.6L934.8,1001.8ZM936.6,997.9L937.7,997.0L938.9,997.9L937.7,998.8ZM904.5,1008.4L906.8,1006.6L909.0,1008.4L906.8,1010.2ZM903.0,1006.6L904.1,1005.7L905.2,1006.6L904.1,1007.5ZM908.1,1010.0L909.2,1009.1L910.4,1010.0L909.2,1010.9ZM892.9,982.0L894.4,980.7L896.0,982.0L894.4,983.2ZM888.6,978.6L890.0,977.5L891.3,978.6L890.0,979.7ZM885.5,976.4L886.6,975.5L887.7,976.4L886.6,977.3ZM896.7,984.0L897.8,983.1L898.9,984.0L897.8,984.9ZM881.4,974.1L883.2,972.7L885.0,974.1L883.2,975.6ZM909.0,995.4L910.1,994.5L911.3,995.4L910.1,996.3ZM912.2,999.9L913.1,999.2L914.0,999.9L913.1,1000.6ZM148.3,991.4L149.2,990.7L150.1,991.4L149.2,992.1ZM137.5,844.7L138.6,843.8L139.7,844.7L138.6,845.6ZM144.2,843.8L145.4,842.9L146.5,843.8L145.4,844.7ZM153.2,842.4L154.3,841.5L155.4,842.4L154.3,843.3ZM157.5,841.3L158.8,840.2L160.2,841.3L158.8,842.4ZM160.6,840.2L162.2,838.9L163.7,840.2L162.2,841.4ZM922.5,842.2L923.6,841.3L924.7,842.2L923.6,843.1ZM932.8,844.2L933.7,843.5L934.6,844.2L933.7,844.9ZM862.4,861.0L863.5,860.1L864.6,861.0L863.5,861.9ZM866.2,858.8L867.5,857.7L868.9,858.8L867.5,859.9ZM871.1,857.0L872.0,856.3L872.9,857.0L872.0,857.7ZM876.7,854.7L877.6,854.0L878.5,854.7L877.6,855.5ZM880.1,851.4L881.0,850.7L881.9,851.4L881.0,852.1ZM883.9,848.0L885.0,847.1L886.1,848.0L885.0,848.9ZM813.0,906.0L813.7,905.5L814.4,906.0L813.7,906.6ZM821.3,901.3L822.5,900.4L823.6,901.3L822.5,902.2ZM825.1,897.3L826.0,896.6L826.9,897.3L826.0,898.0ZM827.4,892.6L828.3,891.9L829.2,892.6L828.3,893.3ZM398.1,928.2L398.8,927.7L399.5,928.2L398.8,928.8ZM396.8,924.4L397.7,923.7L398.6,924.4L397.7,925.1ZM397.4,926.2L398.1,925.7L398.8,926.2L398.1,926.7ZM398.1,929.6L398.8,929.0L399.5,929.6L398.8,930.1ZM397.0,937.2L398.1,936.3L399.2,937.2L398.1,938.1ZM401.5,931.1L402.2,930.6L402.8,931.1L402.2,931.7ZM360.7,904.7L361.8,903.8L362.9,904.7L361.8,905.6ZM364.3,906.9L365.1,906.2L366.0,906.9L365.1,907.7ZM359.5,901.1L360.7,900.2L361.8,901.1L360.7,902.0ZM369.9,913.7L370.8,912.9L371.7,913.7L370.8,914.4ZM389.7,888.3L390.3,887.9L390.8,888.3L390.3,888.8ZM541.2,872.0L542.3,871.1L543.4,872.0L542.3,872.9ZM543.9,871.1L544.6,870.6L545.2,871.1L544.6,871.6ZM538.1,873.3L538.7,872.8L539.4,873.3L538.7,873.9ZM567.3,880.3L567.9,879.8L568.5,880.3L567.9,880.7ZM519.0,821.8L519.9,821.1L520.8,821.8L519.9,822.5ZM531.8,825.6L532.7,824.9L533.6,825.6L532.7,826.3ZM528.2,828.5L528.9,828.0L529.5,828.5L528.9,829.1ZM520.1,831.9L521.0,831.2L521.9,831.9L521.0,832.6ZM518.8,831.2L519.5,830.7L520.1,831.2L519.5,831.8ZM698.9,952.9L699.3,952.5L699.8,952.9L699.3,953.2ZM742.6,932.7L743.7,931.8L744.9,932.7L743.7,933.6ZM745.3,945.0L746.0,944.5L746.6,945.0L746.0,945.6ZM659.5,971.0L660.1,970.6L660.6,971.0L660.1,971.5ZM632.0,986.9L632.7,986.4L633.4,986.9L632.7,987.4ZM636.4,989.4L637.0,988.9L637.5,989.4L637.0,989.8ZM522.3,996.3L522.8,995.9L523.4,996.3L522.8,996.8ZM502.7,978.4L503.3,977.9L503.9,978.4L503.3,978.8ZM549.7,960.0L550.4,959.5L551.1,960.0L550.4,960.6ZM554.3,952.9L555.1,952.2L555.9,952.9L555.1,953.5ZM836.6,944.1L837.3,943.6L837.9,944.1L837.3,944.7ZM859.7,930.5L860.4,929.9L861.0,930.5L860.4,931.0ZM861.8,926.7L862.4,926.2L862.9,926.7L862.4,927.1ZM199.5,1000.1L200.3,999.5L201.1,1000.1L200.3,1000.8ZM142.0,1008.2L142.7,1007.7L143.3,1008.2L142.7,1008.7ZM289.7,1021.4L290.2,1021.0L290.8,1021.4L290.2,1021.9ZM378.6,1080.5L378.6,1080.5L378.6,1080.5L378.6,1080.5ZM577.3,794.0L578.2,793.3L579.1,794.0L578.2,794.8ZM515.4,801.7L516.5,800.8L517.7,801.7L516.5,802.6ZM149.2,818.5L151.0,817.0L152.8,818.5L151.0,819.9ZM161.3,825.9L162.9,824.6L164.4,825.9L162.9,827.1ZM153.0,832.6L153.7,832.0L154.3,832.6L153.7,833.1ZM906.6,837.5L907.9,836.4L909.2,837.5L907.9,838.6ZM823.8,968.1L823.8,968.1L823.8,968.1L823.8,968.1ZM818.0,968.3L819.3,967.2L820.7,968.3L819.3,969.4ZM827.2,961.4L827.2,961.4L827.2,961.4L827.2,961.4ZM820.7,964.3L821.6,963.6L822.5,964.3L821.6,965.0ZM835.9,974.6L837.3,973.5L838.6,974.6L837.3,975.7ZM829.4,977.7L830.5,976.8L831.6,977.7L830.5,978.6ZM817.1,979.1L817.1,979.1L817.1,979.1L817.1,979.1ZM803.2,982.4L804.7,981.2L806.3,982.4L804.7,983.7ZM799.1,980.0L799.1,980.0L799.1,980.0L799.1,980.0ZM792.8,979.5L794.0,978.6L795.1,979.5L794.0,980.4ZM795.5,980.0L796.4,979.2L797.3,980.0L796.4,980.7ZM753.4,958.2L754.3,957.5L755.2,958.2L754.3,959.0ZM756.5,964.1L757.6,963.2L758.8,964.1L757.6,965.0ZM759.4,967.0L760.3,966.3L761.2,967.0L760.3,967.7ZM772.2,965.6L773.6,964.6L774.9,965.6L773.6,966.7ZM776.7,967.2L777.6,966.5L778.5,967.2L777.6,967.9ZM777.6,952.0L778.3,951.4L778.9,952.0L778.3,952.5ZM787.9,976.4L789.0,975.5L790.2,976.4L789.0,977.3ZM874.9,967.9L876.5,966.6L878.1,967.9L876.5,969.1ZM864.4,965.2L865.3,964.5L866.2,965.2L865.3,965.9ZM873.1,966.5L873.8,966.0L874.5,966.5L873.8,967.1ZM882.6,973.0L882.6,973.0L882.6,973.0L882.6,973.0ZM812.4,937.6L813.5,936.7L814.6,937.6L813.5,938.5ZM814.4,936.1L815.5,935.2L816.6,936.1L815.5,937.0ZM805.6,933.1L807.0,932.1L808.3,933.1L807.0,934.2ZM800.7,938.7L800.7,938.7L800.7,938.7L800.7,938.7ZM645.5,856.5L650.0,855.6L654.5,856.5L654.5,859.2L650.7,859.9L650.0,861.2L648.4,861.0L651.1,863.9L653.6,865.1L653.8,867.7L656.7,868.9L654.5,871.1L655.6,872.9L656.3,876.7L652.2,878.3L648.9,877.8L645.5,876.5L645.3,874.5L646.2,872.2L646.6,870.0L644.4,867.1L642.1,864.4L641.0,861.0L642.1,858.6ZM329.3,856.1L334.9,853.2L340.5,851.6L345.0,853.4L345.9,856.3L341.6,856.5L338.2,855.4L333.8,856.1ZM338.7,866.6L342.0,866.6L342.7,862.1L345.0,858.1L341.6,858.1L338.7,861.0ZM346.1,857.7L351.7,857.2L356.2,859.2L356.2,861.0L352.4,863.9L348.3,862.6L348.8,859.5ZM348.6,867.3L353.9,867.5L358.4,865.1L355.1,864.8L350.6,866.2ZM356.6,863.7L362.9,863.7L364.7,862.1L360.7,862.1L357.3,862.6ZM313.6,847.8L319.2,847.6L318.1,843.1L315.8,840.2L313.1,840.9L314.7,844.2ZM273.2,824.1L279.9,824.1L286.7,820.7L290.0,820.0L284.4,821.4L278.8,821.4L274.3,822.9ZM256.4,812.9L266.5,815.1L271.0,812.2L266.5,810.6L259.7,811.3ZM285.5,829.2L291.1,828.1L297.9,827.9L291.1,827.4ZM606.9,960.0L611.9,960.0L613.6,964.1L610.7,967.0L606.9,966.3ZM601.1,968.3L602.4,970.8L604.0,975.3L605.1,980.2L603.6,979.3L601.8,974.1L600.9,970.8ZM611.9,982.0L613.2,985.3L614.1,989.8L614.5,992.7L613.2,992.1L612.5,987.6L611.6,984.2ZM768.4,845.1L772.2,844.9L777.8,842.0L781.9,837.1L781.2,835.9L776.7,839.7L772.2,842.4ZM700.4,858.8L703.8,855.9L710.5,856.5L713.2,855.9L710.5,857.4L703.8,857.2L702.0,859.9ZM666.4,859.9L669.7,856.3L673.5,856.5L672.4,860.3L668.4,862.8L666.4,861.7ZM603.3,826.3L608.5,825.6L609.2,823.6L605.1,822.7L602.9,824.1ZM613.0,824.1L616.3,823.4L615.2,820.7L613.0,821.1ZM565.9,932.0L568.8,932.0L568.8,929.8L565.9,929.8ZM378.6,995.2L380.8,995.9L380.8,997.4L378.6,996.5Z" fill="none" stroke="#808080" stroke-width="2.3" stroke-linejoin="round"/>
<rect x="131.9" y="759.1" width="807.4" height="335.9999999999999" fill="none" stroke="#1a1a1a" stroke-width="2.0"/>
<path d="M131.9,759.1v-9.3M131.9,1095.1v9.3M266.5,759.1v-9.3M266.5,1095.1v9.3M401.0,759.1v-9.3M401.0,1095.1v9.3M535.6,759.1v-9.3M535.6,1095.1v9.3M670.2,759.1v-9.3M670.2,1095.1v9.3M804.7,759.1v-9.3M804.7,1095.1v9.3M939.3,759.1v-9.3M939.3,1095.1v9.3M131.9,759.1h-9.3M939.3,759.1h9.3M131.9,826.3h-9.3M939.3,826.3h9.3M131.9,893.5h-9.3M939.3,893.5h9.3M131.9,960.7h-9.3M939.3,960.7h9.3M131.9,1027.9h-9.3M939.3,1027.9h9.3M131.9,1095.1h-9.3M939.3,1095.1h9.3" stroke="#1a1a1a" stroke-width="2.0" fill="none"/>
<text x="131.9" y="1132.3" font-size="25.4" text-anchor="middle" fill="#1a1a1a" >180°</text>
<text x="266.5" y="1132.3" font-size="25.4" text-anchor="middle" fill="#1a1a1a" >120°W</text>
<text x="401.0" y="1132.3" font-size="25.4" text-anchor="middle" fill="#1a1a1a" >60°W</text>
<text x="535.6" y="1132.3" font-size="25.4" text-anchor="middle" fill="#1a1a1a" >0°</text>
<text x="670.2" y="1132.3" font-size="25.4" text-anchor="middle" fill="#1a1a1a" >60°E</text>
<text x="804.7" y="1132.3" font-size="25.4" text-anchor="middle" fill="#1a1a1a" >120°E</text>
<text x="939.3" y="1132.3" font-size="25.4" text-anchor="middle" fill="#1a1a1a" >180°</text>
<text x="118.3" y="768.3" font-size="25.4" text-anchor="end" fill="#1a1a1a" >90°N</text>
<text x="118.3" y="835.5" font-size="25.4" text-anchor="end" fill="#1a1a1a" >60°N</text>
<text x="118.3" y="902.7" font-size="25.4" text-anchor="end" fill="#1a1a1a" >30°N</text>
<text x="118.3" y="969.9" font-size="25.4" text-anchor="end" fill="#1a1a1a" >0°</text>
<text x="118.3" y="1037.1" font-size="25.4" text-anchor="end" fill="#1a1a1a" >30°S</text>
<text x="118.3" y="1104.3" font-size="25.4" text-anchor="end" fill="#1a1a1a" >60°S</text>
<text x="535.6" y="1169.6" font-size="33.0" text-anchor="middle" fill="#1a1a1a" >Longitude</text>
<text transform="translate(43.9,927.1) rotate(-90)" font-size="33.0" text-anchor="middle" fill="#1a1a1a">Latitude</text>
<g transform="translate(1237.1,759.1) scale(3.15703,3.15000)" shape-rendering="crispEdges" fill="none" stroke-width="1.04">
<path stroke="#5a3714" d="M216,18.5h2M216,19.5h2M48,25.5h3M50,26.5h1M51,27.5h1M54,27.5h1M49,28.5h4M54,28.5h2M49,29.5h4M54,29.5h1M56,29.5h1M185,29.5h1M51,30.5h2M54,30.5h1M56,30.5h1M54,31.5h1M126,34.5h1M62,35.5h5M41,36.5h2M61,36.5h6M59,37.5h3M63,37.5h4M156,37.5h4M60,38.5h7M158,38.5h3M177,38.5h1M59,39.5h8M69,39.5h1M71,39.5h2M161,39.5h1M177,39.5h1M60,40.5h1M62,40.5h5M68,40.5h4M62,41.5h4M68,41.5h2M194,44.5h1M195,45.5h2M195,46.5h4M54,47.5h5M188,47.5h2M195,47.5h4M54,48.5h5M186,48.5h1M188,48.5h2M194,48.5h6M54,49.5h5M196,49.5h4M54,50.5h1M57,50.5h2M196,50.5h2M195,51.5h2M200,51.5h1M152,52.5h4M124,53.5h1M152,53.5h4M199,53.5h1M122,54.5h10M152,54.5h4M122,55.5h6M129,55.5h10M153,55.5h3M82,56.5h2M130,56.5h11M80,57.5h5M135,57.5h7M156,57.5h2M79,58.5h5M154,58.5h4M77,59.5h5M154,59.5h4M76,60.5h4M154,60.5h4M77,61.5h1M156,61.5h2M156,62.5h1M154,65.5h2M154,66.5h2M154,67.5h1M91,68.5h1M95,68.5h1M88,69.5h5M94,69.5h3M86,70.5h1M88,70.5h2M91,70.5h1M86,71.5h2M83,72.5h2M93,72.5h1M138,72.5h2M222,72.5h3M90,73.5h1M92,73.5h3M137,73.5h3M151,73.5h1M222,73.5h3M89,74.5h4M142,74.5h1M150,74.5h3M89,75.5h2M95,75.5h3M140,75.5h3M147,75.5h6M89,76.5h7M139,76.5h4M147,76.5h5M153,76.5h1M231,76.5h1M88,77.5h8M138,77.5h1M142,77.5h1M148,77.5h4M88,78.5h8M148,78.5h3M91,79.5h6M160,79.5h1M92,80.5h5M160,80.5h1M233,80.5h1M234,81.5h1M234,82.5h2"/>
<path stroke="#8f571c" d="M146,14.5h1M216,17.5h1M215,18.5h1M218,18.5h1M215,19.5h1M218,19.5h1M217,20.5h3M51,25.5h1M48,26.5h2M51,26.5h3M48,27.5h3M52,27.5h2M166,27.5h4M53,28.5h1M56,28.5h1M165,28.5h5M184,28.5h2M53,29.5h1M55,29.5h1M184,29.5h1M186,29.5h3M50,30.5h1M53,30.5h1M55,30.5h1M57,30.5h1M182,30.5h3M53,31.5h1M55,31.5h5M168,31.5h1M182,31.5h2M56,32.5h4M143,32.5h1M182,32.5h2M58,33.5h2M142,33.5h3M170,33.5h1M58,34.5h3M63,34.5h2M66,34.5h1M68,34.5h1M127,34.5h1M142,34.5h1M170,34.5h2M41,35.5h2M59,35.5h3M67,35.5h1M73,35.5h1M142,35.5h3M151,35.5h1M177,35.5h1M59,36.5h2M72,36.5h3M143,36.5h2M150,36.5h2M155,36.5h4M177,36.5h1M41,37.5h2M72,37.5h2M150,37.5h2M155,37.5h1M160,37.5h1M177,37.5h1M42,38.5h1M58,38.5h2M161,38.5h1M176,38.5h1M178,38.5h1M57,39.5h2M67,39.5h2M70,39.5h1M159,39.5h2M176,39.5h1M178,39.5h1M59,40.5h1M61,40.5h1M67,40.5h1M161,40.5h1M61,41.5h1M66,41.5h2M70,41.5h1M62,42.5h3M66,42.5h4M188,43.5h3M194,43.5h2M187,44.5h3M192,44.5h2M195,44.5h2M198,44.5h1M191,45.5h1M193,45.5h2M197,45.5h2M208,45.5h1M54,46.5h1M193,46.5h2M199,46.5h1M207,46.5h1M53,47.5h1M187,47.5h1M190,47.5h1M194,47.5h1M199,47.5h2M53,48.5h1M185,48.5h1M187,48.5h1M190,48.5h1M193,48.5h1M200,48.5h1M53,49.5h1M187,49.5h3M194,49.5h2M200,49.5h1M55,50.5h2M195,50.5h1M198,50.5h4M56,51.5h3M131,51.5h1M152,51.5h4M197,51.5h3M201,51.5h1M128,52.5h4M151,52.5h1M195,52.5h1M198,52.5h3M121,53.5h3M125,53.5h6M151,53.5h1M156,53.5h1M200,53.5h1M120,54.5h2M132,54.5h2M143,54.5h1M156,54.5h1M120,55.5h2M128,55.5h1M139,55.5h1M143,55.5h1M156,55.5h1M81,56.5h1M124,56.5h6M141,56.5h3M155,56.5h3M79,57.5h1M132,57.5h3M142,57.5h3M155,57.5h1M158,57.5h1M78,58.5h1M84,58.5h1M137,58.5h1M140,58.5h4M158,58.5h1M76,59.5h1M82,59.5h1M153,59.5h1M153,60.5h1M160,60.5h1M76,61.5h1M154,61.5h2M154,62.5h2M157,62.5h2M155,63.5h3M152,64.5h1M154,64.5h4M153,65.5h1M156,65.5h2M152,66.5h2M95,67.5h1M153,67.5h1M155,67.5h1M90,68.5h1M92,68.5h1M94,68.5h1M96,68.5h2M153,68.5h3M93,69.5h1M97,69.5h1M154,69.5h2M87,70.5h1M90,70.5h1M92,70.5h2M95,70.5h1M82,71.5h4M88,71.5h3M139,71.5h1M85,72.5h5M92,72.5h1M94,72.5h1M137,72.5h1M140,72.5h1M142,72.5h1M89,73.5h1M91,73.5h1M95,73.5h2M140,73.5h4M149,73.5h2M152,73.5h1M221,73.5h1M88,74.5h1M93,74.5h5M99,74.5h1M138,74.5h4M143,74.5h1M146,74.5h4M222,74.5h2M88,75.5h1M91,75.5h4M98,75.5h2M138,75.5h2M143,75.5h1M146,75.5h1M153,75.5h1M160,75.5h1M231,75.5h1M88,76.5h1M96,76.5h4M138,76.5h1M143,76.5h1M152,76.5h1M154,76.5h1M87,77.5h1M96,77.5h1M98,77.5h2M137,77.5h1M139,77.5h3M152,77.5h2M87,78.5h1M96,78.5h4M139,78.5h4M151,78.5h2M160,78.5h2M233,78.5h1M88,79.5h3M97,79.5h2M159,79.5h1M233,79.5h2M97,80.5h1M159,80.5h1M234,80.5h2M92,81.5h3M233,81.5h1M235,81.5h1M236,82.5h1M234,83.5h3M235,84.5h2M236,85.5h1M145,86.5h2M211,87.5h1M76,89.5h1M248,95.5h1"/>
<path stroke="#be8639" d="M145,14.5h1M147,14.5h1M145,15.5h2M14,17.5h1M215,17.5h1M217,17.5h3M14,18.5h1M192,18.5h1M214,18.5h1M219,18.5h1M222,18.5h1M214,19.5h1M219,19.5h1M216,20.5h1M221,20.5h1M223,20.5h1M218,21.5h2M221,21.5h1M45,22.5h3M45,23.5h1M48,24.5h2M47,25.5h1M52,25.5h1M47,26.5h1M54,26.5h1M165,26.5h3M47,27.5h1M55,27.5h1M150,27.5h2M164,27.5h2M170,27.5h1M187,27.5h1M211,27.5h1M48,28.5h1M57,28.5h1M142,28.5h1M150,28.5h3M162,28.5h1M164,28.5h1M183,28.5h1M186,28.5h3M48,29.5h1M57,29.5h2M161,29.5h2M164,29.5h1M183,29.5h1M49,30.5h1M58,30.5h3M168,30.5h1M185,30.5h2M51,31.5h2M60,31.5h1M129,31.5h2M169,31.5h2M181,31.5h1M184,31.5h1M53,32.5h3M60,32.5h4M129,32.5h2M142,32.5h1M144,32.5h1M168,32.5h5M176,32.5h1M181,32.5h1M184,32.5h1M55,33.5h3M60,33.5h1M62,33.5h3M126,33.5h1M168,33.5h2M171,33.5h1M175,33.5h2M42,34.5h1M57,34.5h1M61,34.5h2M65,34.5h1M67,34.5h1M69,34.5h3M125,34.5h1M143,34.5h3M151,34.5h2M169,34.5h1M172,34.5h4M178,34.5h1M57,35.5h2M72,35.5h1M74,35.5h1M124,35.5h1M126,35.5h2M149,35.5h2M152,35.5h1M155,35.5h3M168,35.5h5M175,35.5h1M43,36.5h1M57,36.5h2M127,36.5h1M149,36.5h1M152,36.5h1M169,36.5h3M176,36.5h1M178,36.5h1M57,37.5h2M148,37.5h2M152,37.5h2M165,37.5h2M168,37.5h3M174,37.5h1M176,37.5h1M178,37.5h1M41,38.5h1M56,38.5h2M67,38.5h1M72,38.5h2M157,38.5h1M165,38.5h2M168,38.5h2M173,38.5h3M54,39.5h1M56,39.5h1M73,39.5h1M162,39.5h1M166,39.5h1M174,39.5h2M55,40.5h4M160,40.5h1M162,40.5h2M175,40.5h1M177,40.5h1M56,41.5h1M58,41.5h3M163,41.5h2M56,42.5h2M60,42.5h2M65,42.5h1M187,42.5h5M193,42.5h3M56,43.5h2M185,43.5h3M191,43.5h1M193,43.5h1M196,43.5h1M198,43.5h2M211,43.5h1M56,44.5h2M185,44.5h2M190,44.5h2M197,44.5h1M199,44.5h1M211,44.5h1M187,45.5h4M192,45.5h1M199,45.5h2M206,45.5h2M209,45.5h1M53,46.5h1M55,46.5h4M187,46.5h1M189,46.5h4M200,46.5h2M204,46.5h3M208,46.5h2M185,47.5h2M191,47.5h3M207,47.5h1M210,47.5h1M201,48.5h1M186,49.5h1M201,49.5h3M59,50.5h1M64,50.5h1M185,50.5h2M202,50.5h2M59,51.5h1M63,51.5h1M127,51.5h2M130,51.5h1M151,51.5h1M158,51.5h1M202,51.5h2M58,52.5h1M62,52.5h1M116,52.5h2M125,52.5h1M127,52.5h1M132,52.5h1M142,52.5h3M158,52.5h1M197,52.5h1M201,52.5h1M118,53.5h3M131,53.5h1M133,53.5h1M142,53.5h1M144,53.5h1M150,53.5h1M197,53.5h2M201,53.5h1M204,53.5h2M118,54.5h2M134,54.5h3M138,54.5h2M141,54.5h2M144,54.5h2M151,54.5h1M157,54.5h1M159,54.5h1M200,54.5h3M204,54.5h1M119,55.5h1M140,55.5h3M144,55.5h1M152,55.5h1M157,55.5h2M202,55.5h3M123,56.5h1M144,56.5h1M153,56.5h2M158,56.5h3M131,57.5h1M154,57.5h1M159,57.5h3M136,58.5h1M138,58.5h2M144,58.5h1M153,58.5h1M159,58.5h4M158,59.5h4M75,60.5h1M80,60.5h1M158,60.5h2M161,60.5h1M75,61.5h1M78,61.5h1M153,61.5h1M158,61.5h3M153,62.5h1M159,62.5h2M154,63.5h1M158,63.5h1M153,64.5h1M150,65.5h1M152,65.5h1M99,66.5h2M138,66.5h1M151,66.5h1M156,66.5h1M98,67.5h4M151,67.5h2M89,68.5h1M93,68.5h1M98,68.5h3M152,68.5h1M87,69.5h1M98,69.5h3M152,69.5h2M85,70.5h1M94,70.5h1M96,70.5h1M153,70.5h3M91,71.5h4M98,71.5h1M137,71.5h2M140,71.5h4M152,71.5h4M82,72.5h1M90,72.5h2M95,72.5h3M99,72.5h1M141,72.5h1M143,72.5h1M145,72.5h2M151,72.5h2M154,72.5h2M229,72.5h1M82,73.5h3M88,73.5h1M97,73.5h4M146,73.5h3M153,73.5h3M220,73.5h1M229,73.5h1M98,74.5h1M137,74.5h1M153,74.5h2M161,74.5h1M221,74.5h1M224,74.5h1M230,74.5h1M87,75.5h1M137,75.5h1M144,75.5h2M154,75.5h1M161,75.5h2M230,75.5h1M87,76.5h1M137,76.5h1M159,76.5h1M162,76.5h1M230,76.5h1M97,77.5h1M143,77.5h1M147,77.5h1M159,77.5h2M231,77.5h1M138,78.5h1M147,78.5h1M159,78.5h1M232,78.5h1M87,79.5h1M139,79.5h1M141,79.5h1M148,79.5h2M161,79.5h1M232,79.5h1M88,80.5h4M161,80.5h1M89,81.5h3M149,81.5h1M159,81.5h2M213,81.5h2M229,81.5h1M89,82.5h2M92,82.5h1M142,82.5h1M213,82.5h1M215,82.5h1M143,83.5h1M78,84.5h1M90,84.5h2M144,84.5h1M78,85.5h1M90,85.5h2M141,85.5h1M141,86.5h1M144,86.5h1M147,86.5h1M236,86.5h1M144,87.5h3M210,87.5h1M77,89.5h1M76,90.5h2M76,91.5h2M77,92.5h1M231,93.5h2M247,95.5h1M248,96.5h1"/>
<path stroke="#d8c37f" d="M145,13.5h2M144,14.5h1M144,15.5h1M147,15.5h1M0,16.5h1M13,16.5h2M150,16.5h1M192,16.5h1M0,17.5h1M12,17.5h2M15,17.5h1M113,17.5h3M192,17.5h3M214,17.5h1M220,17.5h1M13,18.5h1M15,18.5h1M113,18.5h3M191,18.5h1M193,18.5h2M213,18.5h1M220,18.5h2M223,18.5h1M13,19.5h4M203,19.5h5M213,19.5h1M220,19.5h3M14,20.5h2M214,20.5h2M220,20.5h1M222,20.5h1M224,20.5h1M45,21.5h3M216,21.5h2M220,21.5h1M222,21.5h2M44,22.5h1M48,22.5h1M44,23.5h1M46,23.5h4M46,24.5h2M50,24.5h2M79,24.5h1M46,25.5h1M53,25.5h1M162,25.5h4M191,25.5h3M46,26.5h1M55,26.5h1M161,26.5h4M168,26.5h3M193,26.5h1M56,27.5h1M135,27.5h2M139,27.5h6M149,27.5h1M152,27.5h2M157,27.5h2M160,27.5h4M171,27.5h1M184,27.5h3M188,27.5h1M207,27.5h4M212,27.5h2M134,28.5h4M139,28.5h1M141,28.5h1M143,28.5h1M149,28.5h1M157,28.5h5M163,28.5h1M170,28.5h1M180,28.5h3M59,29.5h1M137,29.5h3M142,29.5h1M147,29.5h1M158,29.5h3M163,29.5h1M165,29.5h5M180,29.5h3M189,29.5h1M48,30.5h1M128,30.5h3M161,30.5h3M166,30.5h2M169,30.5h2M180,30.5h2M187,30.5h2M45,31.5h2M48,31.5h3M61,31.5h2M128,31.5h1M131,31.5h1M142,31.5h1M167,31.5h1M177,31.5h1M180,31.5h1M185,31.5h1M214,31.5h2M43,32.5h6M51,32.5h2M64,32.5h1M128,32.5h1M131,32.5h1M141,32.5h1M145,32.5h1M166,32.5h2M173,32.5h3M177,32.5h2M185,32.5h1M214,32.5h1M42,33.5h7M51,33.5h4M61,33.5h1M65,33.5h1M67,33.5h4M127,33.5h1M141,33.5h1M145,33.5h1M165,33.5h3M172,33.5h3M177,33.5h2M182,33.5h3M213,33.5h1M217,33.5h1M40,34.5h2M43,34.5h3M47,34.5h3M55,34.5h2M123,34.5h2M128,34.5h1M150,34.5h1M153,34.5h1M165,34.5h1M167,34.5h2M176,34.5h2M213,34.5h1M215,34.5h5M40,35.5h1M43,35.5h7M56,35.5h1M68,35.5h1M71,35.5h1M122,35.5h2M125,35.5h1M146,35.5h1M153,35.5h2M166,35.5h2M173,35.5h2M176,35.5h1M178,35.5h1M216,35.5h3M40,36.5h1M44,36.5h3M56,36.5h1M67,36.5h1M123,36.5h4M148,36.5h1M153,36.5h2M159,36.5h2M166,36.5h3M172,36.5h3M217,36.5h2M43,37.5h1M46,37.5h1M54,37.5h3M143,37.5h2M147,37.5h1M154,37.5h1M161,37.5h1M167,37.5h1M171,37.5h3M175,37.5h1M53,38.5h3M155,38.5h2M167,38.5h1M170,38.5h3M49,39.5h3M53,39.5h1M55,39.5h1M158,39.5h1M165,39.5h1M167,39.5h2M172,39.5h2M46,40.5h5M53,40.5h2M164,40.5h1M167,40.5h1M173,40.5h2M176,40.5h1M178,40.5h1M46,41.5h5M53,41.5h3M57,41.5h1M161,41.5h2M165,41.5h2M172,41.5h1M177,41.5h1M46,42.5h1M48,42.5h3M53,42.5h3M58,42.5h2M163,42.5h1M176,42.5h1M185,42.5h2M192,42.5h1M196,42.5h1M198,42.5h2M47,43.5h5M53,43.5h3M58,43.5h2M69,43.5h2M184,43.5h1M192,43.5h1M197,43.5h1M205,43.5h2M208,43.5h3M212,43.5h1M47,44.5h1M49,44.5h3M54,44.5h1M58,44.5h1M69,44.5h2M200,44.5h2M203,44.5h8M212,44.5h1M48,45.5h1M51,45.5h8M70,45.5h1M185,45.5h2M201,45.5h5M210,45.5h3M48,46.5h1M52,46.5h1M185,46.5h2M188,46.5h1M202,46.5h2M210,46.5h2M52,47.5h1M201,47.5h6M208,47.5h2M191,48.5h1M202,48.5h3M206,48.5h2M64,49.5h2M185,49.5h1M63,50.5h1M65,50.5h1M127,50.5h1M151,50.5h4M157,50.5h2M187,50.5h1M205,50.5h1M60,51.5h3M64,51.5h1M124,51.5h3M129,51.5h1M132,51.5h6M140,51.5h1M142,51.5h3M150,51.5h1M159,51.5h1M59,52.5h1M61,52.5h1M63,52.5h2M118,52.5h3M123,52.5h2M126,52.5h1M133,52.5h5M141,52.5h1M145,52.5h1M147,52.5h1M150,52.5h1M159,52.5h1M202,52.5h3M62,53.5h6M116,53.5h2M132,53.5h1M134,53.5h6M141,53.5h1M143,53.5h1M145,53.5h1M149,53.5h1M158,53.5h3M202,53.5h2M64,54.5h4M117,54.5h1M137,54.5h1M140,54.5h1M160,54.5h2M183,54.5h2M198,54.5h2M203,54.5h1M205,54.5h1M66,55.5h1M117,55.5h2M145,55.5h1M183,55.5h2M201,55.5h1M205,55.5h1M80,56.5h1M119,56.5h4M145,56.5h1M161,56.5h2M183,56.5h1M202,56.5h1M130,57.5h1M145,57.5h1M153,57.5h1M162,57.5h2M77,58.5h1M85,58.5h1M135,58.5h1M145,58.5h1M163,58.5h1M83,59.5h1M85,59.5h1M142,59.5h1M162,59.5h1M162,60.5h1M88,61.5h2M161,61.5h1M88,62.5h3M152,62.5h1M152,63.5h2M150,64.5h1M138,65.5h1M98,66.5h1M150,66.5h1M71,67.5h1M94,67.5h1M96,67.5h2M102,67.5h1M101,68.5h2M151,68.5h1M86,69.5h1M101,69.5h2M151,69.5h1M83,70.5h2M97,70.5h4M137,70.5h6M152,70.5h1M228,70.5h1M81,71.5h1M95,71.5h3M99,71.5h1M101,71.5h1M144,71.5h4M156,71.5h1M229,71.5h1M81,72.5h1M98,72.5h1M100,72.5h2M144,72.5h1M147,72.5h4M153,72.5h1M156,72.5h1M85,73.5h3M144,73.5h2M87,74.5h1M144,74.5h2M155,74.5h1M162,74.5h1M220,74.5h1M229,74.5h1M136,75.5h1M155,75.5h1M86,76.5h1M136,76.5h1M146,76.5h1M86,77.5h1M161,77.5h2M137,78.5h1M143,78.5h1M162,78.5h1M231,78.5h1M138,79.5h1M140,79.5h1M142,79.5h1M147,79.5h1M150,79.5h3M211,79.5h2M140,80.5h2M144,80.5h7M212,80.5h4M229,80.5h1M232,80.5h1M87,81.5h2M140,81.5h1M143,81.5h6M150,81.5h1M161,81.5h1M211,81.5h2M215,81.5h3M226,81.5h1M228,81.5h1M230,81.5h1M79,82.5h1M88,82.5h1M91,82.5h1M93,82.5h1M139,82.5h3M143,82.5h7M151,82.5h1M210,82.5h3M214,82.5h1M216,82.5h1M228,82.5h3M233,82.5h1M77,83.5h5M88,83.5h5M140,83.5h3M144,83.5h6M209,83.5h8M228,83.5h1M230,83.5h1M77,84.5h1M79,84.5h1M87,84.5h3M92,84.5h1M142,84.5h2M145,84.5h4M210,84.5h1M213,84.5h3M226,84.5h1M230,84.5h1M77,85.5h1M92,85.5h1M142,85.5h6M149,85.5h1M210,85.5h1M214,85.5h1M226,85.5h2M235,85.5h1M78,86.5h2M90,86.5h2M148,86.5h1M210,86.5h2M143,87.5h1M147,87.5h1M227,87.5h3M232,87.5h2M77,88.5h1M210,88.5h2M227,88.5h7M78,89.5h1M226,89.5h7M78,90.5h1M81,90.5h1M227,90.5h4M232,90.5h1M78,91.5h1M81,91.5h1M75,92.5h2M78,92.5h3M76,93.5h4M77,94.5h3M231,94.5h2M78,95.5h2M249,95.5h1M79,96.5h1M247,96.5h1"/>
<path stroke="#efe8c0" d="M205,9.5h3M206,10.5h2M39,12.5h2M50,12.5h1M52,12.5h1M16,13.5h1M54,13.5h1M147,13.5h2M12,14.5h3M22,14.5h3M27,14.5h2M38,14.5h2M143,14.5h1M148,14.5h1M151,14.5h1M233,14.5h1M235,14.5h1M253,14.5h1M0,15.5h3M9,15.5h2M13,15.5h3M21,15.5h1M23,15.5h1M28,15.5h4M38,15.5h1M52,15.5h1M58,15.5h1M143,15.5h1M148,15.5h5M160,15.5h1M169,15.5h1M175,15.5h1M207,15.5h1M234,15.5h2M253,15.5h3M1,16.5h5M9,16.5h4M15,16.5h2M20,16.5h1M27,16.5h5M35,16.5h1M52,16.5h1M58,16.5h1M147,16.5h3M151,16.5h3M191,16.5h1M193,16.5h3M205,16.5h2M217,16.5h3M234,16.5h2M253,16.5h3M1,17.5h5M10,17.5h2M16,17.5h1M18,17.5h3M28,17.5h2M35,17.5h4M52,17.5h2M111,17.5h2M116,17.5h2M148,17.5h4M191,17.5h1M195,17.5h1M221,17.5h3M237,17.5h3M16,18.5h4M22,18.5h1M24,18.5h1M28,18.5h2M37,18.5h1M39,18.5h3M43,18.5h1M81,18.5h1M112,18.5h1M116,18.5h1M195,18.5h1M201,18.5h8M231,18.5h1M236,18.5h2M248,18.5h1M10,19.5h3M17,19.5h2M22,19.5h1M24,19.5h1M26,19.5h3M34,19.5h1M44,19.5h1M191,19.5h5M201,19.5h2M208,19.5h1M223,19.5h2M229,19.5h1M231,19.5h4M238,19.5h1M10,20.5h4M16,20.5h2M21,20.5h1M26,20.5h2M57,20.5h1M202,20.5h7M213,20.5h1M225,20.5h1M232,20.5h3M13,21.5h5M21,21.5h1M26,21.5h2M42,21.5h3M48,21.5h1M52,21.5h2M57,21.5h1M214,21.5h2M224,21.5h1M234,21.5h1M16,22.5h2M39,22.5h1M42,22.5h2M49,22.5h5M217,22.5h1M240,22.5h1M14,23.5h1M38,23.5h2M43,23.5h1M50,23.5h4M240,23.5h2M36,24.5h1M44,24.5h2M52,24.5h2M56,24.5h1M64,24.5h1M77,24.5h2M80,24.5h2M135,24.5h1M143,24.5h2M153,24.5h1M163,24.5h2M181,24.5h1M191,24.5h3M240,24.5h3M35,25.5h2M45,25.5h1M54,25.5h2M63,25.5h2M77,25.5h8M134,25.5h4M139,25.5h1M144,25.5h1M153,25.5h2M161,25.5h1M166,25.5h2M169,25.5h2M177,25.5h4M194,25.5h1M241,25.5h2M45,26.5h1M56,26.5h2M62,26.5h1M76,26.5h6M83,26.5h2M86,26.5h2M121,26.5h1M131,26.5h1M134,26.5h7M142,26.5h4M148,26.5h3M152,26.5h3M157,26.5h4M171,26.5h1M173,26.5h3M177,26.5h4M185,26.5h3M192,26.5h1M194,26.5h1M209,26.5h2M212,26.5h1M218,26.5h1M45,27.5h2M57,27.5h2M85,27.5h3M131,27.5h4M137,27.5h2M145,27.5h4M154,27.5h1M156,27.5h1M159,27.5h1M172,27.5h5M178,27.5h6M189,27.5h1M192,27.5h3M196,27.5h1M199,27.5h1M201,27.5h2M206,27.5h1M214,27.5h1M46,28.5h2M58,28.5h2M131,28.5h3M138,28.5h1M140,28.5h1M144,28.5h5M153,28.5h1M156,28.5h1M171,28.5h1M179,28.5h1M189,28.5h1M196,28.5h1M199,28.5h5M207,28.5h7M45,29.5h3M60,29.5h1M125,29.5h12M140,29.5h2M143,29.5h4M148,29.5h6M156,29.5h2M170,29.5h1M179,29.5h1M190,29.5h1M199,29.5h4M212,29.5h1M214,29.5h1M216,29.5h3M227,29.5h1M39,30.5h1M44,30.5h4M61,30.5h1M88,30.5h2M126,30.5h2M131,30.5h1M137,30.5h9M149,30.5h1M151,30.5h1M159,30.5h2M164,30.5h2M178,30.5h2M189,30.5h2M211,30.5h8M43,31.5h2M47,31.5h1M63,31.5h4M78,31.5h1M80,31.5h5M127,31.5h1M132,31.5h1M139,31.5h3M143,31.5h3M151,31.5h2M160,31.5h2M166,31.5h1M171,31.5h2M176,31.5h1M178,31.5h2M186,31.5h3M208,31.5h6M216,31.5h4M40,32.5h3M49,32.5h2M65,32.5h1M67,32.5h2M72,32.5h4M77,32.5h3M81,32.5h2M132,32.5h2M139,32.5h2M152,32.5h1M158,32.5h4M164,32.5h2M179,32.5h2M186,32.5h2M209,32.5h5M215,32.5h5M230,32.5h1M39,33.5h3M49,33.5h2M71,33.5h1M76,33.5h2M121,33.5h5M128,33.5h2M132,33.5h1M136,33.5h2M140,33.5h1M158,33.5h4M179,33.5h1M181,33.5h1M185,33.5h2M210,33.5h3M214,33.5h3M218,33.5h3M228,33.5h3M39,34.5h1M46,34.5h1M50,34.5h5M75,34.5h3M122,34.5h1M129,34.5h1M137,34.5h1M146,34.5h1M148,34.5h1M157,34.5h6M166,34.5h1M179,34.5h1M184,34.5h2M211,34.5h2M214,34.5h1M220,34.5h1M228,34.5h1M50,35.5h1M54,35.5h2M69,35.5h2M121,35.5h1M140,35.5h1M147,35.5h2M158,35.5h5M184,35.5h1M212,35.5h4M219,35.5h1M47,36.5h4M54,36.5h2M71,36.5h1M121,36.5h2M139,36.5h1M147,36.5h1M161,36.5h2M175,36.5h1M44,37.5h2M47,37.5h7M62,37.5h1M67,37.5h1M71,37.5h1M122,37.5h5M135,37.5h1M137,37.5h2M162,37.5h2M179,37.5h1M213,37.5h2M43,38.5h10M68,38.5h1M71,38.5h1M124,38.5h1M128,38.5h8M153,38.5h2M162,38.5h3M42,39.5h7M52,39.5h1M123,39.5h13M153,39.5h2M163,39.5h2M169,39.5h3M197,39.5h2M44,40.5h2M51,40.5h2M122,40.5h3M153,40.5h2M165,40.5h2M168,40.5h2M171,40.5h2M189,40.5h1M197,40.5h2M220,40.5h1M45,41.5h1M51,41.5h2M152,41.5h4M157,41.5h1M160,41.5h1M167,41.5h2M170,41.5h2M173,41.5h4M178,41.5h1M185,41.5h7M194,41.5h5M200,41.5h1M220,41.5h1M45,42.5h1M51,42.5h2M152,42.5h7M162,42.5h1M164,42.5h5M170,42.5h6M177,42.5h3M184,42.5h1M197,42.5h1M200,42.5h2M207,42.5h2M210,42.5h3M46,43.5h1M52,43.5h1M153,43.5h6M162,43.5h1M164,43.5h7M172,43.5h12M200,43.5h5M207,43.5h1M213,43.5h1M46,44.5h1M52,44.5h2M55,44.5h1M153,44.5h4M161,44.5h1M165,44.5h4M170,44.5h1M172,44.5h7M181,44.5h4M202,44.5h1M213,44.5h1M50,45.5h1M154,45.5h3M161,45.5h1M164,45.5h1M172,45.5h6M184,45.5h1M49,46.5h1M51,46.5h1M154,46.5h4M159,46.5h3M166,46.5h1M176,46.5h3M184,46.5h1M212,46.5h1M214,46.5h1M49,47.5h1M153,47.5h1M155,47.5h2M158,47.5h4M166,47.5h1M177,47.5h3M184,47.5h1M213,47.5h2M153,48.5h1M157,48.5h1M159,48.5h7M167,48.5h1M177,48.5h1M184,48.5h1M205,48.5h1M63,49.5h1M124,49.5h4M131,49.5h5M139,49.5h4M146,49.5h1M151,49.5h4M156,49.5h12M184,49.5h1M206,49.5h1M116,50.5h11M128,50.5h23M159,50.5h9M184,50.5h1M206,50.5h1M116,51.5h8M138,51.5h2M141,51.5h1M145,51.5h5M160,51.5h8M184,51.5h3M214,51.5h1M60,52.5h1M121,52.5h2M138,52.5h3M146,52.5h1M148,52.5h2M160,52.5h6M213,52.5h2M68,53.5h1M140,53.5h1M146,53.5h3M161,53.5h3M183,53.5h2M214,53.5h1M68,54.5h1M116,54.5h1M146,54.5h5M182,54.5h1M215,54.5h1M67,55.5h2M78,55.5h1M116,55.5h1M146,55.5h1M151,55.5h1M164,55.5h1M182,55.5h1M198,55.5h1M67,56.5h2M74,56.5h1M77,56.5h3M117,56.5h2M152,56.5h1M163,56.5h2M182,56.5h1M184,56.5h1M198,56.5h1M203,56.5h2M68,57.5h2M71,57.5h2M78,57.5h1M118,57.5h3M128,57.5h2M182,57.5h2M198,57.5h1M202,57.5h2M69,58.5h2M72,58.5h1M75,58.5h2M119,58.5h1M131,58.5h4M198,58.5h2M75,59.5h1M84,59.5h1M86,59.5h1M120,59.5h1M132,59.5h10M143,59.5h2M152,59.5h1M185,59.5h1M199,59.5h2M81,60.5h1M84,60.5h7M122,60.5h1M132,60.5h2M152,60.5h1M196,60.5h2M199,60.5h2M209,60.5h1M73,61.5h1M79,61.5h1M85,61.5h3M90,61.5h2M152,61.5h1M75,62.5h2M85,62.5h3M91,62.5h1M85,63.5h7M151,63.5h1M85,64.5h1M71,65.5h1M93,65.5h3M134,65.5h4M149,65.5h1M226,65.5h2M71,66.5h1M95,66.5h3M135,66.5h3M139,66.5h1M149,66.5h1M227,66.5h1M90,67.5h4M136,67.5h3M150,67.5h1M202,67.5h2M227,67.5h1M231,67.5h1M71,68.5h1M88,68.5h1M146,68.5h1M150,68.5h1M204,68.5h1M227,68.5h2M231,68.5h1M85,69.5h1M137,69.5h2M140,69.5h1M142,69.5h1M144,69.5h1M147,69.5h1M150,69.5h1M204,69.5h1M227,69.5h3M232,69.5h1M82,70.5h1M101,70.5h2M143,70.5h6M151,70.5h1M229,70.5h1M232,70.5h2M78,71.5h1M80,71.5h1M100,71.5h1M148,71.5h1M150,71.5h2M234,71.5h1M77,72.5h4M77,73.5h5M156,73.5h1M162,73.5h2M74,74.5h5M82,74.5h2M85,74.5h2M156,74.5h1M163,74.5h1M217,74.5h3M228,74.5h1M75,75.5h5M82,75.5h1M85,75.5h2M156,75.5h1M163,75.5h1M217,75.5h3M222,75.5h4M228,75.5h2M77,76.5h6M84,76.5h2M144,76.5h2M160,76.5h1M226,76.5h1M79,77.5h7M144,77.5h1M214,77.5h3M225,77.5h2M230,77.5h1M80,78.5h4M85,78.5h2M144,78.5h1M211,78.5h4M217,78.5h1M224,78.5h1M86,79.5h1M143,79.5h4M210,79.5h1M213,79.5h19M87,80.5h1M138,80.5h2M142,80.5h2M151,80.5h2M209,80.5h3M216,80.5h13M230,80.5h2M78,81.5h3M138,81.5h2M141,81.5h2M151,81.5h2M208,81.5h3M218,81.5h8M227,81.5h1M231,81.5h2M78,82.5h1M80,82.5h2M87,82.5h1M150,82.5h1M209,82.5h1M217,82.5h11M231,82.5h1M82,83.5h1M87,83.5h1M93,83.5h1M139,83.5h1M150,83.5h2M217,83.5h2M220,83.5h4M225,83.5h3M229,83.5h1M231,83.5h3M80,84.5h3M140,84.5h2M149,84.5h2M209,84.5h1M211,84.5h2M216,84.5h3M220,84.5h6M227,84.5h3M231,84.5h4M79,85.5h4M87,85.5h3M140,85.5h1M148,85.5h1M211,85.5h3M215,85.5h11M228,85.5h7M77,86.5h1M80,86.5h2M142,86.5h2M212,86.5h12M225,86.5h9M235,86.5h1M77,87.5h4M90,87.5h1M141,87.5h2M212,87.5h5M226,87.5h1M230,87.5h2M235,87.5h1M78,88.5h4M141,88.5h4M212,88.5h1M224,88.5h1M226,88.5h1M234,88.5h2M80,89.5h3M233,89.5h2M79,90.5h2M82,90.5h1M231,90.5h1M233,90.5h2M79,91.5h2M82,91.5h1M85,91.5h1M229,91.5h4M81,92.5h2M75,93.5h1M80,93.5h2M233,93.5h1M250,93.5h1M75,94.5h2M80,94.5h3M249,94.5h2M75,95.5h3M80,95.5h2M75,96.5h4M80,96.5h1M246,96.5h1M249,96.5h1M74,97.5h7M74,98.5h2M79,98.5h2M79,101.5h1M78,102.5h2M79,103.5h1"/>
<path stroke="#f5f5f5" d="M194,10.5h1M40,11.5h2M69,11.5h1M194,11.5h1M206,11.5h3M46,12.5h2M51,12.5h1M53,12.5h1M73,12.5h1M177,12.5h1M186,12.5h1M197,12.5h1M208,12.5h2M15,13.5h1M17,13.5h2M46,13.5h2M51,13.5h2M60,13.5h1M76,13.5h1M186,13.5h1M195,13.5h1M208,13.5h1M239,13.5h1M15,14.5h3M21,14.5h1M25,14.5h2M33,14.5h2M40,14.5h1M42,14.5h1M51,14.5h2M55,14.5h1M76,14.5h1M150,14.5h1M172,14.5h1M175,14.5h1M234,14.5h1M248,14.5h1M250,14.5h2M11,15.5h2M16,15.5h5M22,15.5h1M24,15.5h2M27,15.5h1M34,15.5h3M39,15.5h1M50,15.5h2M153,15.5h1M159,15.5h1M166,15.5h2M170,15.5h1M176,15.5h1M206,15.5h1M218,15.5h1M233,15.5h1M17,16.5h1M21,16.5h1M24,16.5h3M34,16.5h1M36,16.5h3M51,16.5h1M53,16.5h1M56,16.5h2M146,16.5h1M155,16.5h1M160,16.5h1M175,16.5h2M216,16.5h1M220,16.5h2M226,16.5h1M6,17.5h1M9,17.5h1M17,17.5h1M21,17.5h1M24,17.5h4M30,17.5h1M34,17.5h1M44,17.5h1M57,17.5h1M147,17.5h1M161,17.5h1M208,17.5h1M213,17.5h1M226,17.5h2M233,17.5h2M247,17.5h2M253,17.5h2M20,18.5h2M23,18.5h1M25,18.5h3M30,18.5h1M35,18.5h2M38,18.5h1M42,18.5h1M44,18.5h1M53,18.5h1M57,18.5h1M209,18.5h1M226,18.5h1M232,18.5h1M238,18.5h2M249,18.5h1M19,19.5h3M23,19.5h1M25,19.5h1M29,19.5h1M39,19.5h5M56,19.5h3M72,19.5h1M80,19.5h1M209,19.5h1M230,19.5h1M236,19.5h2M249,19.5h1M251,19.5h2M255,19.5h1M18,20.5h3M22,20.5h1M25,20.5h1M28,20.5h1M33,20.5h2M40,20.5h4M47,20.5h1M56,20.5h1M58,20.5h1M73,20.5h1M226,20.5h1M231,20.5h1M235,20.5h1M239,20.5h1M250,20.5h1M18,21.5h1M20,21.5h1M28,21.5h1M40,21.5h2M51,21.5h1M56,21.5h1M58,21.5h2M73,21.5h2M233,21.5h1M40,22.5h2M72,22.5h3M215,22.5h2M218,22.5h1M241,22.5h1M42,23.5h1M64,23.5h1M74,23.5h2M77,23.5h3M143,23.5h1M164,23.5h1M12,24.5h2M35,24.5h1M42,24.5h1M62,24.5h2M75,24.5h2M134,24.5h1M137,24.5h1M145,24.5h1M152,24.5h1M154,24.5h1M161,24.5h2M165,24.5h1M182,24.5h1M56,25.5h2M62,25.5h1M65,25.5h1M76,25.5h1M85,25.5h1M121,25.5h1M142,25.5h2M145,25.5h2M152,25.5h1M155,25.5h1M160,25.5h1M168,25.5h1M171,25.5h2M181,25.5h1M198,25.5h1M218,25.5h2M63,26.5h1M72,26.5h1M75,26.5h1M82,26.5h1M85,26.5h1M141,26.5h1M146,26.5h1M151,26.5h1M155,26.5h2M172,26.5h1M176,26.5h1M181,26.5h2M184,26.5h1M188,26.5h1M191,26.5h1M195,26.5h3M211,26.5h1M213,26.5h1M227,26.5h1M59,27.5h1M77,27.5h1M88,27.5h1M155,27.5h1M177,27.5h1M191,27.5h1M197,27.5h2M200,27.5h1M203,27.5h1M218,27.5h1M45,28.5h1M129,28.5h1M154,28.5h2M178,28.5h1M190,28.5h1M194,28.5h2M198,28.5h1M206,28.5h1M218,28.5h1M226,28.5h2M39,29.5h1M86,29.5h1M154,29.5h2M178,29.5h1M191,29.5h1M194,29.5h5M203,29.5h2M206,29.5h1M213,29.5h1M215,29.5h1M219,29.5h1M226,29.5h1M62,30.5h2M90,30.5h1M132,30.5h1M146,30.5h3M150,30.5h1M152,30.5h2M158,30.5h1M171,30.5h1M177,30.5h1M191,30.5h2M194,30.5h17M219,30.5h1M226,30.5h1M229,30.5h1M41,31.5h2M67,31.5h1M73,31.5h1M77,31.5h1M79,31.5h1M133,31.5h1M137,31.5h2M159,31.5h1M173,31.5h3M189,31.5h3M195,31.5h13M71,32.5h1M76,32.5h1M127,32.5h1M134,32.5h3M146,32.5h1M188,32.5h8M198,32.5h11M228,32.5h2M135,33.5h1M146,33.5h1M180,33.5h1M187,33.5h7M197,33.5h1M199,33.5h11M138,34.5h1M147,34.5h1M186,34.5h12M199,34.5h2M202,34.5h9M51,35.5h1M134,35.5h1M139,35.5h1M185,35.5h1M187,35.5h11M199,35.5h3M208,35.5h4M53,36.5h1M68,36.5h1M179,36.5h1M185,36.5h16M210,36.5h1M68,37.5h1M133,37.5h2M185,37.5h1M187,37.5h12M69,38.5h2M191,38.5h9M213,38.5h1M155,39.5h1M157,39.5h1M179,39.5h1M187,39.5h1M191,39.5h1M196,39.5h1M199,39.5h1M125,40.5h12M143,40.5h1M155,40.5h1M159,40.5h1M170,40.5h1M179,40.5h1M188,40.5h1M190,40.5h2M196,40.5h1M121,41.5h18M142,41.5h5M156,41.5h1M159,41.5h1M169,41.5h1M179,41.5h1M199,41.5h1M121,42.5h31M159,42.5h3M169,42.5h1M181,42.5h3M202,42.5h1M204,42.5h1M209,42.5h1M120,43.5h33M159,43.5h3M171,43.5h1M118,44.5h34M157,44.5h4M162,44.5h1M169,44.5h1M171,44.5h1M179,44.5h2M118,45.5h35M157,45.5h4M162,45.5h2M169,45.5h3M178,45.5h1M117,46.5h36M158,46.5h1M162,46.5h3M167,46.5h2M179,46.5h2M116,47.5h37M157,47.5h1M162,47.5h4M167,47.5h3M180,47.5h1M116,48.5h37M156,48.5h1M158,48.5h1M166,48.5h1M168,48.5h2M178,48.5h1M181,48.5h1M116,49.5h8M128,49.5h3M136,49.5h3M143,49.5h3M147,49.5h4M168,49.5h1M168,50.5h1M184,52.5h2M182,53.5h1M213,53.5h1M181,54.5h1M76,55.5h1M150,55.5h1M181,55.5h1M76,56.5h1M146,56.5h1M70,57.5h1M73,57.5h5M146,57.5h1M152,57.5h1M216,57.5h2M73,58.5h1M120,58.5h2M146,58.5h1M152,58.5h1M185,58.5h1M217,58.5h1M73,59.5h1M121,59.5h2M145,59.5h1M210,59.5h2M217,59.5h1M73,60.5h1M123,60.5h1M134,60.5h1M137,60.5h1M201,60.5h1M210,60.5h1M212,60.5h1M74,61.5h1M74,62.5h1M77,62.5h1M84,62.5h1M84,63.5h1M92,63.5h1M86,64.5h1M88,64.5h3M134,64.5h1M144,64.5h1M149,64.5h1M90,66.5h1M94,66.5h1M202,66.5h1M226,66.5h1M228,66.5h2M139,67.5h1M201,67.5h1M226,67.5h1M70,68.5h1M137,68.5h1M139,68.5h1M144,68.5h1M147,68.5h1M203,68.5h1M226,68.5h1M232,68.5h1M139,69.5h1M141,69.5h1M143,69.5h1M145,69.5h2M148,69.5h1M205,69.5h1M226,69.5h1M79,71.5h1M149,71.5h1M73,72.5h1M73,73.5h1M76,73.5h1M79,74.5h3M84,74.5h1M80,75.5h2M83,75.5h2M216,75.5h1M220,75.5h2M83,76.5h1M161,76.5h1M216,76.5h3M223,76.5h1M225,76.5h1M227,76.5h3M78,77.5h1M145,77.5h2M217,77.5h1M224,77.5h1M79,78.5h1M84,78.5h1M145,78.5h2M215,78.5h2M223,78.5h1M225,78.5h2M78,79.5h2M82,79.5h1M85,79.5h1M209,79.5h1M78,80.5h3M86,80.5h1M81,81.5h1M232,82.5h1M219,83.5h1M224,83.5h1M219,84.5h1M224,86.5h1M81,87.5h1M223,87.5h3M234,87.5h1M79,89.5h1M84,90.5h1M87,90.5h1M83,91.5h2M252,93.5h1M76,98.5h1M74,99.5h1M77,102.5h1"/>
<path stroke="#c9efe4" d="M197,9.5h8M190,10.5h4M195,10.5h4M200,10.5h6M42,11.5h3M67,11.5h2M70,11.5h1M186,11.5h4M192,11.5h2M195,11.5h4M201,11.5h5M209,11.5h1M215,11.5h1M41,12.5h5M48,12.5h2M64,12.5h9M74,12.5h1M178,12.5h2M183,12.5h3M187,12.5h2M192,12.5h5M198,12.5h1M202,12.5h6M210,12.5h10M227,12.5h6M19,13.5h1M41,13.5h1M45,13.5h1M48,13.5h3M53,13.5h1M55,13.5h2M61,13.5h1M64,13.5h8M73,13.5h3M77,13.5h1M175,13.5h4M181,13.5h2M185,13.5h1M187,13.5h3M192,13.5h3M196,13.5h3M202,13.5h6M209,13.5h2M212,13.5h4M217,13.5h3M223,13.5h3M227,13.5h12M18,14.5h3M32,14.5h1M35,14.5h3M41,14.5h1M43,14.5h8M53,14.5h2M60,14.5h1M67,14.5h3M72,14.5h4M77,14.5h3M141,14.5h2M149,14.5h1M171,14.5h1M176,14.5h1M182,14.5h3M186,14.5h4M191,14.5h8M204,14.5h11M216,14.5h4M224,14.5h1M227,14.5h6M236,14.5h12M252,14.5h1M254,14.5h1M26,15.5h1M32,15.5h2M37,15.5h1M40,15.5h6M53,15.5h2M59,15.5h1M63,15.5h2M67,15.5h3M76,15.5h6M138,15.5h1M142,15.5h1M154,15.5h2M163,15.5h3M168,15.5h1M171,15.5h4M177,15.5h1M181,15.5h3M185,15.5h5M191,15.5h8M201,15.5h1M204,15.5h2M208,15.5h10M219,15.5h3M223,15.5h1M226,15.5h1M228,15.5h5M236,15.5h1M239,15.5h14M18,16.5h2M22,16.5h2M32,16.5h2M39,16.5h2M42,16.5h9M54,16.5h2M59,16.5h1M61,16.5h1M65,16.5h3M69,16.5h1M76,16.5h3M81,16.5h3M137,16.5h1M144,16.5h2M154,16.5h1M159,16.5h1M161,16.5h14M177,16.5h1M180,16.5h2M183,16.5h1M186,16.5h5M196,16.5h2M200,16.5h2M204,16.5h1M207,16.5h9M222,16.5h4M227,16.5h4M232,16.5h2M236,16.5h17M8,17.5h1M22,17.5h2M31,17.5h3M39,17.5h5M45,17.5h7M54,17.5h3M58,17.5h1M60,17.5h2M67,17.5h2M72,17.5h3M76,17.5h3M81,17.5h2M136,17.5h2M145,17.5h2M152,17.5h1M158,17.5h3M162,17.5h4M172,17.5h7M181,17.5h1M185,17.5h6M196,17.5h2M199,17.5h3M204,17.5h4M209,17.5h4M224,17.5h2M228,17.5h5M235,17.5h2M240,17.5h7M249,17.5h4M255,17.5h1M31,18.5h4M45,18.5h4M50,18.5h3M54,18.5h3M58,18.5h1M68,18.5h1M76,18.5h5M134,18.5h3M145,18.5h6M157,18.5h9M172,18.5h4M189,18.5h2M196,18.5h1M198,18.5h1M200,18.5h1M210,18.5h3M224,18.5h2M227,18.5h4M233,18.5h3M240,18.5h1M243,18.5h5M250,18.5h5M30,19.5h4M35,19.5h4M45,19.5h4M51,19.5h5M59,19.5h2M73,19.5h1M78,19.5h2M147,19.5h3M155,19.5h1M159,19.5h2M162,19.5h2M196,19.5h1M200,19.5h1M210,19.5h3M225,19.5h4M235,19.5h1M239,19.5h10M250,19.5h1M253,19.5h2M23,20.5h2M29,20.5h4M35,20.5h5M44,20.5h3M48,20.5h1M51,20.5h5M59,20.5h2M74,20.5h1M76,20.5h2M155,20.5h2M160,20.5h1M162,20.5h1M191,20.5h7M200,20.5h2M209,20.5h4M227,20.5h4M236,20.5h3M243,20.5h4M248,20.5h2M19,21.5h1M29,21.5h8M38,21.5h2M49,21.5h2M54,21.5h2M60,21.5h1M72,21.5h1M75,21.5h4M81,21.5h2M141,21.5h1M155,21.5h1M163,21.5h2M190,21.5h7M201,21.5h5M208,21.5h1M210,21.5h1M212,21.5h2M225,21.5h6M232,21.5h1M235,21.5h3M242,21.5h1M245,21.5h1M30,22.5h5M37,22.5h2M54,22.5h8M75,22.5h3M79,22.5h5M124,22.5h2M133,22.5h1M159,22.5h1M161,22.5h4M183,22.5h1M191,22.5h1M194,22.5h3M200,22.5h6M208,22.5h1M213,22.5h2M219,22.5h6M226,22.5h3M242,22.5h2M15,23.5h2M33,23.5h5M40,23.5h2M54,23.5h10M73,23.5h1M76,23.5h1M80,23.5h4M134,23.5h4M139,23.5h1M144,23.5h3M148,23.5h6M159,23.5h5M165,23.5h1M170,23.5h1M174,23.5h3M180,23.5h5M187,23.5h1M190,23.5h2M193,23.5h1M195,23.5h4M201,23.5h2M204,23.5h1M207,23.5h2M213,23.5h14M239,23.5h1M242,23.5h2M34,24.5h1M37,24.5h4M43,24.5h1M54,24.5h2M57,24.5h5M65,24.5h3M73,24.5h2M82,24.5h3M146,24.5h6M155,24.5h1M158,24.5h1M160,24.5h1M166,24.5h5M173,24.5h8M183,24.5h5M189,24.5h2M194,24.5h13M208,24.5h3M212,24.5h14M239,24.5h1M243,24.5h1M37,25.5h1M40,25.5h5M58,25.5h4M66,25.5h4M71,25.5h5M86,25.5h1M122,25.5h1M138,25.5h1M140,25.5h2M147,25.5h5M156,25.5h4M173,25.5h4M182,25.5h9M195,25.5h3M199,25.5h6M208,25.5h10M220,25.5h8M239,25.5h2M37,26.5h1M41,26.5h4M58,26.5h4M64,26.5h6M73,26.5h2M132,26.5h2M147,26.5h1M183,26.5h1M189,26.5h2M198,26.5h5M204,26.5h1M207,26.5h2M214,26.5h4M219,26.5h2M223,26.5h4M228,26.5h2M239,26.5h2M37,27.5h2M44,27.5h1M60,27.5h6M69,27.5h1M71,27.5h2M75,27.5h2M78,27.5h2M82,27.5h3M130,27.5h1M190,27.5h1M195,27.5h1M204,27.5h2M215,27.5h3M219,27.5h2M223,27.5h5M229,27.5h1M239,27.5h1M37,28.5h1M40,28.5h1M44,28.5h1M60,28.5h1M63,28.5h2M76,28.5h4M87,28.5h2M128,28.5h1M130,28.5h1M172,28.5h6M191,28.5h3M197,28.5h1M204,28.5h2M214,28.5h4M219,28.5h1M221,28.5h5M229,28.5h1M40,29.5h1M44,29.5h1M61,29.5h4M72,29.5h1M76,29.5h3M87,29.5h3M171,29.5h1M177,29.5h1M192,29.5h2M205,29.5h1M207,29.5h5M220,29.5h2M223,29.5h1M225,29.5h1M229,29.5h1M40,30.5h4M65,30.5h1M77,30.5h2M80,30.5h2M134,30.5h3M154,30.5h2M157,30.5h1M172,30.5h1M176,30.5h1M193,30.5h1M220,30.5h1M223,30.5h3M40,31.5h1M68,31.5h1M70,31.5h3M74,31.5h3M134,31.5h3M146,31.5h4M154,31.5h1M158,31.5h1M192,31.5h3M220,31.5h1M223,31.5h1M225,31.5h1M147,32.5h2M157,32.5h1M196,32.5h2M220,32.5h2M75,33.5h1M147,33.5h1M157,33.5h1M194,33.5h3M198,33.5h1M221,33.5h2M72,34.5h1M74,34.5h1M139,34.5h1M182,34.5h2M198,34.5h1M201,34.5h1M227,34.5h1M52,35.5h2M179,35.5h1M182,35.5h2M186,35.5h1M198,35.5h1M202,35.5h6M227,35.5h2M51,36.5h2M69,36.5h2M180,36.5h5M201,36.5h9M211,36.5h1M228,36.5h1M69,37.5h2M183,37.5h2M186,37.5h1M199,37.5h14M219,37.5h1M225,37.5h1M179,38.5h1M184,38.5h7M200,38.5h1M204,38.5h2M210,38.5h1M212,38.5h1M224,38.5h3M156,39.5h1M180,39.5h1M183,39.5h4M188,39.5h3M192,39.5h4M200,39.5h1M212,39.5h1M218,39.5h1M221,39.5h6M156,40.5h3M180,40.5h2M184,40.5h4M192,40.5h4M199,40.5h3M212,40.5h2M221,40.5h1M158,41.5h1M180,41.5h2M184,41.5h1M192,41.5h2M201,41.5h1M208,41.5h2M212,41.5h3M180,42.5h1M203,42.5h1M205,42.5h2M213,42.5h2M214,43.5h1M179,45.5h5M181,46.5h3M181,47.5h3M179,48.5h2M182,48.5h2M180,49.5h4M180,50.5h1M182,50.5h2M180,51.5h1M182,51.5h2M180,52.5h4M181,53.5h1M147,55.5h3M75,56.5h1M147,56.5h3M151,56.5h1M121,57.5h7M122,58.5h1M126,58.5h1M128,58.5h3M215,58.5h2M123,59.5h1M125,59.5h1M127,59.5h2M130,59.5h2M146,59.5h1M216,59.5h1M82,60.5h2M124,60.5h3M136,60.5h1M138,60.5h7M151,60.5h1M211,60.5h1M80,61.5h1M83,61.5h2M135,61.5h2M138,61.5h2M148,61.5h1M151,61.5h1M197,61.5h2M200,61.5h2M208,61.5h4M73,62.5h1M83,62.5h1M135,62.5h3M150,62.5h2M198,62.5h3M207,62.5h5M71,63.5h1M74,63.5h2M135,63.5h2M144,63.5h1M150,63.5h1M198,63.5h3M205,63.5h12M70,64.5h3M83,64.5h2M87,64.5h1M91,64.5h3M135,64.5h5M143,64.5h1M145,64.5h1M148,64.5h1M199,64.5h3M206,64.5h6M213,64.5h1M215,64.5h1M221,64.5h2M70,65.5h1M72,65.5h1M85,65.5h2M88,65.5h5M139,65.5h2M144,65.5h5M200,65.5h3M206,65.5h2M209,65.5h2M213,65.5h2M222,65.5h2M225,65.5h1M80,66.5h2M88,66.5h2M91,66.5h3M140,66.5h1M144,66.5h5M200,66.5h2M203,66.5h1M207,66.5h1M209,66.5h2M213,66.5h2M222,66.5h4M70,67.5h1M72,67.5h1M75,67.5h1M80,67.5h1M89,67.5h1M140,67.5h10M225,67.5h1M228,67.5h3M72,68.5h1M75,68.5h2M87,68.5h1M138,68.5h1M140,68.5h4M145,68.5h1M148,68.5h2M206,68.5h1M229,68.5h2M71,69.5h1M73,69.5h1M75,69.5h1M149,69.5h1M206,69.5h4M230,69.5h2M72,70.5h3M81,70.5h1M149,70.5h2M72,71.5h2M77,71.5h1M74,72.5h3M74,73.5h2M215,76.5h1M219,76.5h4M224,76.5h1M218,77.5h2M221,77.5h3M227,77.5h3M78,78.5h1M218,78.5h5M227,78.5h4M80,79.5h2M83,79.5h2M81,80.5h2M84,80.5h2M82,81.5h1M86,81.5h1M82,82.5h1M86,82.5h1M86,83.5h1M86,84.5h1M86,85.5h1M82,86.5h1M86,86.5h2M89,86.5h1M82,87.5h1M89,87.5h1M82,88.5h1M83,89.5h2M251,89.5h2M83,90.5h1M85,90.5h2M252,90.5h1M252,91.5h3M83,92.5h1M252,92.5h2M251,93.5h1M77,98.5h2M75,99.5h5M74,100.5h5M75,101.5h4M76,102.5h1"/>
<path stroke="#8fdac6" d="M199,10.5h1M190,11.5h2M200,11.5h1M181,12.5h2M189,12.5h3M199,12.5h3M72,13.5h1M179,13.5h2M183,13.5h2M190,13.5h2M199,13.5h3M211,13.5h1M216,13.5h1M220,13.5h3M226,13.5h1M61,14.5h2M177,14.5h5M185,14.5h1M190,14.5h1M199,14.5h5M215,14.5h1M220,14.5h4M225,14.5h2M60,15.5h3M65,15.5h2M73,15.5h3M139,15.5h3M178,15.5h2M184,15.5h1M190,15.5h1M199,15.5h2M202,15.5h2M222,15.5h1M224,15.5h2M227,15.5h1M237,15.5h2M41,16.5h1M60,16.5h1M62,16.5h3M68,16.5h1M75,16.5h1M79,16.5h2M138,16.5h1M143,16.5h1M156,16.5h1M178,16.5h2M182,16.5h1M184,16.5h2M198,16.5h2M202,16.5h2M231,16.5h1M59,17.5h1M62,17.5h1M65,17.5h1M75,17.5h1M79,17.5h2M156,17.5h2M166,17.5h6M179,17.5h2M182,17.5h3M198,17.5h1M202,17.5h2M49,18.5h1M59,18.5h2M67,18.5h1M69,18.5h2M137,18.5h2M144,18.5h1M151,18.5h2M154,18.5h3M166,18.5h2M176,18.5h3M180,18.5h9M197,18.5h1M199,18.5h1M241,18.5h2M49,19.5h2M61,19.5h1M132,19.5h7M140,19.5h1M145,19.5h2M150,19.5h2M156,19.5h3M161,19.5h1M164,19.5h5M171,19.5h9M181,19.5h1M183,19.5h1M185,19.5h1M187,19.5h4M197,19.5h3M50,20.5h1M75,20.5h1M131,20.5h4M139,20.5h1M143,20.5h1M147,20.5h3M154,20.5h1M157,20.5h3M161,20.5h1M163,20.5h2M166,20.5h3M171,20.5h1M175,20.5h1M177,20.5h3M182,20.5h1M185,20.5h6M198,20.5h2M247,20.5h1M37,21.5h1M131,21.5h4M136,21.5h1M139,21.5h2M147,21.5h6M154,21.5h1M156,21.5h2M159,21.5h4M166,21.5h5M179,21.5h1M184,21.5h1M186,21.5h4M197,21.5h4M206,21.5h2M209,21.5h1M211,21.5h1M231,21.5h1M243,21.5h2M35,22.5h2M78,22.5h1M132,22.5h1M136,22.5h4M145,22.5h9M155,22.5h4M160,22.5h1M165,22.5h2M168,22.5h4M175,22.5h1M181,22.5h2M184,22.5h7M192,22.5h2M197,22.5h3M206,22.5h2M209,22.5h4M225,22.5h1M124,23.5h2M138,23.5h1M147,23.5h1M154,23.5h5M166,23.5h2M169,23.5h1M171,23.5h3M177,23.5h2M185,23.5h2M188,23.5h2M192,23.5h1M194,23.5h1M199,23.5h2M203,23.5h1M205,23.5h2M209,23.5h4M41,24.5h1M156,24.5h2M159,24.5h1M171,24.5h2M188,24.5h1M207,24.5h1M211,24.5h1M38,25.5h2M123,25.5h1M205,25.5h3M38,26.5h3M122,26.5h1M125,26.5h1M205,26.5h2M221,26.5h2M39,27.5h5M66,27.5h3M70,27.5h1M73,27.5h2M80,27.5h2M125,27.5h1M128,27.5h1M221,27.5h2M38,28.5h2M41,28.5h1M43,28.5h1M65,28.5h1M70,28.5h3M75,28.5h1M80,28.5h1M220,28.5h1M41,29.5h3M65,29.5h1M70,29.5h2M73,29.5h1M79,29.5h1M172,29.5h4M222,29.5h1M224,29.5h1M68,30.5h3M72,30.5h5M79,30.5h1M156,30.5h1M173,30.5h3M221,30.5h2M156,31.5h2M221,31.5h2M224,31.5h1M155,32.5h2M222,32.5h3M72,33.5h1M73,34.5h1M180,34.5h2M180,35.5h2M227,36.5h1M180,37.5h3M218,37.5h1M226,37.5h2M180,38.5h2M201,38.5h3M206,38.5h4M211,38.5h1M219,38.5h1M227,38.5h1M181,39.5h1M201,39.5h2M204,39.5h8M182,40.5h2M202,40.5h1M208,40.5h4M222,40.5h1M182,41.5h2M202,41.5h1M204,41.5h4M210,41.5h2M181,50.5h1M181,51.5h1M150,56.5h1M147,57.5h5M74,58.5h1M123,58.5h3M127,58.5h1M147,58.5h2M151,58.5h1M124,59.5h1M126,59.5h1M129,59.5h1M147,59.5h1M151,59.5h1M145,60.5h2M150,60.5h1M81,61.5h2M137,61.5h1M140,61.5h1M142,61.5h6M149,61.5h2M72,62.5h1M78,62.5h5M138,62.5h3M144,62.5h1M147,62.5h3M201,62.5h1M72,63.5h2M76,63.5h1M81,63.5h3M137,63.5h1M143,63.5h1M148,63.5h2M73,64.5h2M80,64.5h3M140,64.5h1M142,64.5h1M146,64.5h2M76,65.5h1M80,65.5h1M82,65.5h3M87,65.5h1M141,65.5h3M208,65.5h1M72,66.5h1M78,66.5h2M82,66.5h3M86,66.5h1M141,66.5h3M208,66.5h1M74,67.5h1M76,67.5h1M78,67.5h2M81,67.5h2M87,67.5h2M213,67.5h1M73,68.5h2M77,68.5h1M81,68.5h1M86,68.5h1M72,69.5h1M74,69.5h1M76,69.5h3M80,69.5h2M84,69.5h1M75,70.5h6M74,71.5h3M220,77.5h1M83,80.5h1M85,81.5h1M83,82.5h3M83,83.5h3M83,84.5h1M85,84.5h1M83,85.5h1M85,85.5h1M85,86.5h1M88,86.5h1M234,86.5h1M83,87.5h6M83,88.5h7M85,89.5h2"/>
<path stroke="#54a594" d="M199,11.5h1M139,16.5h4M63,17.5h2M138,17.5h6M61,18.5h6M139,18.5h4M153,18.5h1M168,18.5h4M179,18.5h1M62,19.5h1M139,19.5h1M143,19.5h2M153,19.5h2M169,19.5h1M180,19.5h1M182,19.5h1M184,19.5h1M186,19.5h1M49,20.5h1M61,20.5h1M135,20.5h4M144,20.5h3M150,20.5h4M165,20.5h1M169,20.5h2M172,20.5h3M176,20.5h1M180,20.5h2M183,20.5h2M135,21.5h1M138,21.5h1M144,21.5h1M146,21.5h1M153,21.5h1M158,21.5h1M165,21.5h1M171,21.5h1M178,21.5h1M182,21.5h2M185,21.5h1M154,22.5h1M167,22.5h1M172,22.5h1M174,22.5h1M176,22.5h5M126,23.5h1M168,23.5h1M179,23.5h1M124,24.5h2M126,25.5h2M123,26.5h1M126,26.5h3M126,27.5h2M42,28.5h1M61,28.5h1M66,28.5h4M73,28.5h2M66,29.5h4M74,29.5h2M80,29.5h2M176,29.5h1M71,30.5h1M155,31.5h1M74,33.5h1M182,38.5h2M182,39.5h1M203,39.5h1M204,40.5h4M203,41.5h1M149,58.5h2M148,59.5h3M147,60.5h3M141,61.5h1M141,62.5h3M145,62.5h2M77,63.5h1M79,63.5h2M138,63.5h3M142,63.5h1M145,63.5h1M75,64.5h3M79,64.5h1M141,64.5h1M73,65.5h3M77,65.5h3M81,65.5h1M75,66.5h3M85,66.5h1M87,66.5h1M73,67.5h1M77,67.5h1M83,67.5h1M85,67.5h2M78,68.5h3M82,68.5h1M84,68.5h2M79,69.5h1M82,69.5h2M83,81.5h2M84,84.5h1M84,85.5h1M83,86.5h2"/>
<path stroke="#32796a" d="M152,19.5h1M170,19.5h1M137,21.5h1M172,21.5h6M180,21.5h2M173,22.5h1M126,24.5h1M62,28.5h1M73,33.5h1M218,38.5h1M203,40.5h1M74,60.5h1M135,60.5h1M78,63.5h1M141,63.5h1M146,63.5h2M78,64.5h1M73,66.5h2M84,67.5h1M83,68.5h1"/>
<path stroke="#1d4a38" d="M133,30.5h1M74,59.5h1"/>
</g><path d="M1264.0,813.8L1267.4,807.7L1275.3,806.1L1277.7,803.2L1289.9,801.0L1300.0,802.1L1308.9,803.0L1320.2,803.7L1324.7,804.8L1333.6,806.1L1338.1,805.2L1347.1,803.9L1353.8,803.0L1360.6,805.0L1369.6,804.3L1378.5,806.1L1383.0,808.6L1394.2,808.6L1398.7,807.7L1405.5,807.3L1412.2,808.8L1421.2,808.4L1425.7,807.9L1426.8,799.6L1432.4,801.7L1434.7,805.0L1438.0,807.3L1443.6,806.6L1448.1,805.0L1450.4,804.3L1457.1,804.3L1458.7,807.3L1457.1,810.6L1452.6,812.2L1448.1,811.7L1445.9,814.0L1443.6,816.9L1438.0,818.5L1433.5,820.7L1430.2,824.1L1428.6,828.5L1430.2,829.2L1433.5,833.0L1439.1,833.0L1443.6,834.1L1450.4,836.8L1456.4,837.3L1457.1,842.0L1459.4,845.3L1461.6,846.0L1463.8,845.3L1464.3,843.1L1462.7,838.6L1467.2,836.4L1469.0,833.0L1465.0,829.0L1467.2,825.2L1466.1,820.9L1471.7,821.1L1477.3,821.8L1479.6,824.1L1484.0,824.1L1485.2,828.5L1488.5,829.7L1493.0,828.5L1495.7,825.4L1498.6,828.5L1502.0,831.9L1504.3,835.3L1507.6,837.5L1512.1,839.7L1515.5,842.0L1516.2,844.2L1513.2,845.6L1508.7,847.6L1504.3,848.3L1497.5,848.0L1491.9,848.3L1487.4,850.9L1484.0,854.3L1481.8,855.9L1484.0,855.4L1486.3,852.7L1493.0,850.5L1496.4,850.9L1496.4,853.2L1494.2,854.3L1495.7,856.5L1499.8,857.7L1503.1,858.3L1506.5,857.2L1505.8,855.4L1504.3,859.5L1498.6,860.8L1494.2,863.3L1492.6,861.5L1495.3,859.2L1490.8,859.9L1487.4,861.5L1483.6,863.0L1482.5,865.5L1484.0,867.1L1480.7,868.0L1476.2,869.1L1475.1,870.0L1474.6,872.2L1472.8,873.8L1471.7,876.0L1470.6,877.8L1471.7,881.9L1468.3,883.4L1465.0,885.0L1462.7,886.8L1459.4,889.5L1458.5,892.4L1460.5,897.3L1461.6,900.7L1460.9,904.0L1459.4,904.5L1457.6,901.8L1455.5,898.4L1455.3,895.7L1452.6,893.5L1449.7,894.2L1447.0,892.6L1443.6,892.8L1440.3,893.1L1440.9,895.5L1438.0,895.3L1434.7,894.4L1430.6,894.2L1427.9,895.3L1424.6,897.3L1422.8,899.5L1423.0,902.7L1421.9,906.9L1421.6,910.7L1423.0,914.1L1425.2,917.5L1427.9,919.0L1429.7,919.9L1433.5,919.0L1436.2,918.6L1437.8,916.3L1438.3,913.7L1442.5,912.5L1445.9,912.5L1446.3,914.1L1444.8,917.0L1444.1,919.7L1443.0,921.5L1442.1,924.9L1443.6,925.3L1448.1,925.1L1452.6,925.3L1454.4,927.1L1453.7,930.5L1453.5,933.8L1453.1,936.1L1454.9,938.3L1457.1,940.1L1459.4,941.0L1462.0,939.4L1464.3,939.4L1467.2,941.2L1466.3,944.6L1465.6,942.1L1462.7,940.8L1460.9,942.1L1460.9,944.1L1458.2,943.7L1455.3,942.3L1453.5,941.4L1451.0,939.0L1448.8,938.3L1448.6,936.1L1446.3,933.4L1444.5,931.6L1441.8,931.1L1438.7,929.8L1435.8,929.3L1434.0,928.0L1430.6,925.1L1428.4,924.4L1424.6,925.5L1420.1,924.2L1416.7,922.8L1412.7,920.8L1408.6,919.5L1405.5,917.0L1404.1,914.8L1404.8,912.5L1403.2,909.2L1399.9,905.8L1396.5,903.4L1395.4,900.7L1393.1,898.4L1390.2,896.2L1388.0,893.5L1387.1,890.8L1383.7,889.7L1383.7,892.4L1386.4,895.7L1388.4,898.4L1390.4,901.3L1392.0,904.0L1393.6,906.5L1395.4,908.7L1394.2,909.4L1392.5,907.6L1389.3,905.1L1389.3,902.5L1386.4,900.7L1383.5,898.4L1384.8,896.9L1381.9,894.2L1380.1,891.3L1378.3,887.9L1375.4,884.5L1370.7,883.4L1367.8,878.9L1366.2,876.3L1363.3,872.2L1362.1,870.2L1362.4,866.6L1361.7,864.4L1362.8,859.9L1362.8,857.0L1361.2,852.5L1365.1,852.5L1366.2,854.3L1365.5,850.9L1363.9,849.8L1360.6,848.0L1356.1,846.5L1354.3,843.5L1351.6,840.9L1348.7,838.6L1346.0,836.4L1342.6,834.1L1340.4,830.8L1337.0,829.7L1334.8,830.3L1331.4,828.5L1326.9,826.7L1322.4,826.3L1317.9,826.3L1313.4,824.5L1308.9,824.3L1305.6,826.7L1301.1,827.9L1301.1,824.1L1297.7,827.4L1295.5,829.2L1291.0,831.9L1286.5,834.1L1280.9,836.4L1276.4,837.5L1271.9,838.4L1276.4,835.9L1280.9,834.8L1285.4,832.3L1287.6,829.2L1284.2,829.2L1278.6,829.0L1277.5,826.3L1271.9,825.2L1269.7,822.9L1268.5,821.8L1271.2,819.6L1276.4,818.5L1279.8,816.2L1275.3,816.2L1269.7,816.2ZM1508.1,854.1L1509.9,850.5L1513.2,846.5L1516.4,845.3L1515.5,848.7L1520.0,849.8L1522.2,852.1L1522.9,854.3L1521.1,856.3L1516.6,855.4L1512.1,854.1ZM1353.2,846.9L1359.5,848.3L1363.9,852.3L1360.6,851.6L1355.0,848.7ZM1503.1,811.3L1497.5,815.1L1494.2,819.6L1488.5,821.1L1481.8,819.6L1475.1,816.2L1467.2,816.7L1466.1,814.0L1475.1,812.9L1477.3,808.8L1468.3,807.3L1465.0,803.9L1457.1,803.9L1448.1,803.2L1440.3,801.7L1440.3,797.2L1450.4,795.6L1459.4,795.6L1466.1,797.6L1473.9,799.4L1481.8,801.7L1488.5,803.9L1490.8,806.1L1497.5,808.8ZM1377.4,804.1L1381.9,802.6L1377.4,800.8L1375.2,798.3L1384.1,796.3L1394.2,797.4L1399.9,796.5L1405.5,797.2L1406.6,800.5L1413.3,799.0L1415.6,802.3L1412.2,804.6L1413.3,806.6L1404.4,807.0L1397.6,806.8L1387.5,807.3L1381.9,805.7ZM1359.5,799.6L1363.3,795.6L1368.4,793.8L1377.4,794.5L1381.9,796.5L1377.4,798.5L1374.0,800.1L1368.4,801.2L1363.9,801.0ZM1445.9,817.3L1452.6,819.6L1459.4,817.3L1453.7,813.5L1448.1,814.0ZM1587.3,814.0L1591.8,812.0L1600.8,812.4L1607.5,812.4L1610.9,815.1L1607.5,816.7L1599.7,818.7L1591.8,817.8L1590.7,815.5ZM1467.4,941.2L1470.6,939.9L1471.7,936.7L1473.9,936.1L1477.3,934.9L1480.7,932.9L1480.2,936.1L1484.0,934.9L1484.0,933.4L1487.4,935.6L1488.5,937.0L1493.0,937.0L1496.4,937.9L1500.9,936.7L1502.5,938.3L1504.3,940.5L1505.4,941.7L1508.7,942.8L1511.0,945.5L1513.2,947.3L1517.7,947.5L1520.0,947.9L1523.3,949.5L1525.6,951.1L1527.2,955.1L1528.9,957.3L1528.9,960.7L1532.3,961.8L1533.4,962.9L1537.9,963.4L1541.3,966.3L1544.7,966.3L1548.0,967.2L1551.4,967.0L1554.8,969.2L1558.1,971.5L1562.0,972.6L1562.8,976.4L1562.6,980.9L1559.3,984.2L1557.0,987.6L1554.3,989.8L1553.6,994.3L1553.6,999.9L1552.1,1004.4L1549.6,1008.9L1547.1,1012.0L1543.5,1012.2L1540.2,1013.8L1536.8,1014.9L1533.4,1017.8L1532.1,1021.2L1531.6,1024.5L1528.9,1027.9L1526.7,1031.3L1524.0,1033.5L1521.1,1036.9L1517.7,1038.9L1514.4,1038.7L1511.0,1037.3L1512.8,1041.3L1513.9,1043.1L1511.7,1046.3L1506.5,1047.8L1502.0,1047.8L1501.3,1051.4L1496.4,1052.5L1495.3,1055.5L1498.2,1055.9L1494.8,1058.1L1494.2,1061.5L1490.1,1063.3L1489.7,1064.9L1493.3,1067.1L1490.8,1070.5L1487.0,1073.4L1486.3,1076.1L1487.6,1078.1L1487.4,1079.4L1490.8,1082.8L1494.2,1083.5L1490.8,1084.6L1485.2,1084.6L1479.6,1082.8L1475.1,1079.4L1472.8,1076.1L1471.7,1071.6L1471.7,1066.0L1475.1,1062.6L1476.2,1058.1L1475.1,1054.8L1475.7,1050.3L1476.2,1045.8L1477.3,1042.5L1479.6,1038.0L1480.7,1033.5L1480.7,1027.9L1481.1,1023.4L1482.5,1018.9L1482.9,1014.5L1483.6,1010.0L1483.6,1005.5L1483.2,1001.7L1480.7,999.5L1476.2,997.2L1472.2,994.7L1469.9,991.8L1467.9,987.6L1465.6,983.1L1463.8,979.1L1461.6,975.3L1458.9,974.1L1458.7,970.8L1460.9,968.3L1461.6,966.3L1459.4,965.6L1459.8,962.9L1461.2,960.7L1461.6,958.9L1463.8,957.6L1464.7,955.1L1467.2,952.9L1467.4,950.6L1467.2,947.9L1467.4,945.5L1466.3,944.6ZM2045.3,814.7L2041.9,816.2L2039.7,815.5L2038.6,816.2L2043.1,819.6L2044.2,820.9L2038.6,820.7L2031.8,822.3L2027.3,824.1L2023.5,826.3L2016.1,825.9L2010.5,826.5L2007.8,829.7L2006.0,831.2L2007.6,834.8L2004.9,837.5L2000.4,841.5L1997.0,843.1L1993.0,846.5L1991.4,843.1L1990.5,837.5L1992.5,833.0L1997.0,829.7L2002.6,825.6L2008.3,822.5L2004.9,821.8L2000.4,822.5L1993.7,822.5L1989.2,826.7L1984.7,828.1L1977.9,827.4L1969.0,827.9L1962.2,827.9L1956.6,831.2L1951.0,834.6L1946.5,837.9L1949.9,839.7L1954.4,839.3L1958.4,841.5L1956.6,845.3L1956.6,849.8L1954.4,853.6L1951.0,857.7L1946.5,861.5L1942.0,864.4L1938.2,863.9L1935.3,865.5L1933.0,867.1L1932.4,869.3L1928.6,871.1L1927.4,872.7L1929.7,874.9L1931.7,877.8L1931.7,881.2L1929.7,882.3L1926.3,883.4L1924.7,882.3L1925.2,878.9L1925.9,877.4L1922.9,876.0L1921.8,874.5L1922.5,872.2L1920.3,871.3L1916.2,872.2L1914.0,873.6L1915.1,870.0L1912.8,869.3L1909.5,871.5L1906.1,872.9L1905.4,874.9L1908.4,877.1L1912.2,876.0L1916.2,876.9L1915.8,878.3L1911.7,879.8L1909.0,882.3L1911.0,884.5L1912.8,887.9L1914.9,890.1L1914.0,892.4L1915.1,893.7L1914.4,896.9L1912.2,899.1L1909.9,902.5L1907.7,905.4L1904.5,907.8L1901.6,909.4L1897.8,910.5L1894.9,911.4L1891.5,912.5L1889.0,913.0L1888.8,915.2L1887.7,912.8L1884.8,912.1L1882.5,913.0L1880.7,914.8L1878.7,917.5L1879.8,920.4L1882.1,923.1L1884.8,925.3L1886.4,929.3L1886.6,932.7L1885.9,935.2L1882.5,937.2L1880.7,938.3L1879.2,939.9L1876.9,941.4L1876.5,938.3L1874.2,937.2L1872.0,934.5L1870.2,932.7L1867.9,932.3L1867.0,930.5L1865.7,930.9L1865.7,933.8L1864.6,936.1L1863.9,939.4L1865.7,941.7L1866.8,944.6L1869.1,945.5L1871.3,947.3L1873.1,949.9L1873.6,952.9L1874.2,955.5L1875.1,957.6L1873.6,957.8L1871.3,956.2L1868.6,954.2L1867.3,951.7L1866.4,948.4L1866.1,946.1L1864.6,944.3L1862.3,942.3L1861.9,939.4L1862.8,936.1L1862.6,932.7L1861.7,929.3L1860.5,926.0L1860.3,923.7L1858.5,922.6L1855.6,925.3L1852.9,924.9L1853.4,921.5L1852.2,918.1L1850.0,915.9L1848.2,913.7L1847.3,910.7L1844.4,911.0L1841.0,911.9L1838.8,912.1L1836.5,913.0L1836.1,915.2L1833.1,916.6L1829.8,919.3L1826.4,922.6L1824.2,924.4L1821.5,926.0L1821.0,930.5L1820.6,933.8L1820.4,937.6L1818.6,939.9L1816.8,940.8L1815.2,942.6L1812.9,940.5L1811.8,937.2L1809.6,932.7L1808.5,929.3L1806.2,924.9L1805.1,920.4L1804.6,917.0L1804.4,913.7L1804.0,911.9L1800.6,914.1L1796.6,911.0L1799.0,909.2L1795.0,908.1L1792.3,905.4L1790.5,903.8L1786.0,904.3L1780.4,904.3L1774.8,903.8L1770.3,903.1L1768.7,900.2L1764.7,900.9L1761.3,900.7L1757.9,898.7L1755.2,895.7L1753.4,893.1L1750.8,892.8L1749.0,894.6L1750.3,897.3L1752.3,899.8L1753.9,902.0L1755.0,904.7L1756.8,902.7L1757.0,905.6L1759.1,906.5L1762.4,906.5L1765.3,903.8L1767.6,902.0L1768.0,905.1L1770.3,907.4L1773.0,908.1L1775.5,910.3L1773.7,913.7L1771.4,914.8L1770.7,918.1L1768.0,920.4L1764.7,922.6L1760.2,923.7L1755.7,926.4L1751.2,928.9L1746.7,930.9L1742.2,932.0L1738.9,932.3L1737.7,929.3L1737.3,926.0L1736.6,923.1L1734.4,919.9L1732.1,916.3L1729.2,913.0L1728.3,909.2L1725.4,906.3L1723.8,902.5L1720.9,898.7L1719.3,896.9L1719.8,894.6L1718.2,898.4L1716.0,896.4L1714.4,893.7L1714.4,894.6L1716.4,898.0L1717.5,900.2L1719.8,904.7L1721.3,907.4L1724.0,911.4L1724.7,914.8L1725.2,918.1L1727.6,920.4L1729.2,924.9L1731.0,927.1L1733.7,928.9L1736.6,931.6L1738.4,933.1L1738.4,934.9L1741.1,937.2L1744.5,936.5L1749.0,935.6L1753.4,934.7L1756.1,934.0L1755.9,937.2L1754.6,940.5L1752.3,945.0L1750.1,949.5L1746.7,954.0L1743.3,956.7L1740.0,958.5L1736.6,961.8L1734.4,964.7L1732.1,967.0L1730.6,970.8L1728.8,974.1L1729.9,978.6L1730.6,983.1L1732.1,985.3L1732.3,989.8L1732.6,994.3L1729.9,998.1L1725.4,1000.6L1723.1,1002.8L1719.8,1005.5L1720.7,1010.0L1720.9,1014.5L1716.4,1017.4L1714.8,1018.9L1714.8,1023.4L1711.9,1026.8L1709.2,1030.1L1705.2,1033.9L1700.7,1036.6L1696.2,1037.1L1690.6,1037.5L1686.1,1038.7L1682.7,1037.3L1681.6,1034.2L1682.3,1031.3L1679.8,1027.9L1678.2,1024.5L1675.3,1021.2L1674.9,1016.7L1673.8,1012.2L1673.3,1008.9L1670.4,1004.4L1667.7,1001.0L1667.7,997.7L1668.8,993.2L1671.5,988.7L1672.2,985.3L1670.4,981.3L1669.9,977.5L1668.6,974.1L1668.1,971.9L1665.9,969.2L1662.5,966.3L1661.0,962.9L1662.1,960.7L1662.5,958.0L1663.2,955.1L1663.0,952.9L1661.0,950.6L1656.9,950.8L1654.7,951.1L1653.1,948.8L1651.3,946.8L1647.9,946.4L1644.6,946.8L1641.2,947.9L1636.7,949.9L1633.3,949.3L1628.9,949.3L1624.4,950.8L1621.0,949.1L1617.6,946.6L1615.4,945.2L1613.1,943.9L1611.6,941.7L1610.9,939.4L1608.2,937.2L1607.1,935.6L1604.2,933.1L1603.5,930.9L1602.6,927.8L1603.9,924.9L1604.8,920.4L1604.6,917.0L1603.0,913.7L1604.2,910.3L1605.3,907.4L1608.0,903.6L1610.9,900.2L1612.5,898.0L1616.1,896.2L1618.8,894.6L1619.4,891.3L1620.3,887.9L1623.2,885.4L1625.9,884.1L1628.0,880.5L1629.3,880.3L1634.5,881.6L1636.7,882.1L1641.2,880.5L1644.6,878.9L1647.9,878.3L1652.4,878.3L1656.9,877.8L1661.4,877.4L1664.1,877.1L1665.9,877.8L1664.8,880.1L1665.9,882.3L1664.1,884.1L1665.9,885.7L1669.3,887.2L1674.9,888.3L1677.1,890.6L1681.6,892.4L1686.1,891.3L1686.1,887.9L1690.6,887.0L1694.0,888.6L1697.3,889.7L1701.8,890.8L1706.3,891.5L1710.8,890.1L1713.7,890.8L1718.2,890.6L1719.6,887.9L1720.0,886.3L1721.6,883.4L1722.0,880.5L1722.5,878.7L1719.8,878.7L1717.5,879.6L1714.2,879.8L1710.1,878.3L1707.4,879.6L1704.1,878.5L1702.5,876.7L1700.7,874.5L1701.4,872.7L1700.0,871.1L1702.9,870.2L1706.3,869.8L1707.0,868.6L1711.9,868.2L1716.4,866.6L1720.2,866.6L1723.1,868.2L1727.6,869.1L1732.1,868.9L1734.6,867.5L1734.4,865.5L1731.0,863.5L1727.6,861.5L1724.9,859.9L1724.0,859.0L1726.5,856.5L1729.2,855.0L1725.4,855.4L1720.4,857.0L1719.8,858.6L1722.9,859.5L1720.4,859.9L1718.0,861.2L1716.4,860.8L1714.4,859.0L1716.6,857.7L1713.0,856.5L1710.3,856.5L1707.9,859.2L1705.6,861.5L1705.0,863.5L1703.4,865.5L1704.3,867.5L1706.1,868.4L1704.1,868.9L1701.8,869.5L1700.0,870.0L1699.6,869.3L1696.2,869.1L1694.6,870.7L1692.4,870.2L1692.2,872.2L1693.3,873.8L1695.1,875.6L1692.8,875.8L1693.3,878.3L1691.5,878.9L1689.9,878.0L1688.8,876.0L1688.6,874.2L1687.2,872.2L1685.0,870.0L1685.0,867.1L1682.7,865.5L1679.4,863.9L1676.0,862.1L1674.4,859.9L1672.0,858.6L1669.0,859.2L1669.0,861.5L1671.7,863.3L1673.8,865.9L1677.1,867.1L1679.4,868.9L1682.5,870.7L1681.8,871.3L1679.4,870.0L1678.5,871.8L1679.6,873.3L1678.2,874.7L1676.4,875.6L1677.1,873.6L1676.4,871.1L1673.8,869.5L1670.4,868.2L1668.6,867.1L1665.9,865.5L1664.5,863.3L1663.2,861.9L1661.0,861.2L1658.0,862.6L1655.3,864.2L1652.4,863.5L1650.2,863.3L1648.2,864.4L1648.4,865.9L1647.9,867.1L1646.1,868.0L1643.0,869.3L1640.8,871.5L1640.8,873.3L1641.6,874.0L1639.9,875.6L1639.4,876.5L1636.7,878.3L1631.3,878.5L1629.3,879.8L1628.6,880.1L1626.8,878.5L1624.6,877.4L1621.2,877.8L1621.4,874.5L1620.1,873.8L1621.4,870.0L1621.4,866.6L1620.5,864.2L1623.2,862.8L1628.9,863.3L1633.3,863.3L1637.2,863.5L1638.5,861.0L1638.5,857.7L1636.3,855.0L1631.5,853.6L1630.6,852.3L1634.5,851.4L1637.6,851.8L1637.2,849.4L1638.7,850.0L1641.6,849.8L1644.6,848.3L1645.0,846.7L1646.8,846.2L1649.1,845.6L1650.6,843.8L1652.0,842.0L1654.7,840.9L1656.9,840.4L1660.3,840.4L1661.0,839.1L1660.5,836.4L1659.4,834.1L1659.8,832.8L1662.5,832.6L1665.0,831.5L1664.5,834.1L1665.7,834.6L1663.6,836.8L1663.2,837.9L1665.4,839.1L1665.9,839.7L1668.6,839.1L1671.5,838.8L1673.3,840.0L1677.1,839.1L1682.3,837.9L1685.0,838.8L1686.1,837.7L1688.3,836.8L1688.3,833.5L1689.7,831.9L1691.9,831.5L1693.5,833.0L1695.8,832.3L1696.0,830.1L1694.0,828.1L1697.3,827.4L1704.1,827.2L1709.0,826.5L1705.2,825.2L1699.6,825.4L1696.2,826.3L1692.6,826.5L1689.2,824.7L1689.0,822.0L1688.8,819.6L1691.7,818.0L1696.2,815.8L1698.0,814.4L1695.5,813.3L1691.0,813.5L1689.0,815.8L1687.9,817.8L1682.7,819.8L1680.0,822.5L1679.8,824.7L1683.0,825.9L1683.6,827.4L1681.2,828.8L1678.7,830.3L1678.2,833.0L1677.1,834.8L1673.8,835.0L1673.1,836.6L1670.4,836.6L1669.5,834.8L1667.7,831.9L1666.3,828.8L1665.0,827.9L1664.8,826.7L1662.5,828.5L1660.3,830.3L1656.9,830.8L1653.8,829.0L1652.4,826.3L1652.4,822.9L1653.5,821.1L1656.9,819.6L1660.3,818.5L1663.6,816.9L1667.0,815.1L1669.3,812.9L1671.5,810.6L1674.4,808.4L1678.2,806.8L1681.6,805.0L1687.2,803.9L1692.8,802.8L1698.4,801.4L1704.1,801.7L1710.3,803.2L1710.8,804.3L1715.3,805.2L1722.0,805.7L1728.8,807.9L1733.2,809.9L1733.2,811.7L1728.8,812.6L1722.0,812.2L1716.4,811.3L1715.3,812.2L1719.3,814.0L1719.3,816.2L1724.3,817.3L1726.5,816.4L1723.8,814.9L1730.6,815.8L1732.1,813.3L1735.5,811.7L1740.0,812.4L1740.7,809.5L1739.3,807.3L1744.5,808.4L1745.1,811.1L1749.0,809.1L1753.4,807.9L1760.2,806.6L1763.6,807.9L1769.2,807.0L1774.8,806.6L1778.1,804.3L1784.9,805.5L1789.4,806.6L1793.9,807.7L1796.1,806.4L1791.6,804.6L1791.6,801.7L1795.0,799.4L1796.1,797.2L1801.7,796.7L1804.6,799.4L1804.0,802.8L1804.4,806.1L1806.2,808.4L1806.2,810.6L1809.6,808.4L1807.3,805.0L1807.3,801.7L1809.6,798.7L1815.2,799.0L1818.6,798.3L1821.9,796.1L1827.5,795.4L1835.4,795.2L1836.5,792.7L1843.2,791.4L1852.2,790.2L1861.2,789.3L1867.9,788.2L1875.4,786.7L1879.2,787.5L1883.7,788.9L1892.6,789.3L1896.0,790.9L1888.2,793.8L1893.8,795.4L1897.1,795.8L1906.1,796.1L1917.3,795.8L1926.3,796.3L1930.8,798.7L1931.9,801.7L1937.5,800.5L1944.3,800.3L1951.0,800.5L1955.5,798.3L1960.0,797.9L1969.0,798.5L1977.9,800.3L1983.6,801.9L1993.7,801.7L2000.4,803.5L2000.4,804.8L2009.4,804.6L2017.2,804.6L2024.0,804.1L2022.8,806.1L2031.8,804.3L2040.8,805.2L2045.3,806.4M1237.1,806.4L1243.8,807.7L1252.8,810.6L1259.5,812.4L1258.4,813.8L1253.9,816.2L1248.3,815.5L1246.1,814.0L1240.5,813.8L1237.1,814.7M1751.9,987.6L1754.1,995.4L1752.3,999.9L1750.1,1006.6L1747.8,1013.3L1746.7,1016.7L1742.7,1017.8L1739.3,1013.3L1738.9,1008.9L1740.7,1004.4L1740.0,999.9L1742.2,996.5L1746.7,994.7L1749.0,991.6ZM1935.1,884.5L1937.5,883.9L1940.9,883.6L1944.3,883.2L1944.7,885.0L1946.1,885.7L1948.3,883.6L1949.9,883.2L1952.8,883.0L1955.1,882.3L1957.3,880.7L1956.8,878.3L1957.7,875.6L1959.3,872.2L1958.9,868.2L1956.2,868.4L1955.5,871.1L1955.1,873.8L1952.1,877.1L1949.2,877.1L1948.1,878.5L1946.5,880.7L1943.2,881.0L1938.7,881.4L1935.3,883.6ZM1955.5,867.7L1956.2,863.9L1959.3,859.0L1962.2,861.2L1967.4,861.9L1967.8,863.7L1963.4,866.6L1958.9,865.5L1956.6,865.9ZM1933.0,885.7L1936.4,885.2L1937.1,887.2L1935.3,890.6L1933.7,890.6L1933.0,887.9ZM1938.7,884.8L1942.7,883.9L1943.2,885.2L1939.8,887.2L1938.4,886.1ZM1960.0,839.1L1962.2,842.0L1962.9,846.5L1964.5,850.3L1962.2,853.2L1962.9,856.5L1960.0,857.7L1960.0,853.2L1960.0,848.7L1959.5,844.2ZM1914.0,904.3L1914.9,905.8L1912.8,911.0L1911.0,909.2L1912.4,905.6ZM1885.2,917.7L1888.2,915.9L1890.4,916.8L1888.2,919.5L1885.5,919.3ZM1820.4,939.2L1823.5,941.7L1824.8,945.0L1823.0,946.8L1821.2,947.3L1820.4,943.9ZM1911.3,924.9L1911.9,919.3L1915.5,919.5L1915.8,923.7L1914.4,927.1L1916.2,929.3L1919.6,931.6L1918.5,932.0L1915.1,929.8L1912.4,929.8L1911.7,927.8L1910.4,925.3ZM1915.1,945.0L1918.5,941.7L1922.9,939.0L1925.2,942.8L1924.5,946.6L1922.7,947.7L1919.6,945.5ZM1915.1,934.3L1917.3,934.9L1917.8,938.3L1916.2,939.4L1915.1,937.2ZM1920.3,932.7L1922.9,933.1L1922.9,936.1L1921.8,937.9L1920.7,936.1ZM1904.5,941.7L1907.2,939.9L1909.5,935.4L1908.4,937.6L1906.1,940.5ZM1885.9,957.3L1888.2,956.7L1890.8,957.3L1891.5,954.7L1894.9,953.5L1897.1,950.4L1900.5,948.4L1903.4,945.2L1905.4,946.6L1908.4,949.1L1906.6,951.1L1905.4,953.3L1906.1,956.2L1908.4,958.5L1905.7,959.1L1905.0,961.8L1902.7,964.1L1902.3,967.4L1901.6,969.2L1898.7,969.9L1894.9,968.1L1892.2,968.3L1888.8,967.0L1888.2,964.1L1886.4,961.8L1885.9,959.6ZM1855.1,948.2L1860.1,949.1L1863.0,952.2L1866.4,955.1L1869.1,956.7L1872.4,958.9L1874.0,961.8L1875.8,964.1L1879.2,967.0L1879.2,970.8L1878.7,973.7L1875.8,973.7L1872.4,971.2L1869.1,967.4L1866.8,964.1L1864.6,960.7L1863.0,957.3L1860.1,954.4L1857.2,951.7ZM1877.6,975.7L1880.3,974.1L1884.8,975.5L1889.9,975.3L1894.2,976.2L1898.0,978.2L1898.0,980.0L1892.6,979.3L1887.0,978.2L1882.5,977.9L1879.2,976.8ZM1909.5,973.0L1909.5,968.5L1908.1,966.7L1909.9,961.8L1910.6,959.1L1912.8,958.0L1917.3,958.7L1921.8,957.1L1920.7,959.6L1917.3,959.8L1912.8,959.8L1911.0,962.5L1913.5,962.9L1918.0,962.7L1916.2,964.5L1914.0,965.2L1915.8,968.1L1917.3,970.1L1916.2,972.6L1914.6,971.2L1912.8,967.9L1911.5,967.4L1911.5,973.0ZM1935.3,962.5L1938.7,961.6L1942.0,962.5L1942.7,966.3L1945.4,968.1L1948.8,964.7L1953.3,965.2L1957.7,966.5L1963.4,968.5L1966.7,970.8L1969.0,973.0L1972.3,974.8L1971.7,976.4L1974.6,980.2L1977.9,984.2L1973.5,983.5L1970.1,980.9L1966.7,978.6L1963.4,979.7L1961.1,981.3L1957.7,981.3L1954.4,979.1L1951.0,979.3L1952.1,976.4L1951.0,973.0L1946.5,971.0L1942.0,969.7L1939.8,969.7L1939.3,967.4L1941.6,965.9L1937.5,965.6L1935.3,963.6ZM1901.6,979.5L1908.4,979.3L1912.8,979.5L1917.3,979.3L1917.3,980.4L1910.6,980.6L1903.9,980.9L1901.6,980.6ZM1918.5,983.8L1921.8,981.5L1926.3,979.5L1925.2,980.9L1920.7,983.5ZM1927.4,956.7L1929.7,957.3L1929.0,960.7L1928.1,962.5L1927.4,959.6ZM1928.6,967.4L1934.8,967.9L1934.2,969.0L1929.0,968.5ZM1974.6,973.0L1980.2,971.9L1982.9,970.1L1982.4,973.0L1977.9,974.6L1974.6,974.1ZM1896.0,1010.0L1897.6,1009.5L1900.5,1007.3L1903.9,1006.8L1908.4,1005.5L1912.8,1004.4L1915.8,1001.0L1915.5,998.8L1918.5,999.5L1918.9,997.0L1921.8,995.0L1925.2,992.1L1928.6,993.9L1931.9,994.1L1932.6,990.9L1934.8,988.5L1938.7,987.6L1939.1,986.0L1944.3,987.6L1948.3,988.0L1947.6,990.9L1946.1,994.3L1949.9,996.5L1953.7,999.5L1957.3,999.9L1958.9,995.4L1959.1,990.9L1960.0,986.5L1961.3,984.7L1963.4,988.7L1964.0,992.7L1967.4,994.3L1968.5,998.8L1969.6,1003.0L1973.5,1005.5L1976.4,1008.9L1979.7,1012.2L1982.9,1015.6L1985.1,1018.9L1985.8,1023.9L1984.7,1029.0L1983.6,1033.5L1980.9,1036.4L1979.1,1040.2L1977.9,1044.3L1973.5,1045.6L1969.6,1048.1L1966.3,1046.3L1963.4,1047.6L1958.9,1046.5L1955.5,1044.7L1954.4,1041.3L1951.7,1040.4L1951.5,1038.0L1950.6,1034.6L1948.8,1036.9L1946.5,1039.1L1944.9,1038.0L1942.5,1034.6L1938.7,1032.4L1935.3,1031.3L1930.8,1031.7L1926.3,1032.8L1922.9,1033.9L1919.6,1035.7L1915.1,1036.9L1910.6,1036.9L1906.1,1039.1L1901.6,1038.9L1899.4,1037.5L1899.8,1034.6L1900.9,1031.9L1899.4,1027.9L1898.3,1024.5L1896.7,1020.1L1895.6,1016.7L1896.7,1013.3ZM1966.1,1051.9L1970.1,1052.8L1973.9,1052.1L1974.1,1055.2L1972.3,1057.7L1969.0,1058.1L1967.2,1055.2ZM2028.9,1037.8L2032.5,1039.8L2035.2,1042.5L2036.3,1044.9L2040.8,1044.9L2041.9,1045.8L2039.2,1048.7L2038.1,1051.4L2034.7,1053.9L2033.4,1053.2L2034.1,1050.3L2031.4,1048.7L2033.4,1045.8L2033.0,1042.5L2029.6,1039.5ZM2028.9,1051.4L2032.3,1053.0L2031.8,1054.8L2029.1,1058.1L2025.8,1059.9L2024.6,1063.3L2021.7,1065.1L2017.2,1064.2L2015.0,1063.3L2018.4,1059.9L2022.8,1057.0L2026.2,1054.3L2027.8,1052.1ZM1628.9,848.5L1633.3,847.8L1636.7,847.1L1641.2,846.9L1644.3,846.0L1643.0,845.1L1645.0,842.9L1641.9,842.0L1641.2,840.4L1638.5,838.4L1637.6,836.4L1635.6,835.3L1636.7,831.9L1633.3,831.5L1634.5,829.4L1630.0,829.4L1628.2,831.9L1628.9,834.6L1630.0,836.8L1633.3,837.7L1634.5,839.7L1634.5,841.1L1631.1,841.3L1631.8,843.1L1629.5,844.4L1633.3,845.3L1634.5,845.8L1631.1,846.5ZM1618.8,845.1L1623.2,844.9L1627.1,843.8L1627.7,840.9L1628.4,838.2L1625.5,836.8L1622.1,837.9L1618.8,839.3L1619.9,841.5L1618.8,843.8ZM1450.6,911.6L1454.9,909.2L1460.5,909.0L1466.1,910.7L1471.7,914.3L1474.6,915.5L1471.7,916.1L1466.8,916.1L1468.3,914.3L1465.0,912.5L1460.5,911.4L1457.1,910.5L1453.7,911.0ZM1474.2,919.5L1477.3,916.1L1480.7,916.1L1484.3,916.6L1487.6,918.8L1485.2,919.7L1481.8,919.9L1480.2,921.1L1477.3,919.9ZM1465.4,919.5L1469.9,919.9L1469.5,920.6L1466.1,920.8ZM1490.3,919.5L1493.7,919.7L1493.5,920.4L1490.3,920.4ZM1669.3,875.6L1676.2,875.1L1675.1,878.5L1669.3,876.5ZM1659.6,868.9L1662.8,868.6L1662.8,872.9L1660.1,873.3ZM1660.5,864.6L1662.5,864.6L1662.3,867.7L1660.7,867.3ZM1694.2,881.2L1700.0,881.6L1699.6,882.3L1694.2,881.9ZM1713.7,882.3L1718.7,881.0L1717.5,882.5L1714.4,883.2ZM1504.3,1076.1L1511.0,1075.6L1511.0,1077.9L1504.3,1077.9ZM1756.8,800.5L1760.2,798.3L1764.7,793.8L1773.7,790.5L1787.1,788.2L1795.0,788.7L1780.4,792.3L1771.4,794.9L1769.2,798.3L1770.3,802.1L1762.4,802.1ZM1411.1,798.7L1418.9,800.8L1424.6,798.3L1423.4,795.4L1415.6,795.2ZM1426.8,799.0L1432.4,799.4L1438.0,797.2L1436.9,794.9L1427.9,794.9ZM1477.3,785.5L1486.3,787.1L1481.8,789.8L1488.5,790.5L1499.8,790.0L1509.9,791.6L1515.5,797.2L1518.8,801.7L1521.1,805.5L1522.2,810.6L1524.5,815.1L1528.9,820.7L1533.4,824.1L1540.2,826.3L1544.7,826.3L1546.9,821.8L1550.3,816.2L1558.1,813.3L1567.1,809.5L1578.3,807.9L1585.1,805.0L1591.8,802.8L1590.7,799.4L1594.1,794.9L1598.5,790.5L1600.8,786.0L1601.9,781.5L1614.3,778.1L1596.3,777.0L1573.8,773.7L1551.4,773.9L1528.9,775.9L1506.5,777.0L1495.3,779.3L1488.5,781.5L1493.0,783.7ZM1439.1,789.6L1448.1,789.3L1459.4,789.8L1466.1,788.7L1470.6,785.5L1475.1,783.1L1484.0,781.5L1493.0,779.3L1502.0,777.0L1497.5,775.2L1479.6,774.6L1461.6,774.8L1443.6,776.3L1436.9,778.1L1448.1,779.9L1451.5,782.6L1443.6,785.3L1440.3,787.5ZM1434.7,792.7L1443.6,793.8L1452.6,793.6L1461.6,793.1L1460.5,791.1L1450.4,790.5L1441.4,789.3L1434.7,788.9L1425.7,788.7L1430.2,791.4ZM1379.7,792.3L1386.4,793.8L1394.2,792.9L1403.2,792.7L1404.4,790.7L1396.5,788.9L1389.8,791.1L1383.0,789.6L1377.4,790.5ZM1407.7,792.0L1416.7,792.7L1422.3,791.4L1420.1,789.1L1410.0,789.3ZM1425.7,781.9L1434.7,785.3L1444.8,785.3L1445.9,781.9L1438.0,779.7L1430.2,779.9ZM1665.9,782.6L1677.1,781.5L1690.6,780.8L1701.8,781.5L1695.1,783.7L1688.3,785.3L1681.6,788.2L1674.9,788.9L1670.4,786.0ZM1856.7,783.7L1865.7,781.9L1874.7,780.4L1876.9,783.7L1865.7,785.5ZM1948.8,792.7L1960.0,790.5L1971.2,791.6L1977.9,792.3L1969.0,793.1L1955.5,793.6ZM2041.9,801.7L2045.3,800.5L2045.3,801.9ZM1744.5,780.8L1764.7,781.5L1780.4,780.4L1775.9,778.1L1753.4,779.3ZM1760.9,932.5L1763.6,932.5L1763.3,933.1L1761.1,933.1ZM1366.2,790.0L1374.0,790.9L1380.8,788.7L1374.0,787.1L1367.3,788.2ZM1417.8,805.7L1423.4,804.3L1426.8,806.1L1422.3,807.0ZM1406.6,784.9L1416.7,786.0L1418.9,783.7L1410.0,783.1ZM1422.3,786.0L1426.8,785.5L1424.6,784.0ZM1459.4,797.2L1466.1,797.6L1469.5,796.5L1462.7,795.4ZM1454.9,820.0L1458.2,820.7L1461.6,820.3L1457.1,819.6ZM1460.5,821.4L1462.7,822.5L1463.2,821.1ZM1457.1,841.8L1460.5,842.4L1459.8,841.5ZM1496.4,848.9L1502.0,850.5L1502.5,850.0L1497.5,848.7ZM1496.8,855.9L1501.6,856.5L1500.9,857.4L1497.5,856.8ZM1342.6,839.5L1345.5,840.0L1346.7,843.5L1343.7,842.0ZM1294.3,831.2L1298.8,830.8L1299.3,832.6L1294.8,833.2ZM1290.5,916.8L1292.1,915.5L1293.7,916.8L1292.1,918.1ZM1289.0,914.1L1289.9,913.4L1290.8,914.1L1289.9,914.8ZM1285.6,912.5L1286.5,911.8L1287.4,912.5L1286.5,913.3ZM1282.3,911.4L1283.1,910.8L1283.9,911.4L1283.1,912.0ZM1435.8,962.0L1436.9,961.1L1438.0,962.0L1436.9,962.9ZM1437.8,961.4L1438.5,960.8L1439.1,961.4L1438.5,961.9ZM1603.0,897.3L1604.2,896.4L1605.3,897.3L1604.2,898.2ZM1605.5,898.0L1606.4,897.3L1607.3,898.0L1606.4,898.7ZM1608.6,896.9L1609.8,896.0L1610.9,896.9L1609.8,897.8ZM1600.6,896.6L1601.2,896.1L1601.9,896.6L1601.2,897.2ZM1577.7,874.5L1578.3,873.9L1579.0,874.5L1578.3,875.0ZM1583.3,876.0L1584.0,875.5L1584.6,876.0L1584.0,876.6ZM1586.4,924.9L1587.3,924.1L1588.2,924.9L1587.3,925.6ZM1587.8,927.1L1588.4,926.6L1589.1,927.1L1588.4,927.6ZM1769.6,1006.2L1770.5,1005.5L1771.4,1006.2L1770.5,1006.9ZM1764.9,1008.0L1765.8,1007.2L1766.7,1008.0L1765.8,1008.7ZM1795.4,1071.1L1797.2,1069.7L1799.0,1071.1L1797.2,1072.6ZM1556.8,1082.3L1558.6,1080.9L1560.4,1082.3L1558.6,1083.8ZM2039.2,1000.6L2040.8,999.3L2042.4,1000.6L2040.8,1001.8ZM2042.6,997.9L2043.7,997.0L2044.9,997.9L2043.7,998.8ZM2010.5,1008.4L2012.7,1006.6L2015.0,1008.4L2012.7,1010.2ZM2008.9,1006.6L2010.1,1005.7L2011.2,1006.6L2010.1,1007.5ZM2014.1,1010.0L2015.2,1009.1L2016.3,1010.0L2015.2,1010.9ZM1998.8,982.0L2000.4,980.7L2002.0,982.0L2000.4,983.2ZM1994.6,978.6L1995.9,977.5L1997.3,978.6L1995.9,979.7ZM1991.4,976.4L1992.5,975.5L1993.7,976.4L1992.5,977.3ZM2002.6,984.0L2003.8,983.1L2004.9,984.0L2003.8,984.9ZM1987.4,974.1L1989.2,972.7L1991.0,974.1L1989.2,975.6ZM2015.0,995.4L2016.1,994.5L2017.2,995.4L2016.1,996.3ZM2018.1,999.9L2019.0,999.2L2019.9,999.9L2019.0,1000.6ZM1253.5,991.4L1254.4,990.7L1255.3,991.4L1254.4,992.1ZM1242.7,844.7L1243.8,843.8L1245.0,844.7L1243.8,845.6ZM1249.4,843.8L1250.6,842.9L1251.7,843.8L1250.6,844.7ZM1258.4,842.4L1259.5,841.5L1260.7,842.4L1259.5,843.3ZM1262.7,841.3L1264.0,840.2L1265.4,841.3L1264.0,842.4ZM1265.8,840.2L1267.4,838.9L1269.0,840.2L1267.4,841.4ZM2028.5,842.2L2029.6,841.3L2030.7,842.2L2029.6,843.1ZM2038.8,844.2L2039.7,843.5L2040.6,844.2L2039.7,844.9ZM1968.3,861.0L1969.4,860.1L1970.5,861.0L1969.4,861.9ZM1972.1,858.8L1973.5,857.7L1974.8,858.8L1973.5,859.9ZM1977.1,857.0L1977.9,856.3L1978.8,857.0L1977.9,857.7ZM1982.7,854.7L1983.6,854.0L1984.5,854.7L1983.6,855.5ZM1986.0,851.4L1986.9,850.7L1987.8,851.4L1986.9,852.1ZM1989.8,848.0L1991.0,847.1L1992.1,848.0L1991.0,848.9ZM1918.9,906.0L1919.6,905.5L1920.3,906.0L1919.6,906.6ZM1927.2,901.3L1928.3,900.4L1929.5,901.3L1928.3,902.2ZM1931.0,897.3L1931.9,896.6L1932.8,897.3L1931.9,898.0ZM1933.3,892.6L1934.2,891.9L1935.1,892.6L1934.2,893.3ZM1503.6,928.2L1504.3,927.7L1504.9,928.2L1504.3,928.8ZM1502.2,924.4L1503.1,923.7L1504.0,924.4L1503.1,925.1ZM1502.9,926.2L1503.6,925.7L1504.3,926.2L1503.6,926.7ZM1503.6,929.6L1504.3,929.0L1504.9,929.6L1504.3,930.1ZM1502.5,937.2L1503.6,936.3L1504.7,937.2L1503.6,938.1ZM1506.9,931.1L1507.6,930.6L1508.3,931.1L1507.6,931.7ZM1466.1,904.7L1467.2,903.8L1468.3,904.7L1467.2,905.6ZM1469.7,906.9L1470.6,906.2L1471.5,906.9L1470.6,907.7ZM1465.0,901.1L1466.1,900.2L1467.2,901.1L1466.1,902.0ZM1475.3,913.7L1476.2,912.9L1477.1,913.7L1476.2,914.4ZM1495.2,888.3L1495.7,887.9L1496.3,888.3L1495.7,888.8ZM1646.8,872.0L1647.9,871.1L1649.1,872.0L1647.9,872.9ZM1649.5,871.1L1650.2,870.6L1650.9,871.1L1650.2,871.6ZM1643.7,873.3L1644.3,872.8L1645.0,873.3L1644.3,873.9ZM1673.0,880.3L1673.5,879.8L1674.1,880.3L1673.5,880.7ZM1624.6,821.8L1625.5,821.1L1626.4,821.8L1625.5,822.5ZM1637.4,825.6L1638.3,824.9L1639.2,825.6L1638.3,826.3ZM1633.8,828.5L1634.5,828.0L1635.1,828.5L1634.5,829.1ZM1625.7,831.9L1626.6,831.2L1627.5,831.9L1626.6,832.6ZM1624.4,831.2L1625.0,830.7L1625.7,831.2L1625.0,831.8ZM1804.6,952.9L1805.1,952.5L1805.5,952.9L1805.1,953.2ZM1848.4,932.7L1849.5,931.8L1850.7,932.7L1849.5,933.6ZM1851.1,945.0L1851.8,944.5L1852.5,945.0L1851.8,945.6ZM1765.2,971.0L1765.8,970.6L1766.4,971.0L1765.8,971.5ZM1737.7,986.9L1738.4,986.4L1739.1,986.9L1738.4,987.4ZM1742.1,989.4L1742.7,988.9L1743.2,989.4L1742.7,989.8ZM1627.8,996.3L1628.4,995.9L1629.0,996.3L1628.4,996.8ZM1608.3,978.4L1608.9,977.9L1609.4,978.4L1608.9,978.8ZM1655.3,960.0L1656.0,959.5L1656.7,960.0L1656.0,960.6ZM1659.9,952.9L1660.7,952.2L1661.5,952.9L1660.7,953.5ZM1942.5,944.1L1943.2,943.6L1943.8,944.1L1943.2,944.7ZM1965.6,930.5L1966.3,929.9L1966.9,930.5L1966.3,931.0ZM1967.7,926.7L1968.3,926.2L1968.9,926.7L1968.3,927.1ZM1304.8,1000.1L1305.6,999.5L1306.4,1000.1L1305.6,1000.8ZM1247.2,1008.2L1247.9,1007.7L1248.5,1008.2L1247.9,1008.7ZM1395.0,1021.4L1395.6,1021.0L1396.2,1021.4L1395.6,1021.9ZM1484.0,1080.5L1484.0,1080.5L1484.1,1080.5L1484.0,1080.5ZM1683.0,794.0L1683.9,793.3L1684.8,794.0L1683.9,794.8ZM1621.0,801.7L1622.1,800.8L1623.2,801.7L1622.1,802.6ZM1254.4,818.5L1256.2,817.0L1258.0,818.5L1256.2,819.9ZM1266.5,825.9L1268.1,824.6L1269.7,825.9L1268.1,827.1ZM1258.2,832.6L1258.9,832.0L1259.5,832.6L1258.9,833.1ZM2012.5,837.5L2013.9,836.4L2015.2,837.5L2013.9,838.6ZM1929.7,968.1L1929.7,968.1L1929.7,968.1L1929.7,968.1ZM1923.8,968.3L1925.2,967.2L1926.5,968.3L1925.2,969.4ZM1933.0,961.4L1933.0,961.4L1933.1,961.4L1933.0,961.4ZM1926.5,964.3L1927.4,963.6L1928.3,964.3L1927.4,965.0ZM1941.8,974.6L1943.2,973.5L1944.5,974.6L1943.2,975.7ZM1935.3,977.7L1936.4,976.8L1937.5,977.7L1936.4,978.6ZM1922.9,979.1L1922.9,979.1L1922.9,979.1L1922.9,979.1ZM1909.0,982.4L1910.6,981.2L1912.2,982.4L1910.6,983.7ZM1905.0,980.0L1905.0,980.0L1905.0,980.0L1905.0,980.0ZM1898.7,979.5L1899.8,978.6L1900.9,979.5L1899.8,980.4ZM1901.4,980.0L1902.3,979.2L1903.2,980.0L1902.3,980.7ZM1859.2,958.2L1860.1,957.5L1861.0,958.2L1860.1,959.0ZM1862.3,964.1L1863.5,963.2L1864.6,964.1L1863.5,965.0ZM1865.3,967.0L1866.1,966.3L1867.0,967.0L1866.1,967.7ZM1878.0,965.6L1879.4,964.6L1880.7,965.6L1879.4,966.7ZM1882.5,967.2L1883.4,966.5L1884.3,967.2L1883.4,967.9ZM1883.4,952.0L1884.1,951.4L1884.8,952.0L1884.1,952.5ZM1893.8,976.4L1894.9,975.5L1896.0,976.4L1894.9,977.3ZM1980.9,967.9L1982.4,966.6L1984.0,967.9L1982.4,969.1ZM1970.3,965.2L1971.2,964.5L1972.1,965.2L1971.2,965.9ZM1979.1,966.5L1979.7,966.0L1980.4,966.5L1979.7,967.1ZM1988.5,973.0L1988.5,973.0L1988.5,973.0L1988.5,973.0ZM1918.2,937.6L1919.4,936.7L1920.5,937.6L1919.4,938.5ZM1920.3,936.1L1921.4,935.2L1922.5,936.1L1921.4,937.0ZM1911.5,933.1L1912.8,932.1L1914.2,933.1L1912.8,934.2ZM1906.6,938.7L1906.6,938.7L1906.6,938.7L1906.6,938.7ZM1751.2,856.5L1755.7,855.6L1760.2,856.5L1760.2,859.2L1756.4,859.9L1755.7,861.2L1754.1,861.0L1756.8,863.9L1759.3,865.1L1759.5,867.7L1762.4,868.9L1760.2,871.1L1761.3,872.9L1762.0,876.7L1757.9,878.3L1754.6,877.8L1751.2,876.5L1751.0,874.5L1751.9,872.2L1752.3,870.0L1750.1,867.1L1747.8,864.4L1746.7,861.0L1747.8,858.6ZM1434.7,856.1L1440.3,853.2L1445.9,851.6L1450.4,853.4L1451.3,856.3L1447.0,856.5L1443.6,855.4L1439.1,856.1ZM1444.1,866.6L1447.5,866.6L1448.1,862.1L1450.4,858.1L1447.0,858.1L1444.1,861.0ZM1451.5,857.7L1457.1,857.2L1461.6,859.2L1461.6,861.0L1457.8,863.9L1453.7,862.6L1454.2,859.5ZM1454.0,867.3L1459.4,867.5L1463.8,865.1L1460.5,864.8L1456.0,866.2ZM1462.0,863.7L1468.3,863.7L1470.1,862.1L1466.1,862.1L1462.7,862.6ZM1418.9,847.8L1424.6,847.6L1423.4,843.1L1421.2,840.2L1418.5,840.9L1420.1,844.2ZM1378.5,824.1L1385.3,824.1L1392.0,820.7L1395.4,820.0L1389.8,821.4L1384.1,821.4L1379.7,822.9ZM1361.7,812.9L1371.8,815.1L1376.3,812.2L1371.8,810.6L1365.1,811.3ZM1390.9,829.2L1396.5,828.1L1403.2,827.9L1396.5,827.4ZM1712.6,960.0L1717.5,960.0L1719.3,964.1L1716.4,967.0L1712.6,966.3ZM1706.8,968.3L1708.1,970.8L1709.7,975.3L1710.8,980.2L1709.2,979.3L1707.4,974.1L1706.5,970.8ZM1717.5,982.0L1718.9,985.3L1719.8,989.8L1720.2,992.7L1718.9,992.1L1718.2,987.6L1717.3,984.2ZM1874.2,845.1L1878.0,844.9L1883.7,842.0L1887.7,837.1L1887.0,835.9L1882.5,839.7L1878.0,842.4ZM1806.2,858.8L1809.6,855.9L1816.3,856.5L1819.0,855.9L1816.3,857.4L1809.6,857.2L1807.8,859.9ZM1772.1,859.9L1775.5,856.3L1779.3,856.5L1778.1,860.3L1774.1,862.8L1772.1,861.7ZM1709.0,826.3L1714.2,825.6L1714.8,823.6L1710.8,822.7L1708.5,824.1ZM1718.7,824.1L1722.0,823.4L1720.9,820.7L1718.7,821.1ZM1671.5,932.0L1674.4,932.0L1674.4,929.8L1671.5,929.8ZM1484.0,995.2L1486.3,995.9L1486.3,997.4L1484.0,996.5Z" fill="none" stroke="#808080" stroke-width="2.3" stroke-linejoin="round"/>
<rect x="1237.1" y="759.1" width="808.2" height="335.9999999999999" fill="none" stroke="#1a1a1a" stroke-width="2.0"/>
<path d="M1237.1,759.1v-9.3M1237.1,1095.1v9.3M1371.8,759.1v-9.3M1371.8,1095.1v9.3M1506.5,759.1v-9.3M1506.5,1095.1v9.3M1641.2,759.1v-9.3M1641.2,1095.1v9.3M1775.9,759.1v-9.3M1775.9,1095.1v9.3M1910.6,759.1v-9.3M1910.6,1095.1v9.3M2045.3,759.1v-9.3M2045.3,1095.1v9.3M1237.1,759.1h-9.3M2045.3,759.1h9.3M1237.1,826.3h-9.3M2045.3,826.3h9.3M1237.1,893.5h-9.3M2045.3,893.5h9.3M1237.1,960.7h-9.3M2045.3,960.7h9.3M1237.1,1027.9h-9.3M2045.3,1027.9h9.3M1237.1,1095.1h-9.3M2045.3,1095.1h9.3" stroke="#1a1a1a" stroke-width="2.0" fill="none"/>
<text x="1237.1" y="1132.3" font-size="25.4" text-anchor="middle" fill="#1a1a1a" >180°</text>
<text x="1371.8" y="1132.3" font-size="25.4" text-anchor="middle" fill="#1a1a1a" >120°W</text>
<text x="1506.5" y="1132.3" font-size="25.4" text-anchor="middle" fill="#1a1a1a" >60°W</text>
<text x="1641.2" y="1132.3" font-size="25.4" text-anchor="middle" fill="#1a1a1a" >0°</text>
<text x="1775.9" y="1132.3" font-size="25.4" text-anchor="middle" fill="#1a1a1a" >60°E</text>
<text x="1910.6" y="1132.3" font-size="25.4" text-anchor="middle" fill="#1a1a1a" >120°E</text>
<text x="2045.3" y="1132.3" font-size="25.4" text-anchor="middle" fill="#1a1a1a" >180°</text>
<text x="1223.5" y="768.3" font-size="25.4" text-anchor="end" fill="#1a1a1a" >90°N</text>
<text x="1223.5" y="835.5" font-size="25.4" text-anchor="end" fill="#1a1a1a" >60°N</text>
<text x="1223.5" y="902.7" font-size="25.4" text-anchor="end" fill="#1a1a1a" >30°N</text>
<text x="1223.5" y="969.9" font-size="25.4" text-anchor="end" fill="#1a1a1a" >0°</text>
<text x="1223.5" y="1037.1" font-size="25.4" text-anchor="end" fill="#1a1a1a" >30°S</text>
<text x="1223.5" y="1104.3" font-size="25.4" text-anchor="end" fill="#1a1a1a" >60°S</text>
<text x="1641.2" y="1169.6" font-size="33.0" text-anchor="middle" fill="#1a1a1a" >Longitude</text>
<text transform="translate(1149.1,927.1) rotate(-90)" font-size="33.0" text-anchor="middle" fill="#1a1a1a">Latitude</text>
<g transform="translate(131.9,1436.0) scale(3.15391,3.15750)" shape-rendering="crispEdges" fill="none" stroke-width="1.04">
<path stroke="#3e9178" d="M198,9.5h3M202,9.5h3M190,10.5h16M40,11.5h5M68,11.5h1M70,11.5h1M186,11.5h20M208,11.5h2M215,11.5h1M41,12.5h5M48,12.5h2M51,12.5h1M64,12.5h4M69,12.5h4M74,12.5h1M178,12.5h2M181,12.5h5M187,12.5h33M227,12.5h6M18,13.5h1M41,13.5h1M45,13.5h1M48,13.5h1M50,13.5h1M53,13.5h1M55,13.5h2M61,13.5h1M64,13.5h6M71,13.5h7M175,13.5h11M187,13.5h8M196,13.5h16M213,13.5h26M15,14.5h6M25,14.5h1M32,14.5h1M34,14.5h4M40,14.5h2M43,14.5h2M46,14.5h9M60,14.5h3M67,14.5h3M72,14.5h5M78,14.5h2M141,14.5h2M149,14.5h1M171,14.5h1M176,14.5h13M190,14.5h2M193,14.5h17M211,14.5h22M234,14.5h1M236,14.5h11M250,14.5h1M252,14.5h1M254,14.5h1M11,15.5h1M19,15.5h1M26,15.5h2M32,15.5h4M37,15.5h1M40,15.5h6M50,15.5h2M53,15.5h2M59,15.5h11M73,15.5h9M138,15.5h5M149,15.5h2M154,15.5h2M159,15.5h1M163,15.5h3M167,15.5h2M170,15.5h5M176,15.5h4M181,15.5h7M189,15.5h17M208,15.5h10M219,15.5h15M235,15.5h14M250,15.5h3M18,16.5h2M21,16.5h3M26,16.5h1M32,16.5h2M36,16.5h16M53,16.5h5M59,16.5h11M75,16.5h9M137,16.5h9M154,16.5h1M156,16.5h1M159,16.5h1M161,16.5h30M196,16.5h9M207,16.5h3M211,16.5h5M220,16.5h1M222,16.5h13M236,16.5h17M254,16.5h1M5,17.5h2M8,17.5h2M21,17.5h3M26,17.5h2M30,17.5h1M32,17.5h2M35,17.5h2M38,17.5h6M45,17.5h3M49,17.5h3M53,17.5h13M67,17.5h2M72,17.5h11M136,17.5h8M145,17.5h2M151,17.5h2M156,17.5h5M162,17.5h29M196,17.5h12M209,17.5h4M224,17.5h4M229,17.5h4M234,17.5h3M240,17.5h3M244,17.5h4M249,17.5h4M255,17.5h1M21,18.5h1M23,18.5h1M26,18.5h2M31,18.5h5M37,18.5h2M44,18.5h13M58,18.5h13M76,18.5h6M134,18.5h9M144,18.5h6M151,18.5h40M196,18.5h5M211,18.5h2M224,18.5h7M233,18.5h3M238,18.5h7M246,18.5h2M249,18.5h6M20,19.5h1M25,19.5h1M30,19.5h4M35,19.5h2M38,19.5h1M40,19.5h2M45,19.5h13M59,19.5h4M72,19.5h2M78,19.5h3M132,19.5h9M143,19.5h26M170,19.5h21M196,19.5h4M210,19.5h3M225,19.5h4M230,19.5h2M235,19.5h1M239,19.5h10M250,19.5h1M253,19.5h3M18,20.5h1M20,20.5h1M24,20.5h2M27,20.5h6M34,20.5h4M39,20.5h1M42,20.5h1M44,20.5h13M59,20.5h3M73,20.5h5M131,20.5h9M143,20.5h22M166,20.5h29M196,20.5h5M205,20.5h1M209,20.5h4M227,20.5h4M235,20.5h4M243,20.5h7M17,21.5h4M28,21.5h7M36,21.5h6M49,21.5h3M54,21.5h3M60,21.5h1M72,21.5h7M81,21.5h2M131,21.5h11M144,21.5h1M146,21.5h68M225,21.5h9M235,21.5h1M237,21.5h1M242,21.5h4M30,22.5h9M40,22.5h3M54,22.5h8M72,22.5h2M75,22.5h9M124,22.5h2M132,22.5h2M136,22.5h4M145,22.5h59M205,22.5h10M218,22.5h11M241,22.5h3M15,23.5h2M33,23.5h5M40,23.5h2M51,23.5h1M54,23.5h11M73,23.5h2M76,23.5h1M78,23.5h6M124,23.5h3M134,23.5h6M144,23.5h20M165,23.5h62M239,23.5h1M242,23.5h2M12,24.5h1M34,24.5h2M37,24.5h5M43,24.5h1M54,24.5h2M57,24.5h4M62,24.5h2M65,24.5h3M73,24.5h2M76,24.5h1M82,24.5h3M124,24.5h3M146,24.5h7M155,24.5h2M158,24.5h5M165,24.5h16M183,24.5h8M194,24.5h32M239,24.5h1M243,24.5h1M37,25.5h8M57,25.5h3M61,25.5h2M65,25.5h5M71,25.5h5M86,25.5h1M121,25.5h3M126,25.5h2M138,25.5h1M140,25.5h2M143,25.5h1M145,25.5h1M147,25.5h5M155,25.5h5M173,25.5h4M183,25.5h7M195,25.5h3M199,25.5h3M203,25.5h16M220,25.5h1M222,25.5h6M239,25.5h2M37,26.5h8M58,26.5h4M63,26.5h4M68,26.5h2M72,26.5h3M82,26.5h1M85,26.5h1M122,26.5h2M125,26.5h1M128,26.5h1M132,26.5h2M141,26.5h1M147,26.5h1M156,26.5h1M181,26.5h1M183,26.5h1M188,26.5h3M195,26.5h3M207,26.5h2M211,26.5h1M214,26.5h4M219,26.5h8M228,26.5h2M239,26.5h2M37,27.5h8M60,27.5h25M88,27.5h1M125,27.5h1M128,27.5h1M130,27.5h1M177,27.5h1M190,27.5h1M194,27.5h1M215,27.5h3M219,27.5h9M229,27.5h1M239,27.5h1M37,28.5h9M60,28.5h21M87,28.5h2M130,28.5h1M174,28.5h5M192,28.5h2M215,28.5h13M229,28.5h1M40,29.5h5M61,29.5h21M87,29.5h3M125,29.5h1M154,29.5h2M171,29.5h7M191,29.5h3M219,29.5h8M229,29.5h1M40,30.5h4M65,30.5h1M68,30.5h14M133,30.5h1M135,30.5h2M152,30.5h7M172,30.5h5M191,30.5h4M196,30.5h2M222,30.5h5M229,30.5h1M40,31.5h3M68,31.5h1M70,31.5h3M74,31.5h4M79,31.5h1M133,31.5h4M138,31.5h1M146,31.5h4M154,31.5h6M173,31.5h1M190,31.5h6M197,31.5h4M202,31.5h1M206,31.5h1M224,31.5h2M71,32.5h1M76,32.5h1M134,32.5h1M147,32.5h2M155,32.5h3M188,32.5h12M224,32.5h1M228,32.5h2M72,33.5h4M135,33.5h1M147,33.5h1M157,33.5h1M188,33.5h10M72,34.5h3M139,34.5h1M147,34.5h1M180,34.5h5M186,34.5h12M206,34.5h1M208,34.5h1M227,34.5h1M52,35.5h2M134,35.5h1M139,35.5h1M159,35.5h1M179,35.5h5M185,35.5h2M188,35.5h11M205,35.5h5M227,35.5h2M51,36.5h2M68,36.5h3M179,36.5h8M189,36.5h12M205,36.5h5M227,36.5h2M68,37.5h3M180,37.5h5M186,37.5h1M189,37.5h6M196,37.5h1M198,37.5h3M205,37.5h7M225,37.5h3M69,38.5h2M179,38.5h22M205,38.5h9M224,38.5h4M156,39.5h1M180,39.5h16M200,39.5h1M205,39.5h8M221,39.5h6M128,40.5h7M136,40.5h1M156,40.5h4M170,40.5h1M179,40.5h10M190,40.5h1M192,40.5h5M199,40.5h2M205,40.5h4M213,40.5h1M221,40.5h2M128,41.5h2M131,41.5h8M142,41.5h5M158,41.5h2M169,41.5h1M179,41.5h6M192,41.5h1M198,41.5h2M205,41.5h4M214,41.5h1M124,42.5h1M126,42.5h1M128,42.5h12M141,42.5h9M169,42.5h1M180,42.5h4M205,42.5h2M213,42.5h2M123,43.5h16M142,43.5h3M146,43.5h4M151,43.5h2M171,43.5h1M214,43.5h1M123,44.5h8M132,44.5h3M136,44.5h1M138,44.5h8M147,44.5h3M151,44.5h1M169,44.5h1M171,44.5h1M179,44.5h1M184,44.5h1M123,45.5h23M148,45.5h5M157,45.5h1M163,45.5h1M179,45.5h4M117,46.5h1M123,46.5h1M125,46.5h2M128,46.5h14M143,46.5h1M145,46.5h8M162,46.5h2M181,46.5h3M117,47.5h1M124,47.5h1M126,47.5h15M142,47.5h1M144,47.5h9M162,47.5h2M180,47.5h4M116,48.5h1M122,48.5h2M126,48.5h13M140,48.5h2M145,48.5h1M147,48.5h6M166,48.5h1M179,48.5h2M182,48.5h2M180,49.5h4M168,50.5h1M180,50.5h4M180,51.5h4M181,52.5h5M181,53.5h1M75,56.5h1M146,56.5h5M73,57.5h1M75,57.5h1M77,57.5h1M147,57.5h6M217,57.5h1M74,58.5h1M119,58.5h2M122,58.5h9M146,58.5h7M185,58.5h1M215,58.5h2M74,59.5h1M121,59.5h1M123,59.5h4M128,59.5h4M145,59.5h1M147,59.5h5M211,59.5h1M216,59.5h1M73,60.5h2M82,60.5h2M123,60.5h1M125,60.5h2M134,60.5h3M138,60.5h2M143,60.5h9M201,60.5h1M211,60.5h2M74,61.5h1M80,61.5h5M135,61.5h17M197,61.5h2M200,61.5h2M208,61.5h3M72,62.5h3M77,62.5h7M135,62.5h17M198,62.5h4M207,62.5h5M71,63.5h13M135,63.5h16M198,63.5h3M205,63.5h1M207,63.5h10M70,64.5h15M86,64.5h2M89,64.5h5M135,64.5h9M145,64.5h5M199,64.5h3M206,64.5h6M213,64.5h1M215,64.5h1M221,64.5h2M70,65.5h1M72,65.5h21M139,65.5h9M200,65.5h3M206,65.5h5M213,65.5h2M222,65.5h2M225,65.5h1M73,66.5h22M140,66.5h9M200,66.5h4M207,66.5h4M213,66.5h2M222,66.5h4M228,66.5h1M70,67.5h1M73,67.5h18M139,67.5h11M213,67.5h1M225,67.5h1M228,67.5h3M70,68.5h1M73,68.5h14M138,68.5h6M145,68.5h1M148,68.5h2M203,68.5h1M206,68.5h1M226,68.5h1M230,68.5h1M73,69.5h12M139,69.5h1M141,69.5h1M146,69.5h1M149,69.5h1M205,69.5h5M226,69.5h1M230,69.5h1M73,70.5h9M73,71.5h5M73,72.5h4M74,73.5h3M83,75.5h1M220,75.5h1M215,76.5h1M217,76.5h1M219,76.5h4M224,76.5h4M145,77.5h1M217,77.5h7M227,77.5h1M78,78.5h1M145,78.5h1M215,78.5h2M218,78.5h6M225,78.5h4M80,79.5h2M83,79.5h1M209,79.5h1M81,80.5h4M82,81.5h3M82,82.5h3M83,83.5h2M219,83.5h1M83,84.5h4M84,85.5h3M84,86.5h6M84,87.5h6M82,88.5h1M84,88.5h6M86,89.5h1M251,89.5h2M86,90.5h2M252,90.5h1M252,91.5h3M252,92.5h2M251,93.5h2M78,97.5h1M77,98.5h2M74,99.5h6M74,100.5h5M75,101.5h4M76,102.5h2"/>
<path stroke="#8cd9c4" d="M189,14.5h1M192,14.5h1M247,14.5h1M243,17.5h1M248,17.5h1M245,18.5h1M37,19.5h1M169,19.5h1M38,20.5h1M165,20.5h1M195,20.5h1M35,21.5h1M157,24.5h1M160,25.5h1M168,25.5h1M181,25.5h2M126,26.5h2M198,26.5h5M204,26.5h3M126,27.5h2M195,27.5h1M197,27.5h2M200,27.5h1M203,27.5h3M172,28.5h2M191,28.5h1M195,28.5h1M197,28.5h1M204,28.5h2M214,28.5h1M194,29.5h1M197,29.5h1M205,29.5h1M207,29.5h5M200,30.5h1M202,30.5h4M208,30.5h1M210,30.5h1M219,30.5h3M201,31.5h1M203,31.5h3M220,31.5h4M200,32.5h8M220,32.5h4M198,33.5h9M208,33.5h1M221,33.5h2M198,34.5h8M207,34.5h1M209,34.5h1M199,35.5h6M210,35.5h2M201,36.5h4M211,36.5h1M201,37.5h1M203,37.5h2M212,37.5h1M218,37.5h2M201,38.5h4M218,38.5h2M201,39.5h4M218,39.5h1M127,40.5h1M201,40.5h4M209,40.5h4M121,41.5h1M123,41.5h1M125,41.5h3M201,41.5h4M209,41.5h4M121,42.5h3M125,42.5h1M127,42.5h1M203,42.5h2M209,42.5h1M120,43.5h1M122,43.5h1M118,44.5h4M157,44.5h1M118,45.5h4M158,45.5h1M120,46.5h3M118,47.5h4M117,48.5h5M147,55.5h4M151,56.5h1M121,57.5h7M140,60.5h3M72,66.5h1M72,67.5h1M72,68.5h1M232,68.5h1M71,69.5h2M231,69.5h1M72,70.5h1M149,70.5h1M72,71.5h1M79,71.5h1M149,71.5h1M83,76.5h1M161,76.5h1M228,77.5h2M84,78.5h1M229,78.5h2M84,79.5h1M85,80.5h1M85,81.5h2M85,82.5h2M85,83.5h2M219,84.5h1M83,85.5h1M82,86.5h2M234,86.5h1M82,87.5h2M223,87.5h1M225,87.5h1M83,88.5h1M79,89.5h1M83,89.5h3M83,90.5h1M85,90.5h1M83,92.5h1"/>
<path stroke="#d6c17a" d="M197,9.5h1M201,9.5h1M205,9.5h3M206,10.5h2M67,11.5h1M69,11.5h1M206,11.5h2M39,12.5h2M46,12.5h2M50,12.5h1M52,12.5h2M68,12.5h1M73,12.5h1M177,12.5h1M186,12.5h1M15,13.5h3M19,13.5h1M46,13.5h2M49,13.5h1M51,13.5h2M54,13.5h1M60,13.5h1M70,13.5h1M145,13.5h4M186,13.5h1M195,13.5h1M212,13.5h1M239,13.5h1M12,14.5h3M21,14.5h4M26,14.5h3M33,14.5h1M38,14.5h2M42,14.5h1M45,14.5h1M55,14.5h1M77,14.5h1M143,14.5h6M150,14.5h2M172,14.5h1M175,14.5h1M210,14.5h1M233,14.5h1M235,14.5h1M248,14.5h1M251,14.5h1M253,14.5h1M0,15.5h3M9,15.5h2M12,15.5h7M20,15.5h6M28,15.5h4M36,15.5h1M38,15.5h2M52,15.5h1M58,15.5h1M143,15.5h6M151,15.5h3M160,15.5h1M166,15.5h1M169,15.5h1M175,15.5h1M188,15.5h1M206,15.5h2M218,15.5h1M234,15.5h1M249,15.5h1M253,15.5h3M0,16.5h6M9,16.5h9M20,16.5h1M24,16.5h2M27,16.5h5M34,16.5h2M52,16.5h1M58,16.5h1M146,16.5h8M155,16.5h1M160,16.5h1M191,16.5h5M205,16.5h2M210,16.5h1M216,16.5h4M221,16.5h1M235,16.5h1M253,16.5h1M255,16.5h1M0,17.5h5M10,17.5h11M24,17.5h2M28,17.5h2M31,17.5h1M34,17.5h1M37,17.5h1M44,17.5h1M48,17.5h1M52,17.5h1M111,17.5h7M147,17.5h4M161,17.5h1M191,17.5h5M208,17.5h1M213,17.5h11M228,17.5h1M233,17.5h1M237,17.5h3M253,17.5h2M13,18.5h8M22,18.5h1M24,18.5h2M28,18.5h3M36,18.5h1M40,18.5h4M57,18.5h1M112,18.5h5M150,18.5h1M191,18.5h5M201,18.5h10M213,18.5h11M231,18.5h2M236,18.5h2M248,18.5h1M10,19.5h10M21,19.5h4M26,19.5h4M34,19.5h1M39,19.5h1M42,19.5h3M58,19.5h1M191,19.5h5M200,19.5h10M213,19.5h12M229,19.5h1M232,19.5h3M236,19.5h3M249,19.5h1M251,19.5h2M10,20.5h8M19,20.5h1M21,20.5h3M26,20.5h1M33,20.5h1M40,20.5h2M43,20.5h1M57,20.5h2M201,20.5h4M206,20.5h3M213,20.5h14M231,20.5h4M239,20.5h1M250,20.5h1M13,21.5h4M21,21.5h1M26,21.5h2M42,21.5h7M52,21.5h2M57,21.5h3M214,21.5h11M234,21.5h1M236,21.5h1M16,22.5h2M39,22.5h1M43,22.5h11M74,22.5h1M204,22.5h1M215,22.5h3M240,22.5h1M14,23.5h1M38,23.5h2M42,23.5h9M52,23.5h2M75,23.5h1M77,23.5h1M143,23.5h1M164,23.5h1M240,23.5h2M13,24.5h1M36,24.5h1M42,24.5h1M44,24.5h10M56,24.5h1M61,24.5h1M64,24.5h1M75,24.5h1M77,24.5h5M134,24.5h2M137,24.5h1M143,24.5h3M153,24.5h2M163,24.5h2M181,24.5h1M191,24.5h3M240,24.5h3M35,25.5h2M45,25.5h12M60,25.5h1M63,25.5h2M76,25.5h10M134,25.5h4M139,25.5h1M142,25.5h1M144,25.5h1M146,25.5h1M152,25.5h3M161,25.5h7M169,25.5h2M172,25.5h1M177,25.5h4M190,25.5h5M198,25.5h1M202,25.5h1M219,25.5h1M221,25.5h1M241,25.5h2M45,26.5h13M62,26.5h1M67,26.5h1M75,26.5h7M83,26.5h2M86,26.5h2M121,26.5h1M131,26.5h1M134,26.5h7M142,26.5h5M148,26.5h5M154,26.5h2M157,26.5h4M162,26.5h8M171,26.5h3M175,26.5h6M182,26.5h1M184,26.5h4M191,26.5h4M209,26.5h2M212,26.5h2M218,26.5h1M227,26.5h1M45,27.5h15M85,27.5h3M131,27.5h32M164,27.5h1M166,27.5h1M168,27.5h1M170,27.5h7M178,27.5h3M182,27.5h8M191,27.5h2M214,27.5h1M218,27.5h1M46,28.5h14M128,28.5h2M131,28.5h31M163,28.5h4M169,28.5h3M179,28.5h12M39,29.5h1M45,29.5h16M86,29.5h1M126,29.5h28M156,29.5h6M163,29.5h4M168,29.5h3M178,29.5h13M227,29.5h1M39,30.5h1M44,30.5h15M60,30.5h4M88,30.5h3M126,30.5h7M134,30.5h1M137,30.5h15M159,30.5h13M177,30.5h14M195,30.5h1M198,30.5h1M206,30.5h2M43,31.5h14M60,31.5h1M62,31.5h6M73,31.5h1M78,31.5h1M80,31.5h5M127,31.5h6M137,31.5h1M139,31.5h7M151,31.5h2M160,31.5h2M166,31.5h7M174,31.5h16M196,31.5h1M40,32.5h9M51,32.5h7M63,32.5h3M67,32.5h2M72,32.5h4M77,32.5h3M81,32.5h2M127,32.5h7M135,32.5h2M139,32.5h8M152,32.5h1M158,32.5h4M164,32.5h24M230,32.5h1M39,33.5h8M50,33.5h1M52,33.5h1M54,33.5h4M64,33.5h2M67,33.5h5M76,33.5h2M121,33.5h9M132,33.5h1M136,33.5h2M140,33.5h7M158,33.5h4M165,33.5h23M209,33.5h1M228,33.5h3M39,34.5h2M42,34.5h2M45,34.5h2M49,34.5h9M63,34.5h9M75,34.5h3M122,34.5h8M137,34.5h2M142,34.5h5M148,34.5h1M150,34.5h4M157,34.5h6M165,34.5h15M185,34.5h1M228,34.5h1M45,35.5h3M49,35.5h3M54,35.5h3M63,35.5h12M121,35.5h1M125,35.5h3M140,35.5h1M142,35.5h3M146,35.5h13M160,35.5h3M168,35.5h11M184,35.5h1M187,35.5h1M45,36.5h2M48,36.5h1M50,36.5h1M53,36.5h1M55,36.5h2M63,36.5h5M71,36.5h4M121,36.5h1M126,36.5h2M139,36.5h1M143,36.5h2M147,36.5h16M166,36.5h1M168,36.5h11M187,36.5h2M45,37.5h6M52,37.5h1M55,37.5h2M62,37.5h6M71,37.5h3M122,37.5h5M133,37.5h3M137,37.5h2M143,37.5h2M147,37.5h17M165,37.5h15M185,37.5h1M187,37.5h2M195,37.5h1M197,37.5h1M46,38.5h3M60,38.5h1M62,38.5h7M71,38.5h3M124,38.5h1M128,38.5h8M153,38.5h26M45,39.5h4M62,39.5h12M126,39.5h10M153,39.5h3M157,39.5h23M196,39.5h4M45,40.5h2M48,40.5h1M59,40.5h13M135,40.5h1M143,40.5h1M153,40.5h3M160,40.5h10M171,40.5h8M189,40.5h1M191,40.5h1M197,40.5h2M220,40.5h1M45,41.5h1M60,41.5h11M130,41.5h1M152,41.5h6M160,41.5h9M170,41.5h9M185,41.5h7M193,41.5h5M200,41.5h1M213,41.5h1M220,41.5h1M45,42.5h1M59,42.5h10M140,42.5h1M150,42.5h19M170,42.5h10M184,42.5h17M207,42.5h2M59,43.5h1M139,43.5h3M145,43.5h1M150,43.5h1M153,43.5h4M160,43.5h3M164,43.5h7M172,43.5h2M179,43.5h22M205,43.5h4M122,44.5h1M131,44.5h1M135,44.5h1M137,44.5h1M146,44.5h1M150,44.5h1M153,44.5h4M160,44.5h3M165,44.5h4M170,44.5h1M172,44.5h2M180,44.5h4M185,44.5h16M205,44.5h4M213,44.5h1M146,45.5h2M154,45.5h3M159,45.5h4M164,45.5h1M169,45.5h5M183,45.5h18M204,45.5h5M124,46.5h1M127,46.5h1M142,46.5h1M144,46.5h1M154,46.5h8M164,46.5h1M166,46.5h3M179,46.5h2M184,46.5h17M208,46.5h1M214,46.5h1M116,47.5h1M123,47.5h1M125,47.5h1M141,47.5h1M143,47.5h1M153,47.5h1M155,47.5h7M164,47.5h6M177,47.5h3M184,47.5h3M190,47.5h11M207,47.5h2M213,47.5h2M124,48.5h2M139,48.5h1M142,48.5h3M146,48.5h1M153,48.5h1M156,48.5h10M167,48.5h3M177,48.5h2M181,48.5h1M184,48.5h1M191,48.5h1M193,48.5h8M205,48.5h3M63,49.5h3M116,49.5h1M123,49.5h6M131,49.5h1M134,49.5h7M143,49.5h5M149,49.5h2M152,49.5h3M156,49.5h3M163,49.5h6M184,49.5h1M194,49.5h5M206,49.5h1M63,50.5h3M157,50.5h1M164,50.5h4M184,50.5h2M195,50.5h3M206,50.5h1M63,51.5h2M164,51.5h4M184,51.5h3M195,51.5h2M214,51.5h1M63,52.5h1M164,52.5h2M180,52.5h1M195,52.5h1M213,52.5h2M62,53.5h2M182,53.5h3M213,53.5h2M68,54.5h1M153,54.5h4M181,54.5h1M184,54.5h1M215,54.5h1M66,55.5h3M76,55.5h1M78,55.5h1M119,55.5h1M152,55.5h5M164,55.5h1M181,55.5h1M184,55.5h1M67,56.5h2M74,56.5h1M76,56.5h8M118,56.5h3M145,56.5h1M152,56.5h5M164,56.5h1M184,56.5h1M198,56.5h1M202,56.5h2M68,57.5h5M74,57.5h1M76,57.5h1M78,57.5h2M82,57.5h3M118,57.5h3M131,57.5h8M144,57.5h3M153,57.5h4M182,57.5h2M198,57.5h1M202,57.5h2M216,57.5h1M69,58.5h2M72,58.5h2M75,58.5h5M82,58.5h4M121,58.5h1M131,58.5h8M144,58.5h2M153,58.5h3M198,58.5h2M217,58.5h1M73,59.5h1M75,59.5h1M80,59.5h7M120,59.5h1M122,59.5h1M127,59.5h1M132,59.5h8M144,59.5h1M146,59.5h1M152,59.5h4M185,59.5h1M199,59.5h2M210,59.5h1M217,59.5h1M75,60.5h1M80,60.5h2M86,60.5h5M122,60.5h1M124,60.5h1M132,60.5h2M137,60.5h1M196,60.5h2M199,60.5h2M209,60.5h2M73,61.5h1M75,61.5h5M85,61.5h7M160,61.5h2M211,61.5h1M75,62.5h2M84,62.5h8M160,62.5h1M84,63.5h9M151,63.5h3M157,63.5h2M206,63.5h1M85,64.5h1M88,64.5h1M134,64.5h1M144,64.5h1M150,64.5h1M152,64.5h2M157,64.5h1M71,65.5h1M93,65.5h3M134,65.5h5M148,65.5h3M152,65.5h1M157,65.5h1M226,65.5h2M95,66.5h2M135,66.5h5M149,66.5h2M226,66.5h2M229,66.5h1M91,67.5h5M136,67.5h3M150,67.5h1M201,67.5h3M226,67.5h2M231,67.5h1M87,68.5h9M137,68.5h1M144,68.5h1M146,68.5h2M150,68.5h1M204,68.5h1M227,68.5h3M85,69.5h11M137,69.5h2M140,69.5h1M142,69.5h4M147,69.5h2M155,69.5h1M204,69.5h1M227,69.5h3M82,70.5h14M137,70.5h11M228,70.5h1M78,71.5h1M81,71.5h6M90,71.5h6M137,71.5h11M77,72.5h2M82,72.5h4M93,72.5h3M144,72.5h4M73,73.5h1M77,73.5h2M82,73.5h2M94,73.5h3M145,73.5h2M162,73.5h2M74,74.5h10M95,74.5h3M145,74.5h3M161,74.5h3M217,74.5h3M75,75.5h7M95,75.5h4M145,75.5h2M162,75.5h2M216,75.5h4M221,75.5h1M224,75.5h2M228,75.5h1M77,76.5h6M95,76.5h5M145,76.5h2M162,76.5h1M216,76.5h1M218,76.5h1M223,76.5h1M78,77.5h5M95,77.5h5M144,77.5h1M146,77.5h1M162,77.5h1M214,77.5h3M224,77.5h3M79,78.5h4M96,78.5h4M143,78.5h2M146,78.5h1M162,78.5h1M211,78.5h4M217,78.5h1M224,78.5h1M78,79.5h2M82,79.5h1M94,79.5h5M143,79.5h4M210,79.5h19M78,80.5h3M93,80.5h5M143,80.5h3M152,80.5h1M209,80.5h20M78,81.5h4M93,81.5h2M140,81.5h6M152,81.5h1M161,81.5h1M208,81.5h21M78,82.5h4M92,82.5h2M139,82.5h7M151,82.5h1M209,82.5h16M226,82.5h3M77,83.5h1M82,83.5h1M90,83.5h4M139,83.5h7M151,83.5h1M212,83.5h1M215,83.5h4M220,83.5h3M225,83.5h2M87,84.5h6M140,84.5h8M215,84.5h1M87,85.5h6M140,85.5h2M144,85.5h5M77,86.5h1M90,86.5h2M142,86.5h1M77,87.5h1M90,87.5h1M141,87.5h1M144,87.5h4M141,88.5h4M224,88.5h1M226,88.5h3M231,88.5h1M226,89.5h9M76,90.5h1M227,90.5h8M76,91.5h1M85,91.5h1M229,91.5h4M75,92.5h2M75,93.5h2M231,93.5h3M250,93.5h1M75,94.5h2M81,94.5h2M231,94.5h2M249,94.5h2M75,95.5h2M80,95.5h2M247,95.5h3M75,96.5h2M80,96.5h1M246,96.5h4M74,97.5h4M79,97.5h2M74,98.5h3M79,98.5h2M79,101.5h1M78,102.5h2M79,103.5h1"/>
<path stroke="#a66726" d="M39,18.5h1M182,24.5h1M171,25.5h1M153,26.5h1M161,26.5h1M170,26.5h1M174,26.5h1M163,27.5h1M165,27.5h1M167,27.5h1M169,27.5h1M181,27.5h1M193,27.5h1M196,27.5h1M199,27.5h1M201,27.5h2M206,27.5h8M162,28.5h1M167,28.5h2M194,28.5h1M196,28.5h1M198,28.5h6M206,28.5h8M162,29.5h1M167,29.5h1M195,29.5h2M198,29.5h7M206,29.5h1M212,29.5h7M59,30.5h1M199,30.5h1M201,30.5h1M209,30.5h1M211,30.5h8M57,31.5h3M61,31.5h1M207,31.5h13M49,32.5h2M58,32.5h5M208,32.5h12M47,33.5h3M51,33.5h1M53,33.5h1M58,33.5h6M207,33.5h1M210,33.5h11M41,34.5h1M44,34.5h1M47,34.5h2M58,34.5h5M210,34.5h11M40,35.5h5M48,35.5h1M57,35.5h6M122,35.5h3M166,35.5h2M212,35.5h8M40,36.5h5M47,36.5h1M49,36.5h1M54,36.5h1M57,36.5h6M122,36.5h4M167,36.5h1M210,36.5h1M217,36.5h2M41,37.5h4M51,37.5h1M53,37.5h2M57,37.5h5M202,37.5h1M213,37.5h2M41,38.5h5M49,38.5h11M61,38.5h1M42,39.5h3M49,39.5h13M123,39.5h3M44,40.5h1M47,40.5h1M49,40.5h10M122,40.5h5M46,41.5h14M122,41.5h1M124,41.5h1M46,42.5h1M48,42.5h11M69,42.5h1M201,42.5h2M210,42.5h3M46,43.5h13M69,43.5h2M121,43.5h1M157,43.5h3M174,43.5h5M201,43.5h4M209,43.5h5M46,44.5h2M49,44.5h10M69,44.5h2M158,44.5h2M174,44.5h5M201,44.5h4M209,44.5h4M48,45.5h1M50,45.5h9M70,45.5h1M122,45.5h1M174,45.5h5M201,45.5h3M209,45.5h4M48,46.5h2M51,46.5h8M118,46.5h2M176,46.5h3M201,46.5h7M209,46.5h4M49,47.5h1M52,47.5h7M122,47.5h1M187,47.5h3M201,47.5h6M209,47.5h2M53,48.5h6M185,48.5h6M201,48.5h4M53,49.5h6M117,49.5h6M129,49.5h2M132,49.5h2M141,49.5h2M148,49.5h1M151,49.5h1M159,49.5h4M185,49.5h5M199,49.5h5M54,50.5h6M116,50.5h39M158,50.5h6M186,50.5h2M198,50.5h6M205,50.5h1M56,51.5h7M116,51.5h40M158,51.5h6M197,51.5h7M58,52.5h5M64,52.5h1M116,52.5h40M158,52.5h6M197,52.5h8M64,53.5h5M116,53.5h41M158,53.5h6M197,53.5h9M64,54.5h4M116,54.5h37M157,54.5h1M159,54.5h3M182,54.5h2M198,54.5h8M116,55.5h3M120,55.5h27M151,55.5h1M157,55.5h2M182,55.5h2M198,55.5h1M201,55.5h5M117,56.5h1M121,56.5h24M157,56.5h7M182,56.5h2M204,56.5h1M80,57.5h2M128,57.5h3M139,57.5h5M157,57.5h7M80,58.5h2M139,58.5h5M156,58.5h8M76,59.5h4M140,59.5h4M156,59.5h7M76,60.5h4M84,60.5h2M152,60.5h11M152,61.5h8M152,62.5h8M154,63.5h3M154,64.5h3M153,65.5h4M71,66.5h1M97,66.5h4M151,66.5h6M71,67.5h1M96,67.5h7M151,67.5h5M71,68.5h1M96,68.5h7M151,68.5h5M231,68.5h1M96,69.5h7M150,69.5h5M232,69.5h1M96,70.5h7M148,70.5h1M150,70.5h6M229,70.5h1M232,70.5h2M80,71.5h1M87,71.5h3M96,71.5h6M148,71.5h1M150,71.5h7M229,71.5h1M234,71.5h1M79,72.5h3M86,72.5h7M96,72.5h6M137,72.5h7M148,72.5h9M222,72.5h3M229,72.5h1M79,73.5h3M84,73.5h10M97,73.5h4M137,73.5h8M147,73.5h10M220,73.5h5M229,73.5h1M84,74.5h11M98,74.5h2M137,74.5h8M148,74.5h9M220,74.5h5M228,74.5h3M82,75.5h1M84,75.5h11M99,75.5h1M136,75.5h9M147,75.5h10M160,75.5h2M222,75.5h2M229,75.5h3M84,76.5h11M136,76.5h9M147,76.5h8M159,76.5h2M228,76.5h4M83,77.5h12M137,77.5h7M147,77.5h7M159,77.5h3M230,77.5h2M83,78.5h1M85,78.5h11M137,78.5h6M147,78.5h6M159,78.5h3M231,78.5h3M85,79.5h9M138,79.5h5M147,79.5h6M159,79.5h3M229,79.5h6M86,80.5h7M138,80.5h5M146,80.5h6M159,80.5h3M229,80.5h7M87,81.5h6M138,81.5h2M146,81.5h6M159,81.5h2M229,81.5h7M87,82.5h5M146,82.5h5M225,82.5h1M229,82.5h8M78,83.5h4M87,83.5h3M146,83.5h5M209,83.5h3M213,83.5h2M223,83.5h2M227,83.5h10M77,84.5h6M148,84.5h3M209,84.5h6M216,84.5h3M220,84.5h17M77,85.5h6M142,85.5h2M149,85.5h1M210,85.5h27M78,86.5h4M141,86.5h1M143,86.5h6M210,86.5h24M235,86.5h2M78,87.5h4M142,87.5h2M210,87.5h7M224,87.5h1M226,87.5h10M77,88.5h5M210,88.5h3M229,88.5h2M232,88.5h4M76,89.5h3M80,89.5h3M77,90.5h6M84,90.5h1M77,91.5h8M77,92.5h6M77,93.5h5M77,94.5h4M77,95.5h3M77,96.5h3"/>
</g><path d="M158.8,1490.8L162.2,1484.7L170.0,1483.2L172.5,1480.2L184.6,1478.0L194.7,1479.1L203.7,1480.0L214.9,1480.7L219.4,1481.8L228.3,1483.2L232.8,1482.3L241.8,1480.9L248.5,1480.0L255.3,1482.0L264.2,1481.4L273.2,1483.2L277.7,1485.6L288.9,1485.6L293.4,1484.7L300.1,1484.3L306.8,1485.8L315.8,1485.4L320.3,1484.9L321.4,1476.6L327.0,1478.7L329.3,1482.0L332.6,1484.3L338.2,1483.6L342.7,1482.0L345.0,1481.4L351.7,1481.4L353.3,1484.3L351.7,1487.6L347.2,1489.2L342.7,1488.8L340.5,1491.0L338.2,1493.9L332.6,1495.5L328.1,1497.7L324.8,1501.1L323.2,1505.6L324.8,1506.3L328.1,1510.1L333.8,1510.1L338.2,1511.2L345.0,1513.9L351.0,1514.4L351.7,1519.1L353.9,1522.4L356.2,1523.1L358.4,1522.4L358.9,1520.2L357.3,1515.7L361.8,1513.5L363.6,1510.1L359.5,1506.1L361.8,1502.2L360.7,1498.0L366.3,1498.2L371.9,1498.9L374.1,1501.1L378.6,1501.1L379.7,1505.6L383.1,1506.7L387.6,1505.6L390.3,1502.5L393.2,1505.6L396.5,1509.0L398.8,1512.3L402.2,1514.6L406.6,1516.8L410.0,1519.1L410.7,1521.3L407.8,1522.7L403.3,1524.7L398.8,1525.4L392.1,1525.1L386.5,1525.4L382.0,1528.1L378.6,1531.4L376.4,1533.0L378.6,1532.5L380.8,1529.9L387.6,1527.6L390.9,1528.1L390.9,1530.3L388.7,1531.4L390.3,1533.7L394.3,1534.8L397.7,1535.5L401.0,1534.3L400.4,1532.5L398.8,1536.6L393.2,1537.9L388.7,1540.4L387.1,1538.6L389.8,1536.4L385.3,1537.0L382.0,1538.6L378.2,1540.2L377.0,1542.7L378.6,1544.2L375.2,1545.1L370.8,1546.2L369.6,1547.1L369.2,1549.4L367.4,1551.0L366.3,1553.2L365.1,1555.0L366.3,1559.0L362.9,1560.6L359.5,1562.2L357.3,1564.0L353.9,1566.7L353.0,1569.6L355.1,1574.5L356.2,1577.9L355.5,1581.3L353.9,1581.7L352.1,1579.0L350.1,1575.7L349.9,1573.0L347.2,1570.7L344.3,1571.4L341.6,1569.8L338.2,1570.0L334.9,1570.3L335.5,1572.7L332.6,1572.5L329.3,1571.6L325.2,1571.4L322.5,1572.5L319.2,1574.5L317.4,1576.8L317.6,1579.9L316.5,1584.2L316.3,1588.0L317.6,1591.4L319.8,1594.7L322.5,1596.3L324.3,1597.2L328.1,1596.3L330.8,1595.9L332.4,1593.6L332.9,1590.9L337.1,1589.8L340.5,1589.8L340.9,1591.4L339.4,1594.3L338.7,1597.0L337.6,1598.8L336.7,1602.2L338.2,1602.6L342.7,1602.4L347.2,1602.6L349.0,1604.4L348.3,1607.8L348.1,1611.1L347.7,1613.4L349.4,1615.6L351.7,1617.4L353.9,1618.3L356.6,1616.7L358.9,1616.7L361.8,1618.5L360.9,1621.9L360.2,1619.4L357.3,1618.1L355.5,1619.4L355.5,1621.5L352.8,1621.0L349.9,1619.7L348.1,1618.8L345.6,1616.3L343.4,1615.6L343.2,1613.4L340.9,1610.7L339.1,1608.9L336.4,1608.4L333.3,1607.1L330.4,1606.6L328.6,1605.3L325.2,1602.4L323.0,1601.7L319.2,1602.8L314.7,1601.5L311.3,1600.1L307.3,1598.1L303.2,1596.8L300.1,1594.3L298.8,1592.1L299.4,1589.8L297.9,1586.4L294.5,1583.1L291.1,1580.6L290.0,1577.9L287.8,1575.7L284.9,1573.4L282.6,1570.7L281.7,1568.0L278.4,1566.9L278.4,1569.6L281.0,1573.0L283.1,1575.7L285.1,1578.6L286.7,1581.3L288.2,1583.7L290.0,1586.0L288.9,1586.7L287.1,1584.9L284.0,1582.4L284.0,1579.7L281.0,1577.9L278.1,1575.7L279.5,1574.1L276.6,1571.4L274.8,1568.5L273.0,1565.1L270.1,1561.7L265.3,1560.6L262.4,1556.1L260.9,1553.4L257.9,1549.4L256.8,1547.4L257.0,1543.8L256.4,1541.5L257.5,1537.0L257.5,1534.1L255.9,1529.6L259.7,1529.6L260.9,1531.4L260.2,1528.1L258.6,1526.9L255.3,1525.1L250.8,1523.6L249.0,1520.6L246.3,1518.0L243.4,1515.7L240.7,1513.5L237.3,1511.2L235.1,1507.9L231.7,1506.7L229.5,1507.4L226.1,1505.6L221.6,1503.8L217.1,1503.4L212.6,1503.4L208.2,1501.6L203.7,1501.3L200.3,1503.8L195.8,1504.9L195.8,1501.1L192.5,1504.5L190.2,1506.3L185.7,1509.0L181.2,1511.2L175.6,1513.5L171.1,1514.6L166.7,1515.5L171.1,1513.0L175.6,1511.9L180.1,1509.4L182.4,1506.3L179.0,1506.3L173.4,1506.1L172.3,1503.4L166.7,1502.2L164.4,1500.0L163.3,1498.9L166.0,1496.6L171.1,1495.5L174.5,1493.3L170.0,1493.3L164.4,1493.3ZM402.6,1531.2L404.4,1527.6L407.8,1523.6L410.9,1522.4L410.0,1525.8L414.5,1526.9L416.7,1529.2L417.4,1531.4L415.6,1533.4L411.1,1532.5L406.6,1531.2ZM247.9,1524.0L254.1,1525.4L258.6,1529.4L255.3,1528.7L249.6,1525.8ZM397.7,1488.3L392.1,1492.1L388.7,1496.6L383.1,1498.2L376.4,1496.6L369.6,1493.3L361.8,1493.7L360.7,1491.0L369.6,1489.9L371.9,1485.8L362.9,1484.3L359.5,1480.9L351.7,1480.9L342.7,1480.2L334.9,1478.7L334.9,1474.2L345.0,1472.6L353.9,1472.6L360.7,1474.6L368.5,1476.4L376.4,1478.7L383.1,1480.9L385.3,1483.2L392.1,1485.8ZM272.1,1481.1L276.6,1479.6L272.1,1477.8L269.8,1475.3L278.8,1473.3L288.9,1474.4L294.5,1473.5L300.1,1474.2L301.2,1477.5L308.0,1476.0L310.2,1479.3L306.8,1481.6L308.0,1483.6L299.0,1484.1L292.3,1483.8L282.2,1484.3L276.6,1482.7ZM254.1,1476.6L257.9,1472.6L263.1,1470.8L272.1,1471.5L276.6,1473.5L272.1,1475.5L268.7,1477.1L263.1,1478.2L258.6,1478.0ZM340.5,1494.4L347.2,1496.6L353.9,1494.4L348.3,1490.6L342.7,1491.0ZM481.8,1491.0L486.3,1489.0L495.2,1489.4L502.0,1489.4L505.3,1492.1L502.0,1493.7L494.1,1495.7L486.3,1494.8L485.1,1492.6ZM362.0,1618.5L365.1,1617.2L366.3,1614.1L368.5,1613.4L371.9,1612.3L375.2,1610.2L374.8,1613.4L378.6,1612.3L378.6,1610.7L382.0,1612.9L383.1,1614.3L387.6,1614.3L390.9,1615.2L395.4,1614.1L397.0,1615.6L398.8,1617.9L399.9,1619.0L403.3,1620.1L405.5,1622.8L407.8,1624.6L412.2,1624.8L414.5,1625.3L417.9,1626.9L420.1,1628.4L421.7,1632.5L423.5,1634.7L423.5,1638.1L426.8,1639.2L427.9,1640.3L432.4,1640.8L435.8,1643.7L439.2,1643.7L442.5,1644.6L445.9,1644.4L449.3,1646.6L452.6,1648.9L456.4,1650.0L457.3,1653.8L457.1,1658.3L453.7,1661.7L451.5,1665.0L448.8,1667.3L448.1,1671.8L448.1,1677.4L446.6,1681.9L444.1,1686.4L441.6,1689.5L438.0,1689.7L434.7,1691.3L431.3,1692.4L427.9,1695.3L426.6,1698.7L426.2,1702.1L423.5,1705.4L421.2,1708.8L418.5,1711.1L415.6,1714.4L412.2,1716.4L408.9,1716.2L405.5,1714.9L407.3,1718.9L408.4,1720.7L406.2,1723.9L401.0,1725.4L396.5,1725.4L395.9,1729.0L390.9,1730.1L389.8,1733.1L392.7,1733.5L389.4,1735.8L388.7,1739.1L384.7,1740.9L384.2,1742.5L387.8,1744.7L385.3,1748.1L381.5,1751.0L380.8,1753.7L382.2,1755.7L382.0,1757.1L385.3,1760.5L388.7,1761.1L385.3,1762.2L379.7,1762.2L374.1,1760.5L369.6,1757.1L367.4,1753.7L366.3,1749.2L366.3,1743.6L369.6,1740.2L370.8,1735.8L369.6,1732.4L370.3,1727.9L370.8,1723.4L371.9,1720.0L374.1,1715.5L375.2,1711.1L375.2,1705.4L375.7,1700.9L377.0,1696.5L377.5,1692.0L378.2,1687.5L378.2,1683.0L377.7,1679.2L375.2,1676.9L370.8,1674.7L366.7,1672.2L364.5,1669.3L362.5,1665.0L360.2,1660.5L358.4,1656.5L356.2,1652.7L353.5,1651.6L353.3,1648.2L355.5,1645.7L356.2,1643.7L353.9,1643.0L354.4,1640.3L355.7,1638.1L356.2,1636.3L358.4,1634.9L359.3,1632.5L361.8,1630.2L362.0,1628.0L361.8,1625.3L362.0,1622.8L360.9,1621.9ZM939.3,1491.7L935.9,1493.3L933.7,1492.6L932.6,1493.3L937.1,1496.6L938.2,1498.0L932.6,1497.7L925.8,1499.3L921.4,1501.1L917.5,1503.4L910.1,1502.9L904.5,1503.6L901.8,1506.7L900.1,1508.3L901.6,1511.9L898.9,1514.6L894.4,1518.6L891.1,1520.2L887.0,1523.6L885.5,1520.2L884.6,1514.6L886.6,1510.1L891.1,1506.7L896.7,1502.7L902.3,1499.5L898.9,1498.9L894.4,1499.5L887.7,1499.5L883.2,1503.8L878.7,1505.2L872.0,1504.5L863.0,1504.9L856.3,1504.9L850.7,1508.3L845.1,1511.7L840.6,1515.0L844.0,1516.8L848.5,1516.4L852.5,1518.6L850.7,1522.4L850.7,1526.9L848.5,1530.8L845.1,1534.8L840.6,1538.6L836.1,1541.5L832.3,1541.1L829.4,1542.7L827.2,1544.2L826.5,1546.5L822.7,1548.3L821.6,1549.8L823.8,1552.1L825.8,1555.0L825.8,1558.4L823.8,1559.5L820.4,1560.6L818.9,1559.5L819.3,1556.1L820.0,1554.6L817.1,1553.2L815.9,1551.6L816.6,1549.4L814.4,1548.5L810.3,1549.4L808.1,1550.7L809.2,1547.1L807.0,1546.5L803.6,1548.7L800.2,1550.1L799.6,1552.1L802.5,1554.3L806.3,1553.2L810.3,1554.1L809.9,1555.5L805.9,1557.0L803.2,1559.5L805.2,1561.7L807.0,1565.1L809.0,1567.4L808.1,1569.6L809.2,1570.9L808.5,1574.1L806.3,1576.3L804.1,1579.7L801.8,1582.6L798.7,1585.1L795.8,1586.7L791.9,1587.8L789.0,1588.7L785.7,1589.8L783.2,1590.3L783.0,1592.5L781.9,1590.0L778.9,1589.4L776.7,1590.3L774.9,1592.1L772.9,1594.7L774.0,1597.7L776.3,1600.4L778.9,1602.6L780.5,1606.6L780.7,1610.0L780.1,1612.5L776.7,1614.5L774.9,1615.6L773.3,1617.2L771.1,1618.8L770.6,1615.6L768.4,1614.5L766.2,1611.8L764.4,1610.0L762.1,1609.6L761.2,1607.8L759.9,1608.2L759.9,1611.1L758.8,1613.4L758.1,1616.7L759.9,1619.0L761.0,1621.9L763.2,1622.8L765.5,1624.6L767.3,1627.3L767.7,1630.2L768.4,1632.9L769.3,1634.9L767.7,1635.2L765.5,1633.6L762.8,1631.6L761.4,1629.1L760.6,1625.7L760.3,1623.5L758.8,1621.7L756.5,1619.7L756.1,1616.7L757.0,1613.4L756.7,1610.0L755.8,1606.6L754.7,1603.3L754.5,1601.0L752.7,1599.9L749.8,1602.6L747.1,1602.2L747.5,1598.8L746.4,1595.4L744.2,1593.2L742.4,1590.9L741.5,1588.0L738.6,1588.2L735.2,1589.1L733.0,1589.4L730.7,1590.3L730.3,1592.5L727.4,1593.8L724.0,1596.5L720.6,1599.9L718.4,1601.7L715.7,1603.3L715.2,1607.8L714.8,1611.1L714.6,1615.0L712.8,1617.2L711.0,1618.1L709.4,1619.9L707.2,1617.9L706.1,1614.5L703.8,1610.0L702.7,1606.6L700.4,1602.2L699.3,1597.7L698.9,1594.3L698.6,1590.9L698.2,1589.1L694.8,1591.4L690.8,1588.2L693.3,1586.4L689.2,1585.3L686.5,1582.6L684.7,1581.0L680.3,1581.5L674.7,1581.5L669.0,1581.0L664.6,1580.4L663.0,1577.5L659.0,1578.1L655.6,1577.9L652.2,1575.9L649.5,1573.0L647.7,1570.3L645.0,1570.0L643.3,1571.8L644.6,1574.5L646.6,1577.0L648.2,1579.3L649.3,1581.9L651.1,1579.9L651.3,1582.8L653.3,1583.7L656.7,1583.7L659.6,1581.0L661.9,1579.3L662.3,1582.4L664.6,1584.6L667.3,1585.3L669.7,1587.6L667.9,1590.9L665.7,1592.1L665.0,1595.4L662.3,1597.7L659.0,1599.9L654.5,1601.0L650.0,1603.7L645.5,1606.2L641.0,1608.2L636.5,1609.3L633.2,1609.6L632.0,1606.6L631.6,1603.3L630.9,1600.4L628.7,1597.2L626.4,1593.6L623.5,1590.3L622.6,1586.4L619.7,1583.5L618.1,1579.7L615.2,1575.9L613.6,1574.1L614.1,1571.8L612.5,1575.7L610.3,1573.6L608.7,1570.9L608.7,1571.8L610.7,1575.2L611.9,1577.5L614.1,1581.9L615.7,1584.6L618.4,1588.7L619.0,1592.1L619.5,1595.4L621.9,1597.7L623.5,1602.2L625.3,1604.4L628.0,1606.2L630.9,1608.9L632.7,1610.5L632.7,1612.3L635.4,1614.5L638.8,1613.8L643.3,1612.9L647.7,1612.0L650.4,1611.4L650.2,1614.5L648.9,1617.9L646.6,1622.4L644.4,1626.9L641.0,1631.3L637.6,1634.0L634.3,1635.8L630.9,1639.2L628.7,1642.1L626.4,1644.4L624.9,1648.2L623.1,1651.6L624.2,1656.0L624.9,1660.5L626.4,1662.8L626.7,1667.3L626.9,1671.8L624.2,1675.6L619.7,1678.0L617.5,1680.3L614.1,1683.0L615.0,1687.5L615.2,1692.0L610.7,1694.9L609.2,1696.5L609.2,1700.9L606.2,1704.3L603.6,1707.7L599.5,1711.5L595.0,1714.2L590.5,1714.6L584.9,1715.1L580.5,1716.2L577.1,1714.9L576.0,1711.7L576.6,1708.8L574.2,1705.4L572.6,1702.1L569.7,1698.7L569.2,1694.2L568.1,1689.7L567.7,1686.4L564.8,1681.9L562.1,1678.5L562.1,1675.1L563.2,1670.6L565.9,1666.1L566.6,1662.8L564.8,1658.7L564.3,1654.9L563.0,1651.6L562.5,1649.3L560.3,1646.6L556.9,1643.7L555.3,1640.3L556.5,1638.1L556.9,1635.4L557.6,1632.5L557.4,1630.2L555.3,1628.0L551.3,1628.2L549.1,1628.4L547.5,1626.2L545.7,1624.2L542.3,1623.7L539.0,1624.2L535.6,1625.3L531.1,1627.3L527.8,1626.6L523.3,1626.6L518.8,1628.2L515.4,1626.4L512.1,1623.9L509.8,1622.6L507.6,1621.2L506.0,1619.0L505.3,1616.7L502.6,1614.5L501.5,1612.9L498.6,1610.5L497.9,1608.2L497.0,1605.1L498.4,1602.2L499.3,1597.7L499.0,1594.3L497.5,1590.9L498.6,1587.6L499.7,1584.6L502.4,1580.8L505.3,1577.5L506.9,1575.2L510.5,1573.4L513.2,1571.8L513.8,1568.5L514.7,1565.1L517.7,1562.6L520.3,1561.3L522.4,1557.7L523.7,1557.5L528.9,1558.8L531.1,1559.3L535.6,1557.7L539.0,1556.1L542.3,1555.5L546.8,1555.5L551.3,1555.0L555.8,1554.6L558.5,1554.3L560.3,1555.0L559.1,1557.2L560.3,1559.5L558.5,1561.3L560.3,1562.9L563.6,1564.4L569.2,1565.6L571.5,1567.8L576.0,1569.6L580.5,1568.5L580.5,1565.1L584.9,1564.2L588.3,1565.8L591.7,1566.9L596.2,1568.0L600.6,1568.7L605.1,1567.4L608.0,1568.0L612.5,1567.8L613.9,1565.1L614.3,1563.5L615.9,1560.6L616.3,1557.7L616.8,1555.9L614.1,1555.9L611.9,1556.8L608.5,1557.0L604.5,1555.5L601.8,1556.8L598.4,1555.7L596.8,1553.9L595.0,1551.6L595.7,1549.8L594.4,1548.3L597.3,1547.4L600.6,1546.9L601.3,1545.8L606.2,1545.3L610.7,1543.8L614.5,1543.8L617.5,1545.3L621.9,1546.2L626.4,1546.0L628.9,1544.7L628.7,1542.7L625.3,1540.6L621.9,1538.6L619.3,1537.0L618.4,1536.1L620.8,1533.7L623.5,1532.1L619.7,1532.5L614.8,1534.1L614.1,1535.7L617.2,1536.6L614.8,1537.0L612.3,1538.4L610.7,1537.9L608.7,1536.1L611.0,1534.8L607.4,1533.7L604.7,1533.7L602.2,1536.4L600.0,1538.6L599.3,1540.6L597.7,1542.7L598.6,1544.7L600.4,1545.6L598.4,1546.0L596.2,1546.7L594.4,1547.1L593.9,1546.5L590.5,1546.2L589.0,1547.8L586.7,1547.4L586.5,1549.4L587.6,1551.0L589.4,1552.8L587.2,1553.0L587.6,1555.5L585.8,1556.1L584.3,1555.2L583.1,1553.2L582.9,1551.4L581.6,1549.4L579.3,1547.1L579.3,1544.2L577.1,1542.7L573.7,1541.1L570.4,1539.3L568.8,1537.0L566.3,1535.7L563.4,1536.4L563.4,1538.6L566.1,1540.4L568.1,1543.1L571.5,1544.2L573.7,1546.0L576.9,1547.8L576.2,1548.5L573.7,1547.1L572.8,1548.9L574.0,1550.5L572.6,1551.9L570.8,1552.8L571.5,1550.7L570.8,1548.3L568.1,1546.7L564.8,1545.3L563.0,1544.2L560.3,1542.7L558.9,1540.4L557.6,1539.1L555.3,1538.4L552.4,1539.7L549.7,1541.3L546.8,1540.6L544.6,1540.4L542.6,1541.5L542.8,1543.1L542.3,1544.2L540.5,1545.1L537.4,1546.5L535.2,1548.7L535.2,1550.5L536.0,1551.2L534.3,1552.8L533.8,1553.7L531.1,1555.5L525.7,1555.7L523.7,1557.0L523.0,1557.2L521.2,1555.7L519.0,1554.6L515.6,1555.0L515.9,1551.6L514.5,1551.0L515.9,1547.1L515.9,1543.8L515.0,1541.3L517.7,1540.0L523.3,1540.4L527.8,1540.4L531.6,1540.6L532.9,1538.2L532.9,1534.8L530.7,1532.1L526.0,1530.8L525.1,1529.4L528.9,1528.5L532.0,1529.0L531.6,1526.5L533.1,1527.2L536.0,1526.9L539.0,1525.4L539.4,1523.8L541.2,1523.3L543.4,1522.7L545.0,1520.9L546.4,1519.1L549.1,1518.0L551.3,1517.5L554.7,1517.5L555.3,1516.2L554.9,1513.5L553.8,1511.2L554.2,1509.9L556.9,1509.6L559.4,1508.5L558.9,1511.2L560.0,1511.7L558.0,1513.9L557.6,1515.0L559.8,1516.2L560.3,1516.8L563.0,1516.2L565.9,1515.9L567.7,1517.1L571.5,1516.2L576.6,1515.0L579.3,1515.9L580.5,1514.8L582.7,1513.9L582.7,1510.5L584.0,1509.0L586.3,1508.5L587.9,1510.1L590.1,1509.4L590.3,1507.2L588.3,1505.2L591.7,1504.5L598.4,1504.3L603.3,1503.6L599.5,1502.2L593.9,1502.5L590.5,1503.4L587.0,1503.6L583.6,1501.8L583.4,1499.1L583.1,1496.6L586.1,1495.1L590.5,1492.8L592.3,1491.5L589.9,1490.3L585.4,1490.6L583.4,1492.8L582.2,1494.8L577.1,1496.8L574.4,1499.5L574.2,1501.8L577.3,1502.9L578.0,1504.5L575.5,1505.8L573.1,1507.4L572.6,1510.1L571.5,1511.9L568.1,1512.1L567.4,1513.7L564.8,1513.7L563.9,1511.9L562.1,1509.0L560.7,1505.8L559.4,1504.9L559.1,1503.8L556.9,1505.6L554.7,1507.4L551.3,1507.9L548.2,1506.1L546.8,1503.4L546.8,1500.0L547.9,1498.2L551.3,1496.6L554.7,1495.5L558.0,1493.9L561.4,1492.1L563.6,1489.9L565.9,1487.6L568.8,1485.4L572.6,1483.8L576.0,1482.0L581.6,1480.9L587.2,1479.8L592.8,1478.4L598.4,1478.7L604.7,1480.2L605.1,1481.4L609.6,1482.3L616.3,1482.7L623.1,1484.9L627.6,1487.0L627.6,1488.8L623.1,1489.7L616.3,1489.2L610.7,1488.3L609.6,1489.2L613.6,1491.0L613.6,1493.3L618.6,1494.4L620.8,1493.5L618.1,1491.9L624.9,1492.8L626.4,1490.3L629.8,1488.8L634.3,1489.4L635.0,1486.5L633.6,1484.3L638.8,1485.4L639.4,1488.1L643.3,1486.1L647.7,1484.9L654.5,1483.6L657.8,1484.9L663.4,1484.1L669.0,1483.6L672.4,1481.4L679.1,1482.5L683.6,1483.6L688.1,1484.7L690.4,1483.4L685.9,1481.6L685.9,1478.7L689.2,1476.4L690.4,1474.2L696.0,1473.7L698.9,1476.4L698.2,1479.8L698.6,1483.2L700.4,1485.4L700.4,1487.6L703.8,1485.4L701.6,1482.0L701.6,1478.7L703.8,1475.7L709.4,1476.0L712.8,1475.3L716.1,1473.0L721.8,1472.4L729.6,1472.1L730.7,1469.7L737.4,1468.3L746.4,1467.2L755.4,1466.3L762.1,1465.2L769.5,1463.6L773.3,1464.5L777.8,1465.9L786.8,1466.3L790.2,1467.9L782.3,1470.8L787.9,1472.4L791.3,1472.8L800.2,1473.0L811.5,1472.8L820.4,1473.3L824.9,1475.7L826.0,1478.7L831.6,1477.5L838.4,1477.3L845.1,1477.5L849.6,1475.3L854.1,1474.8L863.0,1475.5L872.0,1477.3L877.6,1478.9L887.7,1478.7L894.4,1480.5L894.4,1481.8L903.4,1481.6L911.3,1481.6L918.0,1481.1L916.9,1483.2L925.8,1481.4L934.8,1482.3L939.3,1483.4M131.9,1483.4L138.6,1484.7L147.6,1487.6L154.3,1489.4L153.2,1490.8L148.7,1493.3L143.1,1492.6L140.9,1491.0L135.3,1490.8L131.9,1491.7M646.2,1665.0L648.4,1672.9L646.6,1677.4L644.4,1684.1L642.1,1690.8L641.0,1694.2L637.0,1695.3L633.6,1690.8L633.2,1686.4L635.0,1681.9L634.3,1677.4L636.5,1674.0L641.0,1672.2L643.3,1669.1ZM829.2,1561.7L831.6,1561.1L835.0,1560.8L838.4,1560.4L838.8,1562.2L840.2,1562.9L842.4,1560.8L844.0,1560.4L846.9,1560.2L849.1,1559.5L851.4,1557.9L850.9,1555.5L851.8,1552.8L853.4,1549.4L853.0,1545.3L850.3,1545.6L849.6,1548.3L849.1,1551.0L846.2,1554.3L843.3,1554.3L842.2,1555.7L840.6,1557.9L837.3,1558.1L832.8,1558.6L829.4,1560.8ZM849.6,1544.9L850.3,1541.1L853.4,1536.1L856.3,1538.4L861.5,1539.1L861.9,1540.9L857.4,1543.8L853.0,1542.7L850.7,1543.1ZM827.2,1562.9L830.5,1562.4L831.2,1564.4L829.4,1567.8L827.8,1567.8L827.2,1565.1ZM832.8,1562.0L836.8,1561.1L837.3,1562.4L833.9,1564.4L832.5,1563.3ZM854.1,1516.2L856.3,1519.1L857.0,1523.6L858.6,1527.4L856.3,1530.3L857.0,1533.7L854.1,1534.8L854.1,1530.3L854.1,1525.8L853.6,1521.3ZM808.1,1581.5L809.0,1583.1L807.0,1588.2L805.2,1586.4L806.5,1582.8ZM779.4,1595.0L782.3,1593.2L784.5,1594.1L782.3,1596.8L779.6,1596.5ZM714.6,1616.5L717.7,1619.0L719.1,1622.4L717.3,1624.2L715.5,1624.6L714.6,1621.2ZM805.4,1602.2L806.1,1596.5L809.7,1596.8L809.9,1601.0L808.5,1604.4L810.3,1606.6L813.7,1608.9L812.6,1609.3L809.2,1607.1L806.5,1607.1L805.9,1605.1L804.5,1602.6ZM809.2,1622.4L812.6,1619.0L817.1,1616.3L819.3,1620.1L818.6,1623.9L816.8,1625.1L813.7,1622.8ZM809.2,1611.6L811.5,1612.3L811.9,1615.6L810.3,1616.7L809.2,1614.5ZM814.4,1610.0L817.1,1610.5L817.1,1613.4L815.9,1615.2L814.8,1613.4ZM798.7,1619.0L801.4,1617.2L803.6,1612.7L802.5,1615.0L800.2,1617.9ZM780.1,1634.7L782.3,1634.0L785.0,1634.7L785.7,1632.0L789.0,1630.9L791.3,1627.8L794.6,1625.7L797.6,1622.6L799.6,1623.9L802.5,1626.4L800.7,1628.4L799.6,1630.7L800.2,1633.6L802.5,1635.8L799.8,1636.5L799.1,1639.2L796.9,1641.4L796.4,1644.8L795.8,1646.6L792.8,1647.3L789.0,1645.5L786.3,1645.7L783.0,1644.4L782.3,1641.4L780.5,1639.2L780.1,1637.0ZM749.3,1625.5L754.3,1626.4L757.2,1629.5L760.6,1632.5L763.2,1634.0L766.6,1636.3L768.2,1639.2L770.0,1641.4L773.3,1644.4L773.3,1648.2L772.9,1651.1L770.0,1651.1L766.6,1648.6L763.2,1644.8L761.0,1641.4L758.8,1638.1L757.2,1634.7L754.3,1631.8L751.4,1629.1ZM771.8,1653.1L774.5,1651.6L778.9,1652.9L784.1,1652.7L788.4,1653.6L792.2,1655.6L792.2,1657.4L786.8,1656.7L781.2,1655.6L776.7,1655.4L773.3,1654.2ZM803.6,1650.4L803.6,1645.9L802.3,1644.1L804.1,1639.2L804.7,1636.5L807.0,1635.4L811.5,1636.1L815.9,1634.5L814.8,1637.0L811.5,1637.2L807.0,1637.2L805.2,1639.9L807.6,1640.3L812.1,1640.1L810.3,1641.9L808.1,1642.6L809.9,1645.5L811.5,1647.5L810.3,1650.0L808.8,1648.6L807.0,1645.3L805.6,1644.8L805.6,1650.4ZM829.4,1639.9L832.8,1639.0L836.1,1639.9L836.8,1643.7L839.5,1645.5L842.9,1642.1L847.3,1642.6L851.8,1643.9L857.4,1645.9L860.8,1648.2L863.0,1650.4L866.4,1652.2L865.7,1653.8L868.7,1657.6L872.0,1661.7L867.5,1661.0L864.2,1658.3L860.8,1656.0L857.4,1657.2L855.2,1658.7L851.8,1658.7L848.5,1656.5L845.1,1656.7L846.2,1653.8L845.1,1650.4L840.6,1648.4L836.1,1647.1L833.9,1647.1L833.4,1644.8L835.7,1643.2L831.6,1643.0L829.4,1641.0ZM795.8,1656.9L802.5,1656.7L807.0,1656.9L811.5,1656.7L811.5,1657.8L804.7,1658.1L798.0,1658.3L795.8,1658.1ZM812.6,1661.2L815.9,1659.0L820.4,1656.9L819.3,1658.3L814.8,1661.0ZM821.6,1634.0L823.8,1634.7L823.1,1638.1L822.2,1639.9L821.6,1637.0ZM822.7,1644.8L829.0,1645.3L828.3,1646.4L823.1,1645.9ZM868.7,1650.4L874.3,1649.3L877.0,1647.5L876.5,1650.4L872.0,1652.0L868.7,1651.6ZM790.2,1687.5L791.7,1687.0L794.6,1684.8L798.0,1684.3L802.5,1683.0L807.0,1681.9L809.9,1678.5L809.7,1676.3L812.6,1676.9L813.0,1674.5L815.9,1672.4L819.3,1669.5L822.7,1671.3L826.0,1671.5L826.7,1668.4L829.0,1665.9L832.8,1665.0L833.2,1663.5L838.4,1665.0L842.4,1665.5L841.7,1668.4L840.2,1671.8L844.0,1674.0L847.8,1676.9L851.4,1677.4L853.0,1672.9L853.2,1668.4L854.1,1663.9L855.4,1662.1L857.4,1666.1L858.1,1670.2L861.5,1671.8L862.6,1676.3L863.7,1680.5L867.5,1683.0L870.4,1686.4L873.8,1689.7L877.0,1693.1L879.2,1696.5L879.9,1701.4L878.7,1706.6L877.6,1711.1L874.9,1714.0L873.1,1717.8L872.0,1721.8L867.5,1723.2L863.7,1725.6L860.4,1723.9L857.4,1725.2L853.0,1724.1L849.6,1722.3L848.5,1718.9L845.8,1718.0L845.6,1715.5L844.7,1712.2L842.9,1714.4L840.6,1716.7L839.0,1715.5L836.6,1712.2L832.8,1709.9L829.4,1708.8L824.9,1709.3L820.4,1710.4L817.1,1711.5L813.7,1713.3L809.2,1714.4L804.7,1714.4L800.2,1716.7L795.8,1716.4L793.5,1715.1L794.0,1712.2L795.1,1709.5L793.5,1705.4L792.4,1702.1L790.8,1697.6L789.7,1694.2L790.8,1690.8ZM860.1,1729.5L864.2,1730.4L868.0,1729.7L868.2,1732.8L866.4,1735.3L863.0,1735.8L861.3,1732.8ZM922.9,1715.3L926.5,1717.3L929.2,1720.0L930.3,1722.5L934.8,1722.5L935.9,1723.4L933.2,1726.3L932.1,1729.0L928.8,1731.5L927.4,1730.8L928.1,1727.9L925.4,1726.3L927.4,1723.4L927.0,1720.0L923.6,1717.1ZM922.9,1729.0L926.3,1730.6L925.8,1732.4L923.2,1735.8L919.8,1737.5L918.7,1740.9L915.8,1742.7L911.3,1741.8L909.0,1740.9L912.4,1737.5L916.9,1734.6L920.2,1731.9L921.8,1729.7ZM523.3,1525.6L527.8,1524.9L531.1,1524.2L535.6,1524.0L538.7,1523.1L537.4,1522.2L539.4,1520.0L536.3,1519.1L535.6,1517.5L532.9,1515.5L532.0,1513.5L530.0,1512.3L531.1,1509.0L527.8,1508.5L528.9,1506.5L524.4,1506.5L522.6,1509.0L523.3,1511.7L524.4,1513.9L527.8,1514.8L528.9,1516.8L528.9,1518.2L525.5,1518.4L526.2,1520.2L523.9,1521.5L527.8,1522.4L528.9,1522.9L525.5,1523.6ZM513.2,1522.2L517.7,1522.0L521.5,1520.9L522.1,1518.0L522.8,1515.3L519.9,1513.9L516.5,1515.0L513.2,1516.4L514.3,1518.6L513.2,1520.9ZM345.2,1588.9L349.4,1586.4L355.1,1586.2L360.7,1588.0L366.3,1591.6L369.2,1592.7L366.3,1593.4L361.3,1593.4L362.9,1591.6L359.5,1589.8L355.1,1588.7L351.7,1587.8L348.3,1588.2ZM368.7,1596.8L371.9,1593.4L375.2,1593.4L378.8,1593.8L382.2,1596.1L379.7,1597.0L376.4,1597.2L374.8,1598.3L371.9,1597.2ZM360.0,1596.8L364.5,1597.2L364.0,1597.9L360.7,1598.1ZM384.9,1596.8L388.2,1597.0L388.0,1597.7L384.9,1597.7ZM563.6,1552.8L570.6,1552.3L569.5,1555.7L563.6,1553.7ZM554.0,1546.0L557.1,1545.8L557.1,1550.1L554.4,1550.5ZM554.9,1541.8L556.9,1541.8L556.7,1544.9L555.1,1544.4ZM588.5,1558.4L594.4,1558.8L593.9,1559.5L588.5,1559.0ZM608.0,1559.5L613.0,1558.1L611.9,1559.7L608.7,1560.4ZM398.8,1753.7L405.5,1753.3L405.5,1755.5L398.8,1755.5ZM651.1,1477.5L654.5,1475.3L659.0,1470.8L667.9,1467.4L681.4,1465.2L689.2,1465.6L674.7,1469.2L665.7,1471.9L663.4,1475.3L664.6,1479.1L656.7,1479.1ZM305.7,1475.7L313.6,1477.8L319.2,1475.3L318.1,1472.4L310.2,1472.1ZM321.4,1476.0L327.0,1476.4L332.6,1474.2L331.5,1471.9L322.5,1471.9ZM371.9,1462.5L380.8,1464.1L376.4,1466.8L383.1,1467.4L394.3,1467.0L404.4,1468.6L410.0,1474.2L413.4,1478.7L415.6,1482.5L416.7,1487.6L419.0,1492.1L423.5,1497.7L427.9,1501.1L434.7,1503.4L439.2,1503.4L441.4,1498.9L444.8,1493.3L452.6,1490.3L461.6,1486.5L472.8,1484.9L479.5,1482.0L486.3,1479.8L485.1,1476.4L488.5,1471.9L493.0,1467.4L495.2,1462.9L496.4,1458.5L508.7,1455.1L490.7,1454.0L468.3,1450.6L445.9,1450.8L423.5,1452.8L401.0,1454.0L389.8,1456.2L383.1,1458.5L387.6,1460.7ZM333.8,1466.5L342.7,1466.3L353.9,1466.8L360.7,1465.6L365.1,1462.5L369.6,1460.0L378.6,1458.5L387.6,1456.2L396.5,1454.0L392.1,1452.2L374.1,1451.5L356.2,1451.7L338.2,1453.3L331.5,1455.1L342.7,1456.9L346.1,1459.6L338.2,1462.3L334.9,1464.5ZM329.3,1469.7L338.2,1470.8L347.2,1470.6L356.2,1470.1L355.1,1468.1L345.0,1467.4L336.0,1466.3L329.3,1465.9L320.3,1465.6L324.8,1468.3ZM274.3,1469.2L281.0,1470.8L288.9,1469.9L297.9,1469.7L299.0,1467.7L291.1,1465.9L284.4,1468.1L277.7,1466.5L272.1,1467.4ZM302.4,1469.0L311.3,1469.7L316.9,1468.3L314.7,1466.1L304.6,1466.3ZM320.3,1458.9L329.3,1462.3L339.4,1462.3L340.5,1458.9L332.6,1456.7L324.8,1456.9ZM560.3,1459.6L571.5,1458.5L584.9,1457.8L596.2,1458.5L589.4,1460.7L582.7,1462.3L576.0,1465.2L569.2,1465.9L564.8,1462.9ZM750.9,1460.7L759.9,1458.9L768.8,1457.3L771.1,1460.7L759.9,1462.5ZM842.9,1469.7L854.1,1467.4L865.3,1468.6L872.0,1469.2L863.0,1470.1L849.6,1470.6ZM935.9,1478.7L939.3,1477.5L939.3,1478.9ZM638.8,1457.8L659.0,1458.5L674.7,1457.3L670.2,1455.1L647.7,1456.2ZM655.1,1609.8L657.8,1609.8L657.6,1610.5L655.4,1610.5ZM260.9,1467.0L268.7,1467.9L275.4,1465.6L268.7,1464.1L262.0,1465.2ZM312.4,1482.7L318.1,1481.4L321.4,1483.2L316.9,1484.1ZM301.2,1461.8L311.3,1462.9L313.6,1460.7L304.6,1460.0ZM316.9,1462.9L321.4,1462.5L319.2,1460.9ZM353.9,1474.2L360.7,1474.6L364.0,1473.5L357.3,1472.4ZM349.4,1497.1L352.8,1497.7L356.2,1497.3L351.7,1496.6ZM355.1,1498.4L357.3,1499.5L357.7,1498.2ZM351.7,1518.9L355.1,1519.5L354.4,1518.6ZM390.9,1526.0L396.5,1527.6L397.0,1527.2L392.1,1525.8ZM391.4,1533.0L396.1,1533.7L395.4,1534.6L392.1,1533.9ZM237.3,1516.6L240.2,1517.1L241.3,1520.6L238.4,1519.1ZM189.1,1508.3L193.6,1507.9L194.0,1509.6L189.5,1510.3ZM185.3,1594.1L186.8,1592.8L188.4,1594.1L186.8,1595.3ZM183.7,1591.4L184.6,1590.7L185.5,1591.4L184.6,1592.1ZM180.3,1589.8L181.2,1589.1L182.1,1589.8L181.2,1590.5ZM177.1,1588.7L177.9,1588.1L178.7,1588.7L177.9,1589.3ZM330.4,1639.4L331.5,1638.5L332.6,1639.4L331.5,1640.3ZM332.4,1638.8L333.1,1638.2L333.8,1638.8L333.1,1639.3ZM497.5,1574.5L498.6,1573.6L499.7,1574.5L498.6,1575.4ZM499.9,1575.2L500.8,1574.5L501.7,1575.2L500.8,1575.9ZM503.1,1574.1L504.2,1573.2L505.3,1574.1L504.2,1575.0ZM495.0,1573.9L495.7,1573.3L496.4,1573.9L495.7,1574.4ZM472.1,1551.6L472.8,1551.1L473.5,1551.6L472.8,1552.2ZM477.7,1553.2L478.4,1552.7L479.1,1553.2L478.4,1553.7ZM480.9,1602.2L481.8,1601.4L482.7,1602.2L481.8,1602.9ZM482.2,1604.4L482.9,1603.9L483.6,1604.4L482.9,1604.9ZM663.9,1683.7L664.8,1682.9L665.7,1683.7L664.8,1684.4ZM659.2,1685.5L660.1,1684.7L661.0,1685.5L660.1,1686.2ZM689.7,1748.8L691.5,1747.3L693.3,1748.8L691.5,1750.2ZM451.3,1760.0L453.1,1758.6L454.9,1760.0L453.1,1761.4ZM933.2,1678.0L934.8,1676.8L936.4,1678.0L934.8,1679.3ZM936.6,1675.4L937.7,1674.5L938.9,1675.4L937.7,1676.3ZM904.5,1685.9L906.8,1684.1L909.0,1685.9L906.8,1687.7ZM903.0,1684.1L904.1,1683.2L905.2,1684.1L904.1,1685.0ZM908.1,1687.5L909.2,1686.6L910.4,1687.5L909.2,1688.4ZM892.9,1659.4L894.4,1658.2L896.0,1659.4L894.4,1660.7ZM888.6,1656.0L890.0,1655.0L891.3,1656.0L890.0,1657.1ZM885.5,1653.8L886.6,1652.9L887.7,1653.8L886.6,1654.7ZM896.7,1661.4L897.8,1660.5L898.9,1661.4L897.8,1662.3ZM881.4,1651.6L883.2,1650.1L885.0,1651.6L883.2,1653.0ZM909.0,1672.9L910.1,1672.0L911.3,1672.9L910.1,1673.8ZM912.2,1677.4L913.1,1676.7L914.0,1677.4L913.1,1678.1ZM148.3,1668.8L149.2,1668.1L150.1,1668.8L149.2,1669.6ZM137.5,1521.8L138.6,1520.9L139.7,1521.8L138.6,1522.7ZM144.2,1520.9L145.4,1520.0L146.5,1520.9L145.4,1521.8ZM153.2,1519.5L154.3,1518.6L155.4,1519.5L154.3,1520.4ZM157.5,1518.4L158.8,1517.3L160.2,1518.4L158.8,1519.5ZM160.6,1517.3L162.2,1516.0L163.7,1517.3L162.2,1518.5ZM922.5,1519.3L923.6,1518.4L924.7,1519.3L923.6,1520.2ZM932.8,1521.3L933.7,1520.6L934.6,1521.3L933.7,1522.0ZM862.4,1538.2L863.5,1537.3L864.6,1538.2L863.5,1539.1ZM866.2,1535.9L867.5,1534.8L868.9,1535.9L867.5,1537.0ZM871.1,1534.1L872.0,1533.4L872.9,1534.1L872.0,1534.8ZM876.7,1531.9L877.6,1531.2L878.5,1531.9L877.6,1532.6ZM880.1,1528.5L881.0,1527.8L881.9,1528.5L881.0,1529.2ZM883.9,1525.1L885.0,1524.2L886.1,1525.1L885.0,1526.0ZM813.0,1583.3L813.7,1582.8L814.4,1583.3L813.7,1583.8ZM821.3,1578.6L822.5,1577.7L823.6,1578.6L822.5,1579.5ZM825.1,1574.5L826.0,1573.8L826.9,1574.5L826.0,1575.3ZM827.4,1569.8L828.3,1569.1L829.2,1569.8L828.3,1570.5ZM398.1,1605.5L398.8,1605.0L399.5,1605.5L398.8,1606.1ZM396.8,1601.7L397.7,1601.0L398.6,1601.7L397.7,1602.4ZM397.4,1603.5L398.1,1603.0L398.8,1603.5L398.1,1604.0ZM398.1,1606.9L398.8,1606.3L399.5,1606.9L398.8,1607.4ZM397.0,1614.5L398.1,1613.6L399.2,1614.5L398.1,1615.4ZM401.5,1608.4L402.2,1607.9L402.8,1608.4L402.2,1609.0ZM360.7,1581.9L361.8,1581.0L362.9,1581.9L361.8,1582.8ZM364.3,1584.2L365.1,1583.5L366.0,1584.2L365.1,1584.9ZM359.5,1578.4L360.7,1577.5L361.8,1578.4L360.7,1579.3ZM369.9,1590.9L370.8,1590.2L371.7,1590.9L370.8,1591.6ZM389.7,1565.6L390.3,1565.1L390.8,1565.6L390.3,1566.0ZM541.2,1549.2L542.3,1548.3L543.4,1549.2L542.3,1550.1ZM543.9,1548.3L544.6,1547.7L545.2,1548.3L544.6,1548.8ZM538.1,1550.5L538.7,1550.0L539.4,1550.5L538.7,1551.1ZM567.3,1557.5L567.9,1557.0L568.5,1557.5L567.9,1557.9ZM519.0,1498.9L519.9,1498.2L520.8,1498.9L519.9,1499.6ZM531.8,1502.7L532.7,1502.0L533.6,1502.7L532.7,1503.4ZM528.2,1505.6L528.9,1505.1L529.5,1505.6L528.9,1506.1ZM520.1,1509.0L521.0,1508.3L521.9,1509.0L521.0,1509.7ZM518.8,1508.3L519.5,1507.8L520.1,1508.3L519.5,1508.8ZM698.9,1630.2L699.3,1629.9L699.8,1630.2L699.3,1630.6ZM742.6,1610.0L743.7,1609.1L744.9,1610.0L743.7,1610.9ZM745.3,1622.4L746.0,1621.8L746.6,1622.4L746.0,1622.9ZM659.5,1648.4L660.1,1648.0L660.6,1648.4L660.1,1648.9ZM632.0,1664.4L632.7,1663.8L633.4,1664.4L632.7,1664.9ZM636.4,1666.8L637.0,1666.4L637.5,1666.8L637.0,1667.3ZM522.3,1673.8L522.8,1673.3L523.4,1673.8L522.8,1674.2ZM502.7,1655.8L503.3,1655.4L503.9,1655.8L503.3,1656.3ZM549.7,1637.4L550.4,1636.9L551.1,1637.4L550.4,1637.9ZM554.3,1630.2L555.1,1629.6L555.9,1630.2L555.1,1630.9ZM836.6,1621.5L837.3,1620.9L837.9,1621.5L837.3,1622.0ZM859.7,1607.8L860.4,1607.2L861.0,1607.8L860.4,1608.3ZM861.8,1604.0L862.4,1603.5L862.9,1604.0L862.4,1604.4ZM199.5,1677.6L200.3,1677.0L201.1,1677.6L200.3,1678.2ZM142.0,1685.7L142.7,1685.1L143.3,1685.7L142.7,1686.2ZM289.7,1698.9L290.2,1698.5L290.8,1698.9L290.2,1699.4ZM378.6,1758.2L378.6,1758.2L378.6,1758.2L378.6,1758.2ZM577.3,1471.0L578.2,1470.3L579.1,1471.0L578.2,1471.7ZM515.4,1478.7L516.5,1477.8L517.7,1478.7L516.5,1479.6ZM149.2,1495.5L151.0,1494.1L152.8,1495.5L151.0,1496.9ZM161.3,1502.9L162.9,1501.7L164.4,1502.9L162.9,1504.2ZM153.0,1509.6L153.7,1509.1L154.3,1509.6L153.7,1510.2ZM906.6,1514.6L907.9,1513.5L909.2,1514.6L907.9,1515.7ZM823.8,1645.5L823.8,1645.5L823.8,1645.5L823.8,1645.5ZM818.0,1645.7L819.3,1644.6L820.7,1645.7L819.3,1646.8ZM827.2,1638.8L827.2,1638.8L827.2,1638.8L827.2,1638.8ZM820.7,1641.7L821.6,1641.0L822.5,1641.7L821.6,1642.4ZM835.9,1652.0L837.3,1650.9L838.6,1652.0L837.3,1653.1ZM829.4,1655.1L830.5,1654.2L831.6,1655.1L830.5,1656.0ZM817.1,1656.5L817.1,1656.5L817.1,1656.5L817.1,1656.5ZM803.2,1659.9L804.7,1658.6L806.3,1659.9L804.7,1661.1ZM799.1,1657.4L799.1,1657.4L799.1,1657.4L799.1,1657.4ZM792.8,1656.9L794.0,1656.0L795.1,1656.9L794.0,1657.8ZM795.5,1657.4L796.4,1656.7L797.3,1657.4L796.4,1658.1ZM753.4,1635.6L754.3,1634.9L755.2,1635.6L754.3,1636.3ZM756.5,1641.4L757.6,1640.5L758.8,1641.4L757.6,1642.3ZM759.4,1644.4L760.3,1643.6L761.2,1644.4L760.3,1645.1ZM772.2,1643.0L773.6,1641.9L774.9,1643.0L773.6,1644.1ZM776.7,1644.6L777.6,1643.9L778.5,1644.6L777.6,1645.3ZM777.6,1629.3L778.3,1628.8L778.9,1629.3L778.3,1629.9ZM787.9,1653.8L789.0,1652.9L790.2,1653.8L789.0,1654.7ZM874.9,1645.3L876.5,1644.0L878.1,1645.3L876.5,1646.5ZM864.4,1642.6L865.3,1641.9L866.2,1642.6L865.3,1643.3ZM873.1,1643.9L873.8,1643.4L874.5,1643.9L873.8,1644.5ZM882.6,1650.4L882.6,1650.4L882.6,1650.4L882.6,1650.4ZM812.4,1615.0L813.5,1614.1L814.6,1615.0L813.5,1615.9ZM814.4,1613.4L815.5,1612.5L816.6,1613.4L815.5,1614.3ZM805.6,1610.5L807.0,1609.4L808.3,1610.5L807.0,1611.5ZM800.7,1616.1L800.7,1616.1L800.7,1616.1L800.7,1616.1ZM645.5,1533.7L650.0,1532.8L654.5,1533.7L654.5,1536.4L650.7,1537.0L650.0,1538.4L648.4,1538.2L651.1,1541.1L653.6,1542.2L653.8,1544.9L656.7,1546.0L654.5,1548.3L655.6,1550.1L656.3,1553.9L652.2,1555.5L648.9,1555.0L645.5,1553.7L645.3,1551.6L646.2,1549.4L646.6,1547.1L644.4,1544.2L642.1,1541.5L641.0,1538.2L642.1,1535.7ZM329.3,1533.2L334.9,1530.3L340.5,1528.7L345.0,1530.5L345.9,1533.4L341.6,1533.7L338.2,1532.5L333.8,1533.2ZM338.7,1543.8L342.0,1543.8L342.7,1539.3L345.0,1535.2L341.6,1535.2L338.7,1538.2ZM346.1,1534.8L351.7,1534.3L356.2,1536.4L356.2,1538.2L352.4,1541.1L348.3,1539.7L348.8,1536.6ZM348.6,1544.4L353.9,1544.7L358.4,1542.2L355.1,1542.0L350.6,1543.3ZM356.6,1540.9L362.9,1540.9L364.7,1539.3L360.7,1539.3L357.3,1539.7ZM313.6,1524.9L319.2,1524.7L318.1,1520.2L315.8,1517.3L313.1,1518.0L314.7,1521.3ZM273.2,1501.1L279.9,1501.1L286.7,1497.7L290.0,1497.1L284.4,1498.4L278.8,1498.4L274.3,1500.0ZM256.4,1489.9L266.5,1492.1L271.0,1489.2L266.5,1487.6L259.7,1488.3ZM285.5,1506.3L291.1,1505.2L297.9,1504.9L291.1,1504.5ZM606.9,1637.4L611.9,1637.4L613.6,1641.4L610.7,1644.4L606.9,1643.7ZM601.1,1645.7L602.4,1648.2L604.0,1652.7L605.1,1657.6L603.6,1656.7L601.8,1651.6L600.9,1648.2ZM611.9,1659.4L613.2,1662.8L614.1,1667.3L614.5,1670.2L613.2,1669.5L612.5,1665.0L611.6,1661.7ZM768.4,1522.2L772.2,1522.0L777.8,1519.1L781.9,1514.1L781.2,1513.0L776.7,1516.8L772.2,1519.5ZM700.4,1535.9L703.8,1533.0L710.5,1533.7L713.2,1533.0L710.5,1534.6L703.8,1534.3L702.0,1537.0ZM666.4,1537.0L669.7,1533.4L673.5,1533.7L672.4,1537.5L668.4,1540.0L666.4,1538.8ZM603.3,1503.4L608.5,1502.7L609.2,1500.7L605.1,1499.8L602.9,1501.1ZM613.0,1501.1L616.3,1500.4L615.2,1497.7L613.0,1498.2ZM565.9,1609.3L568.8,1609.3L568.8,1607.1L565.9,1607.1ZM378.6,1672.7L380.8,1673.3L380.8,1674.9L378.6,1674.0Z" fill="none" stroke="#808080" stroke-width="2.3" stroke-linejoin="round"/>
<rect x="131.9" y="1436.0" width="807.4" height="336.79999999999995" fill="none" stroke="#1a1a1a" stroke-width="2.0"/>
<path d="M131.9,1436.0v-9.3M131.9,1772.8v9.3M266.5,1436.0v-9.3M266.5,1772.8v9.3M401.0,1436.0v-9.3M401.0,1772.8v9.3M535.6,1436.0v-9.3M535.6,1772.8v9.3M670.2,1436.0v-9.3M670.2,1772.8v9.3M804.7,1436.0v-9.3M804.7,1772.8v9.3M939.3,1436.0v-9.3M939.3,1772.8v9.3M131.9,1436.0h-9.3M939.3,1436.0h9.3M131.9,1503.4h-9.3M939.3,1503.4h9.3M131.9,1570.7h-9.3M939.3,1570.7h9.3M131.9,1638.1h-9.3M939.3,1638.1h9.3M131.9,1705.4h-9.3M939.3,1705.4h9.3M131.9,1772.8h-9.3M939.3,1772.8h9.3" stroke="#1a1a1a" stroke-width="2.0" fill="none"/>
<text x="131.9" y="1810.0" font-size="25.4" text-anchor="middle" fill="#1a1a1a" >180°</text>
<text x="266.5" y="1810.0" font-size="25.4" text-anchor="middle" fill="#1a1a1a" >120°W</text>
<text x="401.0" y="1810.0" font-size="25.4" text-anchor="middle" fill="#1a1a1a" >60°W</text>
<text x="535.6" y="1810.0" font-size="25.4" text-anchor="middle" fill="#1a1a1a" >0°</text>
<text x="670.2" y="1810.0" font-size="25.4" text-anchor="middle" fill="#1a1a1a" >60°E</text>
<text x="804.7" y="1810.0" font-size="25.4" text-anchor="middle" fill="#1a1a1a" >120°E</text>
<text x="939.3" y="1810.0" font-size="25.4" text-anchor="middle" fill="#1a1a1a" >180°</text>
<text x="118.3" y="1445.2" font-size="25.4" text-anchor="end" fill="#1a1a1a" >90°N</text>
<text x="118.3" y="1512.6" font-size="25.4" text-anchor="end" fill="#1a1a1a" >60°N</text>
<text x="118.3" y="1579.9" font-size="25.4" text-anchor="end" fill="#1a1a1a" >30°N</text>
<text x="118.3" y="1647.3" font-size="25.4" text-anchor="end" fill="#1a1a1a" >0°</text>
<text x="118.3" y="1714.6" font-size="25.4" text-anchor="end" fill="#1a1a1a" >30°S</text>
<text x="118.3" y="1782.0" font-size="25.4" text-anchor="end" fill="#1a1a1a" >60°S</text>
<text x="535.6" y="1847.3" font-size="33.0" text-anchor="middle" fill="#1a1a1a" >Longitude</text>
<text transform="translate(43.9,1604.4) rotate(-90)" font-size="33.0" text-anchor="middle" fill="#1a1a1a">Latitude</text>
<rect x="1237.10" y="522" width="73.95" height="29.600000000000023" fill="#5a3714"/>
<rect x="1310.55" y="522" width="73.95" height="29.600000000000023" fill="#8f571c"/>
<rect x="1384.01" y="522" width="73.95" height="29.600000000000023" fill="#be8639"/>
<rect x="1457.46" y="522" width="73.95" height="29.600000000000023" fill="#d8c37f"/>
<rect x="1530.92" y="522" width="73.95" height="29.600000000000023" fill="#efe8c0"/>
<rect x="1604.37" y="522" width="73.95" height="29.600000000000023" fill="#f5f5f5"/>
<rect x="1677.83" y="522" width="73.95" height="29.600000000000023" fill="#c9efe4"/>
<rect x="1751.28" y="522" width="73.95" height="29.600000000000023" fill="#8fdac6"/>
<rect x="1824.74" y="522" width="73.95" height="29.600000000000023" fill="#54a594"/>
<rect x="1898.19" y="522" width="73.95" height="29.600000000000023" fill="#32796a"/>
<rect x="1971.65" y="522" width="73.95" height="29.600000000000023" fill="#1d4a38"/>
<rect x="1237.1" y="522" width="808.0" height="29.600000000000023" fill="none" stroke="#1a1a1a" stroke-width="2.0"/>
<path d="M1310.6,551.6v9.3M1384.0,551.6v9.3M1457.5,551.6v9.3M1530.9,551.6v9.3M1604.4,551.6v9.3M1677.8,551.6v9.3M1751.3,551.6v9.3M1824.7,551.6v9.3M1898.2,551.6v9.3M1971.6,551.6v9.3" stroke="#1a1a1a" stroke-width="2.0" fill="none"/>
<text x="1299.6" y="605.6" font-size="33.0" text-anchor="middle" fill="#1a1a1a" >-7</text>
<text x="1373.0" y="605.6" font-size="33.0" text-anchor="middle" fill="#1a1a1a" >-5</text>
<text x="1446.5" y="605.6" font-size="33.0" text-anchor="middle" fill="#1a1a1a" >-3</text>
<text x="1519.9" y="605.6" font-size="33.0" text-anchor="middle" fill="#1a1a1a" >-1</text>
<text x="1604.4" y="605.6" font-size="33.0" text-anchor="middle" fill="#1a1a1a" >-0.1</text>
<text x="1672.8" y="605.6" font-size="33.0" text-anchor="middle" fill="#1a1a1a" >0.1</text>
<text x="1735.8" y="605.6" font-size="33.0" text-anchor="middle" fill="#1a1a1a" >1</text>
<text x="1808.7" y="605.6" font-size="33.0" text-anchor="middle" fill="#1a1a1a" >3</text>
<text x="1882.2" y="605.6" font-size="33.0" text-anchor="middle" fill="#1a1a1a" >5</text>
<text x="1955.6" y="605.6" font-size="33.0" text-anchor="middle" fill="#1a1a1a" >7</text>
<text transform="translate(1410.16,659.90) scale(1.095,1)" font-size="33.0" fill="#1a1a1a">Δ</text><text x="1436.60" y="659.90" font-size="33.0" fill="#1a1a1a" letter-spacing="0.7">(P-E)</text><text x="1515.09" y="674.90" font-size="27.0" fill="#1a1a1a">range</text><text x="1604.82" y="659.90" font-size="33.0" fill="#1a1a1a">(10</text><text x="1660.44" y="643.40" font-size="27.0" fill="#1a1a1a">-2</text><text x="1697.26" y="659.90" font-size="33.0" fill="#1a1a1a">mm·day</text><text x="1833.64" y="643.40" font-size="27.0" fill="#1a1a1a">-1</text><text x="1860.52" y="659.90" font-size="33.0" fill="#1a1a1a">)</text>
<rect x="131.90" y="1199.2" width="73.93" height="28.399999999999864" fill="#5a3714"/>
<rect x="205.33" y="1199.2" width="73.93" height="28.399999999999864" fill="#8f571c"/>
<rect x="278.75" y="1199.2" width="73.93" height="28.399999999999864" fill="#be8639"/>
<rect x="352.18" y="1199.2" width="73.93" height="28.399999999999864" fill="#d8c37f"/>
<rect x="425.61" y="1199.2" width="73.93" height="28.399999999999864" fill="#efe8c0"/>
<rect x="499.04" y="1199.2" width="73.93" height="28.399999999999864" fill="#f5f5f5"/>
<rect x="572.46" y="1199.2" width="73.93" height="28.399999999999864" fill="#c9efe4"/>
<rect x="645.89" y="1199.2" width="73.93" height="28.399999999999864" fill="#8fdac6"/>
<rect x="719.32" y="1199.2" width="73.93" height="28.399999999999864" fill="#54a594"/>
<rect x="792.75" y="1199.2" width="73.93" height="28.399999999999864" fill="#32796a"/>
<rect x="866.17" y="1199.2" width="73.93" height="28.399999999999864" fill="#1d4a38"/>
<rect x="131.9" y="1199.2" width="807.7" height="28.399999999999864" fill="none" stroke="#1a1a1a" stroke-width="2.0"/>
<path d="M205.3,1227.6v9.3M278.8,1227.6v9.3M352.2,1227.6v9.3M425.6,1227.6v9.3M499.0,1227.6v9.3M572.5,1227.6v9.3M645.9,1227.6v9.3M719.3,1227.6v9.3M792.7,1227.6v9.3M866.2,1227.6v9.3" stroke="#1a1a1a" stroke-width="2.0" fill="none"/>
<text x="194.3" y="1281.6" font-size="33.0" text-anchor="middle" fill="#1a1a1a" >-7</text>
<text x="267.8" y="1281.6" font-size="33.0" text-anchor="middle" fill="#1a1a1a" >-5</text>
<text x="341.2" y="1281.6" font-size="33.0" text-anchor="middle" fill="#1a1a1a" >-3</text>
<text x="414.6" y="1281.6" font-size="33.0" text-anchor="middle" fill="#1a1a1a" >-1</text>
<text x="499.0" y="1281.6" font-size="33.0" text-anchor="middle" fill="#1a1a1a" >-0.1</text>
<text x="567.5" y="1281.6" font-size="33.0" text-anchor="middle" fill="#1a1a1a" >0.1</text>
<text x="630.4" y="1281.6" font-size="33.0" text-anchor="middle" fill="#1a1a1a" >1</text>
<text x="703.3" y="1281.6" font-size="33.0" text-anchor="middle" fill="#1a1a1a" >3</text>
<text x="776.7" y="1281.6" font-size="33.0" text-anchor="middle" fill="#1a1a1a" >5</text>
<text x="850.2" y="1281.6" font-size="33.0" text-anchor="middle" fill="#1a1a1a" >7</text>
<text transform="translate(318.37,1335.90) scale(1.095,1)" font-size="33.0" fill="#1a1a1a">Δ</text><text x="344.81" y="1335.90" font-size="33.0" fill="#1a1a1a" letter-spacing="0.7">(P-E)</text><text x="424.62" y="1350.90" font-size="27.0" fill="#1a1a1a">wet</text><text x="485.91" y="1335.90" font-size="33.0" fill="#1a1a1a">(10</text><text x="541.53" y="1319.40" font-size="27.0" fill="#1a1a1a">-2</text><text x="578.35" y="1335.90" font-size="33.0" fill="#1a1a1a">mm·day</text><text x="714.73" y="1319.40" font-size="27.0" fill="#1a1a1a">-1</text><text x="741.61" y="1335.90" font-size="33.0" fill="#1a1a1a">)</text>
<rect x="1237.10" y="1199.2" width="73.95" height="28.399999999999864" fill="#5a3714"/>
<rect x="1310.55" y="1199.2" width="73.95" height="28.399999999999864" fill="#8f571c"/>
<rect x="1384.01" y="1199.2" width="73.95" height="28.399999999999864" fill="#be8639"/>
<rect x="1457.46" y="1199.2" width="73.95" height="28.399999999999864" fill="#d8c37f"/>
<rect x="1530.92" y="1199.2" width="73.95" height="28.399999999999864" fill="#efe8c0"/>
<rect x="1604.37" y="1199.2" width="73.95" height="28.399999999999864" fill="#f5f5f5"/>
<rect x="1677.83" y="1199.2" width="73.95" height="28.399999999999864" fill="#c9efe4"/>
<rect x="1751.28" y="1199.2" width="73.95" height="28.399999999999864" fill="#8fdac6"/>
<rect x="1824.74" y="1199.2" width="73.95" height="28.399999999999864" fill="#54a594"/>
<rect x="1898.19" y="1199.2" width="73.95" height="28.399999999999864" fill="#32796a"/>
<rect x="1971.65" y="1199.2" width="73.95" height="28.399999999999864" fill="#1d4a38"/>
<rect x="1237.1" y="1199.2" width="808.0" height="28.399999999999864" fill="none" stroke="#1a1a1a" stroke-width="2.0"/>
<path d="M1310.6,1227.6v9.3M1384.0,1227.6v9.3M1457.5,1227.6v9.3M1530.9,1227.6v9.3M1604.4,1227.6v9.3M1677.8,1227.6v9.3M1751.3,1227.6v9.3M1824.7,1227.6v9.3M1898.2,1227.6v9.3M1971.6,1227.6v9.3" stroke="#1a1a1a" stroke-width="2.0" fill="none"/>
<text x="1299.6" y="1281.6" font-size="33.0" text-anchor="middle" fill="#1a1a1a" >-7</text>
<text x="1373.0" y="1281.6" font-size="33.0" text-anchor="middle" fill="#1a1a1a" >-5</text>
<text x="1446.5" y="1281.6" font-size="33.0" text-anchor="middle" fill="#1a1a1a" >-3</text>
<text x="1519.9" y="1281.6" font-size="33.0" text-anchor="middle" fill="#1a1a1a" >-1</text>
<text x="1604.4" y="1281.6" font-size="33.0" text-anchor="middle" fill="#1a1a1a" >-0.1</text>
<text x="1672.8" y="1281.6" font-size="33.0" text-anchor="middle" fill="#1a1a1a" >0.1</text>
<text x="1735.8" y="1281.6" font-size="33.0" text-anchor="middle" fill="#1a1a1a" >1</text>
<text x="1808.7" y="1281.6" font-size="33.0" text-anchor="middle" fill="#1a1a1a" >3</text>
<text x="1882.2" y="1281.6" font-size="33.0" text-anchor="middle" fill="#1a1a1a" >5</text>
<text x="1955.6" y="1281.6" font-size="33.0" text-anchor="middle" fill="#1a1a1a" >7</text>
<text transform="translate(1426.51,1335.90) scale(1.095,1)" font-size="33.0" fill="#1a1a1a">Δ</text><text x="1452.95" y="1335.90" font-size="33.0" fill="#1a1a1a" letter-spacing="0.7">(P-E)</text><text x="1532.40" y="1350.90" font-size="27.0" fill="#1a1a1a">dry</text><text x="1588.48" y="1335.90" font-size="33.0" fill="#1a1a1a">(10</text><text x="1644.09" y="1319.40" font-size="27.0" fill="#1a1a1a">-2</text><text x="1680.91" y="1335.90" font-size="33.0" fill="#1a1a1a">mm·day</text><text x="1817.29" y="1319.40" font-size="27.0" fill="#1a1a1a">-1</text><text x="1844.17" y="1335.90" font-size="33.0" fill="#1a1a1a">)</text>
<path d="M1354.5,333L1354.50,293.50A39.5,39.5 0 0 0 1318.76,349.82Z" fill="#d2b36c" stroke="#000" stroke-width="1.8" stroke-linejoin="round"/>
<path d="M1354.5,333L1318.76,349.82A39.5,39.5 0 1 0 1354.50,293.50Z" fill="#6dbfab" stroke="#000" stroke-width="1.8" stroke-linejoin="round"/>
<text x="1280.0" y="301.0" font-size="33" text-anchor="middle" fill="#000" >32%</text>
<text x="1428.0" y="396.5" font-size="33" text-anchor="middle" fill="#000" >68%</text>
<path d="M248.5,1010L248.50,970.50A39.5,39.5 0 0 0 213.89,1029.03Z" fill="#d2b36c" stroke="#000" stroke-width="1.8" stroke-linejoin="round"/>
<path d="M248.5,1010L213.89,1029.03A39.5,39.5 0 1 0 248.50,970.50Z" fill="#6dbfab" stroke="#000" stroke-width="1.8" stroke-linejoin="round"/>
<text x="174.0" y="979.0" font-size="33" text-anchor="middle" fill="#000" >33%</text>
<text x="322.0" y="1071.0" font-size="33" text-anchor="middle" fill="#000" >67%</text>
<path d="M1354.5,1010L1354.50,970.50A39.5,39.5 0 1 0 1375.67,1043.35Z" fill="#d2b36c" stroke="#000" stroke-width="1.8" stroke-linejoin="round"/>
<path d="M1354.5,1010L1375.67,1043.35A39.5,39.5 0 0 0 1354.50,970.50Z" fill="#6dbfab" stroke="#000" stroke-width="1.8" stroke-linejoin="round"/>
<text x="1275.0" y="1037.0" font-size="33" text-anchor="middle" fill="#000" >59%</text>
<text x="1432.0" y="1013.0" font-size="33" text-anchor="middle" fill="#000" >41%</text>
<path d="M248.5,1669L248.50,1629.50A39.5,39.5 0 0 0 215.15,1690.17Z" fill="#3e9178" stroke="#000" stroke-width="1.8" stroke-linejoin="round"/>
<path d="M248.5,1669L215.15,1690.17A39.5,39.5 0 0 0 225.28,1700.96Z" fill="#8cd9c4" stroke="#000" stroke-width="1.8" stroke-linejoin="round"/>
<path d="M248.5,1669L225.28,1700.96A39.5,39.5 0 0 0 283.11,1688.03Z" fill="#a66726" stroke="#000" stroke-width="1.8" stroke-linejoin="round"/>
<path d="M248.5,1669L283.11,1688.03A39.5,39.5 0 0 0 248.50,1629.50Z" fill="#d6c17a" stroke="#000" stroke-width="1.8" stroke-linejoin="round"/>
<text x="174.0" y="1637.3" font-size="33" text-anchor="middle" fill="#000" >34%</text>
<text x="323.0" y="1636.5" font-size="33" text-anchor="middle" fill="#000" >33%</text>
<text x="189.5" y="1737.2" font-size="33" text-anchor="middle" fill="#000" >6%</text>
<text x="257.5" y="1749.6" font-size="33" text-anchor="middle" fill="#000" >27%</text>
<rect x="982" y="1479.9" width="85" height="37.4" fill="#3e9178"/>
<text transform="translate(1086.32,1504.60) scale(1.095,1)" font-size="33.0" fill="#000">Δ</text><text x="1112.76" y="1504.60" font-size="33.0" fill="#000" letter-spacing="0.7">(P-E)</text>
<text x="1192.27" y="1524.30" font-size="27.0" fill="#000">wet</text>
<text x="1241.72" y="1504.60" font-size="33.0" fill="#000">&gt;</text>
<text x="1268.92" y="1504.60" font-size="33.0" fill="#000">0</text>
<text x="1301.12" y="1504.60" font-size="33.0" fill="#000" letter-spacing="0.3">and</text>
<text transform="translate(1375.62,1504.60) scale(1.095,1)" font-size="33.0" fill="#000">Δ</text><text x="1402.06" y="1504.60" font-size="33.0" fill="#000" letter-spacing="0.7">(P-E)</text>
<text x="1481.71" y="1524.30" font-size="27.0" fill="#000">dry</text>
<text x="1525.32" y="1504.60" font-size="33.0" fill="#000">&gt;</text>
<text x="1552.62" y="1504.60" font-size="33.0" fill="#000">0</text>
<rect x="982" y="1555.5" width="85" height="37.4" fill="#8cd9c4"/>
<text transform="translate(1086.32,1580.20) scale(1.095,1)" font-size="33.0" fill="#000">Δ</text><text x="1112.76" y="1580.20" font-size="33.0" fill="#000" letter-spacing="0.7">(P-E)</text>
<text x="1192.27" y="1599.90" font-size="27.0" fill="#000">wet</text>
<text x="1241.72" y="1580.20" font-size="33.0" fill="#000">&lt;</text>
<text x="1268.92" y="1580.20" font-size="33.0" fill="#000">0</text>
<text x="1301.12" y="1580.20" font-size="33.0" fill="#000" letter-spacing="0.3">and</text>
<text transform="translate(1375.62,1580.20) scale(1.095,1)" font-size="33.0" fill="#000">Δ</text><text x="1402.06" y="1580.20" font-size="33.0" fill="#000" letter-spacing="0.7">(P-E)</text>
<text x="1481.71" y="1599.90" font-size="27.0" fill="#000">dry</text>
<text x="1525.32" y="1580.20" font-size="33.0" fill="#000">&gt;</text>
<text x="1552.62" y="1580.20" font-size="33.0" fill="#000">0</text>
<rect x="982" y="1631.1" width="85" height="37.4" fill="#d6c17a"/>
<text transform="translate(1086.32,1655.80) scale(1.095,1)" font-size="33.0" fill="#000">Δ</text><text x="1112.76" y="1655.80" font-size="33.0" fill="#000" letter-spacing="0.7">(P-E)</text>
<text x="1192.27" y="1675.50" font-size="27.0" fill="#000">wet</text>
<text x="1241.72" y="1655.80" font-size="33.0" fill="#000">&gt;</text>
<text x="1268.92" y="1655.80" font-size="33.0" fill="#000">0</text>
<text x="1301.12" y="1655.80" font-size="33.0" fill="#000" letter-spacing="0.3">and</text>
<text transform="translate(1375.62,1655.80) scale(1.095,1)" font-size="33.0" fill="#000">Δ</text><text x="1402.06" y="1655.80" font-size="33.0" fill="#000" letter-spacing="0.7">(P-E)</text>
<text x="1481.71" y="1675.50" font-size="27.0" fill="#000">dry</text>
<text x="1525.32" y="1655.80" font-size="33.0" fill="#000">&lt;</text>
<text x="1552.62" y="1655.80" font-size="33.0" fill="#000">0</text>
<rect x="982" y="1706.7" width="85" height="37.4" fill="#a66726"/>
<text transform="translate(1086.32,1731.40) scale(1.095,1)" font-size="33.0" fill="#000">Δ</text><text x="1112.76" y="1731.40" font-size="33.0" fill="#000" letter-spacing="0.7">(P-E)</text>
<text x="1192.27" y="1751.10" font-size="27.0" fill="#000">wet</text>
<text x="1241.72" y="1731.40" font-size="33.0" fill="#000">&lt;</text>
<text x="1268.92" y="1731.40" font-size="33.0" fill="#000">0</text>
<text x="1301.12" y="1731.40" font-size="33.0" fill="#000" letter-spacing="0.3">and</text>
<text transform="translate(1375.62,1731.40) scale(1.095,1)" font-size="33.0" fill="#000">Δ</text><text x="1402.06" y="1731.40" font-size="33.0" fill="#000" letter-spacing="0.7">(P-E)</text>
<text x="1481.71" y="1751.10" font-size="27.0" fill="#000">dry</text>
<text x="1525.32" y="1731.40" font-size="33.0" fill="#000">&lt;</text>
<text x="1552.62" y="1731.40" font-size="33.0" fill="#000">0</text>
</svg></body></html>
